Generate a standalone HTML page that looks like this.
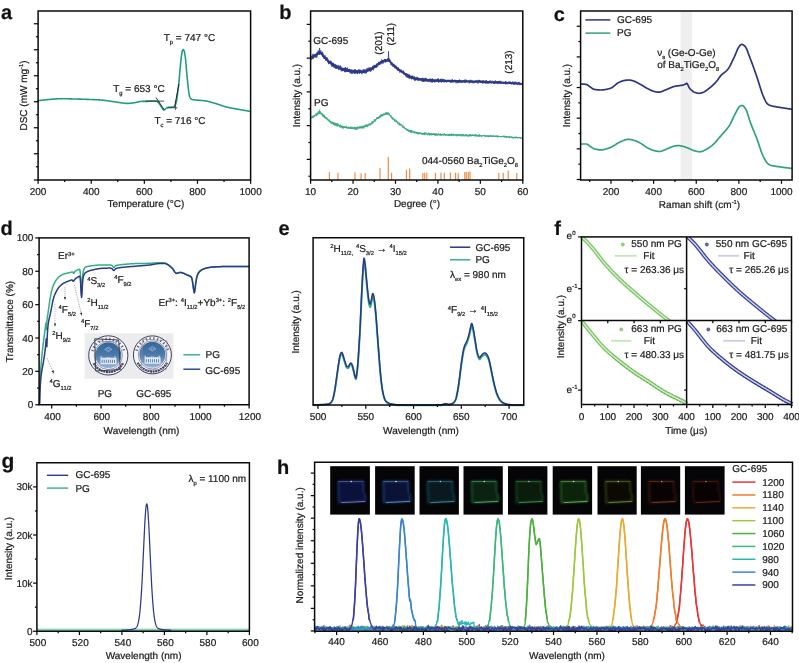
<!DOCTYPE html>
<html lang="en">
<head>
<meta charset="utf-8">
<title>Figure</title>
<style>
html,body{margin:0;padding:0;background:#ffffff;}
body{width:799px;height:663px;overflow:hidden;}
svg{display:block;font-family:"Liberation Sans",sans-serif;will-change:transform;}
svg text{font-family:"Liberation Sans",sans-serif;text-rendering:geometricPrecision;stroke:#1c1c1c;stroke-width:0.22px;}
</style>
</head>
<body>
<svg width="799" height="663" viewBox="0 0 799 663">
<rect x="0" y="0" width="799" height="663" fill="#ffffff"/>
<g>
<text x="1" y="18.8" font-size="20" text-anchor="start" fill="#141010" font-weight="bold" >a</text>
<polyline points="38.1,100.7 38.5,100.65 38.9,100.59 39.3,100.54 39.7,100.49 40.1,100.44 40.5,100.39 40.9,100.34 41.3,100.29 41.7,100.24 42.1,100.2 42.5,100.15 42.9,100.1 43.3,100.06 43.7,100.01 44.1,99.97 44.5,99.92 44.9,99.88 45.3,99.84 45.7,99.8 46.1,99.76 46.5,99.72 46.9,99.68 47.3,99.64 47.7,99.6 48.1,99.56 48.5,99.53 48.9,99.49 49.3,99.46 49.7,99.42 50.1,99.39 50.5,99.36 50.9,99.32 51.3,99.29 51.7,99.26 52.1,99.22 52.5,99.19 52.9,99.15 53.3,99.11 53.7,99.08 54.1,99.05 54.5,99.01 54.9,98.98 55.3,98.95 55.7,98.92 56.1,98.89 56.5,98.86 56.9,98.84 57.3,98.81 57.7,98.79 58.1,98.77 58.5,98.75 58.9,98.74 59.3,98.72 59.7,98.71 60.1,98.71 60.5,98.7 60.9,98.7 61.3,98.7 61.7,98.7 62.1,98.7 62.5,98.71 62.9,98.71 63.3,98.72 63.7,98.72 64.1,98.73 64.5,98.73 64.9,98.74 65.3,98.75 65.7,98.75 66.1,98.76 66.5,98.77 66.9,98.78 67.3,98.79 67.7,98.8 68.1,98.81 68.5,98.82 68.9,98.83 69.3,98.84 69.7,98.85 70.1,98.86 70.5,98.88 70.9,98.89 71.3,98.9 71.7,98.91 72.1,98.92 72.5,98.93 72.9,98.94 73.3,98.95 73.7,98.97 74.1,98.98 74.5,98.99 74.9,99 75.3,99.01 75.7,99.02 76.1,99.03 76.5,99.04 76.9,99.05 77.3,99.06 77.7,99.07 78.1,99.08 78.5,99.09 78.9,99.11 79.3,99.12 79.7,99.13 80.1,99.14 80.5,99.15 80.9,99.16 81.3,99.18 81.7,99.19 82.1,99.2 82.5,99.21 82.9,99.23 83.3,99.24 83.7,99.25 84.1,99.27 84.5,99.28 84.9,99.29 85.3,99.31 85.7,99.32 86.1,99.33 86.5,99.35 86.9,99.36 87.3,99.38 87.7,99.39 88.1,99.41 88.5,99.42 88.9,99.44 89.3,99.45 89.7,99.47 90.1,99.48 90.5,99.49 90.9,99.51 91.3,99.52 91.7,99.54 92.1,99.55 92.5,99.57 92.9,99.58 93.3,99.6 93.7,99.62 94.1,99.63 94.5,99.65 94.9,99.67 95.3,99.68 95.7,99.7 96.1,99.72 96.5,99.74 96.9,99.76 97.3,99.78 97.7,99.8 98.1,99.82 98.5,99.84 98.9,99.87 99.3,99.89 99.7,99.91 100.1,99.94 100.5,99.97 100.9,99.99 101.3,100.02 101.7,100.05 102.1,100.09 102.5,100.13 102.9,100.17 103.3,100.22 103.7,100.26 104.1,100.31 104.5,100.36 104.9,100.42 105.3,100.47 105.7,100.53 106.1,100.59 106.5,100.65 106.9,100.71 107.3,100.77 107.7,100.83 108.1,100.89 108.5,100.95 108.9,101.02 109.3,101.08 109.7,101.14 110.1,101.2 110.5,101.26 110.9,101.32 111.3,101.37 111.7,101.43 112.1,101.48 112.5,101.54 112.9,101.6 113.3,101.65 113.7,101.71 114.1,101.77 114.5,101.83 114.9,101.89 115.3,101.95 115.7,102 116.1,102.06 116.5,102.12 116.9,102.18 117.3,102.24 117.7,102.29 118.1,102.35 118.5,102.4 118.9,102.46 119.3,102.51 119.7,102.56 120.1,102.61 120.5,102.67 120.9,102.72 121.3,102.78 121.7,102.84 122.1,102.9 122.5,102.96 122.9,103.02 123.3,103.08 123.7,103.14 124.1,103.19 124.5,103.24 124.9,103.28 125.3,103.32 125.7,103.35 126.1,103.38 126.5,103.39 126.9,103.4 127.3,103.4 127.7,103.39 128.1,103.38 128.5,103.36 128.9,103.33 129.3,103.31 129.7,103.27 130.1,103.24 130.5,103.2 130.9,103.16 131.3,103.12 131.7,103.07 132.1,103.02 132.5,102.98 132.9,102.93 133.3,102.88 133.7,102.83 134.1,102.79 134.5,102.73 134.9,102.67 135.3,102.59 135.7,102.51 136.1,102.43 136.5,102.33 136.9,102.24 137.3,102.14 137.7,102.05 138.1,101.95 138.5,101.86 138.9,101.77 139.3,101.69 139.7,101.61 140.1,101.55 140.5,101.49 140.9,101.45 141.3,101.42 141.7,101.4 142.1,101.4 142.5,101.4 142.9,101.4 143.3,101.4 143.7,101.4 144.1,101.4 144.5,101.4 144.9,101.4 145.3,101.4 145.7,101.4 146.1,101.4 146.5,101.4 146.9,101.39 147.3,101.37 147.7,101.34 148.1,101.31 148.5,101.27 148.9,101.23 149.3,101.18 149.7,101.14 150.1,101.1 150.5,101.07 150.9,101.04 151.3,101.02 151.7,101 152.1,101 152.5,101 152.9,101 153.3,101.01 153.7,101.02 154.1,101.03 154.5,101.04 154.9,101.05 155.3,101.07 155.7,101.09 156.1,101.11 156.5,101.2 156.9,101.38 157.3,101.63 157.7,101.93 158.1,102.26 158.5,102.6 158.9,103.03 159.3,103.58 159.7,104.19 160.1,104.8 160.5,105.41 160.9,106.07 161.3,106.72 161.7,107.36 162.1,107.95 162.5,108.6 162.9,109.27 163.3,109.81 163.7,110.09 164.1,110.03 164.5,109.78 164.9,109.42 165.3,109.08 165.7,108.76 166.1,108.39 166.5,108.03 166.9,107.72 167.3,107.52 167.7,107.45 168.1,107.4 168.5,107.36 168.9,107.32 169.3,107.3 169.7,107.27 170.1,107.24 170.5,107.21 170.9,107.17 171.3,107.15 171.7,107.12 172.1,107.1 172.5,107.07 172.9,107.04 173.3,106.99 173.7,106.94 174.1,106.82 174.5,106.46 174.9,105.89 175.3,105.19 175.7,104.27 176.1,102.87 176.5,101.12 176.9,98.69 177.3,95.76 177.7,92.76 178.1,89.71 178.5,86.42 178.9,82.71 179.3,78.22 179.7,73.41 180.1,68.92 180.5,64.57 180.9,60.45 181.3,57 181.7,54.07 182.1,51.72 182.5,50.5 182.9,49.72 183.3,49.52 183.7,49.96 184.1,50.77 184.5,52.04 184.9,54.24 185.3,57 185.7,60.7 186.1,65.37 186.5,70 186.9,74.35 187.3,78.69 187.7,82.76 188.1,86.45 188.5,89.85 188.9,92.64 189.3,95.04 189.7,96.7 190.1,97.62 190.5,98.27 190.9,98.69 191.3,99 191.7,99.25 192.1,99.45 192.5,99.58 192.9,99.66 193.3,99.73 193.7,99.79 194.1,99.85 194.5,99.89 194.9,99.94 195.3,99.97 195.7,100.01 196.1,100.04 196.5,100.07 196.9,100.1 197.3,100.14 197.7,100.17 198.1,100.21 198.5,100.25 198.9,100.28 199.3,100.32 199.7,100.35 200.1,100.38 200.5,100.41 200.9,100.44 201.3,100.47 201.7,100.5 202.1,100.53 202.5,100.56 202.9,100.6 203.3,100.64 203.7,100.68 204.1,100.72 204.5,100.76 204.9,100.81 205.3,100.87 205.7,100.93 206.1,101 206.5,101.07 206.9,101.15 207.3,101.23 207.7,101.32 208.1,101.41 208.5,101.51 208.9,101.61 209.3,101.71 209.7,101.82 210.1,101.93 210.5,102.04 210.9,102.15 211.3,102.26 211.7,102.38 212.1,102.49 212.5,102.61 212.9,102.72 213.3,102.84 213.7,102.95 214.1,103.06 214.5,103.17 214.9,103.28 215.3,103.4 215.7,103.52 216.1,103.64 216.5,103.76 216.9,103.89 217.3,104.02 217.7,104.15 218.1,104.28 218.5,104.42 218.9,104.56 219.3,104.69 219.7,104.83 220.1,104.97 220.5,105.11 220.9,105.25 221.3,105.39 221.7,105.52 222.1,105.66 222.5,105.8 222.9,105.93 223.3,106.06 223.7,106.19 224.1,106.32 224.5,106.45 224.9,106.57 225.3,106.69 225.7,106.81 226.1,106.92 226.5,107.03 226.9,107.13 227.3,107.23 227.7,107.32 228.1,107.41 228.5,107.5 228.9,107.59 229.3,107.68 229.7,107.76 230.1,107.84 230.5,107.92 230.9,108 231.3,108.08 231.7,108.16 232.1,108.23 232.5,108.3 232.9,108.38 233.3,108.45 233.7,108.52 234.1,108.59 234.5,108.66 234.9,108.73 235.3,108.79 235.7,108.86 236.1,108.93 236.5,109 236.9,109.06 237.3,109.13 237.7,109.2 238.1,109.27 238.5,109.33 238.9,109.4 239.3,109.47 239.7,109.54 240.1,109.61 240.5,109.68 240.9,109.75 241.3,109.82 241.7,109.9 242.1,109.97 242.5,110.04 242.9,110.11 243.3,110.18 243.7,110.25 244.1,110.32 244.5,110.39 244.9,110.46 245.3,110.53 245.7,110.6 246.1,110.67 246.5,110.74 246.9,110.8 247.3,110.87 247.7,110.94 248.1,111.01 248.5,111.08 248.9,111.15 249.3,111.21 249.7,111.28 250.1,111.35" fill="none" stroke="#1f9f7f" stroke-width="1.6" stroke-linejoin="round" stroke-linecap="round" />
<line x1="145.5" y1="101.1" x2="164.2" y2="101.1" stroke="#222" stroke-width="0.8" />
<line x1="156" y1="97.5" x2="164.2" y2="109.7" stroke="#222" stroke-width="0.9" />
<line x1="167.4" y1="107.8" x2="177.4" y2="107.8" stroke="#222" stroke-width="0.8" />
<line x1="175.6" y1="105.6" x2="175.6" y2="110" stroke="#222" stroke-width="0.7" />
<line x1="174.7" y1="106.5" x2="178.9" y2="84" stroke="#222" stroke-width="1.0" />
<rect x="38.1" y="11" width="212.5" height="169" fill="none" stroke="#0a0a0a" stroke-width="1.5"/>
<line x1="33.9" y1="23.75" x2="38.1" y2="23.75" stroke="#0a0a0a" stroke-width="1.25" />
<line x1="33.9" y1="49.75" x2="38.1" y2="49.75" stroke="#0a0a0a" stroke-width="1.25" />
<line x1="33.9" y1="75.75" x2="38.1" y2="75.75" stroke="#0a0a0a" stroke-width="1.25" />
<line x1="33.9" y1="101.75" x2="38.1" y2="101.75" stroke="#0a0a0a" stroke-width="1.25" />
<line x1="33.9" y1="127.75" x2="38.1" y2="127.75" stroke="#0a0a0a" stroke-width="1.25" />
<line x1="33.9" y1="153.75" x2="38.1" y2="153.75" stroke="#0a0a0a" stroke-width="1.25" />
<line x1="33.9" y1="180" x2="38.1" y2="180" stroke="#0a0a0a" stroke-width="1.25" />
<line x1="35.9" y1="36.75" x2="38.1" y2="36.75" stroke="#0a0a0a" stroke-width="1.25" />
<line x1="35.9" y1="62.75" x2="38.1" y2="62.75" stroke="#0a0a0a" stroke-width="1.25" />
<line x1="35.9" y1="88.75" x2="38.1" y2="88.75" stroke="#0a0a0a" stroke-width="1.25" />
<line x1="35.9" y1="114.75" x2="38.1" y2="114.75" stroke="#0a0a0a" stroke-width="1.25" />
<line x1="35.9" y1="140.75" x2="38.1" y2="140.75" stroke="#0a0a0a" stroke-width="1.25" />
<line x1="35.9" y1="166.75" x2="38.1" y2="166.75" stroke="#0a0a0a" stroke-width="1.25" />
<line x1="38.1" y1="180" x2="38.1" y2="183.8" stroke="#0a0a0a" stroke-width="1.25" />
<line x1="91.22" y1="180" x2="91.22" y2="183.8" stroke="#0a0a0a" stroke-width="1.25" />
<line x1="144.35" y1="180" x2="144.35" y2="183.8" stroke="#0a0a0a" stroke-width="1.25" />
<line x1="197.47" y1="180" x2="197.47" y2="183.8" stroke="#0a0a0a" stroke-width="1.25" />
<line x1="250.6" y1="180" x2="250.6" y2="183.8" stroke="#0a0a0a" stroke-width="1.25" />
<line x1="64.66" y1="180" x2="64.66" y2="182" stroke="#0a0a0a" stroke-width="1.25" />
<line x1="117.79" y1="180" x2="117.79" y2="182" stroke="#0a0a0a" stroke-width="1.25" />
<line x1="170.91" y1="180" x2="170.91" y2="182" stroke="#0a0a0a" stroke-width="1.25" />
<line x1="224.04" y1="180" x2="224.04" y2="182" stroke="#0a0a0a" stroke-width="1.25" />
<text x="38.1" y="194.7" font-size="10.0" text-anchor="middle" fill="#1c1c1c" >200</text>
<text x="91.22" y="194.7" font-size="10.0" text-anchor="middle" fill="#1c1c1c" >400</text>
<text x="144.35" y="194.7" font-size="10.0" text-anchor="middle" fill="#1c1c1c" >600</text>
<text x="197.47" y="194.7" font-size="10.0" text-anchor="middle" fill="#1c1c1c" >800</text>
<text x="250.6" y="194.7" font-size="10.0" text-anchor="middle" fill="#1c1c1c" >1000</text>
<text x="146" y="207.3" font-size="10.0" text-anchor="middle" fill="#1c1c1c" >Temperature (°C)</text>
<text x="26.6" y="95.5" font-size="10.0" text-anchor="middle" fill="#1c1c1c" transform="rotate(-90 26.6 95.5)" >DSC (mW mg<tspan font-size="5.8" dy="-3.8">-1</tspan><tspan dy="3.8" font-size="1">&#8203;</tspan>)</text>
<text x="113.2" y="91.9" font-size="10.0" text-anchor="start" fill="#1c1c1c" >T<tspan font-size="5.8" dy="3">g</tspan><tspan dy="-3" font-size="1">&#8203;</tspan> = 653 °C</text>
<text x="163.7" y="41.1" font-size="10.0" text-anchor="start" fill="#1c1c1c" >T<tspan font-size="5.8" dy="3">p</tspan><tspan dy="-3" font-size="1">&#8203;</tspan> = 747 °C</text>
<text x="154.4" y="124.4" font-size="10.0" text-anchor="start" fill="#1c1c1c" >T<tspan font-size="5.8" dy="3">c</tspan><tspan dy="-3" font-size="1">&#8203;</tspan> = 716 °C</text>
</g>
<g>
<text x="279.2" y="18.8" font-size="20" text-anchor="start" fill="#141010" font-weight="bold" >b</text>
<line x1="329.4" y1="180" x2="329.4" y2="172.2" stroke="#e98a45" stroke-width="1.15" />
<line x1="338" y1="180" x2="338" y2="172.7" stroke="#e98a45" stroke-width="1.15" />
<line x1="355" y1="180" x2="355" y2="172.2" stroke="#e98a45" stroke-width="1.15" />
<line x1="361.1" y1="180" x2="361.1" y2="173.3" stroke="#e98a45" stroke-width="1.15" />
<line x1="365.2" y1="180" x2="365.2" y2="173" stroke="#e98a45" stroke-width="1.15" />
<line x1="380" y1="180" x2="380" y2="168.1" stroke="#e98a45" stroke-width="1.15" />
<line x1="388.3" y1="180" x2="388.3" y2="156.7" stroke="#e98a45" stroke-width="1.15" />
<line x1="391.6" y1="180" x2="391.6" y2="172.7" stroke="#e98a45" stroke-width="1.15" />
<line x1="406.4" y1="180" x2="406.4" y2="169.7" stroke="#e98a45" stroke-width="1.15" />
<line x1="409.7" y1="180" x2="409.7" y2="168.6" stroke="#e98a45" stroke-width="1.15" />
<line x1="422.9" y1="180" x2="422.9" y2="173" stroke="#e98a45" stroke-width="1.15" />
<line x1="424.7" y1="180" x2="424.7" y2="173" stroke="#e98a45" stroke-width="1.15" />
<line x1="426.8" y1="180" x2="426.8" y2="172.7" stroke="#e98a45" stroke-width="1.15" />
<line x1="435.4" y1="180" x2="435.4" y2="172.7" stroke="#e98a45" stroke-width="1.15" />
<line x1="441" y1="180" x2="441" y2="172.5" stroke="#e98a45" stroke-width="1.15" />
<line x1="444.3" y1="180" x2="444.3" y2="172.7" stroke="#e98a45" stroke-width="1.15" />
<line x1="450.4" y1="180" x2="450.4" y2="172.2" stroke="#e98a45" stroke-width="1.15" />
<line x1="455.6" y1="180" x2="455.6" y2="172.7" stroke="#e98a45" stroke-width="1.15" />
<line x1="458.2" y1="180" x2="458.2" y2="173" stroke="#e98a45" stroke-width="1.15" />
<line x1="464.8" y1="180" x2="464.8" y2="171.9" stroke="#e98a45" stroke-width="1.15" />
<line x1="466.3" y1="180" x2="466.3" y2="172" stroke="#e98a45" stroke-width="1.15" />
<line x1="468.3" y1="180" x2="468.3" y2="171.9" stroke="#e98a45" stroke-width="1.15" />
<line x1="470" y1="180" x2="470" y2="171.4" stroke="#e98a45" stroke-width="1.15" />
<line x1="498.8" y1="180" x2="498.8" y2="173" stroke="#e98a45" stroke-width="1.15" />
<line x1="503.2" y1="180" x2="503.2" y2="172.7" stroke="#e98a45" stroke-width="1.15" />
<line x1="508.2" y1="180" x2="508.2" y2="170.5" stroke="#e98a45" stroke-width="1.15" />
<line x1="516.8" y1="180" x2="516.8" y2="173" stroke="#e98a45" stroke-width="1.15" />
<polygon points="311.2,56 311.8,55.73 312.4,55.44 313,55.13 313.6,54.81 314.2,54.48 314.8,54.13 315.4,53.77 316,53.37 316.6,52.96 317.2,52.53 317.8,52.11 318.4,51.67 319,51.12 319.6,50.83 320.2,51.09 320.8,51.65 321.4,52.21 322,52.78 322.6,53.41 323.2,54.08 323.8,54.77 324.4,55.47 325,56.16 325.6,56.83 326.2,57.45 326.8,58.05 327.4,58.65 328,59.24 328.6,59.82 329.2,60.38 329.8,60.91 330.4,61.41 331,61.87 331.6,62.29 332.2,62.71 332.8,63.11 333.4,63.49 334,63.86 334.6,64.21 335.2,64.55 335.8,64.87 336.4,65.17 337,65.46 337.6,65.73 338.2,65.99 338.8,66.24 339.4,66.49 340,66.73 340.6,66.96 341.2,67.18 341.8,67.39 342.4,67.58 343,67.77 343.6,67.95 344.2,68.11 344.8,68.26 345.4,68.41 346,68.54 346.6,68.68 347.2,68.81 347.8,68.93 348.4,69.06 349,69.17 349.6,69.28 350.2,69.39 350.8,69.48 351.4,69.57 352,69.65 352.6,69.73 353.2,69.79 353.8,69.84 354.4,69.89 355,69.93 355.6,69.98 356.2,70.02 356.8,70.06 357.4,70.1 358,70.14 358.6,70.17 359.2,70.2 359.8,70.22 360.4,70.24 361,70.26 361.6,70.27 362.2,70.27 362.8,70.24 363.4,70.18 364,70.09 364.6,69.98 365.2,69.84 365.8,69.68 366.4,69.5 367,69.31 367.6,69.11 368.2,68.89 368.8,68.68 369.4,68.45 370,68.23 370.6,68 371.2,67.72 371.8,67.4 372.4,67.05 373,66.68 373.6,66.29 374.2,65.88 374.8,65.46 375.4,65.04 376,64.62 376.6,64.22 377.2,63.79 377.8,63.31 378.4,62.81 379,62.31 379.6,61.82 380.2,61.37 380.8,60.98 381.4,60.68 382,60.43 382.6,60.21 383.2,60 383.8,59.81 384.4,59.64 385,59.5 385.6,59.37 386.2,59.28 386.8,59.2 387.4,59.13 388,59.08 388.6,59.06 389.2,59.32 389.8,59.96 390.4,60.77 391,61.55 391.6,62.16 392.2,62.76 392.8,63.36 393.4,63.95 394,64.52 394.6,65.08 395.2,65.61 395.8,66.12 396.4,66.6 397,67.05 397.6,67.48 398.2,67.9 398.8,68.3 399.4,68.7 400,69.09 400.6,69.48 401.2,69.87 401.8,70.26 402.4,70.67 403,71.08 403.6,71.52 404.2,71.98 404.8,72.43 405.4,72.89 406,73.32 406.6,73.74 407.2,74.12 407.8,74.47 408.4,74.77 409,75.06 409.6,75.34 410.2,75.62 410.8,75.88 411.4,76.13 412,76.38 412.6,76.61 413.2,76.82 413.8,77.02 414.4,77.2 415,77.37 415.6,77.51 416.2,77.63 416.8,77.74 417.4,77.83 418,77.93 418.6,78.01 419.2,78.09 419.8,78.17 420.4,78.24 421,78.3 421.6,78.36 422.2,78.42 422.8,78.48 423.4,78.54 424,78.59 424.6,78.64 425.2,78.7 425.8,78.75 426.4,78.8 427,78.84 427.6,78.89 428.2,78.94 428.8,78.98 429.4,79.02 430,79.06 430.6,79.1 431.2,79.13 431.8,79.17 432.4,79.2 433,79.23 433.6,79.26 434.2,79.28 434.8,79.31 435.4,79.34 436,79.36 436.6,79.39 437.2,79.41 437.8,79.44 438.4,79.46 439,79.49 439.6,79.51 440.2,79.53 440.8,79.55 441.4,79.57 442,79.6 442.6,79.62 443.2,79.64 443.8,79.66 444.4,79.68 445,79.7 445.6,79.72 446.2,79.74 446.8,79.76 447.4,79.77 448,79.79 448.6,79.81 449.2,79.83 449.8,79.85 450.4,79.86 451,79.88 451.6,79.9 452.2,79.92 452.8,79.94 453.4,79.95 454,79.97 454.6,79.99 455.2,80.01 455.8,80.02 456.4,80.04 457,80.06 457.6,80.08 458.2,80.09 458.8,80.11 459.4,80.13 460,80.15 460.6,80.17 461.2,80.18 461.8,80.2 462.4,80.22 463,80.24 463.6,80.26 464.2,80.28 464.8,80.3 465.4,80.32 466,80.34 466.6,80.36 467.2,80.38 467.8,80.4 468.4,80.42 469,80.44 469.6,80.46 470.2,80.48 470.8,80.5 471.4,80.52 472,80.53 472.6,80.55 473.2,80.57 473.8,80.59 474.4,80.61 475,80.63 475.6,80.65 476.2,80.66 476.8,80.68 477.4,80.7 478,80.72 478.6,80.74 479.2,80.76 479.8,80.78 480.4,80.8 481,80.81 481.6,80.83 482.2,80.85 482.8,80.87 483.4,80.89 484,80.91 484.6,80.93 485.2,80.95 485.8,80.97 486.4,80.99 487,81.01 487.6,81.03 488.2,81.05 488.8,81.07 489.4,81.09 490,81.12 490.6,81.14 491.2,81.16 491.8,81.18 492.4,81.21 493,81.23 493.6,81.25 494.2,81.28 494.8,81.3 495.4,81.33 496,81.35 496.6,81.38 497.2,81.4 497.8,81.43 498.4,81.45 499,81.48 499.6,81.51 500.2,81.54 500.8,81.57 501.4,81.6 502,81.63 502.6,81.66 503.2,81.69 503.8,81.72 504.4,81.75 505,81.79 505.6,81.82 506.2,81.85 506.8,81.89 507.4,81.92 508,81.96 508.6,82 509.2,82.03 509.8,82.07 510.4,82.11 511,82.14 511.6,82.18 512.2,82.22 512.8,82.26 513.4,82.3 514,82.34 514.6,82.38 515.2,82.41 515.8,82.46 516.4,82.5 517,82.54 517.6,82.58 518.2,82.62 518.8,82.66 519.4,82.7 520,82.74 520.6,82.79 521.2,82.83 521.8,82.87 522.1,84.69 521.5,84.65 520.9,84.62 520.3,84.58 519.7,84.54 519.1,84.5 518.5,84.46 517.9,84.43 517.3,84.39 516.7,84.35 516.1,84.32 515.5,84.28 514.9,84.24 514.3,84.21 513.7,84.17 513.1,84.14 512.5,84.1 511.9,84.07 511.3,84.03 510.7,84 510.1,83.97 509.5,83.93 508.9,83.9 508.3,83.87 507.7,83.84 507.1,83.81 506.5,83.78 505.9,83.75 505.3,83.72 504.7,83.69 504.1,83.66 503.5,83.63 502.9,83.6 502.3,83.57 501.7,83.55 501.1,83.52 500.5,83.5 499.9,83.47 499.3,83.45 498.7,83.42 498.1,83.4 497.5,83.38 496.9,83.36 496.3,83.33 495.7,83.31 495.1,83.29 494.5,83.27 493.9,83.25 493.3,83.23 492.7,83.21 492.1,83.19 491.5,83.17 490.9,83.16 490.3,83.14 489.7,83.12 489.1,83.1 488.5,83.09 487.9,83.07 487.3,83.05 486.7,83.04 486.1,83.02 485.5,83 484.9,82.99 484.3,82.97 483.7,82.96 483.1,82.94 482.5,82.92 481.9,82.91 481.3,82.89 480.7,82.88 480.1,82.86 479.5,82.85 478.9,82.83 478.3,82.82 477.7,82.81 477.1,82.79 476.5,82.78 475.9,82.76 475.3,82.75 474.7,82.73 474.1,82.72 473.5,82.7 472.9,82.69 472.3,82.67 471.7,82.66 471.1,82.64 470.5,82.63 469.9,82.61 469.3,82.6 468.7,82.58 468.1,82.57 467.5,82.55 466.9,82.54 466.3,82.52 465.7,82.51 465.1,82.49 464.5,82.47 463.9,82.46 463.3,82.44 462.7,82.43 462.1,82.41 461.5,82.4 460.9,82.38 460.3,82.37 459.7,82.35 459.1,82.34 458.5,82.32 457.9,82.31 457.3,82.3 456.7,82.28 456.1,82.27 455.5,82.26 454.9,82.24 454.3,82.23 453.7,82.22 453.1,82.2 452.5,82.19 451.9,82.18 451.3,82.16 450.7,82.15 450.1,82.13 449.5,82.12 448.9,82.11 448.3,82.09 447.7,82.08 447.1,82.06 446.5,82.05 445.9,82.03 445.3,82.02 444.7,82 444.1,81.99 443.5,81.97 442.9,81.95 442.3,81.94 441.7,81.92 441.1,81.9 440.5,81.88 439.9,81.87 439.3,81.85 438.7,81.83 438.1,81.81 437.5,81.79 436.9,81.77 436.3,81.75 435.7,81.72 435.1,81.7 434.5,81.68 433.9,81.65 433.3,81.63 432.7,81.61 432.1,81.58 431.5,81.55 430.9,81.52 430.3,81.49 429.7,81.45 429.1,81.42 428.5,81.38 427.9,81.34 427.3,81.3 426.7,81.25 426.1,81.21 425.5,81.16 424.9,81.11 424.3,81.07 423.7,81.02 423.1,80.97 422.5,80.91 421.9,80.86 421.3,80.8 420.7,80.74 420.1,80.68 419.5,80.61 418.9,80.54 418.3,80.46 417.7,80.37 417.1,80.28 416.5,80.19 415.9,80.08 415.3,79.95 414.7,79.8 414.1,79.63 413.5,79.44 412.9,79.24 412.3,79.02 411.7,78.79 411.1,78.55 410.5,78.29 409.9,78.02 409.3,77.75 408.7,77.47 408.1,77.18 407.5,76.86 406.9,76.5 406.3,76.1 405.7,75.68 405.1,75.24 404.5,74.79 403.9,74.33 403.3,73.89 402.7,73.47 402.1,73.06 401.5,72.66 400.9,72.28 400.3,71.89 399.7,71.51 399.1,71.12 398.5,70.72 397.9,70.32 397.3,69.9 396.7,69.46 396.1,69 395.5,68.51 394.9,67.99 394.3,67.45 393.7,66.89 393.1,66.31 392.5,65.72 391.9,65.13 391.3,64.53 390.7,63.85 390.1,63.03 389.5,62.28 388.9,61.81 388.3,61.75 387.7,61.79 387.1,61.86 386.5,61.94 385.9,62.03 385.3,62.14 384.7,62.28 384.1,62.44 383.5,62.63 382.9,62.83 382.3,63.05 381.7,63.28 381.1,63.55 380.5,63.91 379.9,64.33 379.3,64.81 378.7,65.31 378.1,65.82 377.5,66.31 376.9,66.77 376.3,67.19 375.7,67.6 375.1,68.03 374.5,68.45 373.9,68.87 373.3,69.27 372.7,69.66 372.1,70.03 371.5,70.36 370.9,70.67 370.3,70.93 369.7,71.15 369.1,71.38 368.5,71.6 367.9,71.82 367.3,72.04 366.7,72.24 366.1,72.43 365.5,72.6 364.9,72.75 364.3,72.89 363.7,72.99 363.1,73.07 362.5,73.12 361.9,73.13 361.3,73.13 360.7,73.12 360.1,73.11 359.5,73.09 358.9,73.07 358.3,73.04 357.7,73.01 357.1,72.98 356.5,72.94 355.9,72.9 355.3,72.86 354.7,72.82 354.1,72.78 353.5,72.74 352.9,72.68 352.3,72.62 351.7,72.55 351.1,72.47 350.5,72.38 349.9,72.28 349.3,72.18 348.7,72.07 348.1,71.95 347.5,71.83 346.9,71.71 346.3,71.58 345.7,71.45 345.1,71.31 344.5,71.17 343.9,71.02 343.3,70.85 342.7,70.67 342.1,70.48 341.5,70.28 340.9,70.07 340.3,69.85 339.7,69.62 339.1,69.38 338.5,69.14 337.9,68.89 337.3,68.62 336.7,68.35 336.1,68.06 335.5,67.75 334.9,67.42 334.3,67.08 333.7,66.73 333.1,66.35 332.5,65.97 331.9,65.56 331.3,65.15 330.7,64.71 330.1,64.24 329.5,63.73 328.9,63.18 328.3,62.62 327.7,62.04 327.1,61.44 326.5,60.85 325.9,60.25 325.3,59.61 324.7,58.93 324.1,58.24 323.5,57.55 322.9,56.87 322.3,56.22 321.7,55.62 321.1,55.08 320.5,54.49 319.9,54.04 319.3,54.06 318.7,54.54 318.1,55.05 317.5,55.48 316.9,55.91 316.3,56.33 315.7,56.74 315.1,57.13 314.5,57.48 313.9,57.83 313.3,58.16 312.7,58.48 312.1,58.78 311.5,59.06" fill="#2f3a86"/>
<polyline points="311.2,58.35 311.5,59.85 311.8,58.98 312.1,55.54 312.4,55.84 312.7,59.12 313,53.77 313.3,58.49 313.6,58.18 313.9,56.05 314.2,54.89 314.5,54.57 314.8,54.26 315.1,55.21 315.4,55.38 315.7,55.48 316,57.9 316.3,56.49 316.6,55.27 316.9,57.23 317.2,52.43 317.5,51.89 317.8,54.35 318.1,50.77 318.4,50.5 318.7,53.05 319,52.49 319.3,54.94 319.6,53.16 319.9,52.55 320.2,52.64 320.5,51.44 320.8,50.35 321.1,51.7 321.4,54.9 321.7,52.3 322,53.58 322.3,51.75 322.6,56.91 322.9,53.28 323.2,54.28 323.5,58.21 323.8,56.39 324.1,58.71 324.4,57.85 324.7,58.79 325,55.34 325.3,58.29 325.6,58.42 325.9,60.86 326.2,58.19 326.5,59.87 326.8,57.04 327.1,59.24 327.4,59.17 327.7,58.46 328,62.62 328.3,60.38 328.6,64.13 328.9,62.16 329.2,62.53 329.5,62.98 329.8,63.47 330.1,60.69 330.4,62.6 330.7,61.68 331,62.84 331.3,61.29 331.6,66.52 331.9,62.4 332.2,65.22 332.5,63.29 332.8,66.78 333.1,65.76 333.4,62.91 333.7,67.18 334,67.93 334.3,67.87 334.6,66.13 334.9,63.88 335.2,64.31 335.5,68.67 335.8,66.69 336.1,64.72 336.4,68.87 336.7,67.64 337,67.37 337.3,66.41 337.6,66.74 337.9,65.9 338.2,64.88 338.5,69.76 338.8,67.57 339.1,68.15 339.4,66.99 339.7,69.54 340,65.55 340.3,67.63 340.6,65.81 340.9,66.44 341.2,71.31 341.5,69.67 341.8,68.48 342.1,69.12 342.4,71.17 342.7,68.3 343,69.77 343.3,70.39 343.6,68.63 343.9,69.63 344.2,71.09 344.5,71.97 344.8,67.8 345.1,72.24 345.4,67.13 345.7,71.37 346,71.76 346.3,68.07 346.6,69.71 346.9,71.98 347.2,67.59 347.5,71.06 347.8,72.04 348.1,70.55 348.4,71.78 348.7,69.08 349,68.98 349.3,69.95 349.6,68.98 349.9,69.96 350.2,73.33 350.5,71.31 350.8,70.07 351.1,69.74 351.4,73.53 351.7,70.78 352,73.76 352.3,71.24 352.6,71.31 352.9,73.4 353.2,72.58 353.5,71.72 353.8,70.9 354.1,73.39 354.4,70.86 354.7,73.68 355,69.03 355.3,71.03 355.6,71.54 355.9,73.91 356.2,70.12 356.5,73.16 356.8,72.47 357.1,72.71 357.4,72.25 357.7,74.13 358,70.68 358.3,71.05 358.6,70 358.9,69.2 359.2,70.09 359.5,73.9 359.8,73.5 360.1,69.58 360.4,72.24 360.7,71.57 361,72.2 361.3,72.55 361.6,70.66 361.9,74.18 362.2,71.51 362.5,72.38 362.8,72.39 363.1,69.95 363.4,69.26 363.7,71.09 364,72.93 364.3,73.15 364.6,72.63 364.9,69.27 365.2,73.46 365.5,72.79 365.8,73.11 366.1,71.13 366.4,73.13 366.7,68.41 367,68.23 367.3,68.08 367.6,69.21 367.9,69.08 368.2,68.65 368.5,70.55 368.8,67.65 369.1,70.45 369.4,68.1 369.7,70.69 370,67.11 370.3,68.52 370.6,71.71 370.9,69.47 371.2,70.76 371.5,69.79 371.8,69.38 372.1,67.01 372.4,68.84 372.7,65.85 373,69.65 373.3,70.29 373.6,69.53 373.9,65.13 374.2,66.43 374.5,66.11 374.8,64.83 375.1,67.3 375.4,67.98 375.7,65.25 376,67.9 376.3,67.35 376.6,63.67 376.9,66.78 377.2,67.15 377.5,63.36 377.8,65.07 378.1,65.16 378.4,64.75 378.7,61.85 379,64.51 379.3,64.12 379.6,64.86 379.9,64.53 380.2,61.85 380.5,63.68 380.8,64.24 381.1,64.21 381.4,60.3 381.7,59.49 382,62.57 382.3,60.22 382.6,61.9 382.9,63.74 383.2,60.75 383.5,60 383.8,60.95 384.1,61.89 384.4,58.97 384.7,60.32 385,58.99 385.3,61.61 385.6,62.41 385.9,60.05 386.2,59.98 386.5,60.79 386.8,59.1 387.1,59.23 387.4,59.61 387.7,60.23 388,58.31 388.3,61.68 388.6,60.8 388.9,59.46 389.2,58.53 389.5,62.27 389.8,59.44 390.1,59.85 390.4,60.26 390.7,60.41 391,64.92 391.3,62.04 391.6,62.53 391.9,65.46 392.2,64.69 392.5,62.83 392.8,64.36 393.1,66.9 393.4,64.65 393.7,66.61 394,63.84 394.3,67.26 394.6,67.78 394.9,68.29 395.2,67.8 395.5,66.55 395.8,65.28 396.1,67.77 396.4,69.19 396.7,66.61 397,67.21 397.3,68.76 397.6,70.02 397.9,70.96 398.2,67.37 398.5,67.86 398.8,71.09 399.1,70.52 399.4,71.09 399.7,72.64 400,72.55 400.3,72.27 400.6,72.14 400.9,70.46 401.2,71.86 401.5,69.82 401.8,72.83 402.1,73.02 402.4,73.04 402.7,71.9 403,71.79 403.3,72.21 403.6,70.55 403.9,74.71 404.2,73.47 404.5,72.95 404.8,73.96 405.1,75.02 405.4,73.6 405.7,75.99 406,76.64 406.3,74.28 406.6,73.28 406.9,76.47 407.2,77.78 407.5,73.89 407.8,76.77 408.1,77.46 408.4,78.07 408.7,74.38 409,74.38 409.3,78.81 409.6,74.78 409.9,75.21 410.2,77.24 410.5,76.76 410.8,78.34 411.1,75.8 411.4,79.38 411.7,76.18 412,78.92 412.3,75.7 412.6,77.74 412.9,75.76 413.2,77.2 413.5,77.29 413.8,79.32 414.1,78.16 414.4,76.36 414.7,80.88 415,80.46 415.3,80.66 415.6,77.57 415.9,78.33 416.2,77.6 416.5,77.17 416.8,76.79 417.1,79.05 417.4,77.31 417.7,77.61 418,80.86 418.3,79.14 418.6,77.78 418.9,80.09 419.2,78.24 419.5,79.49 419.8,78.39 420.1,79.51 420.4,80.07 420.7,79.67 421,79.05 421.3,80.92 421.6,81.33 421.9,78.14 422.2,77.97 422.5,77.89 422.8,81.93 423.1,81.78 423.4,78.52 423.7,81.96 424,78.47 424.3,79.87 424.6,79.85 424.9,81.8 425.2,77.81 425.5,79.09 425.8,80.42 426.1,78 426.4,78.81 426.7,79.88 427,81.8 427.3,81.27 427.6,81.61 427.9,81.32 428.2,81.09 428.5,81.76 428.8,81.02 429.1,81.28 429.4,79.33 429.7,78.74 430,81.43 430.3,78.77 430.6,82.2 430.9,80.76 431.2,79.56 431.5,82.32 431.8,78.81 432.1,80.45 432.4,78.56 432.7,82.5 433,80.76 433.3,81.8 433.6,79.47 433.9,81.82 434.2,81.38 434.5,81.13 434.8,82.52 435.1,80.21 435.4,80.15 435.7,81.39 436,82.04 436.3,79.83 436.6,81.33 436.9,79.29 437.2,80.83 437.5,81.8 437.8,78.69 438.1,81.64 438.4,78.49 438.7,82.68 439,80.52 439.3,80.27 439.6,81.66 439.9,80.8 440.2,81.72 440.5,78.88 440.8,81 441.1,80.99 441.4,82.64 441.7,78.73 442,80.56 442.3,81.35 442.6,81 442.9,78.93 443.2,81.21 443.5,79.6 443.8,79.49 444.1,82.48 444.4,79.52 444.7,80.65 445,81.94 445.3,81.76 445.6,81.1 445.9,82.21 446.2,80.74 446.5,81.42 446.8,82.29 447.1,81.68 447.4,81.53 447.7,80.53 448,81.19 448.3,80.5 448.6,82.01 448.9,80.45 449.2,80.83 449.5,82.08 449.8,81 450.1,80.3 450.4,82.4 450.7,80.5 451,82.49 451.3,82.25 451.6,80.81 451.9,81.95 452.2,79.07 452.5,80.59 452.8,82.6 453.1,81.41 453.4,81.33 453.7,81.79 454,81.85 454.3,81.46 454.6,80.78 454.9,79.78 455.2,80.25 455.5,80.26 455.8,80.85 456.1,83.25 456.4,80.54 456.7,80.94 457,80.63 457.3,81.52 457.6,83.07 457.9,82.83 458.2,80.69 458.5,80.24 458.8,82.83 459.1,81.2 459.4,82.01 459.7,79.47 460,82.78 460.3,80.48 460.6,81.25 460.9,80.02 461.2,80.96 461.5,82.66 461.8,82.66 462.1,81.2 462.4,82.43 462.7,81.16 463,80.81 463.3,81.54 463.6,80.12 463.9,80.61 464.2,82.22 464.5,82.49 464.8,79.57 465.1,82.36 465.4,82.71 465.7,81.19 466,79.64 466.3,82.18 466.6,80.41 466.9,82.04 467.2,80.96 467.5,82.03 467.8,80.5 468.1,81.39 468.4,81.6 468.7,82.04 469,80.31 469.3,83.4 469.6,80.68 469.9,80.76 470.2,80.57 470.5,79.81 470.8,81.26 471.1,82.67 471.4,82.43 471.7,80.37 472,80.14 472.3,80.89 472.6,82.69 472.9,81.58 473.2,83.33 473.5,82.27 473.8,82.13 474.1,82.73 474.4,82.67 474.7,81.05 475,80.72 475.3,81.44 475.6,81.66 475.9,80.29 476.2,81.48 476.5,82.28 476.8,80.29 477.1,80.31 477.4,80.46 477.7,80.9 478,83.59 478.3,79.91 478.6,80.54 478.9,80.47 479.2,81.7 479.5,79.9 479.8,81.65 480.1,80.5 480.4,80.93 480.7,82.99 481,80.62 481.3,82.32 481.6,81.5 481.9,81.55 482.2,83.12 482.5,80.57 482.8,83.55 483.1,83.44 483.4,82.57 483.7,80.18 484,82.57 484.3,82.33 484.6,83.01 484.9,80.86 485.2,83.72 485.5,83.47 485.8,80.51 486.1,81.29 486.4,80.21 486.7,83.29 487,83.62 487.3,83.91 487.6,82.47 487.9,82.69 488.2,82.75 488.5,82.34 488.8,83.81 489.1,82.5 489.4,81.48 489.7,82.16 490,80.3 490.3,82.98 490.6,82.88 490.9,81.85 491.2,83.49 491.5,83.14 491.8,81.57 492.1,80.6 492.4,80.82 492.7,81.03 493,81.49 493.3,82.04 493.6,83.85 493.9,81.43 494.2,83.76 494.5,82.95 494.8,83.61 495.1,81.94 495.4,80.46 495.7,83.39 496,81.39 496.3,81.02 496.6,83.47 496.9,83.06 497.2,81.32 497.5,81.54 497.8,84.03 498.1,81.57 498.4,83.18 498.7,81.08 499,83.62 499.3,81.06 499.6,82.54 499.9,80.79 500.2,82.69 500.5,83.8 500.8,81.02 501.1,81.73 501.4,83.53 501.7,82.97 502,81.91 502.3,83.08 502.6,82.46 502.9,83.96 503.2,81.9 503.5,83.6 503.8,83.17 504.1,83.57 504.4,82.27 504.7,83.54 505,83.46 505.3,82.35 505.6,81.07 505.9,84.46 506.2,83.58 506.5,81.76 506.8,83.67 507.1,82.06 507.4,82.76 507.7,84.18 508,82.72 508.3,82.17 508.6,82.25 508.9,81.45 509.2,81.98 509.5,82.18 509.8,81.85 510.1,81.48 510.4,82.92 510.7,82.05 511,83.92 511.3,84.59 511.6,82.31 511.9,83.39 512.2,83.18 512.5,81.67 512.8,81.87 513.1,84.56 513.4,83.13 513.7,84.31 514,81.75 514.3,83.61 514.6,84.58 514.9,84.6 515.2,81.62 515.5,83.43 515.8,82.92 516.1,84.3 516.4,81.93 516.7,82.62 517,84.54 517.3,83.37 517.6,83.33 517.9,85.13 518.2,82.91 518.5,81.97 518.8,83.2 519.1,82.4 519.4,82.18 519.7,83.86 520,85.21 520.3,83.94 520.6,84.19 520.9,83.11 521.2,83.97 521.5,84.61 521.8,84.08 522.1,84.82" fill="none" stroke="#2f3a86" stroke-width="0.8" stroke-linejoin="round" stroke-linecap="round" />
<polyline points="319.3,53 319.6,48 319.9,53" fill="none" stroke="#2f3a86" stroke-width="0.8" stroke-linejoin="round" stroke-linecap="round" />
<polyline points="388.2,60 388.5,51.4 388.8,60" fill="none" stroke="#2f3a86" stroke-width="0.8" stroke-linejoin="round" stroke-linecap="round" />
<polygon points="311.2,117.25 311.8,116.89 312.4,116.52 313,116.15 313.6,115.77 314.2,115.38 314.8,114.99 315.4,114.58 316,114.16 316.6,113.73 317.2,113.3 317.8,112.88 318.4,112.46 319,111.96 319.6,111.66 320.2,111.92 320.8,112.49 321.4,113.03 322,113.58 322.6,114.16 323.2,114.77 323.8,115.4 324.4,116.03 325,116.64 325.6,117.22 326.2,117.77 326.8,118.29 327.4,118.8 328,119.31 328.6,119.8 329.2,120.27 329.8,120.71 330.4,121.11 331,121.47 331.6,121.8 332.2,122.11 332.8,122.4 333.4,122.68 334,122.94 334.6,123.19 335.2,123.43 335.8,123.66 336.4,123.89 337,124.1 337.6,124.32 338.2,124.53 338.8,124.74 339.4,124.95 340,125.15 340.6,125.35 341.2,125.54 341.8,125.73 342.4,125.9 343,126.06 343.6,126.21 344.2,126.34 344.8,126.46 345.4,126.56 346,126.66 346.6,126.76 347.2,126.85 347.8,126.95 348.4,127.04 349,127.12 349.6,127.2 350.2,127.28 350.8,127.34 351.4,127.39 352,127.44 352.6,127.47 353.2,127.49 353.8,127.5 354.4,127.5 355,127.48 355.6,127.45 356.2,127.42 356.8,127.37 357.4,127.32 358,127.26 358.6,127.19 359.2,127.11 359.8,127.03 360.4,126.95 361,126.86 361.6,126.77 362.2,126.68 362.8,126.56 363.4,126.41 364,126.24 364.6,126.05 365.2,125.83 365.8,125.6 366.4,125.34 367,125.07 367.6,124.79 368.2,124.5 368.8,124.2 369.4,123.89 370,123.57 370.6,123.24 371.2,122.85 371.8,122.41 372.4,121.94 373,121.44 373.6,120.92 374.2,120.38 374.8,119.84 375.4,119.3 376,118.77 376.6,118.26 377.2,117.77 377.8,117.31 378.4,116.89 379,116.48 379.6,116.07 380.2,115.67 380.8,115.29 381.4,114.93 382,114.6 382.6,114.31 383.2,114.05 383.8,113.8 384.4,113.55 385,113.31 385.6,113.11 386.2,112.95 386.8,112.86 387.4,112.86 388,113.09 388.6,113.51 389.2,114.04 389.8,114.58 390.4,115.09 391,115.68 391.6,116.32 392.2,117 392.8,117.69 393.4,118.36 394,118.98 394.6,119.54 395.2,120.04 395.8,120.51 396.4,120.96 397,121.39 397.6,121.82 398.2,122.24 398.8,122.66 399.4,123.1 400,123.56 400.6,124.04 401.2,124.55 401.8,125.08 402.4,125.61 403,126.14 403.6,126.66 404.2,127.16 404.8,127.62 405.4,128.05 406,128.42 406.6,128.77 407.2,129.11 407.8,129.43 408.4,129.74 409,130.03 409.6,130.31 410.2,130.56 410.8,130.79 411.4,130.99 412,131.17 412.6,131.33 413.2,131.47 413.8,131.61 414.4,131.74 415,131.86 415.6,131.98 416.2,132.08 416.8,132.18 417.4,132.27 418,132.36 418.6,132.44 419.2,132.52 419.8,132.59 420.4,132.66 421,132.73 421.6,132.8 422.2,132.87 422.8,132.93 423.4,133 424,133.06 424.6,133.12 425.2,133.18 425.8,133.23 426.4,133.28 427,133.33 427.6,133.38 428.2,133.43 428.8,133.47 429.4,133.52 430,133.56 430.6,133.59 431.2,133.63 431.8,133.66 432.4,133.69 433,133.72 433.6,133.74 434.2,133.77 434.8,133.79 435.4,133.82 436,133.84 436.6,133.87 437.2,133.89 437.8,133.91 438.4,133.93 439,133.95 439.6,133.97 440.2,133.99 440.8,134.01 441.4,134.03 442,134.04 442.6,134.06 443.2,134.08 443.8,134.09 444.4,134.11 445,134.13 445.6,134.14 446.2,134.16 446.8,134.17 447.4,134.19 448,134.2 448.6,134.21 449.2,134.23 449.8,134.24 450.4,134.26 451,134.27 451.6,134.28 452.2,134.3 452.8,134.31 453.4,134.32 454,134.34 454.6,134.35 455.2,134.37 455.8,134.38 456.4,134.39 457,134.41 457.6,134.42 458.2,134.44 458.8,134.45 459.4,134.47 460,134.48 460.6,134.5 461.2,134.52 461.8,134.53 462.4,134.55 463,134.57 463.6,134.58 464.2,134.6 464.8,134.62 465.4,134.64 466,134.66 466.6,134.68 467.2,134.7 467.8,134.72 468.4,134.74 469,134.76 469.6,134.78 470.2,134.8 470.8,134.82 471.4,134.84 472,134.86 472.6,134.88 473.2,134.9 473.8,134.92 474.4,134.94 475,134.96 475.6,134.98 476.2,135 476.8,135.02 477.4,135.04 478,135.07 478.6,135.09 479.2,135.11 479.8,135.13 480.4,135.15 481,135.17 481.6,135.2 482.2,135.22 482.8,135.24 483.4,135.26 484,135.29 484.6,135.31 485.2,135.33 485.8,135.36 486.4,135.38 487,135.4 487.6,135.43 488.2,135.45 488.8,135.48 489.4,135.5 490,135.53 490.6,135.55 491.2,135.58 491.8,135.6 492.4,135.63 493,135.66 493.6,135.68 494.2,135.71 494.8,135.74 495.4,135.77 496,135.79 496.6,135.82 497.2,135.85 497.8,135.88 498.4,135.91 499,135.94 499.6,135.97 500.2,136 500.8,136.04 501.4,136.07 502,136.1 502.6,136.14 503.2,136.17 503.8,136.21 504.4,136.24 505,136.28 505.6,136.32 506.2,136.35 506.8,136.39 507.4,136.43 508,136.47 508.6,136.51 509.2,136.55 509.8,136.59 510.4,136.63 511,136.67 511.6,136.71 512.2,136.75 512.8,136.8 513.4,136.84 514,136.88 514.6,136.92 515.2,136.97 515.8,137.01 516.4,137.06 517,137.1 517.6,137.15 518.2,137.19 518.8,137.24 519.4,137.28 520,137.33 520.6,137.38 521.2,137.42 521.8,137.47 522.1,138.49 521.5,138.45 520.9,138.4 520.3,138.36 519.7,138.31 519.1,138.27 518.5,138.22 517.9,138.18 517.3,138.14 516.7,138.09 516.1,138.05 515.5,138.01 514.9,137.96 514.3,137.92 513.7,137.88 513.1,137.84 512.5,137.8 511.9,137.76 511.3,137.72 510.7,137.68 510.1,137.64 509.5,137.6 508.9,137.56 508.3,137.52 507.7,137.48 507.1,137.45 506.5,137.41 505.9,137.37 505.3,137.34 504.7,137.3 504.1,137.27 503.5,137.23 502.9,137.2 502.3,137.17 501.7,137.13 501.1,137.1 500.5,137.07 499.9,137.04 499.3,137.01 498.7,136.98 498.1,136.95 497.5,136.92 496.9,136.9 496.3,136.87 495.7,136.84 495.1,136.82 494.5,136.79 493.9,136.76 493.3,136.74 492.7,136.71 492.1,136.69 491.5,136.66 490.9,136.64 490.3,136.61 489.7,136.59 489.1,136.57 488.5,136.54 487.9,136.52 487.3,136.5 486.7,136.47 486.1,136.45 485.5,136.43 484.9,136.41 484.3,136.39 483.7,136.37 483.1,136.34 482.5,136.32 481.9,136.3 481.3,136.28 480.7,136.26 480.1,136.24 479.5,136.22 478.9,136.2 478.3,136.18 477.7,136.16 477.1,136.14 476.5,136.12 475.9,136.1 475.3,136.08 474.7,136.06 474.1,136.04 473.5,136.03 472.9,136.01 472.3,135.99 471.7,135.97 471.1,135.95 470.5,135.93 469.9,135.91 469.3,135.9 468.7,135.88 468.1,135.86 467.5,135.84 466.9,135.82 466.3,135.8 465.7,135.79 465.1,135.77 464.5,135.75 463.9,135.73 463.3,135.72 462.7,135.7 462.1,135.68 461.5,135.67 460.9,135.65 460.3,135.64 459.7,135.62 459.1,135.61 458.5,135.6 457.9,135.58 457.3,135.57 456.7,135.56 456.1,135.54 455.5,135.53 454.9,135.52 454.3,135.51 453.7,135.49 453.1,135.48 452.5,135.47 451.9,135.46 451.3,135.44 450.7,135.43 450.1,135.42 449.5,135.41 448.9,135.39 448.3,135.38 447.7,135.37 447.1,135.36 446.5,135.34 445.9,135.33 445.3,135.32 444.7,135.3 444.1,135.29 443.5,135.27 442.9,135.26 442.3,135.24 441.7,135.23 441.1,135.21 440.5,135.19 439.9,135.17 439.3,135.16 438.7,135.14 438.1,135.12 437.5,135.1 436.9,135.08 436.3,135.06 435.7,135.04 435.1,135.01 434.5,134.99 433.9,134.97 433.3,134.94 432.7,134.91 432.1,134.89 431.5,134.86 430.9,134.83 430.3,134.79 429.7,134.76 429.1,134.72 428.5,134.67 427.9,134.63 427.3,134.58 426.7,134.54 426.1,134.48 425.5,134.43 424.9,134.38 424.3,134.32 423.7,134.26 423.1,134.2 422.5,134.14 421.9,134.07 421.3,134.01 420.7,133.94 420.1,133.87 419.5,133.8 418.9,133.72 418.3,133.65 417.7,133.56 417.1,133.48 416.5,133.38 415.9,133.28 415.3,133.17 414.7,133.06 414.1,132.93 413.5,132.8 412.9,132.66 412.3,132.51 411.7,132.35 411.1,132.16 410.5,131.94 409.9,131.7 409.3,131.44 408.7,131.16 408.1,130.86 407.5,130.54 406.9,130.21 406.3,129.87 405.7,129.52 405.1,129.12 404.5,128.68 403.9,128.19 403.3,127.69 402.7,127.16 402.1,126.63 401.5,126.1 400.9,125.58 400.3,125.08 399.7,124.61 399.1,124.17 398.5,123.74 397.9,123.32 397.3,122.9 396.7,122.47 396.1,122.04 395.5,121.58 394.9,121.09 394.3,120.57 393.7,119.98 393.1,119.33 392.5,118.65 391.9,117.97 391.3,117.3 390.7,116.69 390.1,116.14 389.5,115.62 388.9,115.08 388.3,114.6 387.7,114.26 387.1,114.16 386.5,114.22 385.9,114.35 385.3,114.53 384.7,114.75 384.1,115 383.5,115.26 382.9,115.51 382.3,115.78 381.7,116.1 381.1,116.44 380.5,116.82 379.9,117.21 379.3,117.62 378.7,118.03 378.1,118.44 377.5,118.88 376.9,119.35 376.3,119.86 375.7,120.38 375.1,120.92 374.5,121.46 373.9,122 373.3,122.54 372.7,123.05 372.1,123.54 371.5,123.99 370.9,124.41 370.3,124.77 369.7,125.09 369.1,125.41 368.5,125.71 367.9,126.01 367.3,126.3 366.7,126.58 366.1,126.84 365.5,127.09 364.9,127.32 364.3,127.52 363.7,127.71 363.1,127.87 362.5,128 361.9,128.11 361.3,128.2 360.7,128.29 360.1,128.38 359.5,128.46 358.9,128.54 358.3,128.61 357.7,128.68 357.1,128.74 356.5,128.79 355.9,128.83 355.3,128.86 354.7,128.89 354.1,128.9 353.5,128.9 352.9,128.89 352.3,128.86 351.7,128.82 351.1,128.77 350.5,128.72 349.9,128.65 349.3,128.57 348.7,128.49 348.1,128.41 347.5,128.32 346.9,128.22 346.3,128.12 345.7,128.03 345.1,127.93 344.5,127.82 343.9,127.7 343.3,127.56 342.7,127.41 342.1,127.24 341.5,127.06 340.9,126.88 340.3,126.68 339.7,126.48 339.1,126.28 338.5,126.07 337.9,125.86 337.3,125.65 336.7,125.44 336.1,125.22 335.5,124.99 334.9,124.76 334.3,124.51 333.7,124.26 333.1,123.99 332.5,123.71 331.9,123.41 331.3,123.09 330.7,122.75 330.1,122.37 329.5,121.95 328.9,121.5 328.3,121.02 327.7,120.52 327.1,120.01 326.5,119.49 325.9,118.97 325.3,118.4 324.7,117.8 324.1,117.18 323.5,116.56 322.9,115.94 322.3,115.34 321.7,114.77 321.1,114.25 320.5,113.67 319.9,113.21 319.3,113.23 318.7,113.7 318.1,114.15 317.5,114.57 316.9,115.01 316.3,115.44 315.7,115.86 315.1,116.28 314.5,116.68 313.9,117.07 313.3,117.46 312.7,117.84 312.1,118.21 311.5,118.57" fill="#3aa97c"/>
<polyline points="311.2,118.19 311.5,116.67 311.8,117.95 312.1,117.42 312.4,116.01 312.7,117.54 313,118.1 313.3,115.33 313.6,116.69 313.9,117.21 314.2,115.76 314.5,115.06 314.8,115.25 315.1,115.69 315.4,116.03 315.7,115.34 316,113.43 316.3,115.89 316.6,116.07 316.9,112.76 317.2,113.11 317.5,112.61 317.8,114.93 318.1,114.94 318.4,111.49 318.7,112.33 319,111.55 319.3,112.37 319.6,113.98 319.9,110.87 320.2,111.44 320.5,112.88 320.8,113.32 321.1,114.43 321.4,113.54 321.7,112.7 322,113.77 322.3,116.39 322.6,115.83 322.9,113.78 323.2,116.65 323.5,115.12 323.8,117.18 324.1,114.64 324.4,118.13 324.7,115.82 325,117.21 325.3,118.27 325.6,117.99 325.9,117 326.2,117.17 326.5,117.97 326.8,117.37 327.1,118.23 327.4,118.17 327.7,119.66 328,119.51 328.3,120.61 328.6,119.73 328.9,119.06 329.2,120.38 329.5,122.16 329.8,120.54 330.1,121.29 330.4,122.77 330.7,121.68 331,123.61 331.3,123.89 331.6,121.84 331.9,123.54 332.2,121.94 332.5,121.67 332.8,122.9 333.1,123.64 333.4,124.98 333.7,122.25 334,124.44 334.3,123.7 334.6,122.58 334.9,125.75 335.2,124.86 335.5,122.93 335.8,125.85 336.1,123.06 336.4,123.14 336.7,124.11 337,126.4 337.3,123.25 337.6,126.54 337.9,125.54 338.2,123.69 338.5,125.6 338.8,125.31 339.1,125.79 339.4,126.51 339.7,126.41 340,127.65 340.3,124.74 340.6,127.19 340.9,125.85 341.2,127.27 341.5,127.75 341.8,128.2 342.1,125.69 342.4,126.44 342.7,128.27 343,128.36 343.3,126.4 343.6,128.48 343.9,126.65 344.2,126.61 344.5,128.02 344.8,127.06 345.1,127.03 345.4,126.86 345.7,127.08 346,126.09 346.3,125.86 346.6,128.36 346.9,127.74 347.2,128.17 347.5,128.67 347.8,126.7 348.1,126.76 348.4,126.96 348.7,127.1 349,128.75 349.3,127.43 349.6,127.29 349.9,128.42 350.2,126.88 350.5,126.63 350.8,128.73 351.1,128.97 351.4,127.38 351.7,128.59 352,126.51 352.3,127.82 352.6,128.44 352.9,127.33 353.2,127.66 353.5,128.58 353.8,128.51 354.1,127 354.4,128.91 354.7,126.73 355,129.81 355.3,127.13 355.6,127.3 355.9,127.09 356.2,129.81 356.5,127.35 356.8,128.43 357.1,129.73 357.4,129.56 357.7,126.4 358,128.02 358.3,128.26 358.6,128.58 358.9,127.28 359.2,127.22 359.5,126.06 359.8,126.13 360.1,127.86 360.4,126.19 360.7,126.58 361,126.98 361.3,126.04 361.6,125.86 361.9,128.87 362.2,127.15 362.5,126.3 362.8,127.96 363.1,125.51 363.4,126.23 363.7,128.59 364,128.28 364.3,127.3 364.6,125.35 364.9,126.01 365.2,124.92 365.5,125.45 365.8,124.67 366.1,124.89 366.4,126.48 366.7,124.54 367,124.6 367.3,126.98 367.6,124.92 367.9,124.77 368.2,123.79 368.5,126.03 368.8,125.47 369.1,124.88 369.4,124.96 369.7,123.07 370,123.45 370.3,124.37 370.6,125.43 370.9,124.79 371.2,124 371.5,123.38 371.8,121.47 372.1,124.16 372.4,121.17 372.7,121.14 373,122.76 373.3,122.9 373.6,122.55 373.9,121.17 374.2,119.99 374.5,119.24 374.8,121.68 375.1,121.83 375.4,119.13 375.7,120.92 376,119.12 376.3,118.56 376.6,118.95 376.9,117.06 377.2,118.25 377.5,117.22 377.8,118.68 378.1,117.78 378.4,118.78 378.7,118.66 379,116.55 379.3,116.23 379.6,118.18 379.9,116.55 380.2,115.02 380.5,114.66 380.8,117.56 381.1,116.03 381.4,114.14 381.7,115.47 382,115.28 382.3,114.9 382.6,116.44 382.9,116.3 383.2,113.5 383.5,113.46 383.8,114.16 384.1,115.42 384.4,114.61 384.7,114.83 385,114.22 385.3,112.93 385.6,114.8 385.9,112.11 386.2,114.25 386.5,112.57 386.8,113.43 387.1,115.03 387.4,113.64 387.7,112.17 388,113.52 388.3,114.45 388.6,112.74 388.9,113.63 389.2,113.15 389.5,115.1 389.8,114.85 390.1,115.49 390.4,115.09 390.7,116.53 391,115.29 391.3,117.95 391.6,118.44 391.9,117.29 392.2,117.55 392.5,119.14 392.8,117.67 393.1,119.64 393.4,118.33 393.7,120.03 394,119.11 394.3,120.25 394.6,121.54 394.9,119.03 395.2,121.66 395.5,121.06 395.8,120.78 396.1,120.91 396.4,120.25 396.7,121.06 397,122.43 397.3,120.99 397.6,123 397.9,124.13 398.2,124.39 398.5,124.32 398.8,124.27 399.1,122.52 399.4,125.22 399.7,123.04 400,125.35 400.3,125.62 400.6,125.06 400.9,125 401.2,124.26 401.5,125.52 401.8,125.07 402.1,124.82 402.4,125.1 402.7,127.45 403,128.09 403.3,125.93 403.6,125.79 403.9,126.82 404.2,126.67 404.5,127.07 404.8,128.52 405.1,128.24 405.4,128.47 405.7,127.97 406,129.57 406.3,128.59 406.6,129.1 406.9,129.46 407.2,130.98 407.5,129.13 407.8,130.74 408.1,129.64 408.4,131.58 408.7,130.2 409,130.68 409.3,131.96 409.6,131.47 409.9,129.83 410.2,130.08 410.5,132.8 410.8,129.99 411.1,130.92 411.4,133.02 411.7,130.24 412,130.77 412.3,131.01 412.6,130.7 412.9,131.95 413.2,132.38 413.5,131.62 413.8,131.06 414.1,133.25 414.4,133.29 414.7,132.62 415,131.4 415.3,132.67 415.6,132.99 415.9,132.44 416.2,133.8 416.5,132.43 416.8,132.84 417.1,131.69 417.4,133.09 417.7,133.74 418,133.67 418.3,132.3 418.6,134.53 418.9,133.76 419.2,132.91 419.5,132.92 419.8,134.04 420.1,132.28 420.4,133.7 420.7,133.97 421,133.4 421.3,134.49 421.6,133.33 421.9,133.35 422.2,132.85 422.5,134.76 422.8,133.01 423.1,134.16 423.4,133.35 423.7,134.93 424,134.99 424.3,132.32 424.6,135.19 424.9,134.07 425.2,132.54 425.5,133.81 425.8,132.52 426.1,134.01 426.4,132.98 426.7,133.54 427,133.38 427.3,134.27 427.6,134.94 427.9,135.29 428.2,133.54 428.5,134.27 428.8,132.65 429.1,133.73 429.4,135.46 429.7,133.04 430,135.24 430.3,134.62 430.6,133.6 430.9,135.02 431.2,133.63 431.5,135.39 431.8,133.06 432.1,133.18 432.4,135.02 432.7,134.16 433,133.31 433.3,134.37 433.6,133.77 433.9,134.5 434.2,135.07 434.5,135.41 434.8,133.14 435.1,134.67 435.4,135.8 435.7,134.32 436,135.21 436.3,133.31 436.6,135.53 436.9,134.71 437.2,135.59 437.5,135.31 437.8,135.56 438.1,133.26 438.4,135.14 438.7,133.68 439,133.89 439.3,134.06 439.6,134.83 439.9,134.94 440.2,135.8 440.5,133.22 440.8,133.74 441.1,134.22 441.4,135.52 441.7,134.77 442,134.67 442.3,135.38 442.6,135.09 442.9,134.07 443.2,133.52 443.5,134.57 443.8,135.75 444.1,134.97 444.4,133.46 444.7,134.54 445,134.4 445.3,134.95 445.6,134.97 445.9,135.99 446.2,134.3 446.5,134.5 446.8,135.08 447.1,135.84 447.4,135.34 447.7,134.7 448,135.66 448.3,134.75 448.6,136.08 448.9,134.21 449.2,133.79 449.5,135.73 449.8,134.27 450.1,135.79 450.4,135.14 450.7,134.87 451,133.72 451.3,135.64 451.6,133.68 451.9,136.14 452.2,135.91 452.5,134.35 452.8,133.88 453.1,135.95 453.4,134.85 453.7,133.89 454,134.91 454.3,134.24 454.6,134.68 454.9,135.32 455.2,136.07 455.5,135.77 455.8,134.04 456.1,134.9 456.4,134.95 456.7,136.3 457,133.87 457.3,135.02 457.6,136.11 457.9,134.73 458.2,134.37 458.5,135.17 458.8,134.54 459.1,136.18 459.4,133.93 459.7,134.27 460,133.95 460.3,135.63 460.6,134.52 460.9,136.15 461.2,136.14 461.5,136.26 461.8,134.46 462.1,133.79 462.4,134.82 462.7,136.35 463,135.84 463.3,133.98 463.6,135.69 463.9,136.26 464.2,136.41 464.5,135.75 464.8,136.15 465.1,136.1 465.4,134.84 465.7,134.17 466,135.83 466.3,134.29 466.6,134.94 466.9,136.56 467.2,135.42 467.5,135.33 467.8,136.46 468.1,134.73 468.4,136.61 468.7,136.39 469,134.97 469.3,134.88 469.6,134.37 469.9,136.43 470.2,134.55 470.5,134.1 470.8,136.39 471.1,135.64 471.4,135.84 471.7,136.01 472,134.24 472.3,134.38 472.6,135.44 472.9,134.29 473.2,135.47 473.5,136.08 473.8,135.88 474.1,135.79 474.4,134.34 474.7,134.83 475,136.53 475.3,134.56 475.6,135.62 475.9,134.4 476.2,136.68 476.5,134.73 476.8,135.35 477.1,135.71 477.4,136.15 477.7,136.72 478,136.22 478.3,135.24 478.6,134.56 478.9,136.17 479.2,136.85 479.5,134.45 479.8,136.37 480.1,134.87 480.4,135.6 480.7,135.77 481,136.01 481.3,136.96 481.6,136.21 481.9,135.48 482.2,136.3 482.5,135.69 482.8,135.57 483.1,135.46 483.4,135.79 483.7,135.27 484,135.19 484.3,134.97 484.6,135.7 484.9,135.35 485.2,136.71 485.5,136.75 485.8,135.51 486.1,136.2 486.4,136.92 486.7,135.58 487,136.08 487.3,135.82 487.6,136.34 487.9,137.11 488.2,135.1 488.5,137.15 488.8,136.42 489.1,136.75 489.4,136.37 489.7,136.96 490,135.64 490.3,136.58 490.6,135.51 490.9,136.12 491.2,136.56 491.5,135.4 491.8,135.07 492.1,136.86 492.4,136.91 492.7,136.58 493,135.76 493.3,136.59 493.6,135.21 493.9,136.62 494.2,136.43 494.5,136.54 494.8,136.14 495.1,135.62 495.4,136.84 495.7,136.23 496,136.91 496.3,136.01 496.6,135.37 496.9,136.47 497.2,136.67 497.5,137.4 497.8,137.33 498.1,135.37 498.4,137.09 498.7,135.89 499,136.94 499.3,136.2 499.6,136.08 499.9,136.49 500.2,136.6 500.5,137.01 500.8,136.89 501.1,137 501.4,136.32 501.7,137.03 502,136.26 502.3,136.9 502.6,136.57 502.9,136.82 503.2,135.56 503.5,136.71 503.8,136.07 504.1,136.48 504.4,135.77 504.7,137.15 505,137.72 505.3,136.48 505.6,135.92 505.9,137.13 506.2,136.01 506.5,137.8 506.8,136.04 507.1,136.61 507.4,136.94 507.7,136.08 508,136.57 508.3,136.49 508.6,137.52 508.9,138.16 509.2,136.75 509.5,137.75 509.8,136.28 510.1,137.31 510.4,136.99 510.7,136.68 511,137.92 511.3,137.77 511.6,136.39 511.9,136.77 512.2,137.99 512.5,138.41 512.8,137.56 513.1,138.17 513.4,138.45 513.7,137.91 514,137.72 514.3,136.78 514.6,137.14 514.9,137.73 515.2,138.44 515.5,137.05 515.8,137.28 516.1,136.47 516.4,138 516.7,137.46 517,138.27 517.3,137.03 517.6,138.01 517.9,138.06 518.2,137.62 518.5,137.03 518.8,137.53 519.1,138.31 519.4,137.1 519.7,136.9 520,137.75 520.3,137.27 520.6,138.54 520.9,138.6 521.2,138.91 521.5,138.7 521.8,138.29 522.1,137.3" fill="none" stroke="#3aa97c" stroke-width="0.7" stroke-linejoin="round" stroke-linecap="round" />
<polyline points="319.3,113 319.6,109.6 319.9,113" fill="none" stroke="#3aa97c" stroke-width="0.7" stroke-linejoin="round" stroke-linecap="round" />
<rect x="310.6" y="11" width="212.2" height="169" fill="none" stroke="#0a0a0a" stroke-width="1.5"/>
<line x1="306.7" y1="24.4" x2="310.6" y2="24.4" stroke="#0a0a0a" stroke-width="1.25" />
<line x1="306.7" y1="58.15" x2="310.6" y2="58.15" stroke="#0a0a0a" stroke-width="1.25" />
<line x1="306.7" y1="91.9" x2="310.6" y2="91.9" stroke="#0a0a0a" stroke-width="1.25" />
<line x1="306.7" y1="125.65" x2="310.6" y2="125.65" stroke="#0a0a0a" stroke-width="1.25" />
<line x1="306.7" y1="159.4" x2="310.6" y2="159.4" stroke="#0a0a0a" stroke-width="1.25" />
<line x1="308.4" y1="41.25" x2="310.6" y2="41.25" stroke="#0a0a0a" stroke-width="1.25" />
<line x1="308.4" y1="75" x2="310.6" y2="75" stroke="#0a0a0a" stroke-width="1.25" />
<line x1="308.4" y1="108.75" x2="310.6" y2="108.75" stroke="#0a0a0a" stroke-width="1.25" />
<line x1="308.4" y1="142.5" x2="310.6" y2="142.5" stroke="#0a0a0a" stroke-width="1.25" />
<line x1="308.4" y1="176.25" x2="310.6" y2="176.25" stroke="#0a0a0a" stroke-width="1.25" />
<line x1="310.6" y1="180" x2="310.6" y2="183.8" stroke="#0a0a0a" stroke-width="1.25" />
<line x1="353.04" y1="180" x2="353.04" y2="183.8" stroke="#0a0a0a" stroke-width="1.25" />
<line x1="395.48" y1="180" x2="395.48" y2="183.8" stroke="#0a0a0a" stroke-width="1.25" />
<line x1="437.92" y1="180" x2="437.92" y2="183.8" stroke="#0a0a0a" stroke-width="1.25" />
<line x1="480.36" y1="180" x2="480.36" y2="183.8" stroke="#0a0a0a" stroke-width="1.25" />
<line x1="522.8" y1="180" x2="522.8" y2="183.8" stroke="#0a0a0a" stroke-width="1.25" />
<line x1="331.82" y1="180" x2="331.82" y2="182" stroke="#0a0a0a" stroke-width="1.25" />
<line x1="374.26" y1="180" x2="374.26" y2="182" stroke="#0a0a0a" stroke-width="1.25" />
<line x1="416.7" y1="180" x2="416.7" y2="182" stroke="#0a0a0a" stroke-width="1.25" />
<line x1="459.14" y1="180" x2="459.14" y2="182" stroke="#0a0a0a" stroke-width="1.25" />
<line x1="501.58" y1="180" x2="501.58" y2="182" stroke="#0a0a0a" stroke-width="1.25" />
<text x="310.6" y="194.7" font-size="10.0" text-anchor="middle" fill="#1c1c1c" >10</text>
<text x="353.04" y="194.7" font-size="10.0" text-anchor="middle" fill="#1c1c1c" >20</text>
<text x="395.48" y="194.7" font-size="10.0" text-anchor="middle" fill="#1c1c1c" >30</text>
<text x="437.92" y="194.7" font-size="10.0" text-anchor="middle" fill="#1c1c1c" >40</text>
<text x="480.36" y="194.7" font-size="10.0" text-anchor="middle" fill="#1c1c1c" >50</text>
<text x="522.8" y="194.7" font-size="10.0" text-anchor="middle" fill="#1c1c1c" >60</text>
<text x="417" y="207.3" font-size="10.0" text-anchor="middle" fill="#1c1c1c" >Degree (°)</text>
<text x="299.5" y="95.5" font-size="10.0" text-anchor="middle" fill="#1c1c1c" transform="rotate(-90 299.5 95.5)" >Intensity (a.u.)</text>
<text x="313.2" y="43.6" font-size="10.0" text-anchor="start" fill="#1c1c1c" >GC-695</text>
<text x="314" y="106.3" font-size="10.0" text-anchor="start" fill="#1c1c1c" >PG</text>
<text x="381.8" y="43" font-size="10.0" text-anchor="middle" fill="#1c1c1c" transform="rotate(-90 381.8 43)" >(201)</text>
<text x="394" y="34.2" font-size="10.0" text-anchor="middle" fill="#1c1c1c" transform="rotate(-90 394 34.2)" >(211)</text>
<text x="512.3" y="62" font-size="10.0" text-anchor="middle" fill="#1c1c1c" transform="rotate(-90 512.3 62)" >(213)</text>
<text x="422" y="163.5" font-size="10.0" text-anchor="start" fill="#1c1c1c" >044-0560 Ba<tspan font-size="5.8" dy="3">2</tspan><tspan dy="-3" font-size="1">&#8203;</tspan>TiGe<tspan font-size="5.8" dy="3">2</tspan><tspan dy="-3" font-size="1">&#8203;</tspan>O<tspan font-size="5.8" dy="3">8</tspan><tspan dy="-3" font-size="1">&#8203;</tspan></text>
</g>
<g>
<text x="553.8" y="20.6" font-size="20" text-anchor="start" fill="#141010" font-weight="bold" >c</text>
<rect x="680.6" y="11" width="11.4" height="169" fill="#efefef"/>
<polyline points="581.2,84 581.6,84 582,84.01 582.4,84.03 582.8,84.05 583.2,84.08 583.6,84.12 584,84.16 584.4,84.2 584.8,84.25 585.2,84.31 585.6,84.37 586,84.43 586.4,84.5 586.8,84.61 587.2,84.79 587.6,85.03 588,85.31 588.4,85.61 588.8,85.93 589.2,86.24 589.6,86.54 590,86.8 590.4,87.05 590.8,87.33 591.2,87.61 591.6,87.9 592,88.18 592.4,88.45 592.8,88.7 593.2,88.93 593.6,89.12 594,89.28 594.4,89.38 594.8,89.45 595.2,89.51 595.6,89.57 596,89.63 596.4,89.68 596.8,89.73 597.2,89.78 597.6,89.82 598,89.86 598.4,89.89 598.8,89.92 599.2,89.95 599.6,89.97 600,89.98 600.4,89.99 600.8,90 601.2,90 601.6,89.99 602,89.96 602.4,89.93 602.8,89.89 603.2,89.84 603.6,89.79 604,89.73 604.4,89.67 604.8,89.6 605.2,89.54 605.6,89.47 606,89.4 606.4,89.33 606.8,89.25 607.2,89.17 607.6,89.08 608,88.98 608.4,88.88 608.8,88.76 609.2,88.65 609.6,88.52 610,88.39 610.4,88.25 610.8,88.1 611.2,87.93 611.6,87.73 612,87.5 612.4,87.25 612.8,86.97 613.2,86.68 613.6,86.37 614,86.04 614.4,85.71 614.8,85.38 615.2,85.04 615.6,84.7 616,84.37 616.4,84.04 616.8,83.73 617.2,83.43 617.6,83.15 618,82.89 618.4,82.65 618.8,82.45 619.2,82.26 619.6,82.08 620,81.91 620.4,81.74 620.8,81.58 621.2,81.42 621.6,81.27 622,81.13 622.4,81 622.8,80.88 623.2,80.78 623.6,80.68 624,80.6 624.4,80.53 624.8,80.45 625.2,80.38 625.6,80.31 626,80.24 626.4,80.18 626.8,80.13 627.2,80.08 627.6,80.05 628,80.02 628.4,80 628.8,80 629.2,80.02 629.6,80.05 630,80.1 630.4,80.17 630.8,80.25 631.2,80.34 631.6,80.44 632,80.54 632.4,80.64 632.8,80.75 633.2,80.85 633.6,80.98 634,81.12 634.4,81.28 634.8,81.45 635.2,81.64 635.6,81.82 636,82.02 636.4,82.21 636.8,82.4 637.2,82.59 637.6,82.79 638,83 638.4,83.21 638.8,83.43 639.2,83.66 639.6,83.89 640,84.12 640.4,84.36 640.8,84.59 641.2,84.84 641.6,85.08 642,85.33 642.4,85.57 642.8,85.82 643.2,86.07 643.6,86.31 644,86.55 644.4,86.8 644.8,87.04 645.2,87.27 645.6,87.51 646,87.74 646.4,87.96 646.8,88.18 647.2,88.39 647.6,88.6 648,88.8 648.4,89 648.8,89.19 649.2,89.39 649.6,89.6 650,89.8 650.4,89.99 650.8,90.19 651.2,90.38 651.6,90.56 652,90.73 652.4,90.89 652.8,91.04 653.2,91.18 653.6,91.3 654,91.4 654.4,91.5 654.8,91.59 655.2,91.69 655.6,91.78 656,91.86 656.4,91.94 656.8,92.01 657.2,92.08 657.6,92.13 658,92.17 658.4,92.19 658.8,92.2 659.2,92.19 659.6,92.15 660,92.08 660.4,91.99 660.8,91.89 661.2,91.76 661.6,91.62 662,91.47 662.4,91.31 662.8,91.13 663.2,90.96 663.6,90.77 664,90.59 664.4,90.41 664.8,90.23 665.2,90.06 665.6,89.89 666,89.74 666.4,89.59 666.8,89.43 667.2,89.27 667.6,89.1 668,88.93 668.4,88.75 668.8,88.58 669.2,88.4 669.6,88.22 670,88.04 670.4,87.86 670.8,87.69 671.2,87.52 671.6,87.36 672,87.2 672.4,87.05 672.8,86.91 673.2,86.78 673.6,86.66 674,86.55 674.4,86.45 674.8,86.36 675.2,86.28 675.6,86.2 676,86.13 676.4,86.06 676.8,85.99 677.2,85.93 677.6,85.86 678,85.8 678.4,85.74 678.8,85.69 679.2,85.64 679.6,85.59 680,85.55 680.4,85.5 680.8,85.45 681.2,85.4 681.6,85.34 682,85.28 682.4,85.2 682.8,85.11 683.2,84.99 683.6,84.86 684,84.71 684.4,84.55 684.8,84.38 685.2,84.2 685.6,83.96 686,83.66 686.4,83.41 686.8,83.3 687.2,83.64 687.6,84.4 688,85.2 688.4,85.95 688.8,86.78 689.2,87.56 689.6,88.2 690,88.71 690.4,89.16 690.8,89.57 691.2,89.95 691.6,90.29 692,90.6 692.4,90.9 692.8,91.19 693.2,91.47 693.6,91.73 694,91.96 694.4,92.16 694.8,92.33 695.2,92.46 695.6,92.59 696,92.71 696.4,92.83 696.8,92.94 697.2,93.03 697.6,93.12 698,93.19 698.4,93.25 698.8,93.28 699.2,93.3 699.6,93.29 700,93.25 700.4,93.19 700.8,93.1 701.2,93 701.6,92.88 702,92.75 702.4,92.61 702.8,92.47 703.2,92.33 703.6,92.16 704,91.96 704.4,91.75 704.8,91.51 705.2,91.25 705.6,90.98 706,90.69 706.4,90.4 706.8,90.1 707.2,89.8 707.6,89.5 708,89.2 708.4,88.9 708.8,88.6 709.2,88.29 709.6,87.97 710,87.65 710.4,87.32 710.8,86.99 711.2,86.65 711.6,86.3 712,85.95 712.4,85.59 712.8,85.22 713.2,84.85 713.6,84.47 714,84.08 714.4,83.68 714.8,83.28 715.2,82.87 715.6,82.45 716,82.02 716.4,81.58 716.8,81.1 717.2,80.58 717.6,80.04 718,79.47 718.4,78.9 718.8,78.32 719.2,77.74 719.6,77.18 720,76.63 720.4,76.11 720.8,75.63 721.2,75.19 721.6,74.79 722,74.42 722.4,74.07 722.8,73.74 723.2,73.42 723.6,73.12 724,72.82 724.4,72.52 724.8,72.21 725.2,71.9 725.6,71.58 726,71.24 726.4,70.87 726.8,70.48 727.2,70.06 727.6,69.6 728,69.09 728.4,68.53 728.8,67.92 729.2,67.26 729.6,66.56 730,65.82 730.4,65.06 730.8,64.27 731.2,63.46 731.6,62.63 732,61.79 732.4,60.94 732.8,60.1 733.2,59.26 733.6,58.42 734,57.6 734.4,56.77 734.8,55.88 735.2,54.94 735.6,53.96 736,52.96 736.4,51.97 736.8,51 737.2,50.07 737.6,49.19 738,48.38 738.4,47.67 738.8,47.06 739.2,46.55 739.6,46.06 740,45.58 740.4,45.14 740.8,44.78 741.2,44.53 741.6,44.41 742,44.42 742.4,44.52 742.8,44.68 743.2,44.9 743.6,45.15 744,45.45 744.4,45.76 744.8,46.09 745.2,46.52 745.6,47.09 746,47.78 746.4,48.57 746.8,49.45 747.2,50.41 747.6,51.43 748,52.49 748.4,53.59 748.8,54.7 749.2,55.81 749.6,56.91 750,57.97 750.4,59 750.8,60.01 751.2,61.04 751.6,62.09 752,63.15 752.4,64.23 752.8,65.32 753.2,66.43 753.6,67.55 754,68.67 754.4,69.81 754.8,70.95 755.2,72.1 755.6,73.25 756,74.4 756.4,75.56 756.8,76.71 757.2,77.88 757.6,79.09 758,80.33 758.4,81.6 758.8,82.89 759.2,84.19 759.6,85.5 760,86.8 760.4,88.08 760.8,89.35 761.2,90.59 761.6,91.78 762,92.94 762.4,94.04 762.8,95.08 763.2,96.04 763.6,96.95 764,97.84 764.4,98.73 764.8,99.59 765.2,100.42 765.6,101.2 766,101.93 766.4,102.58 766.8,103.14 767.2,103.61 767.6,103.97 768,104.29 768.4,104.58 768.8,104.83 769.2,105.05 769.6,105.24 770,105.4 770.4,105.54 770.8,105.66 771.2,105.77 771.6,105.87 772,105.96 772.4,106.05 772.8,106.14 773.2,106.22 773.6,106.31 774,106.39 774.4,106.47 774.8,106.55 775.2,106.62 775.6,106.7 776,106.77 776.4,106.84 776.8,106.91 777.2,106.98 777.6,107.05 778,107.12 778.4,107.19 778.8,107.25 779.2,107.32 779.6,107.38 780,107.44 780.4,107.51 780.8,107.57 781.2,107.63 781.6,107.7 782,107.76 782.4,107.82 782.8,107.88 783.2,107.95 783.6,108.01 784,108.07 784.4,108.13 784.8,108.2 785.2,108.26 785.6,108.32 786,108.38 786.4,108.44 786.8,108.5 787.2,108.56 787.6,108.61 788,108.67 788.4,108.73 788.8,108.79 789.2,108.84 789.6,108.9 790,108.96 790.4,109.01 790.8,109.07 791.2,109.12 791.6,109.17" fill="none" stroke="#2b347f" stroke-width="1.7" stroke-linejoin="round" stroke-linecap="round" />
<polyline points="581.2,144 581.6,144 582,144 582.4,144 582.8,144 583.2,144 583.6,144 584,144 584.4,144 584.8,144 585.2,144 585.6,144 586,144 586.4,144 586.8,144.05 587.2,144.19 587.6,144.41 588,144.68 588.4,144.98 588.8,145.31 589.2,145.63 589.6,145.93 590,146.2 590.4,146.45 590.8,146.72 591.2,147 591.6,147.29 592,147.57 592.4,147.85 592.8,148.11 593.2,148.35 593.6,148.56 594,148.74 594.4,148.87 594.8,148.98 595.2,149.07 595.6,149.17 596,149.26 596.4,149.35 596.8,149.43 597.2,149.51 597.6,149.58 598,149.65 598.4,149.71 598.8,149.76 599.2,149.8 599.6,149.84 600,149.87 600.4,149.89 600.8,149.9 601.2,149.9 601.6,149.88 602,149.84 602.4,149.8 602.8,149.73 603.2,149.66 603.6,149.58 604,149.49 604.4,149.39 604.8,149.3 605.2,149.2 605.6,149.1 606,149 606.4,148.9 606.8,148.79 607.2,148.67 607.6,148.54 608,148.4 608.4,148.26 608.8,148.11 609.2,147.96 609.6,147.8 610,147.64 610.4,147.47 610.8,147.3 611.2,147.12 611.6,146.93 612,146.73 612.4,146.52 612.8,146.3 613.2,146.07 613.6,145.84 614,145.6 614.4,145.35 614.8,145.1 615.2,144.85 615.6,144.59 616,144.34 616.4,144.08 616.8,143.83 617.2,143.58 617.6,143.33 618,143.09 618.4,142.85 618.8,142.62 619.2,142.4 619.6,142.19 620,141.98 620.4,141.79 620.8,141.61 621.2,141.43 621.6,141.25 622,141.08 622.4,140.91 622.8,140.74 623.2,140.58 623.6,140.43 624,140.29 624.4,140.17 624.8,140.05 625.2,139.95 625.6,139.84 626,139.74 626.4,139.64 626.8,139.54 627.2,139.46 627.6,139.39 628,139.34 628.4,139.31 628.8,139.3 629.2,139.32 629.6,139.35 630,139.41 630.4,139.48 630.8,139.56 631.2,139.65 631.6,139.75 632,139.85 632.4,139.95 632.8,140.05 633.2,140.15 633.6,140.26 634,140.37 634.4,140.49 634.8,140.62 635.2,140.76 635.6,140.9 636,141.05 636.4,141.21 636.8,141.37 637.2,141.53 637.6,141.7 638,141.88 638.4,142.06 638.8,142.24 639.2,142.44 639.6,142.65 640,142.88 640.4,143.12 640.8,143.36 641.2,143.62 641.6,143.89 642,144.16 642.4,144.43 642.8,144.71 643.2,144.99 643.6,145.28 644,145.56 644.4,145.84 644.8,146.12 645.2,146.4 645.6,146.67 646,146.93 646.4,147.18 646.8,147.43 647.2,147.67 647.6,147.89 648,148.1 648.4,148.3 648.8,148.5 649.2,148.69 649.6,148.89 650,149.08 650.4,149.27 650.8,149.45 651.2,149.63 651.6,149.8 652,149.96 652.4,150.12 652.8,150.26 653.2,150.39 653.6,150.5 654,150.6 654.4,150.69 654.8,150.79 655.2,150.88 655.6,150.97 656,151.05 656.4,151.14 656.8,151.21 657.2,151.28 657.6,151.34 658,151.4 658.4,151.44 658.8,151.47 659.2,151.49 659.6,151.5 660,151.48 660.4,151.43 660.8,151.35 661.2,151.24 661.6,151.11 662,150.97 662.4,150.82 662.8,150.66 663.2,150.5 663.6,150.35 664,150.2 664.4,150.05 664.8,149.89 665.2,149.72 665.6,149.54 666,149.36 666.4,149.17 666.8,148.98 667.2,148.78 667.6,148.59 668,148.4 668.4,148.22 668.8,148.05 669.2,147.88 669.6,147.72 670,147.56 670.4,147.4 670.8,147.24 671.2,147.08 671.6,146.93 672,146.78 672.4,146.64 672.8,146.51 673.2,146.39 673.6,146.29 674,146.2 674.4,146.12 674.8,146.04 675.2,145.96 675.6,145.89 676,145.82 676.4,145.76 676.8,145.7 677.2,145.66 677.6,145.62 678,145.6 678.4,145.6 678.8,145.61 679.2,145.65 679.6,145.69 680,145.75 680.4,145.82 680.8,145.9 681.2,145.98 681.6,146.07 682,146.17 682.4,146.26 682.8,146.35 683.2,146.45 683.6,146.55 684,146.66 684.4,146.78 684.8,146.91 685.2,147.04 685.6,147.18 686,147.33 686.4,147.47 686.8,147.62 687.2,147.76 687.6,147.91 688,148.07 688.4,148.24 688.8,148.42 689.2,148.6 689.6,148.78 690,148.97 690.4,149.16 690.8,149.35 691.2,149.53 691.6,149.71 692,149.89 692.4,150.05 692.8,150.21 693.2,150.35 693.6,150.48 694,150.6 694.4,150.71 694.8,150.82 695.2,150.94 695.6,151.05 696,151.16 696.4,151.26 696.8,151.36 697.2,151.46 697.6,151.54 698,151.62 698.4,151.68 698.8,151.74 699.2,151.77 699.6,151.79 700,151.8 700.4,151.77 700.8,151.71 701.2,151.62 701.6,151.5 702,151.36 702.4,151.2 702.8,151.03 703.2,150.85 703.6,150.66 704,150.47 704.4,150.28 704.8,150.09 705.2,149.91 705.6,149.72 706,149.52 706.4,149.32 706.8,149.1 707.2,148.88 707.6,148.64 708,148.4 708.4,148.15 708.8,147.89 709.2,147.62 709.6,147.35 710,147.07 710.4,146.78 710.8,146.48 711.2,146.18 711.6,145.86 712,145.54 712.4,145.19 712.8,144.83 713.2,144.46 713.6,144.07 714,143.67 714.4,143.26 714.8,142.84 715.2,142.41 715.6,141.97 716,141.53 716.4,141.08 716.8,140.62 717.2,140.16 717.6,139.69 718,139.22 718.4,138.75 718.8,138.28 719.2,137.81 719.6,137.34 720,136.87 720.4,136.4 720.8,135.94 721.2,135.49 721.6,135.04 722,134.59 722.4,134.15 722.8,133.71 723.2,133.27 723.6,132.83 724,132.38 724.4,131.94 724.8,131.49 725.2,131.03 725.6,130.56 726,130.09 726.4,129.61 726.8,129.11 727.2,128.6 727.6,128.07 728,127.53 728.4,126.98 728.8,126.4 729.2,125.8 729.6,125.16 730,124.47 730.4,123.74 730.8,122.96 731.2,122.15 731.6,121.32 732,120.46 732.4,119.6 732.8,118.72 733.2,117.85 733.6,116.98 734,116.13 734.4,115.29 734.8,114.49 735.2,113.71 735.6,112.98 736,112.26 736.4,111.5 736.8,110.73 737.2,109.95 737.6,109.19 738,108.48 738.4,107.82 738.8,107.25 739.2,106.77 739.6,106.42 740,106.2 740.4,106 740.8,105.82 741.2,105.67 741.6,105.57 742,105.51 742.4,105.52 742.8,105.65 743.2,105.91 743.6,106.26 744,106.69 744.4,107.19 744.8,107.72 745.2,108.28 745.6,108.85 746,109.54 746.4,110.41 746.8,111.41 747.2,112.52 747.6,113.72 748,114.99 748.4,116.29 748.8,117.61 749.2,118.91 749.6,120.18 750,121.38 750.4,122.5 750.8,123.55 751.2,124.59 751.6,125.61 752,126.62 752.4,127.61 752.8,128.6 753.2,129.58 753.6,130.56 754,131.53 754.4,132.51 754.8,133.49 755.2,134.48 755.6,135.47 756,136.48 756.4,137.5 756.8,138.54 757.2,139.6 757.6,140.71 758,141.86 758.4,143.04 758.8,144.24 759.2,145.46 759.6,146.67 760,147.88 760.4,149.08 760.8,150.25 761.2,151.39 761.6,152.49 762,153.54 762.4,154.54 762.8,155.46 763.2,156.31 763.6,157.08 764,157.84 764.4,158.58 764.8,159.3 765.2,160 765.6,160.67 766,161.3 766.4,161.9 766.8,162.44 767.2,162.94 767.6,163.38 768,163.76 768.4,164.07 768.8,164.35 769.2,164.6 769.6,164.83 770,165.03 770.4,165.2 770.8,165.34 771.2,165.45 771.6,165.55 772,165.64 772.4,165.72 772.8,165.79 773.2,165.85 773.6,165.91 774,165.97 774.4,166.04 774.8,166.1 775.2,166.17 775.6,166.23 776,166.3 776.4,166.36 776.8,166.42 777.2,166.48 777.6,166.55 778,166.61 778.4,166.67 778.8,166.72 779.2,166.78 779.6,166.84 780,166.9 780.4,166.96 780.8,167.01 781.2,167.07 781.6,167.12 782,167.18 782.4,167.23 782.8,167.29 783.2,167.34 783.6,167.39 784,167.45 784.4,167.5 784.8,167.55 785.2,167.6 785.6,167.66 786,167.71 786.4,167.76 786.8,167.81 787.2,167.86 787.6,167.91 788,167.96 788.4,168.01 788.8,168.05 789.2,168.1 789.6,168.15 790,168.2 790.4,168.24 790.8,168.29 791.2,168.33 791.6,168.38" fill="none" stroke="#2ea477" stroke-width="1.7" stroke-linejoin="round" stroke-linecap="round" />
<rect x="580.6" y="11" width="211.5" height="169" fill="none" stroke="#0a0a0a" stroke-width="1.5"/>
<line x1="576.7" y1="26.25" x2="580.6" y2="26.25" stroke="#0a0a0a" stroke-width="1.25" />
<line x1="576.7" y1="56.9" x2="580.6" y2="56.9" stroke="#0a0a0a" stroke-width="1.25" />
<line x1="576.7" y1="87.55" x2="580.6" y2="87.55" stroke="#0a0a0a" stroke-width="1.25" />
<line x1="576.7" y1="118.2" x2="580.6" y2="118.2" stroke="#0a0a0a" stroke-width="1.25" />
<line x1="576.7" y1="148.85" x2="580.6" y2="148.85" stroke="#0a0a0a" stroke-width="1.25" />
<line x1="576.7" y1="179.5" x2="580.6" y2="179.5" stroke="#0a0a0a" stroke-width="1.25" />
<line x1="578.4" y1="41.55" x2="580.6" y2="41.55" stroke="#0a0a0a" stroke-width="1.25" />
<line x1="578.4" y1="72.2" x2="580.6" y2="72.2" stroke="#0a0a0a" stroke-width="1.25" />
<line x1="578.4" y1="102.85" x2="580.6" y2="102.85" stroke="#0a0a0a" stroke-width="1.25" />
<line x1="578.4" y1="133.5" x2="580.6" y2="133.5" stroke="#0a0a0a" stroke-width="1.25" />
<line x1="578.4" y1="164.15" x2="580.6" y2="164.15" stroke="#0a0a0a" stroke-width="1.25" />
<line x1="611" y1="180" x2="611" y2="183.8" stroke="#0a0a0a" stroke-width="1.25" />
<line x1="653.62" y1="180" x2="653.62" y2="183.8" stroke="#0a0a0a" stroke-width="1.25" />
<line x1="696.25" y1="180" x2="696.25" y2="183.8" stroke="#0a0a0a" stroke-width="1.25" />
<line x1="738.88" y1="180" x2="738.88" y2="183.8" stroke="#0a0a0a" stroke-width="1.25" />
<line x1="781.5" y1="180" x2="781.5" y2="183.8" stroke="#0a0a0a" stroke-width="1.25" />
<line x1="589.69" y1="180" x2="589.69" y2="182" stroke="#0a0a0a" stroke-width="1.25" />
<line x1="632.31" y1="180" x2="632.31" y2="182" stroke="#0a0a0a" stroke-width="1.25" />
<line x1="674.94" y1="180" x2="674.94" y2="182" stroke="#0a0a0a" stroke-width="1.25" />
<line x1="717.56" y1="180" x2="717.56" y2="182" stroke="#0a0a0a" stroke-width="1.25" />
<line x1="760.19" y1="180" x2="760.19" y2="182" stroke="#0a0a0a" stroke-width="1.25" />
<text x="611" y="194.7" font-size="10.0" text-anchor="middle" fill="#1c1c1c" >200</text>
<text x="653.62" y="194.7" font-size="10.0" text-anchor="middle" fill="#1c1c1c" >400</text>
<text x="696.25" y="194.7" font-size="10.0" text-anchor="middle" fill="#1c1c1c" >600</text>
<text x="738.88" y="194.7" font-size="10.0" text-anchor="middle" fill="#1c1c1c" >800</text>
<text x="781.5" y="194.7" font-size="10.0" text-anchor="middle" fill="#1c1c1c" >1000</text>
<text x="699.5" y="207.5" font-size="10.0" text-anchor="middle" fill="#1c1c1c" >Raman shift (cm<tspan font-size="5.8" dy="-3.8">-1</tspan><tspan dy="3.8" font-size="1">&#8203;</tspan>)</text>
<text x="569.5" y="95.5" font-size="10.0" text-anchor="middle" fill="#1c1c1c" transform="rotate(-90 569.5 95.5)" >Intensity (a.u.)</text>
<line x1="585.4" y1="19.9" x2="610.4" y2="19.9" stroke="#2b347f" stroke-width="1.5" />
<line x1="585.4" y1="33.1" x2="610.4" y2="33.1" stroke="#2ea477" stroke-width="1.5" />
<text x="617" y="23.4" font-size="10.0" text-anchor="start" fill="#1c1c1c" >GC-695</text>
<text x="617" y="36.4" font-size="10.0" text-anchor="start" fill="#1c1c1c" >PG</text>
<text x="657.2" y="55.6" font-size="10.0" text-anchor="start" fill="#1c1c1c" >ν<tspan font-size="5.8" dy="3">s</tspan><tspan dy="-3" font-size="1">&#8203;</tspan> (Ge-O-Ge)</text>
<text x="657.2" y="67.8" font-size="10.0" text-anchor="start" fill="#1c1c1c" >of Ba<tspan font-size="5.8" dy="3">2</tspan><tspan dy="-3" font-size="1">&#8203;</tspan>TiGe<tspan font-size="5.8" dy="3">2</tspan><tspan dy="-3" font-size="1">&#8203;</tspan>O<tspan font-size="5.8" dy="3">8</tspan><tspan dy="-3" font-size="1">&#8203;</tspan></text>
</g>
<g>
<text x="0.6" y="235" font-size="20" text-anchor="start" fill="#141010" font-weight="bold" >d</text>
<defs><linearGradient id="discg" x1="0" y1="0" x2="0" y2="1"><stop offset="0" stop-color="#38659a"/><stop offset="0.45" stop-color="#4876a8"/><stop offset="0.7" stop-color="#6790c0"/><stop offset="1" stop-color="#9ab7d6"/></linearGradient><filter id="bl1" x="-20%" y="-20%" width="140%" height="140%"><feGaussianBlur stdDeviation="0.55"/></filter></defs>
<g filter="url(#bl1)">
<rect x="84.6" y="333.3" width="88.8" height="45.4" fill="#ecebee"/>
<circle cx="108.3" cy="355.4" r="19.6" fill="#f5f4f7" stroke="#30364f" stroke-width="0.95"/>
<path d="M92.46 351.16 A16.4 16.4 0 0 1 124.14 351.16" fill="none" stroke="#596079" stroke-width="2.6" stroke-dasharray="1.3 2.4"/>
<path d="M122.96 363.19 A16.6 16.6 0 0 1 93.64 363.19" fill="none" stroke="#3a405e" stroke-width="2.3" stroke-dasharray="2.0 0.6"/>
<circle cx="108.3" cy="355.4" r="14.1" fill="#fbfbfd" stroke="#50577a" stroke-width="0.6"/>
<circle cx="108.3" cy="355.2" r="13.0" fill="url(#discg)"/>
<path d="M100.5 364.3 L100.5 358 L100.5 356.3 L101.6 356.3 L101.6 358.1 L102.5 358.1 L102.5 357.5 L103.6 357.5 L103.6 358.1 L104.5 358.1 L104.5 357.5 L105.6 357.5 L105.6 358.1 L106.5 358.1 L106.5 356.9 L107.6 356.9 L107.6 358.1 L108.5 358.1 L108.5 356.9 L109.6 356.9 L109.6 358.1 L110.5 358.1 L110.5 357.5 L111.6 357.5 L111.6 358.1 L112.5 358.1 L112.5 357.5 L113.6 357.5 L113.6 358.1 L114.5 358.1 L114.5 356.3 L115.6 356.3 L115.6 358.1 L116.5 358.1 L116.5 364.3 Z" fill="#e8eef6" opacity="0.95"/>
<rect x="101.7" y="359.7" width="0.95" height="3.2" fill="#5580b2"/>
<rect x="103.75" y="359.7" width="0.95" height="3.2" fill="#5580b2"/>
<rect x="105.8" y="359.7" width="0.95" height="3.2" fill="#5580b2"/>
<rect x="107.85" y="359.7" width="0.95" height="3.2" fill="#5580b2"/>
<rect x="109.9" y="359.7" width="0.95" height="3.2" fill="#5580b2"/>
<rect x="111.95" y="359.7" width="0.95" height="3.2" fill="#5580b2"/>
<rect x="114" y="359.7" width="0.95" height="3.2" fill="#5580b2"/>
<path d="M104.7 349.4 L108.3 347.0 L111.89999999999999 349.4 L108.3 351.59999999999997 Z" fill="none" stroke="#b8cbe4" stroke-width="0.55"/>
<ellipse cx="108.3" cy="349.4" rx="1.5" ry="0.9" fill="none" stroke="#b8cbe4" stroke-width="0.4"/>
<path d="M94.7 338.79999999999995 L118.7 340.0 L120.3 369.59999999999997 L95.7 371.0 Z" fill="none" stroke="#3f4353" stroke-width="1.0"/>
<path d="M97.1 341.2 L117.3 342.0" fill="none" stroke="#7d8296" stroke-width="0.7"/>
<circle cx="152.4" cy="354.9" r="19.0" fill="#f5f4f7" stroke="#30364f" stroke-width="0.95"/>
<path d="M136.56 350.66 A16.4 16.4 0 0 1 168.24 350.66" fill="none" stroke="#596079" stroke-width="2.6" stroke-dasharray="1.3 2.4"/>
<path d="M167.06 362.69 A16.6 16.6 0 0 1 137.74 362.69" fill="none" stroke="#3a405e" stroke-width="2.3" stroke-dasharray="2.0 0.6"/>
<circle cx="152.4" cy="354.9" r="14.1" fill="#fbfbfd" stroke="#50577a" stroke-width="0.6"/>
<circle cx="152.4" cy="354.7" r="13.0" fill="url(#discg)"/>
<path d="M144.6 363.8 L144.6 357.5 L144.6 355.8 L145.7 355.8 L145.7 357.6 L146.6 357.6 L146.6 357 L147.7 357 L147.7 357.6 L148.6 357.6 L148.6 357 L149.7 357 L149.7 357.6 L150.6 357.6 L150.6 356.4 L151.7 356.4 L151.7 357.6 L152.6 357.6 L152.6 356.4 L153.7 356.4 L153.7 357.6 L154.6 357.6 L154.6 357 L155.7 357 L155.7 357.6 L156.6 357.6 L156.6 357 L157.7 357 L157.7 357.6 L158.6 357.6 L158.6 355.8 L159.7 355.8 L159.7 357.6 L160.6 357.6 L160.6 363.8 Z" fill="#e8eef6" opacity="0.95"/>
<rect x="145.8" y="359.2" width="0.95" height="3.2" fill="#5580b2"/>
<rect x="147.85" y="359.2" width="0.95" height="3.2" fill="#5580b2"/>
<rect x="149.9" y="359.2" width="0.95" height="3.2" fill="#5580b2"/>
<rect x="151.95" y="359.2" width="0.95" height="3.2" fill="#5580b2"/>
<rect x="154" y="359.2" width="0.95" height="3.2" fill="#5580b2"/>
<rect x="156.05" y="359.2" width="0.95" height="3.2" fill="#5580b2"/>
<rect x="158.1" y="359.2" width="0.95" height="3.2" fill="#5580b2"/>
<path d="M148.8 348.9 L152.4 346.5 L156.0 348.9 L152.4 351.09999999999997 Z" fill="none" stroke="#b8cbe4" stroke-width="0.55"/>
<ellipse cx="152.4" cy="348.9" rx="1.5" ry="0.9" fill="none" stroke="#b8cbe4" stroke-width="0.4"/>
<path d="M142.4 339.09999999999997 L167.0 340.7 L166.4 369.5 L141.4 369.9 Z" fill="none" stroke="#8a8fa2" stroke-width="0.7"/>
</g>
<polyline points="39.4,404 39.65,393.35 39.9,384.61 40.15,378.78 40.4,374.3 40.65,370.59 40.9,367.29 41.15,364.1 41.4,361.13 41.65,358.37 41.9,355.78 42.15,353.31 42.4,350.93 42.65,348.62 42.9,346.42 43.15,344.3 43.4,342.26 43.65,340.27 43.9,338.32 44.15,336.39 44.4,334.49 44.65,332.69 44.9,330.92 45.15,329.11 45.4,327.2 45.65,324.61 45.9,323 46.15,327.79 46.4,329.47 46.65,325.24 46.9,321 47.15,318.77 47.4,316.96 47.65,315.38 47.9,313.84 48.15,312.14 48.4,310.34 48.65,308.52 48.9,306.73 49.15,304.99 49.4,303.35 49.65,301.71 49.9,300.08 50.15,298.48 50.4,296.94 50.65,295.48 50.9,294.14 51.15,292.94 51.4,291.88 51.65,290.89 51.9,289.96 52.15,289.09 52.4,288.26 52.65,287.49 52.9,286.76 53.15,286.08 53.4,285.44 53.65,284.84 53.9,284.27 54.15,283.72 54.4,283.2 54.65,282.7 54.9,282.22 55.15,281.77 55.4,281.34 55.65,280.92 55.9,280.52 56.15,280.15 56.4,279.78 56.65,279.44 56.9,279.1 57.15,278.78 57.4,278.47 57.65,278.18 57.9,277.9 58.15,277.64 58.4,277.39 58.65,277.15 58.9,276.93 59.15,276.72 59.4,276.51 59.65,276.32 59.9,276.13 60.15,275.95 60.4,275.77 60.65,275.61 60.9,275.45 61.15,275.31 61.4,275.17 61.65,275.03 61.9,274.9 62.15,274.77 62.4,274.65 62.65,274.53 62.9,274.42 63.15,274.32 63.4,274.22 63.65,274.12 63.9,274.03 64.15,273.95 64.4,273.87 64.65,273.8 64.9,273.73 65.15,273.66 65.4,273.6 65.65,273.54 65.9,273.48 66.15,273.42 66.4,273.36 66.65,273.3 66.9,273.24 67.15,273.18 67.4,273.12 67.65,273.06 67.9,273 68.15,272.94 68.4,272.88 68.65,272.82 68.9,272.76 69.15,272.7 69.4,272.64 69.65,272.58 69.9,272.52 70.15,272.46 70.4,272.39 70.65,272.32 70.9,272.24 71.15,272.17 71.4,272.1 71.65,272.03 71.9,271.97 72.15,271.93 72.4,271.91 72.65,271.91 72.9,272.2 73.15,272.7 73.4,273.15 73.65,273.29 73.9,273.09 74.15,272.7 74.4,272.27 74.65,271.95 74.9,271.7 75.15,271.46 75.4,271.23 75.65,271.02 75.9,270.83 76.15,270.66 76.4,270.51 76.65,270.37 76.9,270.24 77.15,270.12 77.4,270.01 77.65,269.91 77.9,269.81 78.15,269.72 78.4,269.63 78.65,269.53 78.9,269.44 79.15,269.36 79.4,269.31 79.65,269.33 79.9,270.12 80.15,271.79 80.4,274 80.65,278.4 80.9,284 81.15,289.77 81.4,294.45 81.65,293.94 81.9,289.09 82.15,283.78 82.4,280.17 82.65,276.8 82.9,274.02 83.15,272.23 83.4,271.06 83.65,270.15 83.9,269.44 84.15,268.86 84.4,268.34 84.65,267.91 84.9,267.59 85.15,267.39 85.4,267.23 85.65,267.09 85.9,266.97 86.15,266.87 86.4,266.78 86.65,266.7 86.9,266.63 87.15,266.56 87.4,266.49 87.65,266.43 87.9,266.37 88.15,266.32 88.4,266.27 88.65,266.22 88.9,266.18 89.15,266.14 89.4,266.09 89.65,266.05 89.9,266.02 90.15,265.98 90.4,265.94 90.65,265.9 90.9,265.87 91.15,265.83 91.4,265.8 91.65,265.77 91.9,265.74 92.15,265.71 92.4,265.68 92.65,265.65 92.9,265.62 93.15,265.59 93.4,265.56 93.65,265.54 93.9,265.51 94.15,265.48 94.4,265.46 94.65,265.43 94.9,265.41 95.15,265.39 95.4,265.36 95.65,265.34 95.9,265.31 96.15,265.29 96.4,265.26 96.65,265.24 96.9,265.21 97.15,265.19 97.4,265.17 97.65,265.15 97.9,265.13 98.15,265.11 98.4,265.09 98.65,265.07 98.9,265.05 99.15,265.04 99.4,265.02 99.65,265.01 99.9,265 100.15,265 100.4,264.99 100.65,264.98 100.9,264.97 101.15,264.96 101.4,264.96 101.65,264.95 101.9,264.94 102.15,264.94 102.4,264.93 102.65,264.93 102.9,264.92 103.15,264.92 103.4,264.91 103.65,264.91 103.9,264.91 104.15,264.9 104.4,264.9 104.65,264.9 104.9,264.9 105.15,264.9 105.4,264.9 105.65,264.9 105.9,264.9 106.15,264.9 106.4,264.9 106.65,264.9 106.9,264.9 107.15,264.9 107.4,264.9 107.65,264.9 107.9,264.9 108.15,264.9 108.4,264.9 108.65,264.9 108.9,264.9 109.15,264.9 109.4,264.9 109.65,264.9 109.9,264.9 110.15,264.9 110.4,264.93 110.65,264.98 110.9,265.04 111.15,265.13 111.4,265.22 111.65,265.33 111.9,265.45 112.15,265.57 112.4,265.76 112.65,266.08 112.9,266.48 113.15,266.87 113.4,267.2 113.65,267.38 113.9,267.37 114.15,267.21 114.4,266.96 114.65,266.66 114.9,266.35 115.15,266.08 115.4,265.9 115.65,265.78 115.9,265.67 116.15,265.58 116.4,265.49 116.65,265.41 116.9,265.34 117.15,265.27 117.4,265.22 117.65,265.17 117.9,265.13 118.15,265.08 118.4,265.04 118.65,265 118.9,264.96 119.15,264.92 119.4,264.88 119.65,264.85 119.9,264.81 120.15,264.78 120.4,264.75 120.65,264.72 120.9,264.69 121.15,264.66 121.4,264.64 121.65,264.61 121.9,264.58 122.15,264.56 122.4,264.54 122.65,264.51 122.9,264.49 123.15,264.47 123.4,264.44 123.65,264.42 123.9,264.4 124.15,264.38 124.4,264.35 124.65,264.33 124.9,264.31 125.15,264.29 125.4,264.26 125.65,264.24 125.9,264.22 126.15,264.2 126.4,264.17 126.65,264.15 126.9,264.13 127.15,264.11 127.4,264.09 127.65,264.07 127.9,264.04 128.15,264.02 128.4,264 128.65,263.98 128.9,263.96 129.15,263.94 129.4,263.92 129.65,263.9 129.9,263.88 130.15,263.86 130.4,263.85 130.65,263.83 130.9,263.81 131.15,263.79 131.4,263.78 131.65,263.76 131.9,263.74 132.15,263.73 132.4,263.71 132.65,263.7 132.9,263.69 133.15,263.67 133.4,263.66 133.65,263.65 133.9,263.64 134.15,263.63 134.4,263.62 134.65,263.61 134.9,263.6 135.15,263.59 135.4,263.58 135.65,263.58 135.9,263.57 136.15,263.56 136.4,263.56 136.65,263.55 136.9,263.54 137.15,263.54 137.4,263.53 137.65,263.53 137.9,263.52 138.15,263.52 138.4,263.51 138.65,263.51 138.9,263.5 139.15,263.5 139.4,263.49 139.65,263.49 139.9,263.48 140.15,263.48 140.4,263.47 140.65,263.47 140.9,263.47 141.15,263.46 141.4,263.46 141.65,263.46 141.9,263.45 142.15,263.45 142.4,263.44 142.65,263.44 142.9,263.44 143.15,263.43 143.4,263.43 143.65,263.43 143.9,263.42 144.15,263.42 144.4,263.41 144.65,263.41 144.9,263.41 145.15,263.4 145.4,263.4 145.65,263.39 145.9,263.39 146.15,263.38 146.4,263.38 146.65,263.37 146.9,263.37 147.15,263.36 147.4,263.36 147.65,263.35 147.9,263.35 148.15,263.34 148.4,263.33 148.65,263.33 148.9,263.32 149.15,263.31 149.4,263.3 149.65,263.29 149.9,263.29 150.15,263.27 150.4,263.26 150.65,263.25 150.9,263.23 151.15,263.22 151.4,263.2 151.65,263.18 151.9,263.17 152.15,263.15 152.4,263.13 152.65,263.11 152.9,263.09 153.15,263.07 153.4,263.05 153.65,263.02 153.9,263 154.15,262.98 154.4,262.96 154.65,262.94 154.9,262.92 155.15,262.9 155.4,262.88 155.65,262.86 155.9,262.84 156.15,262.82 156.4,262.81 156.65,262.79 156.9,262.78 157.15,262.76 157.4,262.75 157.65,262.74 157.9,262.73 158.15,262.72 158.4,262.71 158.65,262.71 158.9,262.7 159.15,262.7 159.4,262.7 159.65,262.7 159.9,262.7 160.15,262.71 160.4,262.71 160.65,262.72 160.9,262.72 161.15,262.73 161.4,262.74 161.65,262.75 161.9,262.76 162.15,262.77 162.4,262.79 162.65,262.8 162.9,262.82 163.15,262.84 163.4,262.85 163.65,262.87 163.9,262.89 164.15,262.92 164.4,262.94 164.65,262.96 164.9,262.99 165.15,263.02 165.4,263.09 165.65,263.18 165.9,263.29 166.15,263.42 166.4,263.57 166.65,263.72 166.9,263.89 167.15,264.05 167.4,264.2 167.65,264.35 167.9,264.52 168.15,264.68 168.4,264.86 168.65,265.04 168.9,265.22 169.15,265.41 169.4,265.61 169.65,265.81 169.9,266.01 170.15,266.22 170.4,266.44 170.65,266.66 170.9,266.88 171.15,267.11 171.4,267.34 171.65,267.58 171.9,267.81 172.15,268.05 172.4,268.3 172.65,268.59 172.9,268.91 173.15,269.27 173.4,269.64 173.65,270.04 173.9,270.44 174.15,270.84 174.4,271.23 174.65,271.6 174.9,271.95 175.15,272.27 175.4,272.55 175.65,272.78 175.9,272.95 176.15,273.06 176.4,273.1 176.65,273.09 176.9,273.06 177.15,273.01 177.4,272.95 177.65,272.89 177.9,272.82 178.15,272.76 178.4,272.7 178.65,272.64 178.9,272.58 179.15,272.51 179.4,272.45 179.65,272.39 179.9,272.34 180.15,272.31 180.4,272.3 180.65,272.31 180.9,272.32 181.15,272.35 181.4,272.4 181.65,272.45 181.9,272.51 182.15,272.58 182.4,272.65 182.65,272.74 182.9,272.83 183.15,272.93 183.4,273.03 183.65,273.14 183.9,273.25 184.15,273.37 184.4,273.49 184.65,273.61 184.9,273.73 185.15,273.86 185.4,273.98 185.65,274.11 185.9,274.23 186.15,274.35 186.4,274.47 186.65,274.59 186.9,274.7 187.15,274.81 187.4,274.9 187.65,274.99 187.9,275.08 188.15,275.16 188.4,275.25 188.65,275.33 188.9,275.43 189.15,275.52 189.4,275.63 189.65,275.75 189.9,275.88 190.15,276.03 190.4,276.2 190.65,276.38 190.9,276.59 191.15,276.83 191.4,277.09 191.65,277.48 191.9,278.32 192.15,279.51 192.4,280.88 192.65,282.29 192.9,284.02 193.15,285.99 193.4,287.86 193.65,289.47 193.9,291.15 194.15,292.36 194.4,292.47 194.65,291.29 194.9,289.45 195.15,287.66 195.4,285.78 195.65,283.78 195.9,282 196.15,280.45 196.4,278.98 196.65,277.65 196.9,276.56 197.15,275.72 197.4,275 197.65,274.37 197.9,273.82 198.15,273.35 198.4,272.94 198.65,272.57 198.9,272.23 199.15,271.92 199.4,271.63 199.65,271.36 199.9,271.12 200.15,270.89 200.4,270.68 200.65,270.48 200.9,270.3 201.15,270.12 201.4,269.95 201.65,269.8 201.9,269.65 202.15,269.51 202.4,269.37 202.65,269.25 202.9,269.13 203.15,269.02 203.4,268.92 203.65,268.82 203.9,268.72 204.15,268.63 204.4,268.54 204.65,268.45 204.9,268.37 205.15,268.29 205.4,268.21 205.65,268.14 205.9,268.07 206.15,268 206.4,267.94 206.65,267.88 206.9,267.82 207.15,267.77 207.4,267.72 207.65,267.67 207.9,267.62 208.15,267.57 208.4,267.52 208.65,267.48 208.9,267.43 209.15,267.39 209.4,267.35 209.65,267.31 209.9,267.28 210.15,267.24 210.4,267.21 210.65,267.18 210.9,267.15 211.15,267.12 211.4,267.1 211.65,267.08 211.9,267.06 212.15,267.04 212.4,267.01 212.65,267 212.9,266.98 213.15,266.96 213.4,266.94 213.65,266.92 213.9,266.9 214.15,266.89 214.4,266.87 214.65,266.85 214.9,266.84 215.15,266.82 215.4,266.81 215.65,266.8 215.9,266.78 216.15,266.77 216.4,266.75 216.65,266.74 216.9,266.73 217.15,266.72 217.4,266.71 217.65,266.69 217.9,266.68 218.15,266.67 218.4,266.66 218.65,266.65 218.9,266.64 219.15,266.63 219.4,266.62 219.65,266.61 219.9,266.6 220.15,266.59 220.4,266.59 220.65,266.58 220.9,266.57 221.15,266.56 221.4,266.55 221.65,266.54 221.9,266.53 222.15,266.52 222.4,266.51 222.65,266.5 222.9,266.49 223.15,266.49 223.4,266.48 223.65,266.47 223.9,266.46 224.15,266.46 224.4,266.45 224.65,266.44 224.9,266.44 225.15,266.43 225.4,266.42 225.65,266.42 225.9,266.41 226.15,266.41 226.4,266.41 226.65,266.4 226.9,266.4 227.15,266.4 227.4,266.4 227.65,266.4 227.9,266.4 228.15,266.4 228.4,266.4 228.65,266.4 228.9,266.4 229.15,266.4 229.4,266.4 229.65,266.4 229.9,266.4 230.15,266.4 230.4,266.4 230.65,266.4 230.9,266.4 231.15,266.4 231.4,266.4 231.65,266.4 231.9,266.4 232.15,266.4 232.4,266.4 232.65,266.4 232.9,266.4 233.15,266.4 233.4,266.4 233.65,266.4 233.9,266.4 234.15,266.4 234.4,266.4 234.65,266.4 234.9,266.4 235.15,266.4 235.4,266.4 235.65,266.4 235.9,266.4 236.15,266.4 236.4,266.4 236.65,266.4 236.9,266.4 237.15,266.4 237.4,266.4 237.65,266.4 237.9,266.4 238.15,266.4 238.4,266.4 238.65,266.4 238.9,266.4 239.15,266.4 239.4,266.4 239.65,266.4 239.9,266.4 240.15,266.4 240.4,266.4 240.65,266.4 240.9,266.4 241.15,266.4 241.4,266.4 241.65,266.4 241.9,266.4 242.15,266.4 242.4,266.4 242.65,266.4 242.9,266.4 243.15,266.4 243.4,266.4 243.65,266.4 243.9,266.4 244.15,266.4 244.4,266.4 244.65,266.4 244.9,266.4 245.15,266.4 245.4,266.4 245.65,266.4 245.9,266.4 246.15,266.4 246.4,266.4 246.65,266.4 246.9,266.4 247.15,266.4 247.4,266.4 247.65,266.4 247.9,266.4 248.15,266.4 248.4,266.4 248.65,266.4 248.9,266.4" fill="none" stroke="#2fb07e" stroke-width="1.5" stroke-linejoin="round" stroke-linecap="round" />
<polyline points="39.6,404 39.85,396.38 40.1,389.83 40.35,384.79 40.6,381.28 40.85,378.51 41.1,376.23 41.35,374.22 41.6,372.41 41.85,370.78 42.1,369.29 42.35,367.9 42.6,366.57 42.85,365.25 43.1,363.91 43.35,362.5 43.6,360.98 43.85,359.33 44.1,357.63 44.35,355.89 44.6,354.1 44.85,352.23 45.1,350.28 45.35,348.2 45.6,346 45.85,342.87 46.1,339.62 46.35,338.74 46.6,344.01 46.85,346.74 47.1,340.44 47.35,334.17 47.6,330.4 47.85,327.33 48.1,325 48.35,323.2 48.6,321.62 48.85,320.24 49.1,319 49.35,317.87 49.6,316.81 49.85,315.78 50.1,314.75 50.35,313.67 50.6,312.5 50.85,311.25 51.1,309.97 51.35,308.66 51.6,307.34 51.85,306.02 52.1,304.71 52.35,303.44 52.6,302.21 52.85,301.03 53.1,299.93 53.35,298.92 53.6,298 53.85,297.19 54.1,296.44 54.35,295.74 54.6,295.09 54.85,294.47 55.1,293.89 55.35,293.34 55.6,292.81 55.85,292.3 56.1,291.8 56.35,291.32 56.6,290.86 56.85,290.4 57.1,289.97 57.35,289.54 57.6,289.14 57.85,288.75 58.1,288.38 58.35,288.03 58.6,287.69 58.85,287.38 59.1,287.07 59.35,286.78 59.6,286.49 59.85,286.22 60.1,285.96 60.35,285.7 60.6,285.46 60.85,285.23 61.1,285.01 61.35,284.8 61.6,284.6 61.85,284.41 62.1,284.23 62.35,284.05 62.6,283.88 62.85,283.71 63.1,283.55 63.35,283.4 63.6,283.25 63.85,283.1 64.1,282.96 64.35,282.83 64.6,282.7 64.85,282.57 65.1,282.45 65.35,282.33 65.6,282.22 65.85,282.11 66.1,282.01 66.35,281.9 66.6,281.8 66.85,281.71 67.1,281.61 67.35,281.52 67.6,281.42 67.85,281.33 68.1,281.24 68.35,281.15 68.6,281.06 68.85,280.97 69.1,280.86 69.35,280.76 69.6,280.65 69.85,280.54 70.1,280.44 70.35,280.34 70.6,280.25 70.85,280.17 71.1,280.1 71.35,280.05 71.6,280.02 71.85,280 72.1,280.07 72.35,280.32 72.6,280.65 72.85,280.98 73.1,281.23 73.35,281.29 73.6,281.13 73.85,280.79 74.1,280.37 74.35,279.94 74.6,279.6 74.85,279.34 75.1,279.09 75.35,278.85 75.6,278.62 75.85,278.41 76.1,278.21 76.35,278.03 76.6,277.85 76.85,277.69 77.1,277.53 77.35,277.38 77.6,277.23 77.85,277.09 78.1,276.95 78.35,276.81 78.6,276.65 78.85,276.49 79.1,276.34 79.35,276.24 79.6,276.2 79.85,276.66 80.1,277.88 80.35,279.61 80.6,283.03 80.85,288.19 81.1,292.18 81.35,295.86 81.6,297.5 81.85,295.2 82.1,290.44 82.35,286.32 82.6,282.78 82.85,279.56 83.1,277.5 83.35,276.47 83.6,275.72 83.85,275.13 84.1,274.58 84.35,274.08 84.6,273.63 84.85,273.27 85.1,273 85.35,272.78 85.6,272.59 85.85,272.42 86.1,272.27 86.35,272.13 86.6,272 86.85,271.88 87.1,271.75 87.35,271.63 87.6,271.51 87.85,271.4 88.1,271.29 88.35,271.19 88.6,271.09 88.85,270.99 89.1,270.9 89.35,270.81 89.6,270.73 89.85,270.65 90.1,270.57 90.35,270.5 90.6,270.42 90.85,270.35 91.1,270.29 91.35,270.22 91.6,270.15 91.85,270.09 92.1,270.03 92.35,269.97 92.6,269.91 92.85,269.86 93.1,269.8 93.35,269.75 93.6,269.69 93.85,269.64 94.1,269.59 94.35,269.53 94.6,269.48 94.85,269.43 95.1,269.38 95.35,269.33 95.6,269.27 95.85,269.22 96.1,269.17 96.35,269.11 96.6,269.06 96.85,269.01 97.1,268.96 97.35,268.91 97.6,268.86 97.85,268.81 98.1,268.76 98.35,268.72 98.6,268.68 98.85,268.64 99.1,268.6 99.35,268.57 99.6,268.54 99.85,268.51 100.1,268.49 100.35,268.47 100.6,268.45 100.85,268.43 101.1,268.41 101.35,268.39 101.6,268.37 101.85,268.35 102.1,268.34 102.35,268.32 102.6,268.31 102.85,268.29 103.1,268.28 103.35,268.27 103.6,268.25 103.85,268.24 104.1,268.23 104.35,268.22 104.6,268.21 104.85,268.2 105.1,268.2 105.35,268.19 105.6,268.18 105.85,268.17 106.1,268.17 106.35,268.16 106.6,268.15 106.85,268.15 107.1,268.14 107.35,268.13 107.6,268.13 107.85,268.12 108.1,268.12 108.35,268.11 108.6,268.11 108.85,268.11 109.1,268.1 109.35,268.1 109.6,268.1 109.85,268.1 110.1,268.1 110.35,268.12 110.6,268.17 110.85,268.23 111.1,268.31 111.35,268.4 111.6,268.51 111.85,268.62 112.1,268.75 112.35,268.91 112.6,269.21 112.85,269.6 113.1,270 113.35,270.34 113.6,270.56 113.85,270.59 114.1,270.44 114.35,270.17 114.6,269.83 114.85,269.48 115.1,269.16 115.35,268.93 115.6,268.79 115.85,268.66 116.1,268.55 116.35,268.45 116.6,268.35 116.85,268.27 117.1,268.2 117.35,268.13 117.6,268.08 117.85,268.03 118.1,267.98 118.35,267.93 118.6,267.88 118.85,267.84 119.1,267.8 119.35,267.76 119.6,267.72 119.85,267.68 120.1,267.64 120.35,267.61 120.6,267.58 120.85,267.54 121.1,267.51 121.35,267.48 121.6,267.45 121.85,267.43 122.1,267.4 122.35,267.37 122.6,267.35 122.85,267.32 123.1,267.29 123.35,267.27 123.6,267.24 123.85,267.22 124.1,267.19 124.35,267.17 124.6,267.14 124.85,267.12 125.1,267.09 125.35,267.06 125.6,267.04 125.85,267.01 126.1,266.99 126.35,266.96 126.6,266.94 126.85,266.92 127.1,266.89 127.35,266.87 127.6,266.85 127.85,266.83 128.1,266.81 128.35,266.78 128.6,266.76 128.85,266.74 129.1,266.72 129.35,266.7 129.6,266.68 129.85,266.66 130.1,266.64 130.35,266.62 130.6,266.6 130.85,266.58 131.1,266.56 131.35,266.54 131.6,266.52 131.85,266.5 132.1,266.48 132.35,266.46 132.6,266.44 132.85,266.42 133.1,266.4 133.35,266.38 133.6,266.36 133.85,266.34 134.1,266.32 134.35,266.3 134.6,266.28 134.85,266.25 135.1,266.23 135.35,266.21 135.6,266.19 135.85,266.17 136.1,266.15 136.35,266.13 136.6,266.11 136.85,266.09 137.1,266.07 137.35,266.05 137.6,266.03 137.85,266.01 138.1,265.99 138.35,265.97 138.6,265.95 138.85,265.93 139.1,265.91 139.35,265.89 139.6,265.87 139.85,265.85 140.1,265.83 140.35,265.81 140.6,265.79 140.85,265.77 141.1,265.75 141.35,265.73 141.6,265.71 141.85,265.7 142.1,265.68 142.35,265.66 142.6,265.64 142.85,265.61 143.1,265.59 143.35,265.57 143.6,265.55 143.85,265.53 144.1,265.51 144.35,265.49 144.6,265.47 144.85,265.45 145.1,265.43 145.35,265.4 145.6,265.38 145.85,265.36 146.1,265.34 146.35,265.31 146.6,265.29 146.85,265.27 147.1,265.24 147.35,265.22 147.6,265.2 147.85,265.17 148.1,265.15 148.35,265.12 148.6,265.1 148.85,265.07 149.1,265.04 149.35,265.02 149.6,264.99 149.85,264.96 150.1,264.93 150.35,264.89 150.6,264.86 150.85,264.82 151.1,264.78 151.35,264.74 151.6,264.69 151.85,264.65 152.1,264.6 152.35,264.56 152.6,264.51 152.85,264.46 153.1,264.42 153.35,264.37 153.6,264.32 153.85,264.27 154.1,264.22 154.35,264.18 154.6,264.13 154.85,264.08 155.1,264.04 155.35,264 155.6,263.95 155.85,263.91 156.1,263.87 156.35,263.84 156.6,263.8 156.85,263.77 157.1,263.74 157.35,263.71 157.6,263.69 157.85,263.66 158.1,263.64 158.35,263.63 158.6,263.62 158.85,263.61 159.1,263.6 159.35,263.6 159.6,263.6 159.85,263.6 160.1,263.6 160.35,263.6 160.6,263.6 160.85,263.6 161.1,263.6 161.35,263.6 161.6,263.6 161.85,263.6 162.1,263.6 162.35,263.6 162.6,263.6 162.85,263.6 163.1,263.6 163.35,263.6 163.6,263.6 163.85,263.6 164.1,263.6 164.35,263.6 164.6,263.6 164.85,263.6 165.1,263.6 165.35,263.63 165.6,263.69 165.85,263.76 166.1,263.86 166.35,263.97 166.6,264.09 166.85,264.22 167.1,264.35 167.35,264.48 167.6,264.6 167.85,264.74 168.1,264.88 168.35,265.04 168.6,265.21 168.85,265.38 169.1,265.56 169.35,265.75 169.6,265.95 169.85,266.16 170.1,266.37 170.35,266.58 170.6,266.8 170.85,267.03 171.1,267.26 171.35,267.49 171.6,267.73 171.85,267.97 172.1,268.21 172.35,268.45 172.6,268.73 172.85,269.05 173.1,269.4 173.35,269.78 173.6,270.18 173.85,270.58 174.1,270.99 174.35,271.4 174.6,271.78 174.85,272.15 175.1,272.48 175.35,272.78 175.6,273.02 175.85,273.22 176.1,273.34 176.35,273.4 176.6,273.39 176.85,273.36 177.1,273.32 177.35,273.26 177.6,273.2 177.85,273.13 178.1,273.07 178.35,273.01 178.6,272.96 178.85,272.89 179.1,272.83 179.35,272.76 179.6,272.7 179.85,272.65 180.1,272.62 180.35,272.6 180.6,272.6 180.85,272.62 181.1,272.65 181.35,272.69 181.6,272.73 181.85,272.79 182.1,272.86 182.35,272.94 182.6,273.02 182.85,273.11 183.1,273.21 183.35,273.31 183.6,273.42 183.85,273.53 184.1,273.64 184.35,273.76 184.6,273.88 184.85,274.01 185.1,274.13 185.35,274.26 185.6,274.38 185.85,274.5 186.1,274.63 186.35,274.75 186.6,274.86 186.85,274.98 187.1,275.09 187.35,275.18 187.6,275.28 187.85,275.36 188.1,275.45 188.35,275.53 188.6,275.62 188.85,275.71 189.1,275.8 189.35,275.91 189.6,276.02 189.85,276.15 190.1,276.3 190.35,276.46 190.6,276.64 190.85,276.85 191.1,277.08 191.35,277.33 191.6,277.66 191.85,278.42 192.1,279.55 192.35,280.9 192.6,282.3 192.85,283.94 193.1,285.89 193.35,287.81 193.6,289.43 193.85,291.13 194.1,292.48 194.35,292.87 194.6,291.9 194.85,290.14 195.1,288.3 195.35,286.47 195.6,284.47 195.85,282.62 196.1,281.06 196.35,279.57 196.6,278.21 196.85,277.06 197.1,276.17 197.35,275.41 197.6,274.73 197.85,274.15 198.1,273.65 198.35,273.22 198.6,272.84 198.85,272.49 199.1,272.17 199.35,271.88 199.6,271.61 199.85,271.36 200.1,271.13 200.35,270.92 200.6,270.72 200.85,270.53 201.1,270.36 201.35,270.19 201.6,270.03 201.85,269.88 202.1,269.73 202.35,269.6 202.6,269.47 202.85,269.35 203.1,269.24 203.35,269.14 203.6,269.04 203.85,268.94 204.1,268.85 204.35,268.76 204.6,268.67 204.85,268.59 205.1,268.51 205.35,268.44 205.6,268.36 205.85,268.29 206.1,268.22 206.35,268.16 206.6,268.1 206.85,268.04 207.1,267.98 207.35,267.92 207.6,267.86 207.85,267.81 208.1,267.75 208.35,267.7 208.6,267.64 208.85,267.59 209.1,267.54 209.35,267.5 209.6,267.45 209.85,267.41 210.1,267.37 210.35,267.33 210.6,267.29 210.85,267.26 211.1,267.23 211.35,267.2 211.6,267.18 211.85,267.16 212.1,267.14 212.35,267.12 212.6,267.1 212.85,267.08 213.1,267.06 213.35,267.04 213.6,267.02 213.85,267 214.1,266.99 214.35,266.97 214.6,266.95 214.85,266.94 215.1,266.92 215.35,266.91 215.6,266.89 215.85,266.88 216.1,266.87 216.35,266.85 216.6,266.84 216.85,266.83 217.1,266.82 217.35,266.81 217.6,266.79 217.85,266.78 218.1,266.77 218.35,266.76 218.6,266.75 218.85,266.74 219.1,266.73 219.35,266.72 219.6,266.71 219.85,266.71 220.1,266.7 220.35,266.69 220.6,266.68 220.85,266.67 221.1,266.66 221.35,266.65 221.6,266.64 221.85,266.63 222.1,266.62 222.35,266.61 222.6,266.61 222.85,266.6 223.1,266.59 223.35,266.58 223.6,266.57 223.85,266.56 224.1,266.56 224.35,266.55 224.6,266.54 224.85,266.54 225.1,266.53 225.35,266.53 225.6,266.52 225.85,266.52 226.1,266.51 226.35,266.51 226.6,266.51 226.85,266.5 227.1,266.5 227.35,266.5 227.6,266.5 227.85,266.5 228.1,266.5 228.35,266.5 228.6,266.5 228.85,266.5 229.1,266.5 229.35,266.5 229.6,266.5 229.85,266.5 230.1,266.5 230.35,266.5 230.6,266.5 230.85,266.5 231.1,266.5 231.35,266.5 231.6,266.5 231.85,266.5 232.1,266.5 232.35,266.5 232.6,266.5 232.85,266.5 233.1,266.5 233.35,266.5 233.6,266.5 233.85,266.5 234.1,266.5 234.35,266.5 234.6,266.5 234.85,266.5 235.1,266.5 235.35,266.5 235.6,266.5 235.85,266.5 236.1,266.5 236.35,266.5 236.6,266.5 236.85,266.5 237.1,266.5 237.35,266.5 237.6,266.5 237.85,266.5 238.1,266.5 238.35,266.5 238.6,266.5 238.85,266.5 239.1,266.5 239.35,266.5 239.6,266.5 239.85,266.5 240.1,266.5 240.35,266.5 240.6,266.5 240.85,266.5 241.1,266.5 241.35,266.5 241.6,266.5 241.85,266.5 242.1,266.5 242.35,266.5 242.6,266.5 242.85,266.5 243.1,266.5 243.35,266.5 243.6,266.5 243.85,266.5 244.1,266.5 244.35,266.5 244.6,266.5 244.85,266.5 245.1,266.5 245.35,266.5 245.6,266.5 245.85,266.5 246.1,266.5 246.35,266.5 246.6,266.5 246.85,266.5 247.1,266.5 247.35,266.5 247.6,266.5 247.85,266.5 248.1,266.5 248.35,266.5 248.6,266.5 248.85,266.5" fill="none" stroke="#2c3a88" stroke-width="1.5" stroke-linejoin="round" stroke-linecap="round" />
<line x1="65" y1="287.5" x2="65" y2="300" stroke="#6a6f86" stroke-width="0.7" stroke-dasharray="0.9 0.9"/>
<path d="M65 300 L63.85 297 L66.15 297 Z" fill="#2a2a30"/>
<line x1="55" y1="303.8" x2="55" y2="326.4" stroke="#8a90c8" stroke-width="0.7" stroke-dasharray="0.9 0.9"/>
<path d="M55 326.4 L53.85 323.4 L56.15 323.4 Z" fill="#2a2a30"/>
<line x1="74.4" y1="285" x2="81.7" y2="315.6" stroke="#6a6f86" stroke-width="0.7" stroke-dasharray="0.9 0.9"/>
<path d="M81.7 315.6 L79.89 312.95 L82.12 312.42 Z" fill="#2a2a30"/>
<line x1="46.9" y1="358.1" x2="53.9" y2="373.4" stroke="#6a6f86" stroke-width="0.7" stroke-dasharray="0.9 0.9"/>
<path d="M53.9 373.4 L51.61 371.15 L53.7 370.19 Z" fill="#2a2a30"/>
<rect x="39.1" y="237.9" width="210" height="166.85" fill="none" stroke="#0a0a0a" stroke-width="1.5"/>
<line x1="35.3" y1="404.75" x2="39.1" y2="404.75" stroke="#0a0a0a" stroke-width="1.25" />
<line x1="35.3" y1="371.38" x2="39.1" y2="371.38" stroke="#0a0a0a" stroke-width="1.25" />
<line x1="35.3" y1="338.01" x2="39.1" y2="338.01" stroke="#0a0a0a" stroke-width="1.25" />
<line x1="35.3" y1="304.64" x2="39.1" y2="304.64" stroke="#0a0a0a" stroke-width="1.25" />
<line x1="35.3" y1="271.27" x2="39.1" y2="271.27" stroke="#0a0a0a" stroke-width="1.25" />
<line x1="35.3" y1="237.9" x2="39.1" y2="237.9" stroke="#0a0a0a" stroke-width="1.25" />
<line x1="37.1" y1="388.06" x2="39.1" y2="388.06" stroke="#0a0a0a" stroke-width="1.25" />
<line x1="37.1" y1="354.69" x2="39.1" y2="354.69" stroke="#0a0a0a" stroke-width="1.25" />
<line x1="37.1" y1="321.32" x2="39.1" y2="321.32" stroke="#0a0a0a" stroke-width="1.25" />
<line x1="37.1" y1="287.95" x2="39.1" y2="287.95" stroke="#0a0a0a" stroke-width="1.25" />
<line x1="37.1" y1="254.59" x2="39.1" y2="254.59" stroke="#0a0a0a" stroke-width="1.25" />
<text x="33.4" y="408.25" font-size="10.0" text-anchor="end" fill="#1c1c1c" >0</text>
<text x="33.4" y="374.88" font-size="10.0" text-anchor="end" fill="#1c1c1c" >20</text>
<text x="33.4" y="341.51" font-size="10.0" text-anchor="end" fill="#1c1c1c" >40</text>
<text x="33.4" y="308.14" font-size="10.0" text-anchor="end" fill="#1c1c1c" >60</text>
<text x="33.4" y="274.77" font-size="10.0" text-anchor="end" fill="#1c1c1c" >80</text>
<text x="33.4" y="241.4" font-size="10.0" text-anchor="end" fill="#1c1c1c" >100</text>
<line x1="51.7" y1="404.75" x2="51.7" y2="408.55" stroke="#0a0a0a" stroke-width="1.25" />
<line x1="101.05" y1="404.75" x2="101.05" y2="408.55" stroke="#0a0a0a" stroke-width="1.25" />
<line x1="150.4" y1="404.75" x2="150.4" y2="408.55" stroke="#0a0a0a" stroke-width="1.25" />
<line x1="199.75" y1="404.75" x2="199.75" y2="408.55" stroke="#0a0a0a" stroke-width="1.25" />
<line x1="249.1" y1="404.75" x2="249.1" y2="408.55" stroke="#0a0a0a" stroke-width="1.25" />
<line x1="76.38" y1="404.75" x2="76.38" y2="406.75" stroke="#0a0a0a" stroke-width="1.25" />
<line x1="125.72" y1="404.75" x2="125.72" y2="406.75" stroke="#0a0a0a" stroke-width="1.25" />
<line x1="175.07" y1="404.75" x2="175.07" y2="406.75" stroke="#0a0a0a" stroke-width="1.25" />
<line x1="224.42" y1="404.75" x2="224.42" y2="406.75" stroke="#0a0a0a" stroke-width="1.25" />
<text x="52.5" y="420.3" font-size="10.0" text-anchor="middle" fill="#1c1c1c" >400</text>
<text x="101.85" y="420.3" font-size="10.0" text-anchor="middle" fill="#1c1c1c" >600</text>
<text x="151.2" y="420.3" font-size="10.0" text-anchor="middle" fill="#1c1c1c" >800</text>
<text x="200.55" y="420.3" font-size="10.0" text-anchor="middle" fill="#1c1c1c" >1000</text>
<text x="249.9" y="420.3" font-size="10.0" text-anchor="middle" fill="#1c1c1c" >1200</text>
<text x="141.5" y="433.9" font-size="10.0" text-anchor="middle" fill="#1c1c1c" >Wavelength (nm)</text>
<text x="13.4" y="321.5" font-size="10.0" text-anchor="middle" fill="#1c1c1c" transform="rotate(-90 13.4 321.5)" >Transmittance (%)</text>
<text x="58.1" y="259.4" font-size="10.0" text-anchor="start" fill="#1c1c1c" >Er<tspan font-size="5.8" dy="-3.8">3+</tspan><tspan dy="3.8" font-size="1">&#8203;</tspan></text>
<text x="87.2" y="284.4" font-size="10.0" text-anchor="start" fill="#1c1c1c" ><tspan font-size="5.8" dy="-3.8">4</tspan><tspan dy="3.8" font-size="1">&#8203;</tspan>S<tspan font-size="5.8" dy="3">3/2</tspan><tspan dy="-3" font-size="1">&#8203;</tspan></text>
<text x="114.2" y="282.5" font-size="10.0" text-anchor="start" fill="#1c1c1c" ><tspan font-size="5.8" dy="-3.8">4</tspan><tspan dy="3.8" font-size="1">&#8203;</tspan>F<tspan font-size="5.8" dy="3">9/2</tspan><tspan dy="-3" font-size="1">&#8203;</tspan></text>
<text x="87.2" y="305.6" font-size="10.0" text-anchor="start" fill="#1c1c1c" ><tspan font-size="5.8" dy="-3.8">2</tspan><tspan dy="3.8" font-size="1">&#8203;</tspan>H<tspan font-size="5.8" dy="3">11/2</tspan><tspan dy="-3" font-size="1">&#8203;</tspan></text>
<text x="58.6" y="313.1" font-size="10.0" text-anchor="start" fill="#1c1c1c" ><tspan font-size="5.8" dy="-3.8">4</tspan><tspan dy="3.8" font-size="1">&#8203;</tspan>F<tspan font-size="5.8" dy="3">5/2</tspan><tspan dy="-3" font-size="1">&#8203;</tspan></text>
<text x="81" y="326.9" font-size="10.0" text-anchor="start" fill="#1c1c1c" ><tspan font-size="5.8" dy="-3.8">4</tspan><tspan dy="3.8" font-size="1">&#8203;</tspan>F<tspan font-size="5.8" dy="3">7/2</tspan><tspan dy="-3" font-size="1">&#8203;</tspan></text>
<text x="52.2" y="339" font-size="10.0" text-anchor="start" fill="#1c1c1c" ><tspan font-size="5.8" dy="-3.8">2</tspan><tspan dy="3.8" font-size="1">&#8203;</tspan>H<tspan font-size="5.8" dy="3">9/2</tspan><tspan dy="-3" font-size="1">&#8203;</tspan></text>
<text x="49.6" y="386.6" font-size="10.0" text-anchor="start" fill="#1c1c1c" ><tspan font-size="5.8" dy="-3.8">4</tspan><tspan dy="3.8" font-size="1">&#8203;</tspan>G<tspan font-size="5.8" dy="3">11/2</tspan><tspan dy="-3" font-size="1">&#8203;</tspan></text>
<text x="158.5" y="305.7" font-size="10.0" text-anchor="start" fill="#1c1c1c" >Er<tspan font-size="5.8" dy="-3.8">3+</tspan><tspan dy="3.8" font-size="1">&#8203;</tspan>: <tspan font-size="5.8" dy="-3.8">4</tspan><tspan dy="3.8" font-size="1">&#8203;</tspan>I<tspan font-size="5.8" dy="3">11/2</tspan><tspan dy="-3" font-size="1">&#8203;</tspan>+Yb<tspan font-size="5.8" dy="-3.8">3+</tspan><tspan dy="3.8" font-size="1">&#8203;</tspan>: <tspan font-size="5.8" dy="-3.8">2</tspan><tspan dy="3.8" font-size="1">&#8203;</tspan>F<tspan font-size="5.8" dy="3">5/2</tspan><tspan dy="-3" font-size="1">&#8203;</tspan></text>
<text x="97.7" y="396.6" font-size="10.0" text-anchor="start" fill="#1c1c1c" >PG</text>
<text x="136.3" y="396.6" font-size="10.0" text-anchor="start" fill="#1c1c1c" >GC-695</text>
<line x1="183.4" y1="354.8" x2="200.2" y2="354.8" stroke="#2fb07e" stroke-width="1.4" />
<line x1="183.4" y1="369.2" x2="200.2" y2="369.2" stroke="#2c3a88" stroke-width="1.4" />
<text x="205.6" y="358.3" font-size="10.0" text-anchor="start" fill="#1c1c1c" >PG</text>
<text x="205.2" y="373.7" font-size="10.0" text-anchor="start" fill="#1c1c1c" >GC-695</text>
</g>
<g>
<text x="278.6" y="235" font-size="20" text-anchor="start" fill="#141010" font-weight="bold" >e</text>
<polyline points="313.4,405.3 313.6,405.3 313.8,405.3 314,405.29 314.2,405.29 314.4,405.29 314.6,405.28 314.8,405.28 315,405.27 315.2,405.27 315.4,405.26 315.6,405.26 315.8,405.25 316,405.25 316.2,405.24 316.4,405.24 316.6,405.23 316.8,405.22 317,405.22 317.2,405.21 317.4,405.2 317.6,405.2 317.8,405.19 318,405.18 318.2,405.18 318.4,405.17 318.6,405.16 318.8,405.15 319,405.15 319.2,405.14 319.4,405.13 319.6,405.12 319.8,405.12 320,405.11 320.2,405.1 320.4,405.09 320.6,405.08 320.8,405.07 321,405.06 321.2,405.05 321.4,405.04 321.6,405.03 321.8,405.02 322,405.01 322.2,405 322.4,404.99 322.6,404.98 322.8,404.97 323,404.96 323.2,404.94 323.4,404.93 323.6,404.92 323.8,404.9 324,404.89 324.2,404.87 324.4,404.86 324.6,404.85 324.8,404.83 325,404.82 325.2,404.8 325.4,404.78 325.6,404.77 325.8,404.75 326,404.74 326.2,404.72 326.4,404.71 326.6,404.69 326.8,404.67 327,404.65 327.2,404.63 327.4,404.6 327.6,404.57 327.8,404.55 328,404.52 328.2,404.48 328.4,404.44 328.6,404.4 328.8,404.34 329,404.26 329.2,404.17 329.4,404.06 329.6,403.93 329.8,403.8 330,403.65 330.2,403.49 330.4,403.33 330.6,403.16 330.8,402.97 331,402.76 331.2,402.52 331.4,402.26 331.6,401.97 331.8,401.65 332,401.3 332.2,400.93 332.4,400.53 332.6,400.06 332.8,399.49 333,398.85 333.2,398.13 333.4,397.37 333.6,396.57 333.8,395.75 334,394.87 334.2,393.91 334.4,392.89 334.6,391.8 334.8,390.67 335,389.51 335.2,388.32 335.4,387.06 335.6,385.72 335.8,384.35 336,382.95 336.2,381.54 336.4,380.15 336.6,378.76 336.8,377.34 337,375.92 337.2,374.49 337.4,373.08 337.6,371.67 337.8,370.29 338,368.9 338.2,367.5 338.4,366.14 338.6,364.82 338.8,363.57 339,362.36 339.2,361.16 339.4,360.03 339.6,359 339.8,358.11 340,357.32 340.2,356.57 340.4,355.9 340.6,355.36 340.8,354.99 341,354.73 341.2,354.5 341.4,354.33 341.6,354.23 341.8,354.24 342,354.42 342.2,354.73 342.4,355.13 342.6,355.56 342.8,356 343,356.57 343.2,357.24 343.4,357.97 343.6,358.7 343.8,359.38 344,360.04 344.2,360.7 344.4,361.37 344.6,362.04 344.8,362.68 345,363.3 345.2,363.88 345.4,364.43 345.6,365 345.8,365.59 346,366.16 346.2,366.69 346.4,367.15 346.6,367.53 346.8,367.78 347,367.92 347.2,368.03 347.4,368.12 347.6,368.19 347.8,368.24 348,368.25 348.2,368.16 348.4,367.93 348.6,367.59 348.8,367.2 349,366.79 349.2,366.41 349.4,366.11 349.6,365.85 349.8,365.57 350,365.29 350.2,365.03 350.4,364.81 350.6,364.65 350.8,364.56 351,364.56 351.2,364.69 351.4,364.92 351.6,365.22 351.8,365.56 352,365.91 352.2,366.34 352.4,366.89 352.6,367.54 352.8,368.26 353,369.03 353.2,369.82 353.4,370.6 353.6,371.37 353.8,372.22 354,373.13 354.2,374.05 354.4,374.94 354.6,375.75 354.8,376.44 355,377.1 355.2,377.76 355.4,378.38 355.6,378.86 355.8,379.13 356,379.09 356.2,378.46 356.4,377.39 356.6,376.05 356.8,374.61 357,373.19 357.2,371.58 357.4,369.74 357.6,367.71 357.8,365.51 358,363.18 358.2,360.58 358.4,357.63 358.6,354.46 358.8,351.2 359,347.97 359.2,344.82 359.4,341.67 359.6,338.46 359.8,335.12 360,331.59 360.2,327.79 360.4,323.58 360.6,319.11 360.8,314.57 361,310.12 361.2,305.92 361.4,301.76 361.6,297.66 361.8,293.65 362,289.77 362.2,286.06 362.4,282.36 362.6,278.64 362.8,275.12 363,271.99 363.2,269.49 363.4,267.3 363.6,265.2 363.8,263.5 364,262.51 364.2,262.45 364.4,263.03 364.6,264.02 364.8,265.26 365,266.56 365.2,268.13 365.4,270.15 365.6,272.39 365.8,274.65 366,276.77 366.2,278.92 366.4,281.1 366.6,283.29 366.8,285.43 367,287.51 367.2,289.47 367.4,291.37 367.6,293.26 367.8,295.11 368,296.89 368.2,298.56 368.4,300.1 368.6,301.46 368.8,302.73 369,303.93 369.2,304.94 369.4,305.66 369.6,306.19 369.8,306.66 370,306.99 370.2,307.12 370.4,306.9 370.6,306.3 370.8,305.46 371,304.49 371.2,303.51 371.4,302.64 371.6,301.74 371.8,300.7 372,299.6 372.2,298.57 372.4,297.7 372.6,297.11 372.8,296.88 373,297.02 373.2,297.38 373.4,297.9 373.6,298.54 373.8,299.22 374,300.09 374.2,301.25 374.4,302.64 374.6,304.19 374.8,305.81 375,307.48 375.2,309.32 375.4,311.34 375.6,313.49 375.8,315.74 376,318.05 376.2,320.4 376.4,322.89 376.6,325.51 376.8,328.19 377,330.9 377.2,333.59 377.4,336.22 377.6,338.84 377.8,341.46 378,344.08 378.2,346.69 378.4,349.29 378.6,351.87 378.8,354.47 379,357.09 379.2,359.71 379.4,362.29 379.6,364.8 379.8,367.2 380,369.48 380.2,371.7 380.4,373.87 380.6,375.97 380.8,377.97 381,379.86 381.2,381.61 381.4,383.26 381.6,384.86 381.8,386.39 382,387.83 382.2,389.18 382.4,390.43 382.6,391.55 382.8,392.59 383,393.55 383.2,394.45 383.4,395.29 383.6,396.07 383.8,396.78 384,397.44 384.2,398.06 384.4,398.66 384.6,399.22 384.8,399.72 385,400.16 385.2,400.52 385.4,400.84 385.6,401.12 385.8,401.39 386,401.63 386.2,401.85 386.4,402.05 386.6,402.24 386.8,402.41 387,402.57 387.2,402.72 387.4,402.87 387.6,403.01 387.8,403.14 388,403.27 388.2,403.38 388.4,403.49 388.6,403.59 388.8,403.68 389,403.77 389.2,403.84 389.4,403.91 389.6,403.97 389.8,404.03 390,404.09 390.2,404.15 390.4,404.2 390.6,404.25 390.8,404.3 391,404.34 391.2,404.39 391.4,404.43 391.6,404.47 391.8,404.51 392,404.55 392.2,404.58 392.4,404.62 392.6,404.65 392.8,404.69 393,404.72 393.2,404.75 393.4,404.78 393.6,404.81 393.8,404.84 394,404.87 394.2,404.91 394.4,404.94 394.6,404.96 394.8,404.99 395,405.02 395.2,405.05 395.4,405.07 395.6,405.09 395.8,405.11 396,405.13 396.2,405.15 396.4,405.17 396.6,405.18 396.8,405.19 397,405.2 397.2,405.21 397.4,405.21 397.6,405.22 397.8,405.23 398,405.23 398.2,405.24 398.4,405.24 398.6,405.25 398.8,405.25 399,405.26 399.2,405.26 399.4,405.27 399.6,405.27 399.8,405.28 400,405.28 400.2,405.29 400.4,405.29 400.6,405.3 400.8,405.3 401,405.31 401.2,405.31 401.4,405.31 401.6,405.32 401.8,405.32 402,405.33 402.2,405.33 402.4,405.33 402.6,405.34 402.8,405.34 403,405.34 403.2,405.35 403.4,405.35 403.6,405.35 403.8,405.36 404,405.36 404.2,405.36 404.4,405.36 404.6,405.37 404.8,405.37 405,405.37 405.2,405.37 405.4,405.38 405.6,405.38 405.8,405.38 406,405.38 406.2,405.38 406.4,405.39 406.6,405.39 406.8,405.39 407,405.39 407.2,405.39 407.4,405.39 407.6,405.39 407.8,405.39 408,405.4 408.2,405.4 408.4,405.4 408.6,405.4 408.8,405.4 409,405.4 409.2,405.4 409.4,405.4 409.6,405.4 409.8,405.4 410,405.4 410.2,405.4 410.4,405.4 410.6,405.4 410.8,405.4 411,405.4 411.2,405.4 411.4,405.4 411.6,405.4 411.8,405.4 412,405.4 412.2,405.4 412.4,405.4 412.6,405.4 412.8,405.4 413,405.4 413.2,405.4 413.4,405.4 413.6,405.4 413.8,405.4 414,405.4 414.2,405.4 414.4,405.4 414.6,405.4 414.8,405.4 415,405.4 415.2,405.4 415.4,405.4 415.6,405.4 415.8,405.4 416,405.4 416.2,405.4 416.4,405.4 416.6,405.4 416.8,405.4 417,405.4 417.2,405.4 417.4,405.4 417.6,405.4 417.8,405.4 418,405.4 418.2,405.4 418.4,405.4 418.6,405.4 418.8,405.4 419,405.4 419.2,405.4 419.4,405.4 419.6,405.4 419.8,405.4 420,405.4 420.2,405.4 420.4,405.4 420.6,405.4 420.8,405.4 421,405.4 421.2,405.4 421.4,405.4 421.6,405.4 421.8,405.4 422,405.4 422.2,405.4 422.4,405.4 422.6,405.4 422.8,405.4 423,405.4 423.2,405.4 423.4,405.4 423.6,405.4 423.8,405.4 424,405.4 424.2,405.4 424.4,405.4 424.6,405.4 424.8,405.4 425,405.4 425.2,405.4 425.4,405.4 425.6,405.4 425.8,405.4 426,405.4 426.2,405.4 426.4,405.4 426.6,405.4 426.8,405.4 427,405.4 427.2,405.4 427.4,405.4 427.6,405.4 427.8,405.4 428,405.4 428.2,405.4 428.4,405.4 428.6,405.4 428.8,405.4 429,405.4 429.2,405.4 429.4,405.4 429.6,405.4 429.8,405.4 430,405.4 430.2,405.4 430.4,405.4 430.6,405.4 430.8,405.4 431,405.4 431.2,405.4 431.4,405.4 431.6,405.4 431.8,405.4 432,405.39 432.2,405.39 432.4,405.39 432.6,405.39 432.8,405.39 433,405.39 433.2,405.39 433.4,405.38 433.6,405.38 433.8,405.38 434,405.38 434.2,405.38 434.4,405.37 434.6,405.37 434.8,405.37 435,405.37 435.2,405.36 435.4,405.36 435.6,405.36 435.8,405.35 436,405.35 436.2,405.35 436.4,405.34 436.6,405.34 436.8,405.34 437,405.33 437.2,405.33 437.4,405.32 437.6,405.32 437.8,405.31 438,405.31 438.2,405.3 438.4,405.3 438.6,405.29 438.8,405.29 439,405.28 439.2,405.28 439.4,405.27 439.6,405.27 439.8,405.26 440,405.25 440.2,405.25 440.4,405.24 440.6,405.23 440.8,405.23 441,405.22 441.2,405.21 441.4,405.21 441.6,405.19 441.8,405.16 442,405.13 442.2,405.08 442.4,405.02 442.6,404.96 442.8,404.9 443,404.83 443.2,404.75 443.4,404.68 443.6,404.61 443.8,404.54 444,404.47 444.2,404.41 444.4,404.36 444.6,404.31 444.8,404.27 445,404.25 445.2,404.23 445.4,404.23 445.6,404.24 445.8,404.26 446,404.29 446.2,404.32 446.4,404.36 446.6,404.41 446.8,404.45 447,404.5 447.2,404.54 447.4,404.58 447.6,404.62 447.8,404.66 448,404.69 448.2,404.71 448.4,404.72 448.6,404.72 448.8,404.71 449,404.71 449.2,404.69 449.4,404.68 449.6,404.66 449.8,404.64 450,404.61 450.2,404.58 450.4,404.55 450.6,404.52 450.8,404.48 451,404.44 451.2,404.4 451.4,404.35 451.6,404.3 451.8,404.26 452,404.2 452.2,404.12 452.4,404.02 452.6,403.89 452.8,403.74 453,403.58 453.2,403.4 453.4,403.2 453.6,403 453.8,402.79 454,402.57 454.2,402.34 454.4,402.09 454.6,401.81 454.8,401.5 455,401.17 455.2,400.8 455.4,400.41 455.6,399.97 455.8,399.51 456,398.98 456.2,398.33 456.4,397.55 456.6,396.68 456.8,395.74 457,394.77 457.2,393.8 457.4,392.8 457.6,391.75 457.8,390.64 458,389.48 458.2,388.28 458.4,387.03 458.6,385.73 458.8,384.34 459,382.88 459.2,381.37 459.4,379.82 459.6,378.27 459.8,376.74 460,375.19 460.2,373.6 460.4,372 460.6,370.39 460.8,368.82 461,367.28 461.2,365.82 461.4,364.4 461.6,363.01 461.8,361.65 462,360.33 462.2,359.05 462.4,357.83 462.6,356.65 462.8,355.47 463,354.32 463.2,353.21 463.4,352.17 463.6,351.23 463.8,350.41 464,349.69 464.2,349.03 464.4,348.42 464.6,347.85 464.8,347.33 465,346.84 465.2,346.39 465.4,345.98 465.6,345.61 465.8,345.27 466,344.93 466.2,344.57 466.4,344.19 466.6,343.76 466.8,343.3 467,342.81 467.2,342.31 467.4,341.78 467.6,341.23 467.8,340.66 468,340.06 468.2,339.44 468.4,338.79 468.6,338.11 468.8,337.4 469,336.65 469.2,335.87 469.4,335 469.6,334.07 469.8,333.11 470,332.16 470.2,331.25 470.4,330.42 470.6,329.58 470.8,328.66 471,327.76 471.2,326.96 471.4,326.34 471.6,325.99 471.8,325.98 472,326.27 472.2,326.79 472.4,327.49 472.6,328.28 472.8,329.12 473,329.93 473.2,330.79 473.4,331.77 473.6,332.85 473.8,333.99 474,335.17 474.2,336.37 474.4,337.54 474.6,338.72 474.8,339.95 475,341.2 475.2,342.46 475.4,343.71 475.6,344.94 475.8,346.13 476,347.36 476.2,348.6 476.4,349.81 476.6,350.96 476.8,352.02 477,352.94 477.2,353.78 477.4,354.57 477.6,355.3 477.8,355.98 478,356.58 478.2,357.11 478.4,357.55 478.6,357.99 478.8,358.41 479,358.79 479.2,359.1 479.4,359.31 479.6,359.38 479.8,359.32 480,359.17 480.2,358.94 480.4,358.66 480.6,358.34 480.8,358.01 481,357.68 481.2,357.39 481.4,357.14 481.6,356.92 481.8,356.7 482,356.48 482.2,356.27 482.4,356.07 482.6,355.88 482.8,355.71 483,355.55 483.2,355.41 483.4,355.27 483.6,355.13 483.8,355 484,354.89 484.2,354.82 484.4,354.8 484.6,354.8 484.8,354.82 485,354.84 485.2,354.88 485.4,354.92 485.6,354.97 485.8,355.03 486,355.15 486.2,355.33 486.4,355.57 486.6,355.84 486.8,356.14 487,356.46 487.2,356.78 487.4,357.11 487.6,357.46 487.8,357.86 488,358.29 488.2,358.75 488.4,359.25 488.6,359.78 488.8,360.35 489,360.96 489.2,361.66 489.4,362.44 489.6,363.28 489.8,364.18 490,365.12 490.2,366.07 490.4,367.04 490.6,368 490.8,368.93 491,369.87 491.2,370.83 491.4,371.82 491.6,372.81 491.8,373.81 492,374.81 492.2,375.81 492.4,376.79 492.6,377.75 492.8,378.68 493,379.6 493.2,380.52 493.4,381.43 493.6,382.33 493.8,383.22 494,384.1 494.2,384.95 494.4,385.78 494.6,386.59 494.8,387.36 495,388.12 495.2,388.86 495.4,389.6 495.6,390.31 495.8,391.01 496,391.68 496.2,392.33 496.4,392.95 496.6,393.54 496.8,394.09 497,394.61 497.2,395.12 497.4,395.6 497.6,396.07 497.8,396.52 498,396.95 498.2,397.36 498.4,397.75 498.6,398.12 498.8,398.48 499,398.82 499.2,399.15 499.4,399.46 499.6,399.77 499.8,400.07 500,400.34 500.2,400.61 500.4,400.86 500.6,401.09 500.8,401.3 501,401.51 501.2,401.7 501.4,401.89 501.6,402.07 501.8,402.24 502,402.41 502.2,402.56 502.4,402.71 502.6,402.86 502.8,402.99 503,403.12 503.2,403.24 503.4,403.35 503.6,403.46 503.8,403.56 504,403.66 504.2,403.76 504.4,403.85 504.6,403.94 504.8,404.03 505,404.11 505.2,404.18 505.4,404.25 505.6,404.31 505.8,404.37 506,404.42 506.2,404.47 506.4,404.52 506.6,404.57 506.8,404.61 507,404.66 507.2,404.7 507.4,404.74 507.6,404.78 507.8,404.81 508,404.85 508.2,404.88 508.4,404.91 508.6,404.94 508.8,404.97 509,405 509.2,405.02 509.4,405.05 509.6,405.07 509.8,405.09 510,405.11 510.2,405.12 510.4,405.14 510.6,405.16 510.8,405.17 511,405.19 511.2,405.21 511.4,405.22 511.6,405.24 511.8,405.25 512,405.27 512.2,405.28 512.4,405.29 512.6,405.31 512.8,405.32 513,405.33 513.2,405.34 513.4,405.35 513.6,405.36 513.8,405.37 514,405.38 514.2,405.38 514.4,405.39 514.6,405.39 514.8,405.4 515,405.4 515.2,405.4 515.4,405.4 515.6,405.4 515.8,405.4 516,405.4 516.2,405.4 516.4,405.4 516.6,405.4 516.8,405.4 517,405.4 517.2,405.4 517.4,405.4 517.6,405.4 517.8,405.4 518,405.4 518.2,405.4 518.4,405.4 518.6,405.4 518.8,405.4 519,405.4 519.2,405.4 519.4,405.4 519.6,405.4 519.8,405.4 520,405.4 520.2,405.4 520.4,405.4 520.6,405.4 520.8,405.4 521,405.4 521.2,405.4 521.4,405.4 521.6,405.4 521.8,405.4 522,405.4 522.2,405.4 522.4,405.4 522.6,405.4 522.8,405.4 523,405.4 523.2,405.4 523.4,405.4" fill="none" stroke="#32b48a" stroke-width="1.9" stroke-linejoin="round" stroke-linecap="round" />
<polyline points="313.4,404.8 313.6,404.8 313.8,404.79 314,404.79 314.2,404.79 314.4,404.78 314.6,404.78 314.8,404.77 315,404.77 315.2,404.77 315.4,404.76 315.6,404.76 315.8,404.75 316,404.74 316.2,404.74 316.4,404.73 316.6,404.73 316.8,404.72 317,404.71 317.2,404.71 317.4,404.7 317.6,404.69 317.8,404.69 318,404.68 318.2,404.67 318.4,404.66 318.6,404.66 318.8,404.65 319,404.64 319.2,404.63 319.4,404.62 319.6,404.62 319.8,404.61 320,404.6 320.2,404.59 320.4,404.58 320.6,404.57 320.8,404.56 321,404.56 321.2,404.55 321.4,404.54 321.6,404.53 321.8,404.51 322,404.5 322.2,404.49 322.4,404.48 322.6,404.47 322.8,404.46 323,404.44 323.2,404.43 323.4,404.42 323.6,404.4 323.8,404.39 324,404.38 324.2,404.36 324.4,404.35 324.6,404.33 324.8,404.32 325,404.3 325.2,404.28 325.4,404.27 325.6,404.25 325.8,404.24 326,404.22 326.2,404.2 326.4,404.19 326.6,404.17 326.8,404.15 327,404.13 327.2,404.11 327.4,404.08 327.6,404.05 327.8,404.02 328,403.99 328.2,403.96 328.4,403.92 328.6,403.88 328.8,403.82 329,403.73 329.2,403.64 329.4,403.52 329.6,403.4 329.8,403.26 330,403.1 330.2,402.94 330.4,402.77 330.6,402.6 330.8,402.41 331,402.19 331.2,401.95 331.4,401.68 331.6,401.38 331.8,401.05 332,400.7 332.2,400.31 332.4,399.9 332.6,399.42 332.8,398.84 333,398.18 333.2,397.45 333.4,396.67 333.6,395.84 333.8,395 334,394.1 334.2,393.12 334.4,392.07 334.6,390.95 334.8,389.8 335,388.6 335.2,387.38 335.4,386.08 335.6,384.72 335.8,383.31 336,381.87 336.2,380.43 336.4,379 336.6,377.57 336.8,376.12 337,374.66 337.2,373.2 337.4,371.75 337.6,370.31 337.8,368.89 338,367.46 338.2,366.03 338.4,364.63 338.6,363.28 338.8,362 339,360.76 339.2,359.53 339.4,358.36 339.6,357.31 339.8,356.4 340,355.59 340.2,354.82 340.4,354.13 340.6,353.58 340.8,353.2 341,352.93 341.2,352.7 341.4,352.52 341.6,352.41 341.8,352.43 342,352.61 342.2,352.93 342.4,353.34 342.6,353.78 342.8,354.24 343,354.82 343.2,355.51 343.4,356.25 343.6,357 343.8,357.7 344,358.37 344.2,359.06 344.4,359.74 344.6,360.42 344.8,361.09 345,361.72 345.2,362.32 345.4,362.88 345.6,363.47 345.8,364.07 346,364.65 346.2,365.2 346.4,365.67 346.6,366.06 346.8,366.32 347,366.46 347.2,366.57 347.4,366.66 347.6,366.74 347.8,366.78 348,366.8 348.2,366.71 348.4,366.47 348.6,366.12 348.8,365.72 349,365.3 349.2,364.91 349.4,364.6 349.6,364.33 349.8,364.05 350,363.76 350.2,363.5 350.4,363.27 350.6,363.11 350.8,363.01 351,363.02 351.2,363.15 351.4,363.38 351.6,363.68 351.8,364.03 352,364.4 352.2,364.84 352.4,365.4 352.6,366.07 352.8,366.81 353,367.6 353.2,368.41 353.4,369.21 353.6,370 353.8,370.87 354,371.8 354.2,372.74 354.4,373.65 354.6,374.49 354.8,375.2 355,375.87 355.2,376.56 355.4,377.18 355.6,377.68 355.8,377.96 356,377.91 356.2,377.27 356.4,376.17 356.6,374.79 356.8,373.32 357,371.87 357.2,370.21 357.4,368.33 357.6,366.24 357.8,363.99 358,361.6 358.2,358.93 358.4,355.91 358.6,352.66 358.8,349.31 359,346 359.2,342.77 359.4,339.54 359.6,336.24 359.8,332.81 360,329.2 360.2,325.3 360.4,320.99 360.6,316.4 360.8,311.74 361,307.18 361.2,302.86 361.4,298.61 361.6,294.4 361.8,290.29 362,286.31 362.2,282.5 362.4,278.71 362.6,274.89 362.8,271.28 363,268.07 363.2,265.5 363.4,263.26 363.6,261.11 363.8,259.36 364,258.34 364.2,258.28 364.4,258.88 364.6,259.9 364.8,261.16 365,262.5 365.2,264.11 365.4,266.18 365.6,268.48 365.8,270.8 366,272.97 366.2,275.18 366.4,277.42 366.6,279.66 366.8,281.86 367,283.99 367.2,286 367.4,287.95 367.6,289.89 367.8,291.79 368,293.61 368.2,295.32 368.4,296.9 368.6,298.3 368.8,299.6 369,300.82 369.2,301.86 369.4,302.6 369.6,303.15 369.8,303.63 370,303.97 370.2,304.1 370.4,303.87 370.6,303.26 370.8,302.4 371,301.41 371.2,300.4 371.4,299.5 371.6,298.58 371.8,297.51 372,296.39 372.2,295.33 372.4,294.44 372.6,293.83 372.8,293.6 373,293.74 373.2,294.11 373.4,294.65 373.6,295.3 373.8,296 374,296.89 374.2,298.08 374.4,299.51 374.6,301.09 374.8,302.76 375,304.47 375.2,306.36 375.4,308.43 375.6,310.64 375.8,312.94 376,315.31 376.2,317.72 376.4,320.28 376.6,322.96 376.8,325.71 377,328.49 377.2,331.25 377.4,333.94 377.6,336.63 377.8,339.32 378,342.01 378.2,344.68 378.4,347.35 378.6,350 378.8,352.66 379,355.36 379.2,358.04 379.4,360.69 379.6,363.26 379.8,365.72 380,368.06 380.2,370.34 380.4,372.56 380.6,374.71 380.8,376.77 381,378.7 381.2,380.5 381.4,382.2 381.6,383.83 381.8,385.4 382,386.88 382.2,388.27 382.4,389.54 382.6,390.7 382.8,391.76 383,392.75 383.2,393.67 383.4,394.53 383.6,395.33 383.8,396.06 384,396.73 384.2,397.38 384.4,397.99 384.6,398.56 384.8,399.08 385,399.53 385.2,399.9 385.4,400.22 385.6,400.51 385.8,400.78 386,401.03 386.2,401.26 386.4,401.47 386.6,401.66 386.8,401.84 387,402 387.2,402.16 387.4,402.3 387.6,402.45 387.8,402.58 388,402.71 388.2,402.83 388.4,402.94 388.6,403.05 388.8,403.14 389,403.22 389.2,403.3 389.4,403.37 389.6,403.43 389.8,403.5 390,403.56 390.2,403.61 390.4,403.67 390.6,403.72 390.8,403.77 391,403.82 391.2,403.86 391.4,403.91 391.6,403.95 391.8,403.99 392,404.03 392.2,404.06 392.4,404.1 392.6,404.13 392.8,404.17 393,404.2 393.2,404.23 393.4,404.26 393.6,404.3 393.8,404.33 394,404.36 394.2,404.39 394.4,404.42 394.6,404.45 394.8,404.48 395,404.51 395.2,404.54 395.4,404.56 395.6,404.59 395.8,404.61 396,404.63 396.2,404.65 396.4,404.66 396.6,404.68 396.8,404.69 397,404.7 397.2,404.7 397.4,404.71 397.6,404.72 397.8,404.72 398,404.73 398.2,404.73 398.4,404.74 398.6,404.74 398.8,404.75 399,404.76 399.2,404.76 399.4,404.77 399.6,404.77 399.8,404.78 400,404.78 400.2,404.79 400.4,404.79 400.6,404.8 400.8,404.8 401,404.8 401.2,404.81 401.4,404.81 401.6,404.82 401.8,404.82 402,404.82 402.2,404.83 402.4,404.83 402.6,404.84 402.8,404.84 403,404.84 403.2,404.85 403.4,404.85 403.6,404.85 403.8,404.85 404,404.86 404.2,404.86 404.4,404.86 404.6,404.87 404.8,404.87 405,404.87 405.2,404.87 405.4,404.88 405.6,404.88 405.8,404.88 406,404.88 406.2,404.88 406.4,404.88 406.6,404.89 406.8,404.89 407,404.89 407.2,404.89 407.4,404.89 407.6,404.89 407.8,404.89 408,404.9 408.2,404.9 408.4,404.9 408.6,404.9 408.8,404.9 409,404.9 409.2,404.9 409.4,404.9 409.6,404.9 409.8,404.9 410,404.9 410.2,404.9 410.4,404.9 410.6,404.9 410.8,404.9 411,404.9 411.2,404.9 411.4,404.9 411.6,404.9 411.8,404.9 412,404.9 412.2,404.9 412.4,404.9 412.6,404.9 412.8,404.9 413,404.9 413.2,404.9 413.4,404.9 413.6,404.9 413.8,404.9 414,404.9 414.2,404.9 414.4,404.9 414.6,404.9 414.8,404.9 415,404.9 415.2,404.9 415.4,404.9 415.6,404.9 415.8,404.9 416,404.9 416.2,404.9 416.4,404.9 416.6,404.9 416.8,404.9 417,404.9 417.2,404.9 417.4,404.9 417.6,404.9 417.8,404.9 418,404.9 418.2,404.9 418.4,404.9 418.6,404.9 418.8,404.9 419,404.9 419.2,404.9 419.4,404.9 419.6,404.9 419.8,404.9 420,404.9 420.2,404.9 420.4,404.9 420.6,404.9 420.8,404.9 421,404.9 421.2,404.9 421.4,404.9 421.6,404.9 421.8,404.9 422,404.9 422.2,404.9 422.4,404.9 422.6,404.9 422.8,404.9 423,404.9 423.2,404.9 423.4,404.9 423.6,404.9 423.8,404.9 424,404.9 424.2,404.9 424.4,404.9 424.6,404.9 424.8,404.9 425,404.9 425.2,404.9 425.4,404.9 425.6,404.9 425.8,404.9 426,404.9 426.2,404.9 426.4,404.9 426.6,404.9 426.8,404.9 427,404.9 427.2,404.9 427.4,404.9 427.6,404.9 427.8,404.9 428,404.9 428.2,404.9 428.4,404.9 428.6,404.9 428.8,404.9 429,404.9 429.2,404.9 429.4,404.9 429.6,404.9 429.8,404.9 430,404.9 430.2,404.9 430.4,404.9 430.6,404.9 430.8,404.9 431,404.9 431.2,404.9 431.4,404.9 431.6,404.9 431.8,404.9 432,404.89 432.2,404.89 432.4,404.89 432.6,404.89 432.8,404.89 433,404.89 433.2,404.89 433.4,404.88 433.6,404.88 433.8,404.88 434,404.88 434.2,404.88 434.4,404.87 434.6,404.87 434.8,404.87 435,404.87 435.2,404.86 435.4,404.86 435.6,404.86 435.8,404.85 436,404.85 436.2,404.85 436.4,404.84 436.6,404.84 436.8,404.83 437,404.83 437.2,404.83 437.4,404.82 437.6,404.82 437.8,404.81 438,404.81 438.2,404.8 438.4,404.8 438.6,404.79 438.8,404.79 439,404.78 439.2,404.77 439.4,404.77 439.6,404.76 439.8,404.76 440,404.75 440.2,404.74 440.4,404.74 440.6,404.73 440.8,404.72 441,404.71 441.2,404.71 441.4,404.7 441.6,404.69 441.8,404.66 442,404.62 442.2,404.57 442.4,404.52 442.6,404.45 442.8,404.38 443,404.31 443.2,404.24 443.4,404.16 443.6,404.09 443.8,404.02 444,403.95 444.2,403.89 444.4,403.83 444.6,403.78 444.8,403.74 445,403.72 445.2,403.7 445.4,403.7 445.6,403.71 445.8,403.73 446,403.76 446.2,403.8 446.4,403.84 446.6,403.88 446.8,403.93 447,403.97 447.2,404.02 447.4,404.06 447.6,404.1 447.8,404.14 448,404.17 448.2,404.19 448.4,404.2 448.6,404.2 448.8,404.2 449,404.19 449.2,404.18 449.4,404.16 449.6,404.14 449.8,404.12 450,404.09 450.2,404.06 450.4,404.03 450.6,403.99 450.8,403.96 451,403.91 451.2,403.87 451.4,403.83 451.6,403.78 451.8,403.73 452,403.67 452.2,403.59 452.4,403.48 452.6,403.35 452.8,403.2 453,403.03 453.2,402.85 453.4,402.65 453.6,402.44 453.8,402.22 454,402 454.2,401.76 454.4,401.5 454.6,401.22 454.8,400.9 455,400.56 455.2,400.19 455.4,399.78 455.6,399.33 455.8,398.85 456,398.32 456.2,397.65 456.4,396.85 456.6,395.95 456.8,394.99 457,394 457.2,393 457.4,391.98 457.6,390.9 457.8,389.76 458,388.57 458.2,387.34 458.4,386.06 458.6,384.73 458.8,383.3 459,381.8 459.2,380.25 459.4,378.67 459.6,377.08 459.8,375.5 460,373.91 460.2,372.29 460.4,370.64 460.6,369 460.8,367.38 461,365.81 461.2,364.3 461.4,362.85 461.6,361.42 461.8,360.03 462,358.67 462.2,357.36 462.4,356.11 462.6,354.9 462.8,353.69 463,352.51 463.2,351.37 463.4,350.31 463.6,349.34 463.8,348.5 464,347.76 464.2,347.08 464.4,346.46 464.6,345.88 464.8,345.34 465,344.84 465.2,344.37 465.4,343.96 465.6,343.58 465.8,343.23 466,342.88 466.2,342.51 466.4,342.12 466.6,341.67 466.8,341.2 467,340.71 467.2,340.19 467.4,339.65 467.6,339.09 467.8,338.5 468,337.89 468.2,337.25 468.4,336.58 468.6,335.88 468.8,335.15 469,334.39 469.2,333.59 469.4,332.7 469.6,331.75 469.8,330.76 470,329.79 470.2,328.85 470.4,328 470.6,327.13 470.8,326.19 471,325.27 471.2,324.44 471.4,323.81 471.6,323.45 471.8,323.44 472,323.74 472.2,324.28 472.4,324.99 472.6,325.8 472.8,326.66 473,327.5 473.2,328.38 473.4,329.38 473.6,330.49 473.8,331.66 474,332.87 474.2,334.1 474.4,335.3 474.6,336.51 474.8,337.77 475,339.05 475.2,340.35 475.4,341.63 475.6,342.89 475.8,344.11 476,345.37 476.2,346.64 476.4,347.89 476.6,349.07 476.8,350.15 477,351.1 477.2,351.95 477.4,352.76 477.6,353.52 477.8,354.21 478,354.83 478.2,355.37 478.4,355.82 478.6,356.27 478.8,356.71 479,357.1 479.2,357.41 479.4,357.62 479.6,357.7 479.8,357.64 480,357.49 480.2,357.25 480.4,356.96 480.6,356.64 480.8,356.3 481,355.96 481.2,355.66 481.4,355.4 481.6,355.17 481.8,354.95 482,354.73 482.2,354.51 482.4,354.3 482.6,354.11 482.8,353.93 483,353.77 483.2,353.63 483.4,353.48 483.6,353.34 483.8,353.21 484,353.1 484.2,353.03 484.4,353 484.6,353.01 484.8,353.02 485,353.05 485.2,353.08 485.4,353.13 485.6,353.17 485.8,353.24 486,353.36 486.2,353.55 486.4,353.79 486.6,354.07 486.8,354.38 487,354.7 487.2,355.04 487.4,355.37 487.6,355.73 487.8,356.14 488,356.58 488.2,357.06 488.4,357.57 488.6,358.12 488.8,358.7 489,359.32 489.2,360.03 489.4,360.83 489.6,361.7 489.8,362.62 490,363.58 490.2,364.57 490.4,365.56 490.6,366.54 490.8,367.5 491,368.46 491.2,369.45 491.4,370.45 491.6,371.48 491.8,372.5 492,373.53 492.2,374.55 492.4,375.56 492.6,376.54 492.8,377.5 493,378.44 493.2,379.38 493.4,380.32 493.6,381.24 493.8,382.16 494,383.05 494.2,383.93 494.4,384.78 494.6,385.61 494.8,386.4 495,387.17 495.2,387.94 495.4,388.69 495.6,389.43 495.8,390.14 496,390.83 496.2,391.5 496.4,392.13 496.6,392.74 496.8,393.3 497,393.84 497.2,394.35 497.4,394.85 497.6,395.33 497.8,395.79 498,396.23 498.2,396.65 498.4,397.05 498.6,397.44 498.8,397.8 499,398.15 499.2,398.49 499.4,398.81 499.6,399.13 499.8,399.43 500,399.72 500.2,399.99 500.4,400.24 500.6,400.48 500.8,400.7 501,400.91 501.2,401.11 501.4,401.3 501.6,401.48 501.8,401.66 502,401.83 502.2,401.99 502.4,402.15 502.6,402.29 502.8,402.43 503,402.56 503.2,402.68 503.4,402.8 503.6,402.91 503.8,403.02 504,403.12 504.2,403.22 504.4,403.31 504.6,403.4 504.8,403.49 505,403.57 505.2,403.65 505.4,403.72 505.6,403.79 505.8,403.85 506,403.9 506.2,403.95 506.4,404 506.6,404.05 506.8,404.09 507,404.14 507.2,404.18 507.4,404.22 507.6,404.26 507.8,404.3 508,404.33 508.2,404.37 508.4,404.4 508.6,404.43 508.8,404.46 509,404.49 509.2,404.51 509.4,404.54 509.6,404.56 509.8,404.58 510,404.6 510.2,404.62 510.4,404.63 510.6,404.65 510.8,404.67 511,404.69 511.2,404.7 511.4,404.72 511.6,404.73 511.8,404.75 512,404.76 512.2,404.78 512.4,404.79 512.6,404.8 512.8,404.82 513,404.83 513.2,404.84 513.4,404.85 513.6,404.86 513.8,404.87 514,404.88 514.2,404.88 514.4,404.89 514.6,404.89 514.8,404.9 515,404.9 515.2,404.9 515.4,404.9 515.6,404.9 515.8,404.9 516,404.9 516.2,404.9 516.4,404.9 516.6,404.9 516.8,404.9 517,404.9 517.2,404.9 517.4,404.9 517.6,404.9 517.8,404.9 518,404.9 518.2,404.9 518.4,404.9 518.6,404.9 518.8,404.9 519,404.9 519.2,404.9 519.4,404.9 519.6,404.9 519.8,404.9 520,404.9 520.2,404.9 520.4,404.9 520.6,404.9 520.8,404.9 521,404.9 521.2,404.9 521.4,404.9 521.6,404.9 521.8,404.9 522,404.9 522.2,404.9 522.4,404.9 522.6,404.9 522.8,404.9 523,404.9 523.2,404.9 523.4,404.9" fill="none" stroke="#2a3686" stroke-width="1.5" stroke-linejoin="round" stroke-linecap="round" />
<rect x="313.1" y="237.75" width="210.65" height="167.25" fill="none" stroke="#0a0a0a" stroke-width="1.5"/>
<line x1="318" y1="405" x2="318" y2="408.8" stroke="#0a0a0a" stroke-width="1.25" />
<line x1="365.77" y1="405" x2="365.77" y2="408.8" stroke="#0a0a0a" stroke-width="1.25" />
<line x1="413.55" y1="405" x2="413.55" y2="408.8" stroke="#0a0a0a" stroke-width="1.25" />
<line x1="461.33" y1="405" x2="461.33" y2="408.8" stroke="#0a0a0a" stroke-width="1.25" />
<line x1="509.1" y1="405" x2="509.1" y2="408.8" stroke="#0a0a0a" stroke-width="1.25" />
<line x1="341.89" y1="405" x2="341.89" y2="407" stroke="#0a0a0a" stroke-width="1.25" />
<line x1="389.66" y1="405" x2="389.66" y2="407" stroke="#0a0a0a" stroke-width="1.25" />
<line x1="437.44" y1="405" x2="437.44" y2="407" stroke="#0a0a0a" stroke-width="1.25" />
<line x1="485.21" y1="405" x2="485.21" y2="407" stroke="#0a0a0a" stroke-width="1.25" />
<text x="318" y="420.1" font-size="10.0" text-anchor="middle" fill="#1c1c1c" >500</text>
<text x="365.77" y="420.1" font-size="10.0" text-anchor="middle" fill="#1c1c1c" >550</text>
<text x="413.55" y="420.1" font-size="10.0" text-anchor="middle" fill="#1c1c1c" >600</text>
<text x="461.33" y="420.1" font-size="10.0" text-anchor="middle" fill="#1c1c1c" >650</text>
<text x="509.1" y="420.1" font-size="10.0" text-anchor="middle" fill="#1c1c1c" >700</text>
<text x="421" y="433.9" font-size="10.0" text-anchor="middle" fill="#1c1c1c" >Wavelength (nm)</text>
<text x="299" y="321.8" font-size="10.0" text-anchor="middle" fill="#1c1c1c" transform="rotate(-90 299 321.8)" >Intensity (a.u.)</text>
<text x="330.2" y="252.2" font-size="10.0" text-anchor="start" fill="#1c1c1c" ><tspan font-size="5.8" dy="-3.8">2</tspan><tspan dy="3.8" font-size="1">&#8203;</tspan>H<tspan font-size="5.8" dy="3">11/2,</tspan><tspan dy="-3" font-size="1">&#8203;</tspan> <tspan font-size="5.8" dy="-3.8">4</tspan><tspan dy="3.8" font-size="1">&#8203;</tspan>S<tspan font-size="5.8" dy="3">3/2</tspan><tspan dy="-3" font-size="1">&#8203;</tspan> → <tspan font-size="5.8" dy="-3.8">4</tspan><tspan dy="3.8" font-size="1">&#8203;</tspan>I<tspan font-size="5.8" dy="3">15/2</tspan><tspan dy="-3" font-size="1">&#8203;</tspan></text>
<text x="447.8" y="313.4" font-size="10.0" text-anchor="start" fill="#1c1c1c" ><tspan font-size="5.8" dy="-3.8">4</tspan><tspan dy="3.8" font-size="1">&#8203;</tspan>F<tspan font-size="5.8" dy="3">9/2</tspan><tspan dy="-3" font-size="1">&#8203;</tspan> → <tspan font-size="5.8" dy="-3.8">4</tspan><tspan dy="3.8" font-size="1">&#8203;</tspan>I<tspan font-size="5.8" dy="3">15/2</tspan><tspan dy="-3" font-size="1">&#8203;</tspan></text>
<line x1="450" y1="247.2" x2="470.3" y2="247.2" stroke="#2a3686" stroke-width="1.5" />
<line x1="450" y1="259.8" x2="470.3" y2="259.8" stroke="#32b48a" stroke-width="1.5" />
<text x="475.4" y="250.7" font-size="10.0" text-anchor="start" fill="#1c1c1c" >GC-695</text>
<text x="475.4" y="263.3" font-size="10.0" text-anchor="start" fill="#1c1c1c" >PG</text>
<text x="450" y="277.8" font-size="10.0" text-anchor="start" fill="#1c1c1c" >λ<tspan font-size="5.8" dy="3">ex</tspan><tspan dy="-3" font-size="1">&#8203;</tspan> = 980 nm</text>
</g>
<g>
<text x="554.2" y="235" font-size="20" text-anchor="start" fill="#141010" font-weight="bold" >f</text>
<defs><clipPath id="cf1"><rect x="581.5" y="236.9" width="105.10000000000002" height="83.70000000000002"/></clipPath><clipPath id="cf2"><rect x="686.6" y="236.9" width="104.89999999999998" height="83.70000000000002"/></clipPath><clipPath id="cf3"><rect x="581.5" y="320.6" width="106.10000000000002" height="84.89999999999998"/></clipPath><clipPath id="cf4"><rect x="686.6" y="320.6" width="106.39999999999998" height="85.39999999999998"/></clipPath></defs>
<g clip-path="url(#cf1)">
<polyline points="580.5,235.5 581,236.2 581.5,236.85 582,237.41 582.5,237.89 583,238.33 583.5,238.73 584,239.13 584.5,239.53 585,239.94 585.5,240.4 586,240.89 586.5,241.39 587,241.91 587.5,242.45 588,242.99 588.5,243.55 589,244.11 589.5,244.69 590,245.27 590.5,245.85 591,246.44 591.5,247.03 592,247.62 592.5,248.21 593,248.8 593.5,249.39 594,250 594.5,250.61 595,251.23 595.5,251.85 596,252.48 596.5,253.12 597,253.76 597.5,254.4 598,255.05 598.5,255.7 599,256.34 599.5,256.99 600,257.64 600.5,258.28 601,258.92 601.5,259.55 602,260.18 602.5,260.81 603,261.42 603.5,262.03 604,262.63 604.5,263.22 605,263.8 605.5,264.37 606,264.94 606.5,265.51 607,266.07 607.5,266.63 608,267.18 608.5,267.73 609,268.28 609.5,268.83 610,269.37 610.5,269.91 611,270.45 611.5,270.98 612,271.51 612.5,272.04 613,272.56 613.5,273.08 614,273.6 614.5,274.12 615,274.63 615.5,275.14 616,275.65 616.5,276.15 617,276.65 617.5,277.15 618,277.65 618.5,278.14 619,278.63 619.5,279.12 620,279.6 620.5,280.08 621,280.56 621.5,281.03 622,281.5 622.5,281.97 623,282.43 623.5,282.89 624,283.35 624.5,283.8 625,284.26 625.5,284.71 626,285.15 626.5,285.6 627,286.04 627.5,286.48 628,286.92 628.5,287.36 629,287.8 629.5,288.23 630,288.67 630.5,289.1 631,289.53 631.5,289.97 632,290.4 632.5,290.83 633,291.27 633.5,291.7 634,292.13 634.5,292.57 635,293 635.5,293.43 636,293.87 636.5,294.3 637,294.73 637.5,295.17 638,295.6 638.5,296.03 639,296.46 639.5,296.88 640,297.31 640.5,297.74 641,298.16 641.5,298.59 642,299.02 642.5,299.44 643,299.86 643.5,300.29 644,300.71 644.5,301.13 645,301.55 645.5,301.97 646,302.39 646.5,302.81 647,303.22 647.5,303.64 648,304.06 648.5,304.47 649,304.89 649.5,305.3 650,305.72 650.5,306.13 651,306.54 651.5,306.96 652,307.37 652.5,307.78 653,308.19 653.5,308.6 654,309.01 654.5,309.42 655,309.83 655.5,310.23 656,310.64 656.5,311.05 657,311.45 657.5,311.86 658,312.26 658.5,312.66 659,313.07 659.5,313.47 660,313.87 660.5,314.27 661,314.67 661.5,315.06 662,315.46 662.5,315.86 663,316.25 663.5,316.65 664,317.04 664.5,317.43 665,317.82 665.5,318.21 666,318.59 666.5,318.98 667,319.36 667.5,319.73 668,320.11 668.5,320.49 669,320.88 669.5,321.26 670,321.65 670.5,322.03 671,322.42 671.5,322.81 672,323.2" fill="none" stroke="#79c565" stroke-width="3.9" stroke-linejoin="round" stroke-linecap="round" />
<polyline points="580.5,235.5 581,236.2 581.5,236.85 582,237.41 582.5,237.89 583,238.33 583.5,238.73 584,239.13 584.5,239.53 585,239.94 585.5,240.4 586,240.89 586.5,241.39 587,241.91 587.5,242.45 588,242.99 588.5,243.55 589,244.11 589.5,244.69 590,245.27 590.5,245.85 591,246.44 591.5,247.03 592,247.62 592.5,248.21 593,248.8 593.5,249.39 594,250 594.5,250.61 595,251.23 595.5,251.85 596,252.48 596.5,253.12 597,253.76 597.5,254.4 598,255.05 598.5,255.7 599,256.34 599.5,256.99 600,257.64 600.5,258.28 601,258.92 601.5,259.55 602,260.18 602.5,260.81 603,261.42 603.5,262.03 604,262.63 604.5,263.22 605,263.8 605.5,264.37 606,264.94 606.5,265.51 607,266.07 607.5,266.63 608,267.18 608.5,267.73 609,268.28 609.5,268.83 610,269.37 610.5,269.91 611,270.45 611.5,270.98 612,271.51 612.5,272.04 613,272.56 613.5,273.08 614,273.6 614.5,274.12 615,274.63 615.5,275.14 616,275.65 616.5,276.15 617,276.65 617.5,277.15 618,277.65 618.5,278.14 619,278.63 619.5,279.12 620,279.6 620.5,280.08 621,280.56 621.5,281.03 622,281.5 622.5,281.97 623,282.43 623.5,282.89 624,283.35 624.5,283.8 625,284.26 625.5,284.71 626,285.15 626.5,285.6 627,286.04 627.5,286.48 628,286.92 628.5,287.36 629,287.8 629.5,288.23 630,288.67 630.5,289.1 631,289.53 631.5,289.97 632,290.4 632.5,290.83 633,291.27 633.5,291.7 634,292.13 634.5,292.57 635,293 635.5,293.43 636,293.87 636.5,294.3 637,294.73 637.5,295.17 638,295.6 638.5,296.03 639,296.46 639.5,296.88 640,297.31 640.5,297.74 641,298.16 641.5,298.59 642,299.02 642.5,299.44 643,299.86 643.5,300.29 644,300.71 644.5,301.13 645,301.55 645.5,301.97 646,302.39 646.5,302.81 647,303.22 647.5,303.64 648,304.06 648.5,304.47 649,304.89 649.5,305.3 650,305.72 650.5,306.13 651,306.54 651.5,306.96 652,307.37 652.5,307.78 653,308.19 653.5,308.6 654,309.01 654.5,309.42 655,309.83 655.5,310.23 656,310.64 656.5,311.05 657,311.45 657.5,311.86 658,312.26 658.5,312.66 659,313.07 659.5,313.47 660,313.87 660.5,314.27 661,314.67 661.5,315.06 662,315.46 662.5,315.86 663,316.25 663.5,316.65 664,317.04 664.5,317.43 665,317.82 665.5,318.21 666,318.59 666.5,318.98 667,319.36 667.5,319.73 668,320.11 668.5,320.49 669,320.88 669.5,321.26 670,321.65 670.5,322.03 671,322.42 671.5,322.81 672,323.2" fill="none" stroke="#d6efca" stroke-width="1.4" stroke-linejoin="round" stroke-linecap="round" />
</g>
<g clip-path="url(#cf2)">
<polyline points="685.5,234.5 686,235.05 686.5,235.6 687,236.14 687.5,236.67 688,237.2 688.5,237.72 689,238.22 689.5,238.71 690,239.2 690.5,239.69 691,240.17 691.5,240.66 692,241.15 692.5,241.64 693,242.15 693.5,242.67 694,243.2 694.5,243.75 695,244.31 695.5,244.88 696,245.46 696.5,246.05 697,246.64 697.5,247.25 698,247.86 698.5,248.48 699,249.1 699.5,249.73 700,250.36 700.5,250.99 701,251.63 701.5,252.27 702,252.91 702.5,253.55 703,254.19 703.5,254.82 704,255.46 704.5,256.09 705,256.71 705.5,257.34 706,257.95 706.5,258.56 707,259.17 707.5,259.77 708,260.35 708.5,260.93 709,261.5 709.5,262.06 710,262.62 710.5,263.17 711,263.72 711.5,264.27 712,264.82 712.5,265.36 713,265.9 713.5,266.43 714,266.97 714.5,267.5 715,268.02 715.5,268.55 716,269.07 716.5,269.59 717,270.11 717.5,270.63 718,271.14 718.5,271.65 719,272.16 719.5,272.67 720,273.18 720.5,273.69 721,274.19 721.5,274.7 722,275.2 722.5,275.7 723,276.2 723.5,276.7 724,277.2 724.5,277.7 725,278.2 725.5,278.69 726,279.19 726.5,279.68 727,280.17 727.5,280.67 728,281.15 728.5,281.64 729,282.13 729.5,282.62 730,283.1 730.5,283.58 731,284.06 731.5,284.54 732,285.02 732.5,285.5 733,285.97 733.5,286.44 734,286.91 734.5,287.38 735,287.85 735.5,288.31 736,288.78 736.5,289.24 737,289.7 737.5,290.15 738,290.61 738.5,291.06 739,291.51 739.5,291.96 740,292.4 740.5,292.85 741,293.29 741.5,293.72 742,294.16 742.5,294.59 743,295.02 743.5,295.45 744,295.88 744.5,296.31 745,296.73 745.5,297.16 746,297.58 746.5,298 747,298.42 747.5,298.84 748,299.25 748.5,299.67 749,300.08 749.5,300.5 750,300.91 750.5,301.33 751,301.74 751.5,302.15 752,302.57 752.5,302.98 753,303.39 753.5,303.8 754,304.22 754.5,304.63 755,305.04 755.5,305.46 756,305.87 756.5,306.28 757,306.69 757.5,307.1 758,307.51 758.5,307.92 759,308.33 759.5,308.74 760,309.15 760.5,309.56 761,309.96 761.5,310.37 762,310.77 762.5,311.18 763,311.58 763.5,311.98 764,312.38 764.5,312.78 765,313.18 765.5,313.58 766,313.97 766.5,314.37 767,314.76 767.5,315.15 768,315.55 768.5,315.93 769,316.32 769.5,316.71 770,317.09 770.5,317.46 771,317.84 771.5,318.21 772,318.58 772.5,318.95 773,319.32 773.5,319.69 774,320.06 774.5,320.44 775,320.82 775.5,321.21 776,321.6 776.5,322 777,322.4 777.5,322.8 778,323.2" fill="none" stroke="#3a4592" stroke-width="3.9" stroke-linejoin="round" stroke-linecap="round" />
<polyline points="685.5,234.5 686,235.05 686.5,235.6 687,236.14 687.5,236.67 688,237.2 688.5,237.72 689,238.22 689.5,238.71 690,239.2 690.5,239.69 691,240.17 691.5,240.66 692,241.15 692.5,241.64 693,242.15 693.5,242.67 694,243.2 694.5,243.75 695,244.31 695.5,244.88 696,245.46 696.5,246.05 697,246.64 697.5,247.25 698,247.86 698.5,248.48 699,249.1 699.5,249.73 700,250.36 700.5,250.99 701,251.63 701.5,252.27 702,252.91 702.5,253.55 703,254.19 703.5,254.82 704,255.46 704.5,256.09 705,256.71 705.5,257.34 706,257.95 706.5,258.56 707,259.17 707.5,259.77 708,260.35 708.5,260.93 709,261.5 709.5,262.06 710,262.62 710.5,263.17 711,263.72 711.5,264.27 712,264.82 712.5,265.36 713,265.9 713.5,266.43 714,266.97 714.5,267.5 715,268.02 715.5,268.55 716,269.07 716.5,269.59 717,270.11 717.5,270.63 718,271.14 718.5,271.65 719,272.16 719.5,272.67 720,273.18 720.5,273.69 721,274.19 721.5,274.7 722,275.2 722.5,275.7 723,276.2 723.5,276.7 724,277.2 724.5,277.7 725,278.2 725.5,278.69 726,279.19 726.5,279.68 727,280.17 727.5,280.67 728,281.15 728.5,281.64 729,282.13 729.5,282.62 730,283.1 730.5,283.58 731,284.06 731.5,284.54 732,285.02 732.5,285.5 733,285.97 733.5,286.44 734,286.91 734.5,287.38 735,287.85 735.5,288.31 736,288.78 736.5,289.24 737,289.7 737.5,290.15 738,290.61 738.5,291.06 739,291.51 739.5,291.96 740,292.4 740.5,292.85 741,293.29 741.5,293.72 742,294.16 742.5,294.59 743,295.02 743.5,295.45 744,295.88 744.5,296.31 745,296.73 745.5,297.16 746,297.58 746.5,298 747,298.42 747.5,298.84 748,299.25 748.5,299.67 749,300.08 749.5,300.5 750,300.91 750.5,301.33 751,301.74 751.5,302.15 752,302.57 752.5,302.98 753,303.39 753.5,303.8 754,304.22 754.5,304.63 755,305.04 755.5,305.46 756,305.87 756.5,306.28 757,306.69 757.5,307.1 758,307.51 758.5,307.92 759,308.33 759.5,308.74 760,309.15 760.5,309.56 761,309.96 761.5,310.37 762,310.77 762.5,311.18 763,311.58 763.5,311.98 764,312.38 764.5,312.78 765,313.18 765.5,313.58 766,313.97 766.5,314.37 767,314.76 767.5,315.15 768,315.55 768.5,315.93 769,316.32 769.5,316.71 770,317.09 770.5,317.46 771,317.84 771.5,318.21 772,318.58 772.5,318.95 773,319.32 773.5,319.69 774,320.06 774.5,320.44 775,320.82 775.5,321.21 776,321.6 776.5,322 777,322.4 777.5,322.8 778,323.2" fill="none" stroke="#cfd3ee" stroke-width="1.4" stroke-linejoin="round" stroke-linecap="round" />
</g>
<g clip-path="url(#cf3)">
<polyline points="580.5,319.8 581,320.37 581.5,320.95 582,321.54 582.5,322.14 583,322.75 583.5,323.37 584,323.99 584.5,324.61 585,325.24 585.5,325.88 586,326.51 586.5,327.15 587,327.78 587.5,328.41 588,329.04 588.5,329.66 589,330.28 589.5,330.9 590,331.5 590.5,332.1 591,332.71 591.5,333.31 592,333.92 592.5,334.53 593,335.13 593.5,335.74 594,336.35 594.5,336.96 595,337.56 595.5,338.17 596,338.77 596.5,339.37 597,339.97 597.5,340.56 598,341.15 598.5,341.74 599,342.32 599.5,342.9 600,343.47 600.5,344.04 601,344.6 601.5,345.15 602,345.69 602.5,346.23 603,346.76 603.5,347.29 604,347.8 604.5,348.3 605,348.8 605.5,349.29 606,349.77 606.5,350.24 607,350.71 607.5,351.17 608,351.63 608.5,352.08 609,352.53 609.5,352.98 610,353.41 610.5,353.85 611,354.28 611.5,354.7 612,355.13 612.5,355.55 613,355.96 613.5,356.38 614,356.79 614.5,357.2 615,357.6 615.5,358.01 616,358.41 616.5,358.81 617,359.21 617.5,359.61 618,360.01 618.5,360.41 619,360.8 619.5,361.2 620,361.6 620.5,362 621,362.39 621.5,362.79 622,363.18 622.5,363.57 623,363.96 623.5,364.35 624,364.73 624.5,365.12 625,365.5 625.5,365.88 626,366.26 626.5,366.64 627,367.02 627.5,367.39 628,367.76 628.5,368.14 629,368.5 629.5,368.87 630,369.24 630.5,369.6 631,369.96 631.5,370.33 632,370.68 632.5,371.04 633,371.4 633.5,371.75 634,372.1 634.5,372.45 635,372.8 635.5,373.15 636,373.49 636.5,373.83 637,374.17 637.5,374.5 638,374.84 638.5,375.17 639,375.5 639.5,375.82 640,376.15 640.5,376.47 641,376.79 641.5,377.12 642,377.44 642.5,377.76 643,378.07 643.5,378.39 644,378.71 644.5,379.03 645,379.34 645.5,379.66 646,379.98 646.5,380.3 647,380.61 647.5,380.93 648,381.25 648.5,381.57 649,381.89 649.5,382.21 650,382.54 650.5,382.86 651,383.19 651.5,383.52 652,383.85 652.5,384.18 653,384.51 653.5,384.85 654,385.18 654.5,385.52 655,385.86 655.5,386.19 656,386.53 656.5,386.86 657,387.2 657.5,387.53 658,387.87 658.5,388.2 659,388.53 659.5,388.85 660,389.18 660.5,389.5 661,389.82 661.5,390.14 662,390.45 662.5,390.76 663,391.06 663.5,391.37 664,391.66 664.5,391.96 665,392.24 665.5,392.53 666,392.8 666.5,393.08 667,393.35 667.5,393.62 668,393.89 668.5,394.15 669,394.41 669.5,394.66 670,394.92 670.5,395.17 671,395.42 671.5,395.67 672,395.92 672.5,396.16 673,396.41 673.5,396.65 674,396.9 674.5,397.14 675,397.38 675.5,397.63 676,397.87 676.5,398.11 677,398.36 677.5,398.6 678,398.85 678.5,399.1 679,399.35 679.5,399.6 680,399.85 680.5,400.1 681,400.35 681.5,400.6 682,400.85 682.5,401.1 683,401.35 683.5,401.6 684,401.85 684.5,402.11 685,402.36 685.5,402.62 686,402.89 686.5,403.15 687,403.43 687.5,403.71 688,404" fill="none" stroke="#79c565" stroke-width="3.9" stroke-linejoin="round" stroke-linecap="round" />
<polyline points="612.5,357.45 613,357.86 613.5,358.28 614,358.69 614.5,359.1 615,359.5 615.5,359.91 616,360.31 616.5,360.71 617,361.11 617.5,361.51 618,361.91 618.5,362.31 619,362.7 619.5,363.1 620,363.5 620.5,363.9 621,364.29 621.5,364.69 622,365.08 622.5,365.47 623,365.86 623.5,366.25 624,366.63 624.5,367.02 625,367.4 625.5,367.78 626,368.16 626.5,368.54 627,368.92 627.5,369.29 628,369.66 628.5,370.04 629,370.4 629.5,370.77 630,371.14 630.5,371.5 631,371.86 631.5,372.23 632,372.58 632.5,372.94 633,373.3 633.5,373.65 634,374 634.5,374.35 635,374.7 635.5,375.05 636,375.39 636.5,375.73 637,376.07 637.5,376.4 638,376.74 638.5,377.07 639,377.4 639.5,377.72 640,378.05 640.5,378.37 641,378.69 641.5,379.02 642,379.34 642.5,379.66 643,379.97 643.5,380.29 644,380.61 644.5,380.93 645,381.24 645.5,381.56 646,381.88 646.5,382.2 647,382.51 647.5,382.83 648,383.15 648.5,383.47 649,383.79 649.5,384.11 650,384.44 650.5,384.76 651,385.09 651.5,385.42 652,385.75 652.5,386.08 653,386.41 653.5,386.75 654,387.08 654.5,387.42 655,387.76 655.5,388.09 656,388.43 656.5,388.76 657,389.1 657.5,389.43 658,389.77 658.5,390.1 659,390.43 659.5,390.75 660,391.08 660.5,391.4 661,391.72 661.5,392.04 662,392.35 662.5,392.66 663,392.96 663.5,393.27 664,393.56 664.5,393.86 665,394.14 665.5,394.43 666,394.7 666.5,394.98 667,395.25 667.5,395.52 668,395.79 668.5,396.05 669,396.31 669.5,396.56 670,396.82 670.5,397.07 671,397.32 671.5,397.57 672,397.82 672.5,398.06 673,398.31 673.5,398.55 674,398.8 674.5,399.04 675,399.28 675.5,399.53 676,399.77 676.5,400.01 677,400.26 677.5,400.5 678,400.75 678.5,401 679,401.25 679.5,401.5 680,401.75 680.5,402 681,402.25 681.5,402.5 682,402.75 682.5,403 683,403.25 683.5,403.5 684,403.75 684.5,404.01 685,404.26 685.5,404.52 686,404.79 686.5,405.05 687,405.33 687.5,405.61 688,405.9" fill="none" stroke="#3f8a32" stroke-width="0.8" stroke-linejoin="round" stroke-linecap="round" stroke-dasharray="1.1 2.4" opacity="0.75"/>
<polyline points="612.5,353.65 613,354.06 613.5,354.48 614,354.89 614.5,355.3 615,355.7 615.5,356.11 616,356.51 616.5,356.91 617,357.31 617.5,357.71 618,358.11 618.5,358.51 619,358.9 619.5,359.3 620,359.7 620.5,360.1 621,360.49 621.5,360.89 622,361.28 622.5,361.67 623,362.06 623.5,362.45 624,362.83 624.5,363.22 625,363.6 625.5,363.98 626,364.36 626.5,364.74 627,365.12 627.5,365.49 628,365.86 628.5,366.24 629,366.6 629.5,366.97 630,367.34 630.5,367.7 631,368.06 631.5,368.43 632,368.78 632.5,369.14 633,369.5 633.5,369.85 634,370.2 634.5,370.55 635,370.9 635.5,371.25 636,371.59 636.5,371.93 637,372.27 637.5,372.6 638,372.94 638.5,373.27 639,373.6 639.5,373.92 640,374.25 640.5,374.57 641,374.89 641.5,375.22 642,375.54 642.5,375.86 643,376.17 643.5,376.49 644,376.81 644.5,377.13 645,377.44 645.5,377.76 646,378.08 646.5,378.4 647,378.71 647.5,379.03 648,379.35 648.5,379.67 649,379.99 649.5,380.31 650,380.64 650.5,380.96 651,381.29 651.5,381.62 652,381.95 652.5,382.28 653,382.61 653.5,382.95 654,383.28 654.5,383.62 655,383.96 655.5,384.29 656,384.63 656.5,384.96 657,385.3 657.5,385.63 658,385.97 658.5,386.3 659,386.63 659.5,386.95 660,387.28 660.5,387.6 661,387.92 661.5,388.24 662,388.55 662.5,388.86 663,389.16 663.5,389.47 664,389.76 664.5,390.06 665,390.34 665.5,390.63 666,390.9 666.5,391.18 667,391.45 667.5,391.72 668,391.99 668.5,392.25 669,392.51 669.5,392.76 670,393.02 670.5,393.27 671,393.52 671.5,393.77 672,394.02 672.5,394.26 673,394.51 673.5,394.75 674,395 674.5,395.24 675,395.48 675.5,395.73 676,395.97 676.5,396.21 677,396.46 677.5,396.7 678,396.95 678.5,397.2 679,397.45 679.5,397.7 680,397.95 680.5,398.2 681,398.45 681.5,398.7 682,398.95 682.5,399.2 683,399.45 683.5,399.7 684,399.95 684.5,400.21 685,400.46 685.5,400.72 686,400.99 686.5,401.25 687,401.53 687.5,401.81 688,402.1" fill="none" stroke="#3f8a32" stroke-width="0.7" stroke-linejoin="round" stroke-linecap="round" stroke-dasharray="0.9 3.1" opacity="0.55"/>
<polyline points="580.5,319.8 581,320.37 581.5,320.95 582,321.54 582.5,322.14 583,322.75 583.5,323.37 584,323.99 584.5,324.61 585,325.24 585.5,325.88 586,326.51 586.5,327.15 587,327.78 587.5,328.41 588,329.04 588.5,329.66 589,330.28 589.5,330.9 590,331.5 590.5,332.1 591,332.71 591.5,333.31 592,333.92 592.5,334.53 593,335.13 593.5,335.74 594,336.35 594.5,336.96 595,337.56 595.5,338.17 596,338.77 596.5,339.37 597,339.97 597.5,340.56 598,341.15 598.5,341.74 599,342.32 599.5,342.9 600,343.47 600.5,344.04 601,344.6 601.5,345.15 602,345.69 602.5,346.23 603,346.76 603.5,347.29 604,347.8 604.5,348.3 605,348.8 605.5,349.29 606,349.77 606.5,350.24 607,350.71 607.5,351.17 608,351.63 608.5,352.08 609,352.53 609.5,352.98 610,353.41 610.5,353.85 611,354.28 611.5,354.7 612,355.13 612.5,355.55 613,355.96 613.5,356.38 614,356.79 614.5,357.2 615,357.6 615.5,358.01 616,358.41 616.5,358.81 617,359.21 617.5,359.61 618,360.01 618.5,360.41 619,360.8 619.5,361.2 620,361.6 620.5,362 621,362.39 621.5,362.79 622,363.18 622.5,363.57 623,363.96 623.5,364.35 624,364.73 624.5,365.12 625,365.5 625.5,365.88 626,366.26 626.5,366.64 627,367.02 627.5,367.39 628,367.76 628.5,368.14 629,368.5 629.5,368.87 630,369.24 630.5,369.6 631,369.96 631.5,370.33 632,370.68 632.5,371.04 633,371.4 633.5,371.75 634,372.1 634.5,372.45 635,372.8 635.5,373.15 636,373.49 636.5,373.83 637,374.17 637.5,374.5 638,374.84 638.5,375.17 639,375.5 639.5,375.82 640,376.15 640.5,376.47 641,376.79 641.5,377.12 642,377.44 642.5,377.76 643,378.07 643.5,378.39 644,378.71 644.5,379.03 645,379.34 645.5,379.66 646,379.98 646.5,380.3 647,380.61 647.5,380.93 648,381.25 648.5,381.57 649,381.89 649.5,382.21 650,382.54 650.5,382.86 651,383.19 651.5,383.52 652,383.85 652.5,384.18 653,384.51 653.5,384.85 654,385.18 654.5,385.52 655,385.86 655.5,386.19 656,386.53 656.5,386.86 657,387.2 657.5,387.53 658,387.87 658.5,388.2 659,388.53 659.5,388.85 660,389.18 660.5,389.5 661,389.82 661.5,390.14 662,390.45 662.5,390.76 663,391.06 663.5,391.37 664,391.66 664.5,391.96 665,392.24 665.5,392.53 666,392.8 666.5,393.08 667,393.35 667.5,393.62 668,393.89 668.5,394.15 669,394.41 669.5,394.66 670,394.92 670.5,395.17 671,395.42 671.5,395.67 672,395.92 672.5,396.16 673,396.41 673.5,396.65 674,396.9 674.5,397.14 675,397.38 675.5,397.63 676,397.87 676.5,398.11 677,398.36 677.5,398.6 678,398.85 678.5,399.1 679,399.35 679.5,399.6 680,399.85 680.5,400.1 681,400.35 681.5,400.6 682,400.85 682.5,401.1 683,401.35 683.5,401.6 684,401.85 684.5,402.11 685,402.36 685.5,402.62 686,402.89 686.5,403.15 687,403.43 687.5,403.71 688,404" fill="none" stroke="#d6efca" stroke-width="1.4" stroke-linejoin="round" stroke-linecap="round" />
</g>
<g clip-path="url(#cf4)">
<polyline points="685.5,319.2 686,319.79 686.5,320.37 687,320.95 687.5,321.53 688,322.1 688.5,322.67 689,323.23 689.5,323.8 690,324.36 690.5,324.92 691,325.48 691.5,326.04 692,326.6 692.5,327.17 693,327.74 693.5,328.32 694,328.9 694.5,329.49 695,330.09 695.5,330.7 696,331.32 696.5,331.94 697,332.57 697.5,333.2 698,333.84 698.5,334.48 699,335.13 699.5,335.77 700,336.42 700.5,337.07 701,337.71 701.5,338.36 702,339 702.5,339.64 703,340.28 703.5,340.91 704,341.53 704.5,342.15 705,342.76 705.5,343.37 706,343.96 706.5,344.55 707,345.12 707.5,345.69 708,346.24 708.5,346.78 709,347.3 709.5,347.81 710,348.32 710.5,348.82 711,349.32 711.5,349.81 712,350.29 712.5,350.77 713,351.24 713.5,351.71 714,352.17 714.5,352.63 715,353.08 715.5,353.53 716,353.97 716.5,354.42 717,354.85 717.5,355.29 718,355.72 718.5,356.15 719,356.57 719.5,356.99 720,357.41 720.5,357.83 721,358.25 721.5,358.66 722,359.08 722.5,359.49 723,359.9 723.5,360.31 724,360.72 724.5,361.13 725,361.53 725.5,361.94 726,362.34 726.5,362.74 727,363.13 727.5,363.53 728,363.92 728.5,364.31 729,364.7 729.5,365.08 730,365.47 730.5,365.85 731,366.23 731.5,366.6 732,366.98 732.5,367.35 733,367.72 733.5,368.09 734,368.46 734.5,368.82 735,369.19 735.5,369.55 736,369.91 736.5,370.27 737,370.62 737.5,370.98 738,371.33 738.5,371.68 739,372.03 739.5,372.38 740,372.72 740.5,373.06 741,373.41 741.5,373.74 742,374.08 742.5,374.41 743,374.75 743.5,375.08 744,375.4 744.5,375.73 745,376.06 745.5,376.38 746,376.7 746.5,377.02 747,377.34 747.5,377.66 748,377.98 748.5,378.3 749,378.61 749.5,378.93 750,379.24 750.5,379.55 751,379.87 751.5,380.18 752,380.49 752.5,380.8 753,381.12 753.5,381.43 754,381.74 754.5,382.05 755,382.36 755.5,382.67 756,382.97 756.5,383.28 757,383.58 757.5,383.88 758,384.19 758.5,384.49 759,384.79 759.5,385.09 760,385.38 760.5,385.68 761,385.98 761.5,386.28 762,386.57 762.5,386.87 763,387.17 763.5,387.46 764,387.76 764.5,388.05 765,388.35 765.5,388.65 766,388.94 766.5,389.24 767,389.54 767.5,389.84 768,390.14 768.5,390.44 769,390.74 769.5,391.04 770,391.35 770.5,391.65 771,391.96 771.5,392.27 772,392.58 772.5,392.89 773,393.2 773.5,393.51 774,393.82 774.5,394.13 775,394.44 775.5,394.76 776,395.07 776.5,395.38 777,395.69 777.5,396 778,396.3 778.5,396.61 779,396.92 779.5,397.22 780,397.52 780.5,397.82 781,398.12 781.5,398.41 782,398.71 782.5,398.99 783,399.28 783.5,399.56 784,399.84 784.5,400.12 785,400.39 785.5,400.65 786,400.91 786.5,401.17 787,401.42 787.5,401.68 788,401.93 788.5,402.18 789,402.43 789.5,402.69 790,402.94 790.5,403.21 791,403.47 791.5,403.74 792,404.02 792.5,404.31 793,404.6 793.5,404.9" fill="none" stroke="#3a4592" stroke-width="3.9" stroke-linejoin="round" stroke-linecap="round" />
<polyline points="718,357.62 718.5,358.05 719,358.47 719.5,358.89 720,359.31 720.5,359.73 721,360.15 721.5,360.56 722,360.98 722.5,361.39 723,361.8 723.5,362.21 724,362.62 724.5,363.03 725,363.43 725.5,363.84 726,364.24 726.5,364.64 727,365.03 727.5,365.43 728,365.82 728.5,366.21 729,366.6 729.5,366.98 730,367.37 730.5,367.75 731,368.13 731.5,368.5 732,368.88 732.5,369.25 733,369.62 733.5,369.99 734,370.36 734.5,370.72 735,371.09 735.5,371.45 736,371.81 736.5,372.17 737,372.52 737.5,372.88 738,373.23 738.5,373.58 739,373.93 739.5,374.28 740,374.62 740.5,374.96 741,375.31 741.5,375.64 742,375.98 742.5,376.31 743,376.65 743.5,376.98 744,377.3 744.5,377.63 745,377.96 745.5,378.28 746,378.6 746.5,378.92 747,379.24 747.5,379.56 748,379.88 748.5,380.2 749,380.51 749.5,380.83 750,381.14 750.5,381.45 751,381.77 751.5,382.08 752,382.39 752.5,382.7 753,383.02 753.5,383.33 754,383.64 754.5,383.95 755,384.26 755.5,384.57 756,384.87 756.5,385.18 757,385.48 757.5,385.78 758,386.09 758.5,386.39 759,386.69 759.5,386.99 760,387.28 760.5,387.58 761,387.88 761.5,388.18 762,388.47 762.5,388.77 763,389.07 763.5,389.36 764,389.66 764.5,389.95 765,390.25 765.5,390.55 766,390.84 766.5,391.14 767,391.44 767.5,391.74 768,392.04 768.5,392.34 769,392.64 769.5,392.94 770,393.25 770.5,393.55 771,393.86 771.5,394.17 772,394.48 772.5,394.79 773,395.1 773.5,395.41 774,395.72 774.5,396.03 775,396.34 775.5,396.66 776,396.97 776.5,397.28 777,397.59 777.5,397.9 778,398.2 778.5,398.51 779,398.82 779.5,399.12 780,399.42 780.5,399.72 781,400.02 781.5,400.31 782,400.61 782.5,400.89 783,401.18 783.5,401.46 784,401.74 784.5,402.02 785,402.29 785.5,402.55 786,402.81 786.5,403.07 787,403.32 787.5,403.58 788,403.83 788.5,404.08 789,404.33 789.5,404.59 790,404.84 790.5,405.11 791,405.37 791.5,405.64 792,405.92 792.5,406.21 793,406.5 793.5,406.8" fill="none" stroke="#1d2458" stroke-width="0.8" stroke-linejoin="round" stroke-linecap="round" stroke-dasharray="1.1 2.4" opacity="0.75"/>
<polyline points="718,353.82 718.5,354.25 719,354.67 719.5,355.09 720,355.51 720.5,355.93 721,356.35 721.5,356.76 722,357.18 722.5,357.59 723,358 723.5,358.41 724,358.82 724.5,359.23 725,359.63 725.5,360.04 726,360.44 726.5,360.84 727,361.23 727.5,361.63 728,362.02 728.5,362.41 729,362.8 729.5,363.18 730,363.57 730.5,363.95 731,364.33 731.5,364.7 732,365.08 732.5,365.45 733,365.82 733.5,366.19 734,366.56 734.5,366.92 735,367.29 735.5,367.65 736,368.01 736.5,368.37 737,368.72 737.5,369.08 738,369.43 738.5,369.78 739,370.13 739.5,370.48 740,370.82 740.5,371.16 741,371.51 741.5,371.84 742,372.18 742.5,372.51 743,372.85 743.5,373.18 744,373.5 744.5,373.83 745,374.16 745.5,374.48 746,374.8 746.5,375.12 747,375.44 747.5,375.76 748,376.08 748.5,376.4 749,376.71 749.5,377.03 750,377.34 750.5,377.65 751,377.97 751.5,378.28 752,378.59 752.5,378.9 753,379.22 753.5,379.53 754,379.84 754.5,380.15 755,380.46 755.5,380.77 756,381.07 756.5,381.38 757,381.68 757.5,381.98 758,382.29 758.5,382.59 759,382.89 759.5,383.19 760,383.48 760.5,383.78 761,384.08 761.5,384.38 762,384.67 762.5,384.97 763,385.27 763.5,385.56 764,385.86 764.5,386.15 765,386.45 765.5,386.75 766,387.04 766.5,387.34 767,387.64 767.5,387.94 768,388.24 768.5,388.54 769,388.84 769.5,389.14 770,389.45 770.5,389.75 771,390.06 771.5,390.37 772,390.68 772.5,390.99 773,391.3 773.5,391.61 774,391.92 774.5,392.23 775,392.54 775.5,392.86 776,393.17 776.5,393.48 777,393.79 777.5,394.1 778,394.4 778.5,394.71 779,395.02 779.5,395.32 780,395.62 780.5,395.92 781,396.22 781.5,396.51 782,396.81 782.5,397.09 783,397.38 783.5,397.66 784,397.94 784.5,398.22 785,398.49 785.5,398.75 786,399.01 786.5,399.27 787,399.52 787.5,399.78 788,400.03 788.5,400.28 789,400.53 789.5,400.79 790,401.04 790.5,401.31 791,401.57 791.5,401.84 792,402.12 792.5,402.41 793,402.7 793.5,403" fill="none" stroke="#1d2458" stroke-width="0.7" stroke-linejoin="round" stroke-linecap="round" stroke-dasharray="0.9 3.1" opacity="0.55"/>
<polyline points="685.5,319.2 686,319.79 686.5,320.37 687,320.95 687.5,321.53 688,322.1 688.5,322.67 689,323.23 689.5,323.8 690,324.36 690.5,324.92 691,325.48 691.5,326.04 692,326.6 692.5,327.17 693,327.74 693.5,328.32 694,328.9 694.5,329.49 695,330.09 695.5,330.7 696,331.32 696.5,331.94 697,332.57 697.5,333.2 698,333.84 698.5,334.48 699,335.13 699.5,335.77 700,336.42 700.5,337.07 701,337.71 701.5,338.36 702,339 702.5,339.64 703,340.28 703.5,340.91 704,341.53 704.5,342.15 705,342.76 705.5,343.37 706,343.96 706.5,344.55 707,345.12 707.5,345.69 708,346.24 708.5,346.78 709,347.3 709.5,347.81 710,348.32 710.5,348.82 711,349.32 711.5,349.81 712,350.29 712.5,350.77 713,351.24 713.5,351.71 714,352.17 714.5,352.63 715,353.08 715.5,353.53 716,353.97 716.5,354.42 717,354.85 717.5,355.29 718,355.72 718.5,356.15 719,356.57 719.5,356.99 720,357.41 720.5,357.83 721,358.25 721.5,358.66 722,359.08 722.5,359.49 723,359.9 723.5,360.31 724,360.72 724.5,361.13 725,361.53 725.5,361.94 726,362.34 726.5,362.74 727,363.13 727.5,363.53 728,363.92 728.5,364.31 729,364.7 729.5,365.08 730,365.47 730.5,365.85 731,366.23 731.5,366.6 732,366.98 732.5,367.35 733,367.72 733.5,368.09 734,368.46 734.5,368.82 735,369.19 735.5,369.55 736,369.91 736.5,370.27 737,370.62 737.5,370.98 738,371.33 738.5,371.68 739,372.03 739.5,372.38 740,372.72 740.5,373.06 741,373.41 741.5,373.74 742,374.08 742.5,374.41 743,374.75 743.5,375.08 744,375.4 744.5,375.73 745,376.06 745.5,376.38 746,376.7 746.5,377.02 747,377.34 747.5,377.66 748,377.98 748.5,378.3 749,378.61 749.5,378.93 750,379.24 750.5,379.55 751,379.87 751.5,380.18 752,380.49 752.5,380.8 753,381.12 753.5,381.43 754,381.74 754.5,382.05 755,382.36 755.5,382.67 756,382.97 756.5,383.28 757,383.58 757.5,383.88 758,384.19 758.5,384.49 759,384.79 759.5,385.09 760,385.38 760.5,385.68 761,385.98 761.5,386.28 762,386.57 762.5,386.87 763,387.17 763.5,387.46 764,387.76 764.5,388.05 765,388.35 765.5,388.65 766,388.94 766.5,389.24 767,389.54 767.5,389.84 768,390.14 768.5,390.44 769,390.74 769.5,391.04 770,391.35 770.5,391.65 771,391.96 771.5,392.27 772,392.58 772.5,392.89 773,393.2 773.5,393.51 774,393.82 774.5,394.13 775,394.44 775.5,394.76 776,395.07 776.5,395.38 777,395.69 777.5,396 778,396.3 778.5,396.61 779,396.92 779.5,397.22 780,397.52 780.5,397.82 781,398.12 781.5,398.41 782,398.71 782.5,398.99 783,399.28 783.5,399.56 784,399.84 784.5,400.12 785,400.39 785.5,400.65 786,400.91 786.5,401.17 787,401.42 787.5,401.68 788,401.93 788.5,402.18 789,402.43 789.5,402.69 790,402.94 790.5,403.21 791,403.47 791.5,403.74 792,404.02 792.5,404.31 793,404.6 793.5,404.9" fill="none" stroke="#cfd3ee" stroke-width="1.4" stroke-linejoin="round" stroke-linecap="round" />
</g>
<rect x="581.5" y="236.9" width="210" height="167.6" fill="none" stroke="#0a0a0a" stroke-width="1.5"/>
<line x1="686.6" y1="236.9" x2="686.6" y2="404.5" stroke="#0a0a0a" stroke-width="1.5" />
<line x1="581.5" y1="320.6" x2="791.5" y2="320.6" stroke="#0a0a0a" stroke-width="1.5" />
<line x1="581.5" y1="320.6" x2="581.5" y2="323.2" stroke="#0a0a0a" stroke-width="1.25" />
<line x1="607.77" y1="320.6" x2="607.77" y2="323.2" stroke="#0a0a0a" stroke-width="1.25" />
<line x1="634.05" y1="320.6" x2="634.05" y2="323.2" stroke="#0a0a0a" stroke-width="1.25" />
<line x1="660.33" y1="320.6" x2="660.33" y2="323.2" stroke="#0a0a0a" stroke-width="1.25" />
<line x1="686.6" y1="320.6" x2="686.6" y2="323.2" stroke="#0a0a0a" stroke-width="1.25" />
<line x1="581.5" y1="404.5" x2="581.5" y2="408.1" stroke="#0a0a0a" stroke-width="1.25" />
<line x1="607.77" y1="404.5" x2="607.77" y2="408.1" stroke="#0a0a0a" stroke-width="1.25" />
<line x1="634.05" y1="404.5" x2="634.05" y2="408.1" stroke="#0a0a0a" stroke-width="1.25" />
<line x1="660.33" y1="404.5" x2="660.33" y2="408.1" stroke="#0a0a0a" stroke-width="1.25" />
<line x1="686.6" y1="404.5" x2="686.6" y2="408.1" stroke="#0a0a0a" stroke-width="1.25" />
<line x1="594.64" y1="404.5" x2="594.64" y2="406.5" stroke="#0a0a0a" stroke-width="1.25" />
<line x1="620.91" y1="404.5" x2="620.91" y2="406.5" stroke="#0a0a0a" stroke-width="1.25" />
<line x1="647.19" y1="404.5" x2="647.19" y2="406.5" stroke="#0a0a0a" stroke-width="1.25" />
<line x1="673.46" y1="404.5" x2="673.46" y2="406.5" stroke="#0a0a0a" stroke-width="1.25" />
<line x1="686.6" y1="320.6" x2="686.6" y2="323.2" stroke="#0a0a0a" stroke-width="1.25" />
<line x1="712.83" y1="320.6" x2="712.83" y2="323.2" stroke="#0a0a0a" stroke-width="1.25" />
<line x1="739.05" y1="320.6" x2="739.05" y2="323.2" stroke="#0a0a0a" stroke-width="1.25" />
<line x1="765.27" y1="320.6" x2="765.27" y2="323.2" stroke="#0a0a0a" stroke-width="1.25" />
<line x1="791.5" y1="320.6" x2="791.5" y2="323.2" stroke="#0a0a0a" stroke-width="1.25" />
<line x1="686.6" y1="404.5" x2="686.6" y2="408.1" stroke="#0a0a0a" stroke-width="1.25" />
<line x1="712.83" y1="404.5" x2="712.83" y2="408.1" stroke="#0a0a0a" stroke-width="1.25" />
<line x1="739.05" y1="404.5" x2="739.05" y2="408.1" stroke="#0a0a0a" stroke-width="1.25" />
<line x1="765.27" y1="404.5" x2="765.27" y2="408.1" stroke="#0a0a0a" stroke-width="1.25" />
<line x1="791.5" y1="404.5" x2="791.5" y2="408.1" stroke="#0a0a0a" stroke-width="1.25" />
<line x1="699.71" y1="404.5" x2="699.71" y2="406.5" stroke="#0a0a0a" stroke-width="1.25" />
<line x1="725.94" y1="404.5" x2="725.94" y2="406.5" stroke="#0a0a0a" stroke-width="1.25" />
<line x1="752.16" y1="404.5" x2="752.16" y2="406.5" stroke="#0a0a0a" stroke-width="1.25" />
<line x1="778.39" y1="404.5" x2="778.39" y2="406.5" stroke="#0a0a0a" stroke-width="1.25" />
<line x1="578.1" y1="236.9" x2="581.5" y2="236.9" stroke="#0a0a0a" stroke-width="1.25" />
<line x1="578.1" y1="288.7" x2="581.5" y2="288.7" stroke="#0a0a0a" stroke-width="1.25" />
<line x1="578.1" y1="320.6" x2="581.5" y2="320.6" stroke="#0a0a0a" stroke-width="1.25" />
<line x1="578.1" y1="390.1" x2="581.5" y2="390.1" stroke="#0a0a0a" stroke-width="1.25" />
<line x1="684.2" y1="288.7" x2="686.6" y2="288.7" stroke="#0a0a0a" stroke-width="1.25" />
<line x1="684.2" y1="390.1" x2="686.6" y2="390.1" stroke="#0a0a0a" stroke-width="1.25" />
<text x="581.5" y="420.1" font-size="10.0" text-anchor="middle" fill="#1c1c1c" >0</text>
<text x="607.77" y="420.1" font-size="10.0" text-anchor="middle" fill="#1c1c1c" >100</text>
<text x="634.05" y="420.1" font-size="10.0" text-anchor="middle" fill="#1c1c1c" >200</text>
<text x="660.3" y="420.1" font-size="10.0" text-anchor="middle" fill="#1c1c1c" >300</text>
<text x="686.6" y="420.1" font-size="10.0" text-anchor="middle" fill="#1c1c1c" >400</text>
<text x="712.8" y="420.1" font-size="10.0" text-anchor="middle" fill="#1c1c1c" >100</text>
<text x="739.05" y="420.1" font-size="10.0" text-anchor="middle" fill="#1c1c1c" >200</text>
<text x="765.3" y="420.1" font-size="10.0" text-anchor="middle" fill="#1c1c1c" >300</text>
<text x="791.5" y="420.1" font-size="10.0" text-anchor="middle" fill="#1c1c1c" >400</text>
<text x="686.2" y="433.9" font-size="10.0" text-anchor="middle" fill="#1c1c1c" >Time (μs)</text>
<text x="563.6" y="326.6" font-size="10.0" text-anchor="middle" fill="#1c1c1c" transform="rotate(-90 563.6 326.6)" >Intensity (a.u.)</text>
<text x="566.6" y="238.7" font-size="10.0" text-anchor="start" fill="#1c1c1c" >e<tspan font-size="6" dy="-4.2">0</tspan><tspan dy="4.2" font-size="1">&#8203;</tspan></text>
<text x="566.6" y="322.6" font-size="10.0" text-anchor="start" fill="#1c1c1c" >e<tspan font-size="6" dy="-4.2">0</tspan><tspan dy="4.2" font-size="1">&#8203;</tspan></text>
<text x="566.6" y="291.7" font-size="10.0" text-anchor="start" fill="#1c1c1c" >e<tspan font-size="6" dy="-4.2">-1</tspan><tspan dy="4.2" font-size="1">&#8203;</tspan></text>
<text x="566.6" y="393" font-size="10.0" text-anchor="start" fill="#1c1c1c" >e<tspan font-size="6" dy="-4.2">-1</tspan><tspan dy="4.2" font-size="1">&#8203;</tspan></text>
<circle cx="622.8" cy="244.5" r="1.9" fill="#79c565" opacity="0.85"/>
<circle cx="622.8" cy="244.5" r="0.55" fill="#c4e6b6" opacity="0.5"/>
<text x="631.3" y="247.3" font-size="10.0" text-anchor="start" fill="#1c1c1c" >550 nm PG</text>
<line x1="614.8" y1="255.8" x2="636.6" y2="255.8" stroke="#c4e6b6" stroke-width="1.8" />
<text x="643.3" y="258.8" font-size="10.0" text-anchor="start" fill="#1c1c1c" >Fit</text>
<text x="624.6" y="272.8" font-size="10.0" text-anchor="start" fill="#1c1c1c" >τ = 263.36 μs</text>
<circle cx="706.8" cy="244.5" r="1.9" fill="#3a4592" opacity="0.85"/>
<circle cx="706.8" cy="244.5" r="0.55" fill="#c9cde8" opacity="0.5"/>
<text x="715.8" y="247.3" font-size="10.0" text-anchor="start" fill="#1c1c1c" >550 nm GC-695</text>
<line x1="718" y1="255.8" x2="739.1" y2="255.8" stroke="#c9cde8" stroke-width="1.8" />
<text x="743.6" y="258.8" font-size="10.0" text-anchor="start" fill="#1c1c1c" >Fit</text>
<text x="729.3" y="272.8" font-size="10.0" text-anchor="start" fill="#1c1c1c" >τ = 265.26 μs</text>
<circle cx="621.3" cy="329.5" r="1.9" fill="#79c565" opacity="0.85"/>
<circle cx="621.3" cy="329.5" r="0.55" fill="#c4e6b6" opacity="0.5"/>
<text x="631.3" y="332.3" font-size="10.0" text-anchor="start" fill="#1c1c1c" >663 nm PG</text>
<line x1="611" y1="340.8" x2="631.3" y2="340.8" stroke="#c4e6b6" stroke-width="1.8" />
<text x="643.8" y="343.8" font-size="10.0" text-anchor="start" fill="#1c1c1c" >Fit</text>
<text x="624.6" y="357.8" font-size="10.0" text-anchor="start" fill="#1c1c1c" >τ = 480.33 μs</text>
<circle cx="708.3" cy="329.5" r="1.9" fill="#3a4592" opacity="0.85"/>
<circle cx="708.3" cy="329.5" r="0.55" fill="#c9cde8" opacity="0.5"/>
<text x="716.2" y="332.3" font-size="10.0" text-anchor="start" fill="#1c1c1c" >663 nm GC-695</text>
<line x1="723.3" y1="340.8" x2="745.1" y2="340.8" stroke="#c9cde8" stroke-width="1.8" />
<text x="750.8" y="343.8" font-size="10.0" text-anchor="start" fill="#1c1c1c" >Fit</text>
<text x="729.3" y="357.8" font-size="10.0" text-anchor="start" fill="#1c1c1c" >τ = 481.75 μs</text>
</g>
<g>
<text x="1.4" y="468.4" font-size="21" text-anchor="start" fill="#141010" font-weight="bold" >g</text>
<rect x="36.9" y="628.65" width="212.5" height="2.3" fill="#86d3b6"/>
<polyline points="121.9,630.22 122.11,630.21 122.33,630.2 122.54,630.19 122.75,630.18 122.96,630.18 123.18,630.17 123.39,630.16 123.6,630.15 123.81,630.14 124.03,630.13 124.24,630.12 124.45,630.11 124.66,630.1 124.88,630.09 125.09,630.08 125.3,630.07 125.51,630.05 125.73,630.04 125.94,630.03 126.15,630.02 126.36,630 126.58,629.99 126.79,629.98 127,629.96 127.21,629.95 127.43,629.93 127.64,629.92 127.85,629.9 128.06,629.88 128.28,629.86 128.49,629.85 128.7,629.83 128.91,629.81 129.13,629.79 129.34,629.77 129.55,629.75 129.76,629.72 129.98,629.7 130.19,629.68 130.4,629.65 130.61,629.63 130.83,629.6 131.04,629.57 131.25,629.54 131.46,629.51 131.68,629.48 131.89,629.45 132.1,629.41 132.31,629.37 132.53,629.33 132.74,629.29 132.95,629.25 133.16,629.2 133.38,629.15 133.59,629.09 133.8,629.03 134.01,628.96 134.23,628.88 134.44,628.8 134.65,628.71 134.86,628.6 135.08,628.48 135.29,628.35 135.5,628.2 135.71,628.03 135.93,627.83 136.14,627.61 136.35,627.35 136.56,627.06 136.78,626.72 136.99,626.34 137.2,625.9 137.41,625.4 137.63,624.83 137.84,624.18 138.05,623.44 138.26,622.61 138.48,621.68 138.69,620.62 138.9,619.45 139.11,618.13 139.33,616.67 139.54,615.04 139.75,613.25 139.96,611.29 140.18,609.14 140.39,606.79 140.6,604.24 140.81,601.49 141.03,598.54 141.24,595.37 141.45,592 141.66,588.43 141.88,584.67 142.09,580.72 142.3,576.6 142.51,572.33 142.73,567.92 142.94,563.4 143.15,558.8 143.36,554.15 143.58,549.47 143.79,544.81 144,540.19 144.21,535.67 144.43,531.28 144.64,527.07 144.85,523.09 145.06,519.36 145.28,515.95 145.49,512.89 145.7,510.22 145.91,507.98 146.13,506.21 146.34,504.92 146.55,504.14 146.76,503.88 146.98,504.14 147.19,504.92 147.4,506.21 147.61,507.98 147.83,510.22 148.04,512.89 148.25,515.95 148.46,519.36 148.68,523.09 148.89,527.07 149.1,531.28 149.31,535.67 149.53,540.19 149.74,544.81 149.95,549.47 150.16,554.15 150.38,558.8 150.59,563.4 150.8,567.92 151.01,572.33 151.23,576.6 151.44,580.72 151.65,584.67 151.86,588.43 152.08,592 152.29,595.37 152.5,598.54 152.71,601.49 152.93,604.24 153.14,606.79 153.35,609.14 153.56,611.29 153.78,613.25 153.99,615.04 154.2,616.67 154.41,618.13 154.63,619.45 154.84,620.62 155.05,621.68 155.26,622.61 155.48,623.44 155.69,624.18 155.9,624.83 156.11,625.4 156.33,625.9 156.54,626.34 156.75,626.72 156.96,627.06 157.18,627.35 157.39,627.61 157.6,627.83 157.81,628.03 158.03,628.2 158.24,628.35 158.45,628.48 158.66,628.6 158.88,628.71 159.09,628.8 159.3,628.88 159.51,628.96 159.73,629.03 159.94,629.09 160.15,629.15 160.36,629.2 160.58,629.25 160.79,629.29 161,629.33 161.21,629.37 161.43,629.41 161.64,629.45 161.85,629.48 162.06,629.51 162.28,629.54 162.49,629.57 162.7,629.6 162.91,629.63 163.13,629.65 163.34,629.68 163.55,629.7 163.76,629.72 163.98,629.75 164.19,629.77 164.4,629.79 164.61,629.81 164.83,629.83 165.04,629.85 165.25,629.86 165.46,629.88 165.68,629.9 165.89,629.92 166.1,629.93 166.31,629.95 166.53,629.96 166.74,629.98 166.95,629.99 167.16,630 167.38,630.02 167.59,630.03 167.8,630.04 168.01,630.05 168.23,630.07 168.44,630.08 168.65,630.09 168.86,630.1 169.08,630.11 169.29,630.12 169.5,630.13 169.71,630.14 169.93,630.15 170.14,630.16 170.35,630.17 170.56,630.18" fill="none" stroke="#2d3a85" stroke-width="1.25" stroke-linejoin="round" stroke-linecap="round" />
<rect x="36.9" y="462.75" width="212.5" height="168.5" fill="none" stroke="#0a0a0a" stroke-width="1.5"/>
<line x1="33.1" y1="631.25" x2="36.9" y2="631.25" stroke="#0a0a0a" stroke-width="1.25" />
<line x1="33.1" y1="583.13" x2="36.9" y2="583.13" stroke="#0a0a0a" stroke-width="1.25" />
<line x1="33.1" y1="535.01" x2="36.9" y2="535.01" stroke="#0a0a0a" stroke-width="1.25" />
<line x1="33.1" y1="486.89" x2="36.9" y2="486.89" stroke="#0a0a0a" stroke-width="1.25" />
<line x1="34.9" y1="607.19" x2="36.9" y2="607.19" stroke="#0a0a0a" stroke-width="1.25" />
<line x1="34.9" y1="559.07" x2="36.9" y2="559.07" stroke="#0a0a0a" stroke-width="1.25" />
<line x1="34.9" y1="510.95" x2="36.9" y2="510.95" stroke="#0a0a0a" stroke-width="1.25" />
<text x="32.6" y="634.75" font-size="10.0" text-anchor="end" fill="#1c1c1c" >0</text>
<text x="32.6" y="586.63" font-size="10.0" text-anchor="end" fill="#1c1c1c" >10k</text>
<text x="32.6" y="538.51" font-size="10.0" text-anchor="end" fill="#1c1c1c" >20k</text>
<text x="32.6" y="490.39" font-size="10.0" text-anchor="end" fill="#1c1c1c" >30k</text>
<line x1="36.9" y1="631.25" x2="36.9" y2="635.05" stroke="#0a0a0a" stroke-width="1.25" />
<line x1="79.4" y1="631.25" x2="79.4" y2="635.05" stroke="#0a0a0a" stroke-width="1.25" />
<line x1="121.9" y1="631.25" x2="121.9" y2="635.05" stroke="#0a0a0a" stroke-width="1.25" />
<line x1="164.4" y1="631.25" x2="164.4" y2="635.05" stroke="#0a0a0a" stroke-width="1.25" />
<line x1="206.9" y1="631.25" x2="206.9" y2="635.05" stroke="#0a0a0a" stroke-width="1.25" />
<line x1="249.4" y1="631.25" x2="249.4" y2="635.05" stroke="#0a0a0a" stroke-width="1.25" />
<line x1="58.15" y1="631.25" x2="58.15" y2="633.25" stroke="#0a0a0a" stroke-width="1.25" />
<line x1="100.65" y1="631.25" x2="100.65" y2="633.25" stroke="#0a0a0a" stroke-width="1.25" />
<line x1="143.15" y1="631.25" x2="143.15" y2="633.25" stroke="#0a0a0a" stroke-width="1.25" />
<line x1="185.65" y1="631.25" x2="185.65" y2="633.25" stroke="#0a0a0a" stroke-width="1.25" />
<line x1="228.15" y1="631.25" x2="228.15" y2="633.25" stroke="#0a0a0a" stroke-width="1.25" />
<text x="37.9" y="645.6" font-size="10.0" text-anchor="middle" fill="#1c1c1c" >500</text>
<text x="80.4" y="645.6" font-size="10.0" text-anchor="middle" fill="#1c1c1c" >520</text>
<text x="122.9" y="645.6" font-size="10.0" text-anchor="middle" fill="#1c1c1c" >540</text>
<text x="165.4" y="645.6" font-size="10.0" text-anchor="middle" fill="#1c1c1c" >560</text>
<text x="207.9" y="645.6" font-size="10.0" text-anchor="middle" fill="#1c1c1c" >580</text>
<text x="250.4" y="645.6" font-size="10.0" text-anchor="middle" fill="#1c1c1c" >600</text>
<text x="143.6" y="658.7" font-size="10.0" text-anchor="middle" fill="#1c1c1c" >Wavelength (nm)</text>
<text x="12" y="548.5" font-size="10.0" text-anchor="middle" fill="#1c1c1c" transform="rotate(-90 12 548.5)" >Intensity (a.u.)</text>
<line x1="46.9" y1="475.3" x2="68.2" y2="475.3" stroke="#2d3a85" stroke-width="1.4" />
<line x1="46.9" y1="488.1" x2="68.2" y2="488.1" stroke="#35b088" stroke-width="1.4" />
<text x="75.4" y="478" font-size="10.0" text-anchor="start" fill="#1c1c1c" >GC-695</text>
<text x="75.4" y="491.6" font-size="10.0" text-anchor="start" fill="#1c1c1c" >PG</text>
<text x="188.4" y="482.2" font-size="10.0" text-anchor="start" fill="#1c1c1c" >λ<tspan font-size="5.8" dy="3">p</tspan><tspan dy="-3" font-size="1">&#8203;</tspan> = 1100 nm</text>
</g>
<g>
<text x="277" y="473.5" font-size="20" text-anchor="start" fill="#141010" font-weight="bold" >h</text>
<defs><clipPath id="ch"><rect x="314.6" y="462.25" width="477.9" height="169.5"/></clipPath>
<filter id="glow" x="-20%" y="-20%" width="140%" height="140%"><feGaussianBlur stdDeviation="0.8"/></filter><filter id="glow2" x="-20%" y="-20%" width="140%" height="140%"><feGaussianBlur stdDeviation="0.35"/></filter></defs>
<rect x="330.2" y="466.2" width="39.7" height="48.4" fill="#050507"/>
<path d="M338.2 481.3 L363.5 481.1 L363.7 492.3 L365.2 494.8 L365.4 501.4 L338.8 502.8 Z" fill="#0a1246" opacity="0.8" filter="url(#glow)"/>
<path d="M338.2 481.3 L363.5 481.1 L363.7 492.3 L365.2 494.8 L365.4 501.4 L338.8 502.8 Z" fill="none" stroke="#4560d8" stroke-width="1.0" opacity="0.72" filter="url(#glow)"/>
<path d="M338.2 481.3 L363.5 481.1" stroke="#aebcff" stroke-width="0.7" fill="none" filter="url(#glow2)" opacity="0.58"/>
<path d="M341.2 502.6 L365.4 501.4" stroke="#aebcff" stroke-width="0.8" fill="none" filter="url(#glow2)" opacity="0.68"/>
<circle cx="351.24" cy="481.6" r="0.75" fill="#ffffff" opacity="0.86" filter="url(#glow2)"/>
<rect x="375.1" y="466.2" width="39.6" height="48.4" fill="#050507"/>
<path d="M383.1 481.3 L408.3 481.1 L408.5 492.3 L410 494.8 L410.2 501.4 L383.7 502.8 Z" fill="#091642" opacity="0.8" filter="url(#glow)"/>
<path d="M383.1 481.3 L408.3 481.1 L408.5 492.3 L410 494.8 L410.2 501.4 L383.7 502.8 Z" fill="none" stroke="#3c78dc" stroke-width="1.0" opacity="0.72" filter="url(#glow)"/>
<path d="M383.1 481.3 L408.3 481.1" stroke="#acd0ff" stroke-width="0.7" fill="none" filter="url(#glow2)" opacity="0.58"/>
<path d="M386.1 502.6 L410.2 501.4" stroke="#acd0ff" stroke-width="0.8" fill="none" filter="url(#glow2)" opacity="0.68"/>
<circle cx="396.09" cy="481.6" r="0.75" fill="#ffffff" opacity="0.86" filter="url(#glow2)"/>
<rect x="419.5" y="466.2" width="39.4" height="48.4" fill="#050507"/>
<path d="M427.5 481.3 L452.5 481.1 L452.7 492.3 L454.2 494.8 L454.4 501.4 L428.1 502.8 Z" fill="#07212c" opacity="0.72" filter="url(#glow)"/>
<path d="M427.5 481.3 L452.5 481.1 L452.7 492.3 L454.2 494.8 L454.4 501.4 L428.1 502.8 Z" fill="none" stroke="#2a98b8" stroke-width="1.0" opacity="0.58" filter="url(#glow)"/>
<path d="M427.5 481.3 L452.5 481.1" stroke="#9fe4ec" stroke-width="0.7" fill="none" filter="url(#glow2)" opacity="0.46"/>
<path d="M430.5 502.6 L454.4 501.4" stroke="#9fe4ec" stroke-width="0.8" fill="none" filter="url(#glow2)" opacity="0.55"/>
<circle cx="440.38" cy="481.6" r="0.75" fill="#ffffff" opacity="0.7" filter="url(#glow2)"/>
<rect x="463.5" y="466.2" width="39.3" height="48.4" fill="#050507"/>
<path d="M471.5 481.3 L496.4 481.1 L496.6 492.3 L498.1 494.8 L498.3 501.4 L472.1 502.8 Z" fill="#092a14" opacity="0.8" filter="url(#glow)"/>
<path d="M471.5 481.3 L496.4 481.1 L496.6 492.3 L498.1 494.8 L498.3 501.4 L472.1 502.8 Z" fill="none" stroke="#30c05a" stroke-width="1.0" opacity="0.66" filter="url(#glow)"/>
<path d="M471.5 481.3 L496.4 481.1" stroke="#aef0b8" stroke-width="0.7" fill="none" filter="url(#glow2)" opacity="0.53"/>
<path d="M474.5 502.6 L498.3 501.4" stroke="#aef0b8" stroke-width="0.8" fill="none" filter="url(#glow2)" opacity="0.63"/>
<circle cx="484.33" cy="481.6" r="0.75" fill="#ffffff" opacity="0.79" filter="url(#glow2)"/>
<rect x="508" y="466.2" width="39.4" height="48.4" fill="#050507"/>
<path d="M516 481.3 L541 481.1 L541.2 492.3 L542.7 494.8 L542.9 501.4 L516.6 502.8 Z" fill="#0a2611" opacity="0.72" filter="url(#glow)"/>
<path d="M516 481.3 L541 481.1 L541.2 492.3 L542.7 494.8 L542.9 501.4 L516.6 502.8 Z" fill="none" stroke="#2fae45" stroke-width="1.0" opacity="0.55" filter="url(#glow)"/>
<path d="M516 481.3 L541 481.1" stroke="#9ee4a2" stroke-width="0.7" fill="none" filter="url(#glow2)" opacity="0.44"/>
<path d="M519 502.6 L542.9 501.4" stroke="#9ee4a2" stroke-width="0.8" fill="none" filter="url(#glow2)" opacity="0.52"/>
<circle cx="528.88" cy="481.6" r="0.75" fill="#ffffff" opacity="0.66" filter="url(#glow2)"/>
<rect x="552.7" y="466.2" width="39.4" height="48.4" fill="#050507"/>
<path d="M560.7 481.3 L585.7 481.1 L585.9 492.3 L587.4 494.8 L587.6 501.4 L561.3 502.8 Z" fill="#0f2c11" opacity="0.8" filter="url(#glow)"/>
<path d="M560.7 481.3 L585.7 481.1 L585.9 492.3 L587.4 494.8 L587.6 501.4 L561.3 502.8 Z" fill="none" stroke="#52c840" stroke-width="1.0" opacity="0.68" filter="url(#glow)"/>
<path d="M560.7 481.3 L585.7 481.1" stroke="#c0f0a0" stroke-width="0.7" fill="none" filter="url(#glow2)" opacity="0.54"/>
<path d="M563.7 502.6 L587.6 501.4" stroke="#c0f0a0" stroke-width="0.8" fill="none" filter="url(#glow2)" opacity="0.65"/>
<circle cx="573.58" cy="481.6" r="0.75" fill="#ffffff" opacity="0.82" filter="url(#glow2)"/>
<rect x="597.5" y="466.2" width="39.2" height="48.4" fill="#050507"/>
<path d="M605.5 481.3 L630.3 481.1 L630.5 492.3 L632 494.8 L632.2 501.4 L606.1 502.8 Z" fill="#0c1006" opacity="0.64" filter="url(#glow)"/>
<path d="M605.5 481.3 L630.3 481.1 L630.5 492.3 L632 494.8 L632.2 501.4 L606.1 502.8 Z" fill="none" stroke="#8fba34" stroke-width="1.0" opacity="0.55" filter="url(#glow)"/>
<path d="M605.5 481.3 L630.3 481.1" stroke="#cfe884" stroke-width="0.7" fill="none" filter="url(#glow2)" opacity="0.44"/>
<path d="M608.5 502.6 L632.2 501.4" stroke="#cfe884" stroke-width="0.8" fill="none" filter="url(#glow2)" opacity="0.52"/>
<circle cx="618.28" cy="481.6" r="0.75" fill="#ffffff" opacity="0.66" filter="url(#glow2)"/>
<rect x="640.9" y="466.2" width="39.3" height="48.4" fill="#050507"/>
<path d="M648.9 481.3 L673.8 481.1 L674 492.3 L675.5 494.8 L675.7 501.4 L649.5 502.8 Z" fill="#0e0504" opacity="0.56" filter="url(#glow)"/>
<path d="M648.9 481.3 L673.8 481.1 L674 492.3 L675.5 494.8 L675.7 501.4 L649.5 502.8 Z" fill="none" stroke="#cc4a28" stroke-width="1.0" opacity="0.45" filter="url(#glow)"/>
<path d="M648.9 481.3 L673.8 481.1" stroke="#f09468" stroke-width="0.7" fill="none" filter="url(#glow2)" opacity="0.36"/>
<path d="M651.9 502.6 L675.7 501.4" stroke="#f09468" stroke-width="0.8" fill="none" filter="url(#glow2)" opacity="0.43"/>
<circle cx="661.73" cy="481.6" r="0.75" fill="#ffffff" opacity="0.54" filter="url(#glow2)"/>
<rect x="684.9" y="466.2" width="39.7" height="48.4" fill="#050507"/>
<path d="M692.9 481.3 L718.2 481.1 L718.4 492.3 L719.9 494.8 L720.1 501.4 L693.5 502.8 Z" fill="#0c0404" opacity="0.48" filter="url(#glow)"/>
<path d="M692.9 481.3 L718.2 481.1 L718.4 492.3 L719.9 494.8 L720.1 501.4 L693.5 502.8 Z" fill="none" stroke="#c23426" stroke-width="1.0" opacity="0.38" filter="url(#glow)"/>
<path d="M692.9 481.3 L718.2 481.1" stroke="#e87858" stroke-width="0.7" fill="none" filter="url(#glow2)" opacity="0.3"/>
<path d="M695.9 502.6 L720.1 501.4" stroke="#e87858" stroke-width="0.8" fill="none" filter="url(#glow2)" opacity="0.36"/>
<circle cx="705.94" cy="481.6" r="0.75" fill="#ffffff" opacity="0.46" filter="url(#glow2)"/>
<g clip-path="url(#ch)">
<polyline points="314.91,630.59 315.45,629.04 315.99,628.98 316.53,628.72 317.07,628.24 317.62,628.18 318.16,628.17 318.7,628.86 319.24,628.61 319.79,628.14 320.33,628.91 320.87,628.26 321.41,629.09 321.96,628.88 322.5,630.43 323.04,629.45 323.58,629.89 324.13,629.73 324.67,628.61 325.21,629.29 325.75,628.06 326.29,629.14 326.84,629.44 327.38,629.09 327.92,627.55 328.46,629.51 329.01,628.41 329.55,627.12 330.09,627.04 330.63,630.89 331.18,628.63 331.72,629.73 332.26,628.52 332.8,630.38 333.35,628.06 333.89,629.44 334.43,627.57 334.97,629.93 335.52,629.53 336.06,628.72 336.6,628.12 337.14,628.45 337.68,629.37 338.23,628.8 338.77,628.1 339.31,628.9 339.85,628.49 340.4,628.03 340.94,627.9 341.48,629.19 342.02,627.96 342.57,627.35 343.11,629.73 343.65,627.82 344.19,627.35 344.74,627.46 345.28,628.3 345.82,628.31 346.36,627.59 346.91,628.88 347.45,630.16 347.99,628.51 348.53,628.51 349.07,629.51 349.62,628.59 350.16,628.74 350.7,627.95 351.24,628.7 351.79,630.26 352.33,628.13 352.87,629.07 353.41,630.17 353.96,630.47 354.5,629.4 355.04,628.16 355.58,628.23 356.13,628.84 356.67,627.78 357.21,629.41 357.75,628.24 358.3,629.27 358.84,627.65 359.38,628.67 359.92,627.84 360.46,627.74 361.01,627.35 361.55,630.43 362.09,627.41 362.63,629.69 363.18,627.24 363.72,626.42 364.26,628.88 364.8,630.4 365.35,627.99 365.89,626.48 366.43,627.83 366.97,628.94 367.52,628.16 368.06,630.93 368.6,630.64 369.14,628.5 369.68,629.01 370.23,628.17 370.77,630.21 371.31,629.37 371.85,626.7 372.4,629.61 372.94,628.58 373.48,628.96 374.02,626.53 374.57,629.14 375.11,628.37 375.65,627.66 376.19,629.72 376.74,629.77 377.28,628.15 377.82,627.94 378.36,627.27 378.91,628.65 379.45,628.42 379.99,627.81 380.53,628.47 381.07,629.57 381.62,627.71 382.16,630.3 382.7,629.79 383.24,628.2 383.79,629.29 384.33,630.14 384.87,629.51 385.41,627.85 385.96,628.49 386.5,627.61 387.04,629.54 387.58,630.04 388.13,629.82 388.67,626.79 389.21,628.9 389.75,628.9 390.3,628.52 390.84,627.45 391.38,628.72 391.92,628.03 392.46,629.09 393.01,629.4 393.55,629.15 394.09,630.04 394.63,629.84 395.18,628.54 395.72,630.14 396.26,628.21 396.8,627.5 397.35,630.1 397.89,629.31 398.43,628.08 398.97,626.38 399.52,628.55 400.06,626.97 400.6,628.18 401.14,627.8 401.69,628.11 402.23,629.31 402.77,629.74 403.31,630.38 403.85,628.88 404.4,628.9 404.94,629.53 405.48,629.25 406.02,627.39 406.57,630.8 407.11,630.13 407.65,630.23 408.19,628.86 408.74,629.53 409.28,628.03 409.82,630.72 410.36,629.96 410.91,627.97 411.45,630.47 411.99,629.84 412.53,629.79 413.07,630.44 413.62,628.82 414.16,628.28 414.7,628.37 415.24,628.42 415.79,628.82 416.33,628.57 416.87,630.62 417.41,628.43 417.96,628.16 418.5,629.51 419.04,628.43 419.58,630.24 420.13,627.19 420.67,630.15 421.21,628.98 421.75,626.8 422.3,627.17 422.84,627.92 423.38,628.4 423.92,628.3 424.46,629.26 425.01,628.32 425.55,628.72 426.09,627.85 426.63,629.26 427.18,628.49 427.72,630.63 428.26,630.31 428.8,627.49 429.35,629.31 429.89,628.66 430.43,627.7 430.97,627.92 431.52,629.15 432.06,627.18 432.6,627.06 433.14,627.61 433.69,629.77 434.23,630.14 434.77,630.01 435.31,630.48 435.85,626.37 436.4,628.26 436.94,629.57 437.48,630.1 438.02,628.56 438.57,627.4 439.11,627.71 439.65,628.78 440.19,627.4 440.74,628.17 441.28,627.23 441.82,630.39 442.36,626.93 442.91,628.48 443.45,627.79 443.99,629.31 444.53,630.24 445.08,628.99 445.62,629.02 446.16,628.35 446.7,628.33 447.24,628.8 447.79,628.58 448.33,628.03 448.87,628.88 449.41,630.43 449.96,629.11 450.5,627.47 451.04,628.32 451.58,627.55 452.13,628.72 452.67,627.87 453.21,625.95 453.75,628.03 454.3,627.75 454.84,627.42 455.38,627.49 455.92,628.15 456.46,630.22 457.01,629.38 457.55,626.94 458.09,629.79 458.63,630.06 459.18,629.42 459.72,627.86 460.26,630.58 460.8,627.4 461.35,629.5 461.89,628.3 462.43,626.33 462.97,628.21 463.52,629.45 464.06,628.47 464.6,628.22 465.14,628.78 465.69,629.78 466.23,630.79 466.77,627.15 467.31,628.95 467.85,630.53 468.4,628.79 468.94,628.16 469.48,629.41 470.02,626.78 470.57,629.95 471.11,630.3 471.65,629.73 472.19,629.5 472.74,628.02 473.28,628.34 473.82,630.37 474.36,628.25 474.91,629.39 475.45,628.34 475.99,626.82 476.53,630.51 477.08,629.11 477.62,630.11 478.16,629.01 478.7,628.33 479.24,624.43 479.79,628.89 480.33,629.01 480.87,629.76 481.41,630.64 481.96,627.37 482.5,629.4 483.04,628.45 483.58,628.68 484.13,628.96 484.67,628.49 485.21,630.2 485.75,625.79 486.3,629.38 486.84,628 487.38,628.99 487.92,629.2 488.47,629.51 489.01,628.32 489.55,629.18 490.09,628.44 490.63,626.95 491.18,628.38 491.72,626.07 492.26,629.83 492.8,627.8 493.35,629.03 493.89,628.57 494.43,626.96 494.97,627.19 495.52,628.88 496.06,629.76 496.6,627.92 497.14,629.09 497.69,628.45 498.23,628.33 498.77,629.9 499.31,626.81 499.85,628.51 500.4,628.94 500.94,629.34 501.48,627.97 502.02,627.56 502.57,625.82 503.11,627.2 503.65,630.17 504.19,628.52 504.74,627.32 505.28,629.12 505.82,630.4 506.36,626.9 506.91,630.04 507.45,630.39 507.99,626.55 508.53,626.64 509.08,627.66 509.62,627.57 510.16,626.78 510.7,629.03 511.24,630.62 511.79,629.18 512.33,629.34 512.87,629.01 513.41,628.61 513.96,630.18 514.5,629.52 515.04,630.1 515.58,627.7 516.13,630.22 516.67,629.49 517.21,629.34 517.75,629.49 518.3,629 518.84,628.78 519.38,630.29 519.92,626.38 520.47,629.26 521.01,629.59 521.55,627.61 522.09,629.94 522.63,628.04 523.18,629.41 523.72,629.97 524.26,629.24 524.8,628.28 525.35,629.29 525.89,630.16 526.43,628.15 526.97,627.34 527.52,628.47 528.06,629.88 528.6,630.45 529.14,627.97 529.69,630.44 530.23,627.53 530.77,628.98 531.31,627.59 531.86,630.06 532.4,627.54 532.94,630.08 533.48,630.28 534.02,628.2 534.57,630.47 535.11,628.99 535.65,628.2 536.19,630.59 536.74,628.06 537.28,628.28 537.82,627.06 538.36,629.73 538.91,630.17 539.45,629 539.99,629.81 540.53,629.5 541.08,627.28 541.62,629.85 542.16,629.39 542.7,630.54 543.24,627.91 543.79,628.47 544.33,627.5 544.87,628.32 545.41,630.16 545.96,630.54 546.5,628.69 547.04,629.66 547.58,626.09 548.13,628.3 548.67,628.86 549.21,628.37 549.75,629.12 550.3,630.75 550.84,626.57 551.38,626.82 551.92,629.72 552.47,627.71 553.01,629.34 553.55,627.44 554.09,628.66 554.63,627.84 555.18,627.97 555.72,630.14 556.26,628.4 556.8,628.63 557.35,628.32 557.89,628.23 558.43,628.18 558.97,627.53 559.52,629.46 560.06,628.76 560.6,629.69 561.14,629 561.69,629.97 562.23,629.97 562.77,629.08 563.31,628.45 563.86,628.12 564.4,628.65 564.94,627.48 565.48,627.53 566.02,628.43 566.57,628.46 567.11,625.72 567.65,628.05 568.19,628.47 568.74,627.34 569.28,630.26 569.82,627.54 570.36,628.2 570.91,629.05 571.45,628.22 571.99,629.56 572.53,628.31 573.08,627.76 573.62,627.2 574.16,630.21 574.7,628.62 575.25,629.56 575.79,627.75 576.33,630.47 576.87,627.74 577.41,630.45 577.96,627.43 578.5,627.88 579.04,628.97 579.58,627.29 580.13,629.74 580.67,628.48 581.21,629.66 581.75,629.33 582.3,627.96 582.84,629.72 583.38,630.02 583.92,627.97 584.47,627.43 585.01,627.23 585.55,629.7 586.09,629.98 586.63,629.76 587.18,629.38 587.72,630.12 588.26,629.9 588.8,628.49 589.35,629.93 589.89,628.3 590.43,629.33 590.97,630.14 591.52,628.5 592.06,629.39 592.6,629.53 593.14,630.19 593.69,629.25 594.23,627.46 594.77,629.75 595.31,629.36 595.86,628.44 596.4,629.87 596.94,628.88 597.48,627.38 598.02,628.81 598.57,627.12 599.11,628.3 599.65,629.38 600.19,629.43 600.74,630.33 601.28,628.44 601.82,627.11 602.36,630.67 602.91,630.91 603.45,630.45 603.99,629.24 604.53,629.61 605.08,627.17 605.62,628.14 606.16,627.79 606.7,628.66 607.25,627.42 607.79,627.49 608.33,629.56 608.87,628.86 609.41,628.79 609.96,629.06 610.5,627.48 611.04,629.25 611.58,629.41 612.13,628.35 612.67,629.38 613.21,629.42 613.75,629.67 614.3,629.82 614.84,626.95 615.38,629.2 615.92,627.58 616.47,629.56 617.01,627.54 617.55,627.72 618.09,629.12 618.63,628.05 619.18,628.55 619.72,629.81 620.26,629 620.8,629.93 621.35,628.25 621.89,627.92 622.43,627.75 622.97,628.08 623.52,629.38 624.06,628.12 624.6,627.81 625.14,628.96 625.69,628.34 626.23,628.12 626.77,628.99 627.31,630.74 627.86,627.5 628.4,628.22 628.94,627.67 629.48,629.33 630.02,629.81 630.57,627.09 631.11,627.94 631.65,627.45 632.19,628.4 632.74,628.03 633.28,628.78 633.82,629.38 634.36,628.36 634.91,628.28 635.45,627.66 635.99,626.2 636.53,628.49 637.08,625.97 637.62,627.79 638.16,630.04 638.7,628.85 639.25,629.55 639.79,630.1 640.33,627.92 640.87,627.2 641.41,628.01 641.96,630.35 642.5,628.99 643.04,627.28 643.58,626.11 644.13,629.84 644.67,629.03 645.21,628.82 645.75,628.96 646.3,627.03 646.84,630.18 647.38,629.18 647.92,627.05 648.47,628.57 649.01,628.9 649.55,629.53 650.09,627.01 650.64,628.53 651.18,628.94 651.72,628.85 652.26,627.33 652.8,628.17 653.35,628.7 653.89,627.53 654.43,628.82 654.97,628.32 655.52,628.39 656.06,627.79 656.6,627.08 657.14,629.42 657.69,629.05 658.23,629.99 658.77,628.37 659.31,629.67 659.86,629.05 660.4,630.64 660.94,629.33 661.48,629.02 662.02,628.43 662.57,629.26 663.11,629.88 663.65,626.76 664.19,628.5 664.74,628.9 665.28,628.41 665.82,628.49 666.36,627.58 666.91,629.68 667.45,628.08 667.99,627.51 668.53,629.74 669.08,628.4 669.62,630.42 670.16,625.78 670.7,625.59 671.25,627.28 671.79,628.76 672.33,626.39 672.87,628.22 673.41,627.09 673.96,627.95 674.5,626.3 675.04,624.68 675.58,624.12 676.13,623.39 676.67,621.48 677.21,619.27 677.75,616.4 678.3,613.92 678.84,610.47 679.38,606.59 679.92,600.21 680.47,594.25 681.01,587.55 681.55,581.15 682.09,572.77 682.64,565.56 683.18,557.33 683.72,549.1 684.26,542.22 684.8,535.3 685.35,529.18 685.89,524.58 686.43,521.16 686.97,519.1 687.52,519 688.06,519.68 688.6,521.46 689.14,524.63 689.69,528.82 690.23,533.62 690.77,539.6 691.31,545.56 691.86,552.21 692.4,559.06 692.94,566.81 693.48,573.11 694.03,578.37 694.57,586.33 695.11,593.03 695.65,597.21 696.19,603.71 696.74,606.57 697.28,609.76 697.82,614.86 698.36,617.18 698.91,619.78 699.45,622 699.99,622.71 700.53,624.23 701.08,626.25 701.62,624.8 702.16,626.73 702.7,627.89 703.25,624.99 703.79,627.52 704.33,628.48 704.87,626.35 705.41,628.81 705.96,628.37 706.5,629.71 707.04,630.05 707.58,629.25 708.13,630.02 708.67,628.74 709.21,626.59 709.75,628.14 710.3,629.01 710.84,629.7 711.38,629.12 711.92,630.45 712.47,627.72 713.01,628.48 713.55,626.45 714.09,629.6 714.64,628.76 715.18,628.75 715.72,629.97 716.26,627.83 716.8,628.78 717.35,629.59 717.89,630.58 718.43,627.36 718.97,630.02 719.52,627.55 720.06,629.51 720.6,630.1 721.14,627.11 721.69,628.52 722.23,628.82 722.77,628.31 723.31,628.61 723.86,629.41 724.4,628.55 724.94,628.53 725.48,628.66 726.03,627.22 726.57,627.42 727.11,628.34 727.65,627.23 728.19,627.75 728.74,628.53 729.28,629 729.82,627.74 730.36,628.48 730.91,627.89 731.45,629.91 731.99,629.48 732.53,629.06 733.08,627.77 733.62,629.84 734.16,630.04 734.7,627.8 735.25,629.89 735.79,629.14 736.33,628.38 736.87,629.68 737.42,627.67 737.96,628.62 738.5,629.46 739.04,629.34 739.58,628.85 740.13,625.96 740.67,629.78 741.21,628.9 741.75,627.57 742.3,628.79 742.84,628.32 743.38,628.54 743.92,628.3 744.47,628.92 745.01,629.31 745.55,630.19 746.09,630.94 746.64,628.27 747.18,627.13 747.72,627.57 748.26,627.18 748.8,627.26 749.35,627.24 749.89,628.01 750.43,628.64 750.97,627.31 751.52,627.88 752.06,629.37 752.6,627.3 753.14,629.04 753.69,630.03 754.23,627.91 754.77,630.4 755.31,627.57 755.86,627.94 756.4,629.57 756.94,628.03 757.48,630.01 758.03,629.02 758.57,627.08 759.11,625.56 759.65,628.19 760.19,627.55 760.74,627.52 761.28,629.07 761.82,627.13 762.36,628.3 762.91,630.42 763.45,628.05 763.99,628.36 764.53,628.11 765.08,628.47 765.62,629.8 766.16,628.21 766.7,628.76 767.25,629.77 767.79,629.89 768.33,629.9 768.87,625.95 769.42,630.54 769.96,627.16 770.5,629.03 771.04,628.74 771.58,630.05 772.13,628.4 772.67,628.8 773.21,627.94 773.75,630.18 774.3,629.49 774.84,627.95 775.38,628.52 775.92,630.1 776.47,628.43 777.01,628 777.55,628.92 778.09,629.97 778.64,628.2 779.18,627.38 779.72,627.85 780.26,628.12 780.81,627.82 781.35,629.19 781.89,629.53 782.43,628.76 782.97,629.15 783.52,629.24 784.06,628.24 784.6,629.67 785.14,627.75 785.69,628.89 786.23,628.68 786.77,629.5 787.31,629.86 787.86,627.86 788.4,629.53 788.94,629.36 789.48,628.89 790.03,627.85 790.57,630.02 791.11,629.2 791.65,628.4 792.19,627.02" fill="none" stroke="#e93535" stroke-width="1.35" stroke-linejoin="round" stroke-linecap="round" />
<polyline points="314.91,628.46 315.45,628.95 315.99,629.82 316.53,628.85 317.07,627.09 317.62,627.66 318.16,628.07 318.7,628.42 319.24,628.99 319.79,630.06 320.33,630.52 320.87,627.91 321.41,627.01 321.96,626.37 322.5,627.5 323.04,630.11 323.58,630 324.13,628.88 324.67,629.15 325.21,628.62 325.75,628.58 326.29,629.79 326.84,628.95 327.38,628.88 327.92,629 328.46,629.6 329.01,628.46 329.55,627.84 330.09,628.68 330.63,628.12 331.18,627.97 331.72,630.54 332.26,628.02 332.8,627.72 333.35,629.42 333.89,630.67 334.43,628.81 334.97,629.99 335.52,629.79 336.06,629.32 336.6,628.57 337.14,626.67 337.68,628.82 338.23,629.9 338.77,628.5 339.31,627.84 339.85,628.75 340.4,628.81 340.94,628.92 341.48,628.89 342.02,630.01 342.57,629.94 343.11,627.04 343.65,627.34 344.19,628.36 344.74,628.71 345.28,626.5 345.82,630.18 346.36,629.57 346.91,628.33 347.45,630.17 347.99,626.94 348.53,628.85 349.07,627.86 349.62,625.2 350.16,627.99 350.7,626.65 351.24,629.64 351.79,627.93 352.33,628.16 352.87,628.54 353.41,628.96 353.96,627.3 354.5,629.07 355.04,629.1 355.58,627.84 356.13,628.2 356.67,627.77 357.21,630.38 357.75,628.87 358.3,629.46 358.84,629.67 359.38,628.04 359.92,630.35 360.46,628.44 361.01,628.22 361.55,626.88 362.09,630.64 362.63,629.87 363.18,629.06 363.72,630.9 364.26,627 364.8,629.59 365.35,628.36 365.89,628.67 366.43,630 366.97,628.26 367.52,627.81 368.06,629.35 368.6,628.31 369.14,629.3 369.68,629.56 370.23,630.44 370.77,627.27 371.31,628.28 371.85,629.12 372.4,628.28 372.94,627.71 373.48,629.72 374.02,627.77 374.57,629.06 375.11,628.5 375.65,628.34 376.19,629.47 376.74,628.35 377.28,630.26 377.82,628.8 378.36,629.06 378.91,627.75 379.45,628.47 379.99,627.17 380.53,627.3 381.07,628.27 381.62,629.24 382.16,630.37 382.7,627.99 383.24,630.76 383.79,627.51 384.33,629.48 384.87,630.13 385.41,630.57 385.96,627.99 386.5,627.27 387.04,629.94 387.58,628.31 388.13,630.3 388.67,628.81 389.21,626.79 389.75,627.96 390.3,630.5 390.84,627.87 391.38,627.29 391.92,628.08 392.46,628.04 393.01,630.14 393.55,629.29 394.09,626.77 394.63,626.85 395.18,628.11 395.72,628.99 396.26,628.11 396.8,628.91 397.35,628.64 397.89,628.94 398.43,630.21 398.97,629.08 399.52,628.51 400.06,627.64 400.6,629.83 401.14,628.51 401.69,629.12 402.23,626.95 402.77,629.82 403.31,627.47 403.85,628.33 404.4,626.37 404.94,628.69 405.48,628.21 406.02,627.18 406.57,627.44 407.11,630.16 407.65,625.67 408.19,630.06 408.74,630.24 409.28,629.4 409.82,628.77 410.36,629.46 410.91,630.06 411.45,628.95 411.99,625.45 412.53,627.11 413.07,629.23 413.62,628.16 414.16,628.7 414.7,628.09 415.24,628.08 415.79,629.23 416.33,628.32 416.87,629.43 417.41,628.67 417.96,630.43 418.5,629.61 419.04,630.32 419.58,628.4 420.13,627.2 420.67,627.39 421.21,627.31 421.75,627.97 422.3,628.11 422.84,630.61 423.38,627.15 423.92,627.92 424.46,629.97 425.01,630.46 425.55,629.73 426.09,629.44 426.63,628.38 427.18,628.18 427.72,627.85 428.26,628 428.8,629.52 429.35,628.47 429.89,626.96 430.43,626.54 430.97,628.88 431.52,628.72 432.06,629.17 432.6,627.86 433.14,628 433.69,628.33 434.23,628.92 434.77,628.93 435.31,630.05 435.85,628.61 436.4,628.81 436.94,628.05 437.48,629.71 438.02,627.85 438.57,627.31 439.11,629.83 439.65,628.84 440.19,628.86 440.74,628.88 441.28,625.26 441.82,629 442.36,630.6 442.91,627.24 443.45,628.85 443.99,627.91 444.53,630.12 445.08,627.88 445.62,628.88 446.16,628.73 446.7,628.63 447.24,626.35 447.79,627.65 448.33,629.25 448.87,629.66 449.41,629.24 449.96,628.9 450.5,629.34 451.04,628.74 451.58,628.28 452.13,628.32 452.67,627.25 453.21,629.22 453.75,629.9 454.3,629.81 454.84,628.41 455.38,629.07 455.92,628.67 456.46,629.05 457.01,628.24 457.55,626.63 458.09,629.48 458.63,629.39 459.18,627.33 459.72,628.24 460.26,628.65 460.8,630.51 461.35,628.09 461.89,627.76 462.43,629.52 462.97,627.61 463.52,628.52 464.06,628.72 464.6,628.46 465.14,630.05 465.69,627.9 466.23,627.28 466.77,630.51 467.31,628.21 467.85,628.07 468.4,629.65 468.94,629.05 469.48,628.94 470.02,627.15 470.57,628.96 471.11,626.27 471.65,629.34 472.19,630.45 472.74,629.44 473.28,629.52 473.82,629.09 474.36,626.81 474.91,628.12 475.45,627.88 475.99,627.06 476.53,629.06 477.08,628.85 477.62,628.76 478.16,629.22 478.7,630.65 479.24,629.9 479.79,627.29 480.33,627.74 480.87,628.99 481.41,630.08 481.96,629.11 482.5,628.31 483.04,630.47 483.58,628.94 484.13,629.79 484.67,628.62 485.21,628.91 485.75,629.53 486.3,628.52 486.84,629.98 487.38,629.45 487.92,626.23 488.47,627.1 489.01,628.59 489.55,630.51 490.09,627.17 490.63,627.9 491.18,629.53 491.72,627.06 492.26,628.21 492.8,629 493.35,628.94 493.89,629.87 494.43,628.74 494.97,627.8 495.52,630.75 496.06,629.02 496.6,628.13 497.14,628.08 497.69,629.9 498.23,628.35 498.77,628.88 499.31,629.6 499.85,627.31 500.4,629.51 500.94,629.89 501.48,628.29 502.02,627.31 502.57,627.65 503.11,629.93 503.65,630.6 504.19,628.84 504.74,628.51 505.28,628.17 505.82,630.26 506.36,628.19 506.91,629.81 507.45,626.84 507.99,629.04 508.53,630.32 509.08,628.31 509.62,628.4 510.16,627.14 510.7,627.39 511.24,628.07 511.79,630.07 512.33,626.44 512.87,630.63 513.41,629.34 513.96,630.48 514.5,627.16 515.04,630.51 515.58,629.02 516.13,629.6 516.67,629.08 517.21,627.34 517.75,627.88 518.3,627.98 518.84,629.12 519.38,629.91 519.92,630 520.47,629.25 521.01,627.63 521.55,627.25 522.09,630.09 522.63,628.14 523.18,628.72 523.72,630.18 524.26,630.48 524.8,630.04 525.35,627.6 525.89,629.92 526.43,630.64 526.97,628.5 527.52,629.96 528.06,625.97 528.6,628.59 529.14,628.01 529.69,628.8 530.23,628.37 530.77,627.79 531.31,627.3 531.86,628.41 532.4,630.23 532.94,629.11 533.48,627.53 534.02,629.35 534.57,629.03 535.11,629.46 535.65,627.35 536.19,628.41 536.74,629.68 537.28,627.2 537.82,629.64 538.36,629.23 538.91,627.11 539.45,628.11 539.99,629.71 540.53,628.07 541.08,627.87 541.62,628.89 542.16,628.22 542.7,627.78 543.24,630.2 543.79,629.18 544.33,627.73 544.87,627.96 545.41,627.5 545.96,628.78 546.5,629.21 547.04,628.35 547.58,629.83 548.13,628.07 548.67,628.54 549.21,629.3 549.75,626.39 550.3,628.95 550.84,629.11 551.38,626.66 551.92,627.52 552.47,628.82 553.01,628.33 553.55,628.13 554.09,629.37 554.63,629.47 555.18,627.45 555.72,629.83 556.26,628.01 556.8,629.1 557.35,628.75 557.89,628.77 558.43,629.28 558.97,628.66 559.52,627.6 560.06,627 560.6,627.14 561.14,629.58 561.69,630.27 562.23,627.9 562.77,629.05 563.31,630.29 563.86,628.39 564.4,629.09 564.94,627.93 565.48,628.46 566.02,628.75 566.57,628.93 567.11,628.85 567.65,630.46 568.19,627.09 568.74,629.34 569.28,629.59 569.82,626.86 570.36,627.94 570.91,629.69 571.45,628.84 571.99,629.79 572.53,626.31 573.08,627.54 573.62,628.57 574.16,628.59 574.7,629.31 575.25,628.58 575.79,628.42 576.33,628.01 576.87,629.73 577.41,629.55 577.96,629.57 578.5,629.12 579.04,628.88 579.58,629.94 580.13,626.67 580.67,628.39 581.21,630.17 581.75,628.72 582.3,630.22 582.84,630.48 583.38,629.66 583.92,629.51 584.47,628.84 585.01,629.68 585.55,630.26 586.09,627.11 586.63,628.33 587.18,629.81 587.72,628.41 588.26,629.56 588.8,630.01 589.35,628.97 589.89,629 590.43,628.39 590.97,628.19 591.52,629.43 592.06,629.02 592.6,629.26 593.14,628.1 593.69,629.71 594.23,629.93 594.77,628.7 595.31,629.66 595.86,626.81 596.4,627.37 596.94,630.09 597.48,628.62 598.02,629.16 598.57,628.96 599.11,627.81 599.65,628.3 600.19,627.98 600.74,629.44 601.28,627.87 601.82,628.54 602.36,629.84 602.91,629.38 603.45,630.55 603.99,629.36 604.53,627.65 605.08,629.23 605.62,629.18 606.16,628.89 606.7,629.01 607.25,628.7 607.79,629.56 608.33,627.26 608.87,627.51 609.41,627.54 609.96,628.35 610.5,626.61 611.04,628.78 611.58,628.97 612.13,628.64 612.67,628.33 613.21,628.23 613.75,628.21 614.3,627.88 614.84,629.44 615.38,627.4 615.92,627.81 616.47,628.45 617.01,629.12 617.55,629.03 618.09,627.11 618.63,630.42 619.18,627.08 619.72,627.7 620.26,630.33 620.8,629.66 621.35,628.3 621.89,628.51 622.43,629.7 622.97,628.41 623.52,630.12 624.06,627.96 624.6,629.2 625.14,627.73 625.69,629.69 626.23,630.07 626.77,627.95 627.31,627.28 627.86,630.29 628.4,630.64 628.94,628.99 629.48,628.94 630.02,628.83 630.57,629.7 631.11,626.52 631.65,627.19 632.19,628.45 632.74,630.36 633.28,628.43 633.82,628.7 634.36,627.24 634.91,629.74 635.45,629.85 635.99,629.01 636.53,626.83 637.08,627.88 637.62,627.77 638.16,629.6 638.7,630.69 639.25,626.64 639.79,629.46 640.33,627.39 640.87,628.68 641.41,629.77 641.96,629.07 642.5,629.44 643.04,629.68 643.58,627.77 644.13,628.05 644.67,628.02 645.21,629.71 645.75,627.11 646.3,627.44 646.84,628.69 647.38,628.93 647.92,627.23 648.47,627.35 649.01,629.85 649.55,627.61 650.09,628.08 650.64,627.99 651.18,627.49 651.72,624.85 652.26,624.51 652.8,622.96 653.35,621.21 653.89,618.51 654.43,616.81 654.97,612.77 655.52,610 656.06,606.74 656.6,601.99 657.14,595.81 657.69,590.33 658.23,583.81 658.77,576.7 659.31,570.08 659.86,563.88 660.4,556.43 660.94,549.28 661.48,542.6 662.02,536.63 662.57,531.11 663.11,526.57 663.65,522.94 664.19,520.27 664.74,518.85 665.28,518.85 665.82,519.99 666.36,522.11 666.91,525.67 667.45,529.94 667.99,535.44 668.53,541.44 669.08,547.7 669.62,555.07 670.16,561.87 670.7,569.52 671.25,576.7 671.79,582.95 672.33,589.46 672.87,595.07 673.41,598.52 673.96,605.66 674.5,609.38 675.04,612.86 675.58,614.47 676.13,620.14 676.67,619.78 677.21,621.29 677.75,622.63 678.3,623.74 678.84,624.31 679.38,624.32 679.92,627.8 680.47,626.39 681.01,627.46 681.55,627.48 682.09,627.81 682.64,626.57 683.18,628.2 683.72,629.87 684.26,628.88 684.8,629.55 685.35,629.39 685.89,627.32 686.43,629.42 686.97,627.97 687.52,629.24 688.06,628.22 688.6,629.79 689.14,627.44 689.69,628.05 690.23,627.7 690.77,628.43 691.31,628.83 691.86,628.65 692.4,629.92 692.94,629.06 693.48,629.7 694.03,629.53 694.57,628.33 695.11,628.32 695.65,627.43 696.19,627.56 696.74,628.95 697.28,629.89 697.82,628.9 698.36,629 698.91,629.03 699.45,628.79 699.99,628.22 700.53,627.35 701.08,628.62 701.62,628.23 702.16,627.65 702.7,628.51 703.25,628.7 703.79,628.7 704.33,629.99 704.87,628.39 705.41,630.46 705.96,628.81 706.5,629.07 707.04,630.6 707.58,628.33 708.13,627.66 708.67,629.55 709.21,627.4 709.75,627.71 710.3,629.6 710.84,628.23 711.38,629.67 711.92,627.6 712.47,626.31 713.01,626.81 713.55,627.79 714.09,629.86 714.64,627.99 715.18,626.59 715.72,629.44 716.26,628.91 716.8,626.6 717.35,629 717.89,628.8 718.43,628.94 718.97,629.46 719.52,626.9 720.06,629.27 720.6,630.27 721.14,628.24 721.69,630.72 722.23,629.76 722.77,629.2 723.31,629.49 723.86,628.42 724.4,627.86 724.94,629.72 725.48,630.58 726.03,628.42 726.57,628.18 727.11,629.62 727.65,627.97 728.19,627.78 728.74,629.15 729.28,628.38 729.82,629.71 730.36,627.46 730.91,630 731.45,627.52 731.99,628.03 732.53,628.15 733.08,629.3 733.62,626.64 734.16,629.45 734.7,628.49 735.25,627.79 735.79,630.28 736.33,627.61 736.87,630.29 737.42,629.03 737.96,630.01 738.5,629.31 739.04,628.09 739.58,627.35 740.13,629.7 740.67,628.92 741.21,630.28 741.75,628.92 742.3,628.24 742.84,629.46 743.38,627.77 743.92,629.09 744.47,630.49 745.01,627.49 745.55,628.01 746.09,628.5 746.64,628.69 747.18,626.56 747.72,629.49 748.26,630.36 748.8,630.7 749.35,630.45 749.89,630.15 750.43,626.26 750.97,629.84 751.52,628.99 752.06,628.23 752.6,627.68 753.14,630.4 753.69,629.07 754.23,628.85 754.77,629.66 755.31,629.51 755.86,627.86 756.4,629.72 756.94,628.64 757.48,629.29 758.03,628.46 758.57,627.42 759.11,628.34 759.65,628.16 760.19,628.51 760.74,629.29 761.28,627.98 761.82,627.56 762.36,628.93 762.91,629.71 763.45,629.24 763.99,627.8 764.53,628.45 765.08,627.54 765.62,628.93 766.16,628.17 766.7,626.81 767.25,629.07 767.79,626.23 768.33,629.52 768.87,628.54 769.42,628.81 769.96,630.63 770.5,629.59 771.04,628.78 771.58,627.22 772.13,627.8 772.67,629.96 773.21,629.78 773.75,627.83 774.3,627.43 774.84,630.4 775.38,630.02 775.92,628.14 776.47,627.42 777.01,628.3 777.55,627.1 778.09,628.05 778.64,629.86 779.18,628.69 779.72,628.06 780.26,628.83 780.81,628.5 781.35,628.22 781.89,628.47 782.43,627.99 782.97,627.91 783.52,627.85 784.06,629.3 784.6,628.9 785.14,628.52 785.69,628.62 786.23,627.2 786.77,628.82 787.31,628.97 787.86,628.58 788.4,628.71 788.94,629.97 789.48,627.75 790.03,628.33 790.57,630.41 791.11,627.73 791.65,627.25 792.19,628.17" fill="none" stroke="#ee7d2c" stroke-width="1.35" stroke-linejoin="round" stroke-linecap="round" />
<polyline points="314.91,629.58 315.45,629.16 315.99,627.28 316.53,627.68 317.07,629.78 317.62,627.63 318.16,630.28 318.7,629.11 319.24,628.54 319.79,628.13 320.33,628.3 320.87,628.82 321.41,627.33 321.96,630.6 322.5,628.28 323.04,626.77 323.58,630.23 324.13,629.35 324.67,628.23 325.21,629.31 325.75,628.37 326.29,628.57 326.84,629 327.38,628.35 327.92,628.13 328.46,628.35 329.01,628.78 329.55,627.57 330.09,627.22 330.63,627.86 331.18,628.51 331.72,629.17 332.26,628.45 332.8,628.56 333.35,629.24 333.89,628.68 334.43,630.37 334.97,629.01 335.52,630.07 336.06,629.26 336.6,628.51 337.14,630.12 337.68,627.65 338.23,628.09 338.77,629.25 339.31,629.88 339.85,630.63 340.4,628.69 340.94,628.1 341.48,630.55 342.02,629.53 342.57,629.47 343.11,629.99 343.65,627.75 344.19,630.27 344.74,627.82 345.28,629.49 345.82,629.43 346.36,627.86 346.91,630.27 347.45,630.38 347.99,628.41 348.53,628.35 349.07,629.05 349.62,629.8 350.16,628.6 350.7,629.31 351.24,627.83 351.79,630.23 352.33,628.01 352.87,627.51 353.41,627.83 353.96,627.21 354.5,629.1 355.04,629.12 355.58,629.27 356.13,628.58 356.67,628.85 357.21,630.34 357.75,628.35 358.3,628.06 358.84,627.69 359.38,629.61 359.92,629.14 360.46,626.99 361.01,628.18 361.55,628.96 362.09,629.64 362.63,627.93 363.18,627.84 363.72,628.34 364.26,627.38 364.8,629.84 365.35,629.4 365.89,626.77 366.43,628.36 366.97,626.97 367.52,626.3 368.06,629.37 368.6,629.12 369.14,628.07 369.68,629.61 370.23,629.07 370.77,628.48 371.31,628.81 371.85,626.38 372.4,627.92 372.94,629.2 373.48,628.1 374.02,628.4 374.57,627.12 375.11,627.72 375.65,628.77 376.19,627.99 376.74,629.61 377.28,627.37 377.82,629.34 378.36,628.21 378.91,628.26 379.45,628.69 379.99,628 380.53,630.62 381.07,628.97 381.62,629.02 382.16,628.55 382.7,630.19 383.24,628.02 383.79,629.3 384.33,628.04 384.87,629.85 385.41,628.95 385.96,630.37 386.5,627.35 387.04,628.19 387.58,628.39 388.13,629 388.67,628.02 389.21,629.79 389.75,628.34 390.3,629.23 390.84,629.41 391.38,629.4 391.92,627.01 392.46,627.95 393.01,628.43 393.55,628.95 394.09,629.36 394.63,630.04 395.18,629.63 395.72,626.93 396.26,626.91 396.8,630.13 397.35,628.34 397.89,628.3 398.43,628.27 398.97,627.81 399.52,629.06 400.06,628.66 400.6,629.79 401.14,630.58 401.69,628.61 402.23,625.92 402.77,629.34 403.31,629.42 403.85,625.65 404.4,628.24 404.94,628.93 405.48,630.37 406.02,630.39 406.57,630.28 407.11,627.15 407.65,628.62 408.19,630.35 408.74,628.65 409.28,628.44 409.82,627.27 410.36,627.57 410.91,630.19 411.45,629.32 411.99,629 412.53,629.53 413.07,628.81 413.62,628.37 414.16,629.2 414.7,628.99 415.24,628.84 415.79,629.14 416.33,628.96 416.87,627.05 417.41,629.82 417.96,628.32 418.5,629.7 419.04,628.66 419.58,628.21 420.13,628.48 420.67,629.25 421.21,629.36 421.75,629.14 422.3,629.41 422.84,627.84 423.38,628.82 423.92,629.57 424.46,628 425.01,630.01 425.55,627.58 426.09,630.24 426.63,627.3 427.18,627.07 427.72,629.84 428.26,628.64 428.8,628.54 429.35,626.71 429.89,627.68 430.43,628.81 430.97,629.59 431.52,628.75 432.06,630.37 432.6,628.83 433.14,628.41 433.69,630.12 434.23,629.21 434.77,629.74 435.31,628.96 435.85,629.47 436.4,627.67 436.94,629.74 437.48,630.5 438.02,627.15 438.57,626.76 439.11,628.02 439.65,628.98 440.19,627.55 440.74,627.22 441.28,628.18 441.82,628.42 442.36,627.82 442.91,629.07 443.45,627.37 443.99,628.31 444.53,626.1 445.08,627.65 445.62,628.42 446.16,628.55 446.7,627.17 447.24,627.61 447.79,626.7 448.33,629.96 448.87,629.55 449.41,628.63 449.96,628.76 450.5,629.54 451.04,627.82 451.58,627.85 452.13,628.76 452.67,628.1 453.21,629.66 453.75,630.45 454.3,629.66 454.84,629.07 455.38,628.1 455.92,627.93 456.46,628.12 457.01,630.03 457.55,629.35 458.09,628.46 458.63,628.23 459.18,629.27 459.72,629.29 460.26,628.62 460.8,627.62 461.35,629.2 461.89,630.63 462.43,626.78 462.97,628.27 463.52,627.92 464.06,630.22 464.6,629.52 465.14,628.37 465.69,628.43 466.23,629.87 466.77,629.85 467.31,629.13 467.85,628.82 468.4,627.5 468.94,628.53 469.48,629.28 470.02,630.63 470.57,630.09 471.11,627.58 471.65,628.55 472.19,628.75 472.74,627.78 473.28,627.38 473.82,628.72 474.36,629.23 474.91,628.56 475.45,628.66 475.99,628.13 476.53,629.9 477.08,630.71 477.62,629.05 478.16,626.44 478.7,628.28 479.24,629.47 479.79,628 480.33,627.38 480.87,627.74 481.41,626.84 481.96,629.57 482.5,628.57 483.04,627.53 483.58,629.44 484.13,626.32 484.67,628.42 485.21,627.19 485.75,629.81 486.3,629.79 486.84,628.68 487.38,628.65 487.92,630.79 488.47,629.21 489.01,627.48 489.55,629.2 490.09,630.23 490.63,626.6 491.18,630.3 491.72,629.09 492.26,629.45 492.8,627.92 493.35,629.02 493.89,628.4 494.43,629.23 494.97,628.3 495.52,629.09 496.06,628.37 496.6,628.38 497.14,629.14 497.69,626.18 498.23,628.06 498.77,628.81 499.31,628.79 499.85,630.19 500.4,629.4 500.94,629.85 501.48,630.04 502.02,630.66 502.57,627.44 503.11,628.83 503.65,630.14 504.19,628.33 504.74,627.43 505.28,629.3 505.82,629.35 506.36,627.88 506.91,630.28 507.45,627.81 507.99,629.59 508.53,630.18 509.08,628.53 509.62,628.08 510.16,629.94 510.7,629.39 511.24,630.25 511.79,627.27 512.33,629.83 512.87,628.26 513.41,628.1 513.96,629.22 514.5,628.54 515.04,629.3 515.58,627.55 516.13,628.25 516.67,627.61 517.21,628.58 517.75,626.59 518.3,628.61 518.84,629.56 519.38,627.68 519.92,627.38 520.47,629.67 521.01,629.79 521.55,629.41 522.09,626.71 522.63,629.21 523.18,628.9 523.72,627.75 524.26,627.14 524.8,628.96 525.35,629.48 525.89,629.8 526.43,629.43 526.97,629.59 527.52,629.23 528.06,628.92 528.6,629.37 529.14,628.13 529.69,628.41 530.23,628.03 530.77,628.03 531.31,628.08 531.86,628.46 532.4,629.82 532.94,627.76 533.48,627.69 534.02,627.22 534.57,626.49 535.11,627.12 535.65,629.2 536.19,629.94 536.74,629.82 537.28,628.08 537.82,629.27 538.36,629.18 538.91,627.93 539.45,628.39 539.99,628.78 540.53,629.21 541.08,628.54 541.62,629.37 542.16,626.54 542.7,628.07 543.24,628.36 543.79,629.79 544.33,630.24 544.87,628.1 545.41,628.42 545.96,629.42 546.5,627.66 547.04,627.28 547.58,627.83 548.13,629.42 548.67,628.3 549.21,628 549.75,627.92 550.3,628.76 550.84,629.26 551.38,630.27 551.92,630.28 552.47,629.52 553.01,629.22 553.55,630.07 554.09,629.14 554.63,629.77 555.18,628.18 555.72,629.78 556.26,628.42 556.8,626.42 557.35,628.85 557.89,627.9 558.43,630.15 558.97,630.02 559.52,629.16 560.06,627.88 560.6,629.25 561.14,628.94 561.69,630.14 562.23,630.83 562.77,627.18 563.31,626.36 563.86,630.2 564.4,627.26 564.94,628.47 565.48,628.4 566.02,628.67 566.57,627.9 567.11,626.61 567.65,628.9 568.19,627.6 568.74,630.11 569.28,628.26 569.82,629.58 570.36,630.03 570.91,629.42 571.45,630.05 571.99,628.49 572.53,630.56 573.08,629.31 573.62,628.3 574.16,628.15 574.7,626.92 575.25,627.55 575.79,629.15 576.33,629.75 576.87,629.13 577.41,630.32 577.96,627.05 578.5,628.39 579.04,628.47 579.58,627.89 580.13,629.16 580.67,627.37 581.21,630.17 581.75,628.75 582.3,629.36 582.84,627.73 583.38,629.74 583.92,628.04 584.47,629.81 585.01,627.83 585.55,627.44 586.09,627.65 586.63,628.33 587.18,629.9 587.72,629.54 588.26,628.5 588.8,627.73 589.35,629.42 589.89,629.41 590.43,629.13 590.97,627.62 591.52,629.42 592.06,629.05 592.6,628.27 593.14,630.03 593.69,629.48 594.23,628.4 594.77,628.22 595.31,628.27 595.86,630.39 596.4,627.82 596.94,627.18 597.48,628.11 598.02,627.61 598.57,627 599.11,627.56 599.65,628.52 600.19,629.56 600.74,628.7 601.28,629.68 601.82,629.91 602.36,627.51 602.91,628.11 603.45,628.27 603.99,629.07 604.53,630.22 605.08,629.51 605.62,627.43 606.16,626.86 606.7,629.93 607.25,629.32 607.79,629.59 608.33,629.09 608.87,627.96 609.41,628.38 609.96,626.04 610.5,628.27 611.04,625.74 611.58,625.31 612.13,623.31 612.67,619.98 613.21,618.8 613.75,612.65 614.3,609.91 614.84,605.17 615.38,599.91 615.92,593.19 616.47,587.15 617.01,579.24 617.55,569.58 618.09,562.37 618.63,553.38 619.18,545.15 619.72,537.69 620.26,531.15 620.8,525.35 621.35,521.67 621.89,519.23 622.43,518.67 622.97,520.07 623.52,523.2 624.06,527.71 624.6,533.26 625.14,540.72 625.69,548.47 626.23,557.35 626.77,565.25 627.31,573.6 627.86,581.37 628.4,588.8 628.94,595.94 629.48,602.33 630.02,608.01 630.57,612.86 631.11,617.52 631.65,619.88 632.19,622.91 632.74,624.95 633.28,625.49 633.82,626.15 634.36,626.77 634.91,628.2 635.45,627.75 635.99,628.36 636.53,628.55 637.08,629.76 637.62,628.88 638.16,627.24 638.7,628.62 639.25,628.22 639.79,628.2 640.33,626.64 640.87,628.84 641.41,627.12 641.96,627.25 642.5,626.71 643.04,628.41 643.58,629.89 644.13,628.21 644.67,629.83 645.21,629.49 645.75,629.66 646.3,629.12 646.84,630.28 647.38,628.05 647.92,628.34 648.47,627.58 649.01,626.65 649.55,627.52 650.09,628.66 650.64,626.69 651.18,627.1 651.72,627.44 652.26,628.66 652.8,627.7 653.35,628.82 653.89,627.08 654.43,627.23 654.97,627.2 655.52,630.46 656.06,628.79 656.6,630.16 657.14,629.48 657.69,628.17 658.23,626.91 658.77,629.76 659.31,628.35 659.86,630.38 660.4,629.52 660.94,630.07 661.48,626.52 662.02,630.39 662.57,627.59 663.11,628.15 663.65,627.87 664.19,630.31 664.74,629.58 665.28,628.53 665.82,629.67 666.36,629 666.91,628.64 667.45,630.76 667.99,628.69 668.53,627.52 669.08,627.5 669.62,628.33 670.16,627.87 670.7,627.11 671.25,628.24 671.79,627.18 672.33,628.84 672.87,629.11 673.41,629.7 673.96,628.6 674.5,628.23 675.04,627.61 675.58,628.78 676.13,627.57 676.67,629.5 677.21,629.31 677.75,628.68 678.3,626.25 678.84,630.23 679.38,629.18 679.92,627.44 680.47,630.81 681.01,629.89 681.55,628.34 682.09,627.04 682.64,628.76 683.18,628.94 683.72,627.38 684.26,629.31 684.8,630.47 685.35,628.12 685.89,627.71 686.43,628.5 686.97,629.43 687.52,629.08 688.06,630.1 688.6,628.82 689.14,629.58 689.69,628.03 690.23,628.06 690.77,627.37 691.31,630.76 691.86,628.84 692.4,630.56 692.94,629.72 693.48,627.6 694.03,628.52 694.57,630.74 695.11,628.33 695.65,628.1 696.19,630.55 696.74,628.54 697.28,628.55 697.82,629.82 698.36,629.31 698.91,628.92 699.45,629.63 699.99,629.24 700.53,627.27 701.08,630.71 701.62,628.17 702.16,629.64 702.7,629.5 703.25,626.02 703.79,627.94 704.33,628.83 704.87,628.84 705.41,627.2 705.96,629.69 706.5,630.42 707.04,628.41 707.58,627.84 708.13,629.77 708.67,627.28 709.21,628.13 709.75,627.98 710.3,628.74 710.84,629.92 711.38,628.99 711.92,629.74 712.47,628.51 713.01,630.74 713.55,630.39 714.09,627.99 714.64,629.36 715.18,627.44 715.72,626.76 716.26,629.21 716.8,627.84 717.35,627.8 717.89,630.99 718.43,627.29 718.97,626.89 719.52,628.04 720.06,627.79 720.6,628.68 721.14,629.22 721.69,628.99 722.23,630.63 722.77,629.42 723.31,627.35 723.86,630.66 724.4,628.1 724.94,630.6 725.48,629.61 726.03,628.58 726.57,629.17 727.11,627.48 727.65,628.78 728.19,627.51 728.74,629.44 729.28,628.34 729.82,629.63 730.36,627.6 730.91,626.04 731.45,628.45 731.99,629.23 732.53,628.29 733.08,629.17 733.62,627.43 734.16,627.01 734.7,629.49 735.25,628.01 735.79,627.76 736.33,630.14 736.87,629.32 737.42,630.03 737.96,630.21 738.5,627.55 739.04,629.26 739.58,629.99 740.13,628.8 740.67,627.89 741.21,627.64 741.75,626.81 742.3,629.76 742.84,629.49 743.38,629.96 743.92,628.45 744.47,629.92 745.01,628.63 745.55,629.69 746.09,627.46 746.64,628.38 747.18,626.91 747.72,630.15 748.26,627.82 748.8,627.96 749.35,627.46 749.89,629.62 750.43,627.42 750.97,627.7 751.52,628.37 752.06,628.72 752.6,628.8 753.14,628.18 753.69,629.93 754.23,628.37 754.77,629.39 755.31,628.65 755.86,628.88 756.4,629.35 756.94,627.88 757.48,627.33 758.03,630.57 758.57,628.42 759.11,628.97 759.65,627.32 760.19,628.94 760.74,627.71 761.28,627.43 761.82,628.96 762.36,627.7 762.91,629.52 763.45,629.73 763.99,628.92 764.53,628.8 765.08,627.8 765.62,630.44 766.16,628.79 766.7,628.04 767.25,629.06 767.79,627.61 768.33,628.71 768.87,628.41 769.42,627.46 769.96,628.28 770.5,630.36 771.04,629.41 771.58,628.11 772.13,628.29 772.67,629.35 773.21,629.34 773.75,629.85 774.3,625.5 774.84,627.67 775.38,627.99 775.92,629.17 776.47,627.74 777.01,629.27 777.55,630.68 778.09,628.62 778.64,627.93 779.18,628.06 779.72,630.22 780.26,627.93 780.81,628.93 781.35,628.65 781.89,627.77 782.43,628.61 782.97,628.96 783.52,629.21 784.06,629.51 784.6,629.25 785.14,629.71 785.69,628.19 786.23,627.55 786.77,628.27 787.31,627.07 787.86,627.89 788.4,627.98 788.94,625.78 789.48,629.62 790.03,629.23 790.57,629.91 791.11,628 791.65,629.38 792.19,626.62" fill="none" stroke="#e8ab30" stroke-width="1.35" stroke-linejoin="round" stroke-linecap="round" />
<polyline points="314.91,629.29 315.45,629.09 315.99,627.46 316.53,630.32 317.07,628.8 317.62,626.98 318.16,629.4 318.7,626.92 319.24,629.5 319.79,628.66 320.33,628.18 320.87,630.8 321.41,628.04 321.96,629.32 322.5,629.29 323.04,630.56 323.58,627.09 324.13,627.93 324.67,630.47 325.21,626.66 325.75,630.14 326.29,629.52 326.84,630.15 327.38,627.97 327.92,628.54 328.46,628.77 329.01,628.72 329.55,629.54 330.09,629.19 330.63,628.19 331.18,629.27 331.72,627.89 332.26,630.29 332.8,628.14 333.35,629.31 333.89,629.41 334.43,630.52 334.97,628.41 335.52,629.03 336.06,630.11 336.6,629.87 337.14,629.45 337.68,627.89 338.23,628.53 338.77,628.4 339.31,628.54 339.85,625.59 340.4,629.71 340.94,628.3 341.48,628.68 342.02,629.43 342.57,627.49 343.11,628.51 343.65,627.39 344.19,627.51 344.74,629.4 345.28,630.81 345.82,629.39 346.36,629.65 346.91,629.12 347.45,628.61 347.99,629.66 348.53,630.98 349.07,628.14 349.62,630.4 350.16,626.4 350.7,629.43 351.24,630.3 351.79,628.82 352.33,627.67 352.87,627.43 353.41,628.03 353.96,628.85 354.5,629.98 355.04,629.81 355.58,627.51 356.13,628.79 356.67,627.61 357.21,627.27 357.75,628.56 358.3,626.23 358.84,629.99 359.38,628.08 359.92,628.18 360.46,626.73 361.01,628.34 361.55,629.3 362.09,628.86 362.63,630.08 363.18,627.35 363.72,629.52 364.26,630.43 364.8,628.65 365.35,629.14 365.89,627.01 366.43,627.33 366.97,628.57 367.52,628.49 368.06,628.34 368.6,630.33 369.14,628.46 369.68,628.66 370.23,627.98 370.77,627.19 371.31,629.85 371.85,630.12 372.4,627.63 372.94,628.1 373.48,628.67 374.02,627.13 374.57,629.02 375.11,628.05 375.65,629.47 376.19,630.6 376.74,628.31 377.28,629.12 377.82,628.87 378.36,630.86 378.91,628.66 379.45,628.48 379.99,629.6 380.53,626.26 381.07,626.3 381.62,630.14 382.16,629.59 382.7,626.19 383.24,627.93 383.79,629.11 384.33,628.18 384.87,629.03 385.41,630.12 385.96,629.76 386.5,627.95 387.04,628.87 387.58,628.69 388.13,628.64 388.67,630.02 389.21,628.92 389.75,630.88 390.3,630.94 390.84,628.46 391.38,628.59 391.92,628.59 392.46,629.51 393.01,627.98 393.55,627.57 394.09,627.52 394.63,627 395.18,627.94 395.72,629.07 396.26,627.65 396.8,626.74 397.35,628.05 397.89,627.82 398.43,630.34 398.97,626.53 399.52,628.38 400.06,627.1 400.6,630.4 401.14,628.5 401.69,628.63 402.23,629.3 402.77,629.56 403.31,629.14 403.85,628.47 404.4,628.6 404.94,627.18 405.48,628.17 406.02,626.48 406.57,629.47 407.11,628.12 407.65,626.94 408.19,627.99 408.74,628.09 409.28,628.8 409.82,626.51 410.36,628.8 410.91,628.19 411.45,628.75 411.99,629.27 412.53,629.58 413.07,628.54 413.62,628.16 414.16,627.51 414.7,629.85 415.24,627.66 415.79,628.09 416.33,629.97 416.87,628.62 417.41,628.34 417.96,628.72 418.5,626.51 419.04,628.7 419.58,627.3 420.13,629.13 420.67,628.97 421.21,629.17 421.75,628.71 422.3,628.2 422.84,629.02 423.38,626.74 423.92,628.52 424.46,628.15 425.01,630.03 425.55,630.38 426.09,628.97 426.63,626.54 427.18,629.03 427.72,628.46 428.26,628.25 428.8,629.1 429.35,628.22 429.89,629.88 430.43,628.55 430.97,630.35 431.52,627.51 432.06,628.57 432.6,628.16 433.14,628.41 433.69,628.53 434.23,628.97 434.77,629.21 435.31,625.54 435.85,627.58 436.4,630.2 436.94,629.05 437.48,628.17 438.02,629.32 438.57,628.6 439.11,628.75 439.65,627.78 440.19,627.42 440.74,630.36 441.28,627 441.82,627.64 442.36,625.88 442.91,629.4 443.45,629.41 443.99,627.86 444.53,627.68 445.08,629.41 445.62,628.27 446.16,629.86 446.7,630.22 447.24,629.74 447.79,629.09 448.33,629.76 448.87,629.63 449.41,627.18 449.96,627.45 450.5,626.61 451.04,628.31 451.58,628.11 452.13,627.77 452.67,628.49 453.21,627.43 453.75,628.32 454.3,629.52 454.84,627.46 455.38,626.92 455.92,627.96 456.46,626.67 457.01,628.68 457.55,629.23 458.09,629.75 458.63,629.19 459.18,627.24 459.72,628.29 460.26,628.23 460.8,628.33 461.35,629.59 461.89,627.9 462.43,627.91 462.97,627.83 463.52,628.25 464.06,629.37 464.6,630.21 465.14,628.32 465.69,628.39 466.23,627.13 466.77,628.13 467.31,630.12 467.85,630.03 468.4,628 468.94,630.09 469.48,627.97 470.02,627.53 470.57,627.17 471.11,626.27 471.65,629.6 472.19,627.75 472.74,630.82 473.28,628.41 473.82,628.19 474.36,629.94 474.91,627.87 475.45,628.64 475.99,626.32 476.53,629.03 477.08,629.63 477.62,628.05 478.16,627.03 478.7,630.06 479.24,629.3 479.79,630.41 480.33,627.65 480.87,628.72 481.41,629.73 481.96,629.5 482.5,627.62 483.04,629.95 483.58,629.18 484.13,629.12 484.67,630.07 485.21,629.28 485.75,628.11 486.3,627.99 486.84,628.84 487.38,627.77 487.92,629.26 488.47,628.79 489.01,629.11 489.55,629.51 490.09,627.44 490.63,628.1 491.18,630.21 491.72,630.42 492.26,628.04 492.8,628.18 493.35,628.45 493.89,628.45 494.43,629.98 494.97,630.19 495.52,629.24 496.06,628.32 496.6,628.72 497.14,627.79 497.69,627.87 498.23,626.72 498.77,628.54 499.31,628.68 499.85,627.22 500.4,628.17 500.94,626.55 501.48,625.68 502.02,627.49 502.57,630.49 503.11,630.22 503.65,629.02 504.19,629.23 504.74,627.76 505.28,629.71 505.82,629.31 506.36,629.24 506.91,626.83 507.45,629.33 507.99,628.07 508.53,627.9 509.08,628.56 509.62,628.31 510.16,627.7 510.7,628.26 511.24,630.16 511.79,629.47 512.33,628.16 512.87,629.22 513.41,628.06 513.96,628.1 514.5,627.11 515.04,630.22 515.58,629.22 516.13,627.62 516.67,629.19 517.21,629.22 517.75,629.14 518.3,628.63 518.84,627.16 519.38,628.04 519.92,629.07 520.47,628.99 521.01,630.78 521.55,628.7 522.09,628.2 522.63,628.48 523.18,627.96 523.72,627.95 524.26,628.15 524.8,627.31 525.35,628.14 525.89,629.67 526.43,630.1 526.97,629.05 527.52,627.72 528.06,627.92 528.6,626.74 529.14,628.53 529.69,628.61 530.23,630.6 530.77,630.4 531.31,627.82 531.86,630.41 532.4,627.89 532.94,627.81 533.48,629.59 534.02,630.35 534.57,629.9 535.11,629.15 535.65,628.94 536.19,630.43 536.74,629.28 537.28,629.48 537.82,630.63 538.36,628.92 538.91,628.59 539.45,629.44 539.99,629.92 540.53,629.02 541.08,627.96 541.62,626.97 542.16,629.98 542.7,627.38 543.24,628.08 543.79,628.9 544.33,627.92 544.87,630.06 545.41,628.09 545.96,630.72 546.5,627.49 547.04,630.18 547.58,629.47 548.13,628.47 548.67,629.12 549.21,630.38 549.75,628.89 550.3,625.92 550.84,629.47 551.38,630.19 551.92,629.39 552.47,629.37 553.01,630.23 553.55,626.33 554.09,628.71 554.63,627.79 555.18,630.16 555.72,630.66 556.26,628.26 556.8,626.94 557.35,630.63 557.89,628.55 558.43,628.97 558.97,627.95 559.52,627.6 560.06,627.6 560.6,628.71 561.14,629.19 561.69,629.58 562.23,626.5 562.77,629.71 563.31,629.85 563.86,627.39 564.4,629.02 564.94,628 565.48,628.09 566.02,628.95 566.57,626.21 567.11,627.22 567.65,625.77 568.19,624.63 568.74,620.61 569.28,619.59 569.82,617.05 570.36,613.73 570.91,609.12 571.45,603.33 571.99,597.3 572.53,591.68 573.08,583.18 573.62,575.26 574.16,567.63 574.7,558.62 575.25,550.29 575.79,542.07 576.33,535.04 576.87,528.67 577.41,523.83 577.96,520.6 578.5,518.81 579.04,519.21 579.58,520.95 580.13,524.84 580.67,529.71 581.21,535.95 581.75,543.58 582.3,552.1 582.84,560.55 583.38,568.49 583.92,577.76 584.47,585.52 585.01,592.74 585.55,597.59 586.09,602.87 586.63,611.17 587.18,613.63 587.72,618.06 588.26,618.64 588.8,621.98 589.35,623.57 589.89,624.19 590.43,626.15 590.97,627.77 591.52,626.05 592.06,629.47 592.6,628.63 593.14,626.84 593.69,628.95 594.23,627.36 594.77,628.05 595.31,630.2 595.86,629.67 596.4,630.12 596.94,630.08 597.48,628.91 598.02,628.9 598.57,629.11 599.11,627.75 599.65,627.42 600.19,628.72 600.74,628.13 601.28,629.91 601.82,629.21 602.36,629.27 602.91,628.14 603.45,628.85 603.99,628.99 604.53,628.34 605.08,629 605.62,629.27 606.16,627.67 606.7,626.13 607.25,629.22 607.79,627.68 608.33,630.55 608.87,627.97 609.41,629.09 609.96,627.57 610.5,628.78 611.04,630.51 611.58,629.14 612.13,627.13 612.67,628.58 613.21,628.13 613.75,627.75 614.3,628.76 614.84,626.86 615.38,627.93 615.92,629.58 616.47,628.03 617.01,628.99 617.55,628.44 618.09,629.89 618.63,628.04 619.18,629.88 619.72,630.33 620.26,629.02 620.8,627.8 621.35,628.7 621.89,627.94 622.43,626.8 622.97,627.71 623.52,630.52 624.06,630.24 624.6,629.55 625.14,630.29 625.69,629.88 626.23,629.03 626.77,628.74 627.31,629.24 627.86,629.37 628.4,628.5 628.94,629.11 629.48,627.41 630.02,627.79 630.57,630.24 631.11,629.31 631.65,629.42 632.19,628.08 632.74,630.02 633.28,627.33 633.82,627.68 634.36,627.38 634.91,629.83 635.45,627.05 635.99,630.39 636.53,627.91 637.08,629.22 637.62,627.98 638.16,629.44 638.7,627.61 639.25,629.16 639.79,627.37 640.33,628.03 640.87,629.33 641.41,629.99 641.96,627.49 642.5,628.51 643.04,629.27 643.58,628.04 644.13,628.43 644.67,627.55 645.21,627.86 645.75,626.99 646.3,628.57 646.84,628.84 647.38,627.42 647.92,627.41 648.47,630.12 649.01,628.76 649.55,628.59 650.09,628.51 650.64,629.99 651.18,628.31 651.72,629.18 652.26,629.82 652.8,629.68 653.35,626.94 653.89,629.29 654.43,630.13 654.97,629.08 655.52,629.58 656.06,627.9 656.6,627.79 657.14,628.11 657.69,628.48 658.23,629.32 658.77,628.21 659.31,628.52 659.86,628.18 660.4,628.96 660.94,629.28 661.48,628.97 662.02,629.67 662.57,629.25 663.11,628.4 663.65,629.28 664.19,630.6 664.74,628.78 665.28,628.01 665.82,629.79 666.36,627.82 666.91,629.24 667.45,627.47 667.99,627.25 668.53,629.02 669.08,627.62 669.62,627.79 670.16,630.53 670.7,628.86 671.25,629.26 671.79,628.52 672.33,629.51 672.87,628.24 673.41,627.89 673.96,629.17 674.5,629.92 675.04,628.31 675.58,627.78 676.13,628.48 676.67,627.57 677.21,629.67 677.75,626.8 678.3,629.93 678.84,629.94 679.38,628.19 679.92,628.43 680.47,628.19 681.01,629.58 681.55,628.61 682.09,628.74 682.64,629.91 683.18,628.93 683.72,628.19 684.26,630.89 684.8,628.83 685.35,628.39 685.89,629.64 686.43,629.65 686.97,628.04 687.52,628.78 688.06,629.25 688.6,630.27 689.14,628.61 689.69,627.96 690.23,628.04 690.77,630.2 691.31,630.22 691.86,627.28 692.4,630.48 692.94,627.8 693.48,630.11 694.03,629.07 694.57,629.88 695.11,630.56 695.65,629.97 696.19,629.73 696.74,628.79 697.28,629.42 697.82,627.29 698.36,628.86 698.91,628.06 699.45,628.04 699.99,628.72 700.53,629.21 701.08,628.01 701.62,627.41 702.16,626.85 702.7,630.27 703.25,628.19 703.79,629.4 704.33,628.29 704.87,630.04 705.41,630.11 705.96,627.63 706.5,628.08 707.04,628.1 707.58,630.28 708.13,629.59 708.67,629.06 709.21,626.63 709.75,628.27 710.3,629.2 710.84,630.48 711.38,628.09 711.92,627.93 712.47,629.23 713.01,628.16 713.55,629.22 714.09,627.91 714.64,627.65 715.18,629.19 715.72,629.5 716.26,627.51 716.8,629.38 717.35,629 717.89,630.51 718.43,626.9 718.97,627.95 719.52,627.9 720.06,627.82 720.6,628.94 721.14,628.43 721.69,628.28 722.23,627.78 722.77,629.02 723.31,626.54 723.86,629.04 724.4,627.2 724.94,629.42 725.48,628.66 726.03,627.08 726.57,627.53 727.11,627.62 727.65,627.63 728.19,628.52 728.74,629.04 729.28,626.86 729.82,629.75 730.36,630.23 730.91,627.67 731.45,629.47 731.99,629.82 732.53,630.4 733.08,628.98 733.62,630.65 734.16,630.22 734.7,628.35 735.25,628.17 735.79,628.09 736.33,629.06 736.87,627.12 737.42,629.01 737.96,629.06 738.5,627.57 739.04,630.33 739.58,627.83 740.13,629.89 740.67,630.7 741.21,628.19 741.75,627.93 742.3,629 742.84,629.2 743.38,628.33 743.92,630.14 744.47,627.94 745.01,628.36 745.55,627.54 746.09,629.29 746.64,628.87 747.18,630.22 747.72,629.27 748.26,629.68 748.8,627.95 749.35,627.97 749.89,628.71 750.43,627.45 750.97,628.03 751.52,630.34 752.06,629.42 752.6,630.03 753.14,630.42 753.69,629.45 754.23,629.94 754.77,630.33 755.31,629.26 755.86,630.3 756.4,627.06 756.94,628.02 757.48,628.19 758.03,629.63 758.57,628.4 759.11,629.41 759.65,627.41 760.19,628.55 760.74,628.15 761.28,628.52 761.82,628.78 762.36,628.36 762.91,628.73 763.45,630.65 763.99,629.8 764.53,627.59 765.08,628.76 765.62,628.68 766.16,628.92 766.7,629.89 767.25,628.18 767.79,627.16 768.33,629.99 768.87,629.19 769.42,627.46 769.96,627.77 770.5,630.02 771.04,629.07 771.58,627.32 772.13,627.65 772.67,629.55 773.21,629.02 773.75,628.63 774.3,627.84 774.84,629.22 775.38,630.56 775.92,627.42 776.47,628.77 777.01,629.35 777.55,628.41 778.09,627.7 778.64,628.16 779.18,630.27 779.72,628.97 780.26,629.94 780.81,630.66 781.35,630.17 781.89,628.6 782.43,628.89 782.97,629 783.52,630.56 784.06,629.37 784.6,630.62 785.14,630.59 785.69,629.61 786.23,629.53 786.77,630.07 787.31,629.28 787.86,630.2 788.4,628.43 788.94,630.18 789.48,627.79 790.03,628.16 790.57,629.92 791.11,629.46 791.65,628.67 792.19,628.37" fill="none" stroke="#9cc83e" stroke-width="1.35" stroke-linejoin="round" stroke-linecap="round" />
<polyline points="314.91,628.82 315.45,629.06 315.99,628.43 316.53,628.8 317.07,628.84 317.62,628.66 318.16,628.45 318.7,629.45 319.24,627.68 319.79,628.25 320.33,627.81 320.87,630.07 321.41,628.24 321.96,628.34 322.5,629.38 323.04,628.6 323.58,627.1 324.13,626.19 324.67,630.09 325.21,628.26 325.75,630.43 326.29,628.02 326.84,628.13 327.38,630.34 327.92,628.52 328.46,629.61 329.01,628.77 329.55,627.85 330.09,627.77 330.63,627.75 331.18,629.59 331.72,629.87 332.26,630.06 332.8,630.18 333.35,628.3 333.89,628.11 334.43,627.77 334.97,630.37 335.52,628.62 336.06,629 336.6,627.82 337.14,629.76 337.68,627.76 338.23,630.44 338.77,629.71 339.31,628.21 339.85,627.36 340.4,629.02 340.94,630.17 341.48,627.69 342.02,628.38 342.57,629.37 343.11,628.27 343.65,629.33 344.19,629.62 344.74,626.83 345.28,628.67 345.82,629.94 346.36,628.04 346.91,629 347.45,627.68 347.99,630.09 348.53,628.57 349.07,627.89 349.62,630.05 350.16,628.27 350.7,627.91 351.24,627.92 351.79,626.54 352.33,628.86 352.87,627.16 353.41,627.91 353.96,628.83 354.5,628.44 355.04,630.19 355.58,628.1 356.13,628.53 356.67,629.96 357.21,629.92 357.75,629.36 358.3,628.47 358.84,627.86 359.38,630.39 359.92,628.3 360.46,628.24 361.01,629.78 361.55,629.24 362.09,629.61 362.63,629.71 363.18,630.08 363.72,626.37 364.26,629.06 364.8,628.95 365.35,629.94 365.89,628.56 366.43,628.8 366.97,627.3 367.52,627.38 368.06,630.57 368.6,628.3 369.14,629.49 369.68,628.84 370.23,630.74 370.77,628.38 371.31,627.68 371.85,630.09 372.4,627.71 372.94,627.41 373.48,629.82 374.02,628.39 374.57,628.72 375.11,627.48 375.65,627.54 376.19,626.18 376.74,628.34 377.28,628.23 377.82,628.78 378.36,626.79 378.91,628.85 379.45,629.18 379.99,628.4 380.53,627.62 381.07,627.89 381.62,629.37 382.16,628.52 382.7,629.79 383.24,628.72 383.79,628.55 384.33,627.47 384.87,627.8 385.41,627.9 385.96,629.61 386.5,630 387.04,630.3 387.58,628.01 388.13,628.19 388.67,628.96 389.21,628.62 389.75,626.82 390.3,628.77 390.84,628.24 391.38,628.33 391.92,630.76 392.46,629.52 393.01,629 393.55,628.43 394.09,629.16 394.63,628.79 395.18,629.16 395.72,629.54 396.26,627.1 396.8,629.17 397.35,627.58 397.89,629.7 398.43,628.34 398.97,630.14 399.52,629.99 400.06,627.17 400.6,626.71 401.14,628.87 401.69,629.41 402.23,629.18 402.77,629.68 403.31,628.88 403.85,630.04 404.4,626.09 404.94,628.37 405.48,626.95 406.02,629.72 406.57,629.49 407.11,628.73 407.65,627.58 408.19,629.99 408.74,629.16 409.28,629.58 409.82,629.88 410.36,629.31 410.91,629.74 411.45,629.3 411.99,628.74 412.53,627.72 413.07,626.15 413.62,627.64 414.16,629.49 414.7,626.35 415.24,629.31 415.79,630.55 416.33,626.31 416.87,628.08 417.41,629.7 417.96,630 418.5,630.04 419.04,627.13 419.58,629.09 420.13,628.59 420.67,630.38 421.21,627.52 421.75,628.23 422.3,628.78 422.84,630.94 423.38,629.05 423.92,628.77 424.46,628.2 425.01,629.18 425.55,629.44 426.09,626.87 426.63,630.85 427.18,627.71 427.72,629.78 428.26,629.99 428.8,627.31 429.35,627.97 429.89,628.35 430.43,630.44 430.97,627.58 431.52,627.9 432.06,628.76 432.6,628.37 433.14,627.02 433.69,628.46 434.23,629.66 434.77,629.67 435.31,627.95 435.85,626.88 436.4,630.14 436.94,627.51 437.48,628.61 438.02,629.15 438.57,628.41 439.11,628.17 439.65,629.13 440.19,629.18 440.74,629.33 441.28,627.64 441.82,627.06 442.36,628.13 442.91,629.44 443.45,628.65 443.99,628.59 444.53,627.94 445.08,629.01 445.62,628.7 446.16,628.63 446.7,628.11 447.24,628.47 447.79,628.67 448.33,629.07 448.87,627.52 449.41,627.75 449.96,627.77 450.5,628.89 451.04,628.48 451.58,627.68 452.13,627.57 452.67,628.45 453.21,628.36 453.75,627.84 454.3,629.78 454.84,630.53 455.38,630.12 455.92,627.92 456.46,630.82 457.01,629.55 457.55,627.71 458.09,629.47 458.63,630.11 459.18,626.52 459.72,628.31 460.26,630.65 460.8,628.63 461.35,627.47 461.89,630.09 462.43,629.41 462.97,629.22 463.52,627.13 464.06,629 464.6,629.44 465.14,629.4 465.69,629.28 466.23,628.34 466.77,628.26 467.31,629.53 467.85,628.13 468.4,628.67 468.94,627.32 469.48,630.55 470.02,628.98 470.57,630.33 471.11,628.88 471.65,627.88 472.19,630.06 472.74,628.96 473.28,628.04 473.82,628.41 474.36,628.08 474.91,629.09 475.45,628.02 475.99,628.79 476.53,628.86 477.08,630.14 477.62,627.73 478.16,627.58 478.7,629.95 479.24,628.25 479.79,628.08 480.33,630.73 480.87,629.54 481.41,628.6 481.96,628.92 482.5,629.62 483.04,629.78 483.58,627.19 484.13,629.62 484.67,627.03 485.21,629.18 485.75,628.03 486.3,627.67 486.84,628.18 487.38,627.4 487.92,628.2 488.47,628.75 489.01,626.88 489.55,628.53 490.09,629.13 490.63,627.38 491.18,627.61 491.72,630.07 492.26,629.38 492.8,627.59 493.35,627.72 493.89,628.38 494.43,627.91 494.97,630.17 495.52,628.06 496.06,628.63 496.6,628.3 497.14,629.07 497.69,628.86 498.23,627.99 498.77,627.6 499.31,627.38 499.85,629.59 500.4,626.35 500.94,630.02 501.48,626.14 502.02,628.59 502.57,628.98 503.11,628.4 503.65,627.81 504.19,629.1 504.74,627.07 505.28,626.44 505.82,629.43 506.36,628.53 506.91,628.03 507.45,628.41 507.99,627.91 508.53,629.15 509.08,626.8 509.62,628.59 510.16,629.91 510.7,628.09 511.24,629.07 511.79,628.27 512.33,628.56 512.87,630.36 513.41,627.94 513.96,629.14 514.5,630.34 515.04,630.69 515.58,627.87 516.13,628.69 516.67,628 517.21,627.26 517.75,630.09 518.3,625.92 518.84,628.85 519.38,629.06 519.92,629.05 520.47,626.68 521.01,628.95 521.55,630.47 522.09,629.43 522.63,628.09 523.18,629.52 523.72,626.55 524.26,626.49 524.8,626.02 525.35,620.53 525.89,613.46 526.43,606 526.97,595.53 527.52,583.57 528.06,570.84 528.6,556.96 529.14,544.93 529.69,535.77 530.23,528 530.77,522.64 531.31,520.47 531.86,518.87 532.4,519.14 532.94,521.94 533.48,525.31 534.02,529.96 534.57,534.84 535.11,538.6 535.65,542.44 536.19,544.51 536.74,543.88 537.28,542.45 537.82,540.97 538.36,539.65 538.91,539.01 539.45,538.82 539.99,542.41 540.53,547.34 541.08,553.99 541.62,561.33 542.16,569.07 542.7,575.19 543.24,582.2 543.79,588.22 544.33,595.84 544.87,600.58 545.41,606.86 545.96,611.77 546.5,614.39 547.04,619.01 547.58,622.6 548.13,622.61 548.67,623.82 549.21,626.96 549.75,629.22 550.3,626.42 550.84,627.32 551.38,627.67 551.92,627.8 552.47,630.47 553.01,627.57 553.55,629.68 554.09,628.89 554.63,629.64 555.18,628.28 555.72,630.06 556.26,626.79 556.8,629.69 557.35,627.73 557.89,629.56 558.43,628.87 558.97,630.59 559.52,627.6 560.06,629.81 560.6,627.55 561.14,626.76 561.69,628.73 562.23,630.06 562.77,626.77 563.31,629.06 563.86,627.26 564.4,630.62 564.94,629.4 565.48,630.19 566.02,630.38 566.57,626.67 567.11,628.13 567.65,630.31 568.19,628.25 568.74,628.55 569.28,629.57 569.82,627.66 570.36,629.17 570.91,630.53 571.45,629.51 571.99,627.79 572.53,629.88 573.08,630.3 573.62,629.19 574.16,628 574.7,629.65 575.25,626.71 575.79,628.53 576.33,628.9 576.87,629.4 577.41,627.67 577.96,629.66 578.5,628.19 579.04,628.25 579.58,630.02 580.13,627.85 580.67,629.28 581.21,628.41 581.75,629.16 582.3,629.4 582.84,627.97 583.38,629.37 583.92,626.18 584.47,630.61 585.01,628.71 585.55,628.51 586.09,627.56 586.63,626.56 587.18,627.04 587.72,628.94 588.26,627.48 588.8,628.09 589.35,629.64 589.89,628.75 590.43,626.97 590.97,627.48 591.52,628.43 592.06,628.93 592.6,628.73 593.14,627.55 593.69,628.15 594.23,630.09 594.77,628.45 595.31,627.09 595.86,628.49 596.4,628.36 596.94,629.73 597.48,630.22 598.02,628.02 598.57,628.47 599.11,628.63 599.65,627.61 600.19,630.53 600.74,629.18 601.28,629.79 601.82,628.28 602.36,629.34 602.91,630.02 603.45,627.19 603.99,628.96 604.53,627.87 605.08,626.81 605.62,628.42 606.16,627.63 606.7,628.01 607.25,627.88 607.79,629.63 608.33,629.74 608.87,626.41 609.41,628.77 609.96,627.66 610.5,627.4 611.04,628.33 611.58,627.83 612.13,628.45 612.67,627.09 613.21,625.89 613.75,630.75 614.3,629.95 614.84,629.38 615.38,628.8 615.92,629.73 616.47,629.28 617.01,628.58 617.55,627.58 618.09,627.55 618.63,628.88 619.18,629.95 619.72,629.78 620.26,628.36 620.8,628.05 621.35,629.05 621.89,627.48 622.43,627.46 622.97,629.94 623.52,629.82 624.06,628.06 624.6,629.84 625.14,627.6 625.69,628.41 626.23,629.41 626.77,630.34 627.31,626.9 627.86,627.62 628.4,628.78 628.94,627.64 629.48,628.58 630.02,629.68 630.57,628.58 631.11,628.13 631.65,628.98 632.19,629.6 632.74,628.43 633.28,627.64 633.82,627.76 634.36,628.68 634.91,630.37 635.45,629.49 635.99,627.35 636.53,629.51 637.08,628.22 637.62,629.73 638.16,629.48 638.7,628.27 639.25,626.98 639.79,627.28 640.33,627.32 640.87,628.3 641.41,627.77 641.96,627.31 642.5,629.89 643.04,628.27 643.58,629.45 644.13,629.44 644.67,628.08 645.21,627.45 645.75,630.73 646.3,627.34 646.84,629.1 647.38,626.58 647.92,629.37 648.47,629.14 649.01,628.95 649.55,628.89 650.09,627.39 650.64,625.78 651.18,629.25 651.72,629.08 652.26,628.98 652.8,626.09 653.35,629.19 653.89,630.35 654.43,628.56 654.97,627.25 655.52,628.9 656.06,630.18 656.6,627.86 657.14,627.74 657.69,629.85 658.23,627.85 658.77,629.83 659.31,630.41 659.86,628.12 660.4,630.89 660.94,628.85 661.48,628.76 662.02,629.64 662.57,627.9 663.11,630.15 663.65,629.31 664.19,629.28 664.74,629.34 665.28,629.79 665.82,628.88 666.36,629.95 666.91,628 667.45,627.02 667.99,627.01 668.53,629.77 669.08,629.16 669.62,626.81 670.16,630.4 670.7,627.54 671.25,630.67 671.79,628.77 672.33,629.7 672.87,628.71 673.41,627.64 673.96,629.19 674.5,628.13 675.04,627.42 675.58,627.67 676.13,627.26 676.67,630.8 677.21,628.62 677.75,629.46 678.3,628.09 678.84,627.87 679.38,629.25 679.92,629.02 680.47,627.81 681.01,628.76 681.55,627.24 682.09,627.15 682.64,628.94 683.18,629.42 683.72,627.04 684.26,629.34 684.8,627.4 685.35,627.54 685.89,627.95 686.43,630.26 686.97,628.44 687.52,628.09 688.06,628.21 688.6,628.23 689.14,627.02 689.69,628.86 690.23,628.62 690.77,628.36 691.31,627.79 691.86,628.65 692.4,629.23 692.94,628.35 693.48,629.49 694.03,628.48 694.57,629.13 695.11,628.89 695.65,627.11 696.19,628.62 696.74,630.44 697.28,629.61 697.82,628.77 698.36,629.91 698.91,627.78 699.45,628.89 699.99,629.33 700.53,629.07 701.08,629.4 701.62,628.15 702.16,628.24 702.7,627.28 703.25,627.11 703.79,627.81 704.33,627.85 704.87,627.37 705.41,628.81 705.96,628.18 706.5,628.41 707.04,629.2 707.58,628.01 708.13,627 708.67,628.39 709.21,627.79 709.75,630.11 710.3,628.81 710.84,629.63 711.38,628.98 711.92,629.35 712.47,627.01 713.01,627.03 713.55,629.22 714.09,628.83 714.64,628.27 715.18,628.13 715.72,625.8 716.26,627.63 716.8,629.74 717.35,629.11 717.89,629.34 718.43,627.76 718.97,629.66 719.52,627.56 720.06,630.17 720.6,627.87 721.14,630.17 721.69,628.25 722.23,627.63 722.77,630.22 723.31,629.32 723.86,628.42 724.4,629.53 724.94,629.26 725.48,627 726.03,628.2 726.57,629.59 727.11,630.32 727.65,630.16 728.19,629.95 728.74,629.19 729.28,627.25 729.82,626.25 730.36,629.41 730.91,628.26 731.45,627.53 731.99,629.9 732.53,629.82 733.08,628.35 733.62,629.9 734.16,628.55 734.7,628.4 735.25,628.91 735.79,629.3 736.33,630.44 736.87,628.13 737.42,627.49 737.96,628.56 738.5,628.54 739.04,628.62 739.58,627.58 740.13,629.74 740.67,629.57 741.21,628.02 741.75,630.09 742.3,629.52 742.84,629.07 743.38,627.48 743.92,628.62 744.47,627.47 745.01,629.71 745.55,627.46 746.09,630.35 746.64,627.82 747.18,627.89 747.72,626.82 748.26,629.73 748.8,629.8 749.35,629.91 749.89,629.35 750.43,628.16 750.97,628.34 751.52,627.46 752.06,629.34 752.6,630.96 753.14,630.17 753.69,628.04 754.23,628.55 754.77,627.8 755.31,629.72 755.86,629.84 756.4,628.54 756.94,629.15 757.48,628.9 758.03,627.55 758.57,629.68 759.11,628.9 759.65,628.06 760.19,627.85 760.74,627.66 761.28,626.72 761.82,630.26 762.36,629.12 762.91,627.13 763.45,628.15 763.99,627.44 764.53,626.28 765.08,628.58 765.62,630.01 766.16,629.82 766.7,627.02 767.25,627.41 767.79,629.67 768.33,627.84 768.87,627.19 769.42,630.04 769.96,628.41 770.5,627.86 771.04,629.8 771.58,628.17 772.13,628.36 772.67,627.87 773.21,627.9 773.75,630.14 774.3,628.2 774.84,629.15 775.38,630.26 775.92,629.58 776.47,629.77 777.01,627.39 777.55,628.57 778.09,629.55 778.64,629.37 779.18,629.43 779.72,629.55 780.26,627.86 780.81,629.94 781.35,629.86 781.89,630.79 782.43,629.77 782.97,629.24 783.52,627.37 784.06,626.4 784.6,629.16 785.14,627.26 785.69,630.73 786.23,627.65 786.77,626.95 787.31,629.04 787.86,628.64 788.4,628.75 788.94,629.23 789.48,629.93 790.03,629.34 790.57,628.18 791.11,628.42 791.65,628.82 792.19,629.38" fill="none" stroke="#4bb03c" stroke-width="1.35" stroke-linejoin="round" stroke-linecap="round" />
<polyline points="314.91,629.51 315.45,627.51 315.99,628.2 316.53,629.27 317.07,628.74 317.62,628.79 318.16,628.99 318.7,627.22 319.24,627.29 319.79,628.09 320.33,630.47 320.87,628.13 321.41,628.84 321.96,628.53 322.5,629.35 323.04,627.49 323.58,626.97 324.13,627.6 324.67,630.48 325.21,627.52 325.75,627.95 326.29,630.09 326.84,626.82 327.38,628.71 327.92,627.11 328.46,630.22 329.01,627.78 329.55,628.57 330.09,629.19 330.63,627.06 331.18,628.8 331.72,630.57 332.26,629.18 332.8,628.57 333.35,628.17 333.89,628.5 334.43,627.62 334.97,629.76 335.52,630.23 336.06,628.21 336.6,627 337.14,628.56 337.68,627.2 338.23,628.38 338.77,627.97 339.31,629.72 339.85,629.32 340.4,628.38 340.94,627.25 341.48,629.54 342.02,629.99 342.57,627.78 343.11,629.57 343.65,628.17 344.19,628.13 344.74,627.2 345.28,630.02 345.82,629.03 346.36,630.22 346.91,627.04 347.45,627.8 347.99,628.5 348.53,627.74 349.07,627.15 349.62,627.07 350.16,629.14 350.7,629.09 351.24,626.87 351.79,629.33 352.33,628.75 352.87,630.05 353.41,629.8 353.96,627.29 354.5,629.86 355.04,628.61 355.58,628.49 356.13,627.45 356.67,628.11 357.21,627.03 357.75,629.59 358.3,627.19 358.84,628.01 359.38,630.01 359.92,628.75 360.46,627.63 361.01,628.64 361.55,629.07 362.09,628.96 362.63,628.87 363.18,626.77 363.72,628.22 364.26,630.65 364.8,629.66 365.35,627.35 365.89,627.66 366.43,630.43 366.97,629.84 367.52,627.47 368.06,627.65 368.6,630.34 369.14,628.7 369.68,629.05 370.23,630.49 370.77,626.45 371.31,627 371.85,627.45 372.4,627.95 372.94,629.08 373.48,627.77 374.02,629.93 374.57,627.47 375.11,629.57 375.65,630.44 376.19,629.98 376.74,626.76 377.28,629.75 377.82,628.15 378.36,630.63 378.91,627.11 379.45,629.31 379.99,628.32 380.53,628.89 381.07,629.95 381.62,629.98 382.16,627.64 382.7,629.27 383.24,628.15 383.79,629.09 384.33,628.9 384.87,629.14 385.41,629.23 385.96,627.64 386.5,630.59 387.04,626.62 387.58,629.69 388.13,630.03 388.67,627.2 389.21,629.43 389.75,629.14 390.3,630.3 390.84,628.7 391.38,629.8 391.92,628.75 392.46,629.78 393.01,627.74 393.55,626.56 394.09,628.12 394.63,628.09 395.18,626.68 395.72,627.02 396.26,629.21 396.8,630.35 397.35,627.95 397.89,628.67 398.43,627.57 398.97,626.42 399.52,626.99 400.06,630.32 400.6,626.87 401.14,629.76 401.69,628.89 402.23,630.18 402.77,628.92 403.31,628.92 403.85,628.4 404.4,629.34 404.94,629.49 405.48,628.23 406.02,630.32 406.57,627.35 407.11,630 407.65,627.71 408.19,628.96 408.74,628.59 409.28,627.47 409.82,629.91 410.36,627.5 410.91,630.56 411.45,627.83 411.99,630.11 412.53,628.05 413.07,629.34 413.62,630.11 414.16,627.18 414.7,629.24 415.24,628.24 415.79,627.14 416.33,629.57 416.87,627.31 417.41,628.65 417.96,628.93 418.5,630.59 419.04,627.91 419.58,627.6 420.13,630.65 420.67,628.73 421.21,630.31 421.75,628.02 422.3,627.11 422.84,630.12 423.38,628.5 423.92,628.37 424.46,628.37 425.01,630.25 425.55,627.46 426.09,627.89 426.63,627.11 427.18,627.63 427.72,628.63 428.26,629.23 428.8,630.3 429.35,629.69 429.89,626.33 430.43,628.63 430.97,629.83 431.52,627.22 432.06,628.1 432.6,628.21 433.14,630.51 433.69,627.97 434.23,630.17 434.77,626.68 435.31,630.94 435.85,628.68 436.4,628.6 436.94,628.62 437.48,627.88 438.02,629.18 438.57,627.63 439.11,629.89 439.65,627.75 440.19,629.6 440.74,628.09 441.28,628.37 441.82,629.53 442.36,628.88 442.91,630.03 443.45,630.44 443.99,630.45 444.53,627.92 445.08,628.53 445.62,627.37 446.16,626.74 446.7,629.66 447.24,628.39 447.79,628.44 448.33,630.23 448.87,626.57 449.41,629.71 449.96,628.14 450.5,627.42 451.04,627.13 451.58,628.78 452.13,628.87 452.67,626.08 453.21,629.28 453.75,630.06 454.3,629.24 454.84,630.31 455.38,630.21 455.92,629.84 456.46,629.18 457.01,627.33 457.55,628.11 458.09,628.09 458.63,627.41 459.18,629.4 459.72,629.52 460.26,630.52 460.8,629.64 461.35,628.25 461.89,627.32 462.43,627.14 462.97,628.61 463.52,629.78 464.06,626.88 464.6,629.35 465.14,629.05 465.69,630.41 466.23,627.86 466.77,628.15 467.31,629.12 467.85,629.55 468.4,628.52 468.94,627.17 469.48,627.2 470.02,629.36 470.57,629.68 471.11,629.57 471.65,629.93 472.19,627.56 472.74,627.22 473.28,628.54 473.82,626.75 474.36,627.48 474.91,629.3 475.45,630.39 475.99,628 476.53,628.65 477.08,625.76 477.62,628.49 478.16,626.35 478.7,626.82 479.24,629.97 479.79,627.64 480.33,628.87 480.87,628.14 481.41,627.68 481.96,627.49 482.5,628.84 483.04,628.62 483.58,627.84 484.13,628.49 484.67,630.49 485.21,627.64 485.75,627.19 486.3,629.3 486.84,628.21 487.38,624.94 487.92,627.02 488.47,625.13 489.01,621.06 489.55,621.06 490.09,617.01 490.63,610.8 491.18,606.25 491.72,599.85 492.26,594.54 492.8,585.27 493.35,577.13 493.89,568.31 494.43,558.31 494.97,549.03 495.52,539.88 496.06,532.42 496.6,525.96 497.14,521.69 497.69,519.25 498.23,518.95 498.77,520.37 499.31,522.81 499.85,527.28 500.4,532.94 500.94,539.16 501.48,546.55 502.02,553.56 502.57,562.33 503.11,569.64 503.65,576.49 504.19,585.83 504.74,591.17 505.28,597.32 505.82,603.85 506.36,607.13 506.91,614.06 507.45,616.07 507.99,617.97 508.53,621.16 509.08,622.79 509.62,625.66 510.16,625.55 510.7,626.66 511.24,626.69 511.79,628.71 512.33,627.58 512.87,629.14 513.41,627.83 513.96,628.51 514.5,627.02 515.04,627.84 515.58,629.38 516.13,630.44 516.67,628.41 517.21,629.56 517.75,629.08 518.3,627.91 518.84,626.47 519.38,628.24 519.92,627.93 520.47,629.43 521.01,628.36 521.55,627.1 522.09,628.15 522.63,627.92 523.18,629.09 523.72,628.4 524.26,628.87 524.8,628.36 525.35,628.94 525.89,627.65 526.43,629.08 526.97,627.87 527.52,628.52 528.06,627.94 528.6,630.16 529.14,629.6 529.69,628.61 530.23,629.54 530.77,627.96 531.31,630.07 531.86,629.25 532.4,629.07 532.94,627.88 533.48,627.73 534.02,627.97 534.57,629.66 535.11,629.72 535.65,629.82 536.19,630.25 536.74,628.89 537.28,628.03 537.82,628.53 538.36,628.51 538.91,629.61 539.45,627.77 539.99,630.16 540.53,626.45 541.08,629.38 541.62,627.25 542.16,629.88 542.7,629.43 543.24,629.53 543.79,628.15 544.33,627.91 544.87,630.19 545.41,628.21 545.96,629.36 546.5,626.92 547.04,630.08 547.58,629.13 548.13,627.18 548.67,627.78 549.21,629.38 549.75,627.81 550.3,630.72 550.84,628.49 551.38,629.92 551.92,627.11 552.47,629.27 553.01,628.41 553.55,627.09 554.09,628.73 554.63,629.54 555.18,628.25 555.72,628.18 556.26,629.46 556.8,628.98 557.35,627.52 557.89,629.2 558.43,627.98 558.97,627.95 559.52,627.01 560.06,628.8 560.6,628.06 561.14,628.89 561.69,627.57 562.23,629.66 562.77,627.15 563.31,627.55 563.86,628.3 564.4,629.44 564.94,629.91 565.48,629.66 566.02,629.13 566.57,629.03 567.11,626.91 567.65,629.65 568.19,629.25 568.74,626.55 569.28,628.45 569.82,628.57 570.36,629.9 570.91,629.27 571.45,628.6 571.99,627.24 572.53,629.74 573.08,629.23 573.62,627.81 574.16,629.84 574.7,629.67 575.25,629.37 575.79,630.06 576.33,629.98 576.87,628.5 577.41,629.32 577.96,627.65 578.5,629.67 579.04,629.26 579.58,626.62 580.13,628.26 580.67,628.19 581.21,630.63 581.75,628.68 582.3,629.98 582.84,627.06 583.38,630.52 583.92,629.15 584.47,627.57 585.01,628.82 585.55,628.61 586.09,629.52 586.63,629.5 587.18,627.84 587.72,629.89 588.26,628.96 588.8,628.54 589.35,627.99 589.89,627.31 590.43,628.46 590.97,630.32 591.52,626.53 592.06,628.59 592.6,629.24 593.14,629.7 593.69,627.79 594.23,627.77 594.77,629.1 595.31,630.67 595.86,627.88 596.4,626.45 596.94,627.73 597.48,627.56 598.02,628.03 598.57,628.65 599.11,628.6 599.65,627.81 600.19,628.6 600.74,629.99 601.28,628.46 601.82,629.08 602.36,630.32 602.91,629.3 603.45,629.09 603.99,627.46 604.53,630.42 605.08,629.23 605.62,627.86 606.16,629.84 606.7,628.99 607.25,627.83 607.79,627.7 608.33,628.99 608.87,627.57 609.41,627.65 609.96,628.55 610.5,626.86 611.04,628.89 611.58,629 612.13,627.29 612.67,628.09 613.21,628.16 613.75,630.15 614.3,630.5 614.84,626.64 615.38,630.62 615.92,630.25 616.47,628.62 617.01,628.39 617.55,628.81 618.09,627.72 618.63,627.31 619.18,628.04 619.72,628.54 620.26,630.35 620.8,630.22 621.35,629.55 621.89,628.88 622.43,627.88 622.97,628.9 623.52,628.54 624.06,629.35 624.6,628.8 625.14,627.42 625.69,628.54 626.23,630 626.77,628.04 627.31,628.49 627.86,627.91 628.4,627.36 628.94,627.99 629.48,627.6 630.02,629.25 630.57,630.17 631.11,627.36 631.65,629.29 632.19,630 632.74,628.77 633.28,630.36 633.82,628.52 634.36,628.16 634.91,628.39 635.45,629.12 635.99,628.47 636.53,628.81 637.08,630.11 637.62,628 638.16,628.24 638.7,628.98 639.25,629.36 639.79,628.33 640.33,628.55 640.87,627.94 641.41,628.02 641.96,628.44 642.5,630.07 643.04,629.54 643.58,629.23 644.13,628.98 644.67,627.91 645.21,627.63 645.75,628.55 646.3,630.03 646.84,628.02 647.38,628.95 647.92,628.26 648.47,628.35 649.01,630.41 649.55,628.8 650.09,630.58 650.64,629.67 651.18,630.02 651.72,628.76 652.26,628.02 652.8,627.96 653.35,628.28 653.89,628.96 654.43,630.11 654.97,629.26 655.52,627.68 656.06,628.34 656.6,628.39 657.14,628.11 657.69,629.53 658.23,626.21 658.77,627.92 659.31,630.57 659.86,627.85 660.4,628.86 660.94,630.11 661.48,628.22 662.02,630.95 662.57,628.84 663.11,627.98 663.65,630.1 664.19,628.25 664.74,627.43 665.28,627.28 665.82,627.19 666.36,629.39 666.91,630.51 667.45,629.63 667.99,630.04 668.53,629.99 669.08,629.11 669.62,629.73 670.16,628.08 670.7,628.14 671.25,630.63 671.79,630.54 672.33,628.94 672.87,628.21 673.41,630.34 673.96,627.97 674.5,629.57 675.04,628.37 675.58,630.82 676.13,629.01 676.67,628.47 677.21,630.62 677.75,626.51 678.3,630.13 678.84,630.07 679.38,628.85 679.92,627.39 680.47,629.65 681.01,628.56 681.55,628.96 682.09,627.61 682.64,630.21 683.18,628.2 683.72,627.59 684.26,627.65 684.8,629.85 685.35,629.37 685.89,628.59 686.43,628.21 686.97,629.52 687.52,628.03 688.06,627.01 688.6,627.8 689.14,628.15 689.69,628.01 690.23,629.22 690.77,627.92 691.31,630.24 691.86,627.15 692.4,628.58 692.94,628.89 693.48,629.99 694.03,629.16 694.57,627.44 695.11,626.94 695.65,627.78 696.19,629.68 696.74,630.02 697.28,629.7 697.82,629.95 698.36,630.35 698.91,629.12 699.45,628.77 699.99,627.21 700.53,628.71 701.08,628.63 701.62,629.72 702.16,628.59 702.7,628.92 703.25,628.66 703.79,628.07 704.33,628.51 704.87,627.27 705.41,628.83 705.96,629.31 706.5,630.65 707.04,627.51 707.58,627.86 708.13,628.91 708.67,629.75 709.21,627.83 709.75,629.94 710.3,627.77 710.84,629.35 711.38,627.22 711.92,627.28 712.47,627.79 713.01,627.64 713.55,627.19 714.09,628.83 714.64,628.44 715.18,630.3 715.72,629.01 716.26,629.73 716.8,627.96 717.35,626.29 717.89,628.35 718.43,628.03 718.97,629.82 719.52,628.58 720.06,629.16 720.6,629.86 721.14,628.64 721.69,629.08 722.23,627.39 722.77,628 723.31,629.14 723.86,628.91 724.4,628.63 724.94,629.89 725.48,629.32 726.03,628.4 726.57,629.82 727.11,630.58 727.65,627.99 728.19,628.12 728.74,627.55 729.28,629.77 729.82,628.84 730.36,627.93 730.91,628.06 731.45,628.15 731.99,628.37 732.53,630.14 733.08,629.34 733.62,629.75 734.16,626.28 734.7,628.9 735.25,628.26 735.79,627.82 736.33,629.94 736.87,628.86 737.42,627.93 737.96,627.47 738.5,628.71 739.04,627.6 739.58,627.28 740.13,629.79 740.67,629.16 741.21,629.59 741.75,627.65 742.3,625.67 742.84,629.67 743.38,626.07 743.92,629.6 744.47,627.49 745.01,626.98 745.55,629.97 746.09,628.84 746.64,629.48 747.18,629.52 747.72,629.75 748.26,627.07 748.8,630.36 749.35,629.74 749.89,627.97 750.43,628.3 750.97,629.53 751.52,628.83 752.06,628.52 752.6,627.13 753.14,628.5 753.69,628.15 754.23,630.13 754.77,628.97 755.31,628.68 755.86,629.43 756.4,627.67 756.94,629.74 757.48,629.2 758.03,629.24 758.57,627.57 759.11,627.72 759.65,629.12 760.19,629.29 760.74,628.4 761.28,628.73 761.82,627.68 762.36,630.21 762.91,627.87 763.45,629.14 763.99,628.29 764.53,630.3 765.08,628.47 765.62,628.23 766.16,627.66 766.7,628.32 767.25,629.33 767.79,629.24 768.33,629 768.87,629.31 769.42,630.6 769.96,629.06 770.5,628.86 771.04,630.27 771.58,630.66 772.13,629.79 772.67,627.84 773.21,627.48 773.75,628.64 774.3,628.39 774.84,628.96 775.38,626.82 775.92,629.36 776.47,628.18 777.01,629.9 777.55,628.78 778.09,630.02 778.64,629.56 779.18,626.9 779.72,629.56 780.26,626.52 780.81,629.83 781.35,630.47 781.89,627.81 782.43,628.16 782.97,628.3 783.52,626.94 784.06,630.19 784.6,628.8 785.14,629.86 785.69,628.44 786.23,626.85 786.77,630.08 787.31,627.69 787.86,628.7 788.4,628.81 788.94,628.81 789.48,629.16 790.03,628.81 790.57,627.23 791.11,628.88 791.65,629.7 792.19,627.2" fill="none" stroke="#3cb87c" stroke-width="1.35" stroke-linejoin="round" stroke-linecap="round" />
<polyline points="314.91,629.4 315.45,628.93 315.99,627.64 316.53,629.55 317.07,627.49 317.62,629.76 318.16,626.6 318.7,627.41 319.24,628.39 319.79,629.74 320.33,628.85 320.87,627.69 321.41,628.63 321.96,627.79 322.5,630.24 323.04,630.35 323.58,630.7 324.13,628.68 324.67,628.15 325.21,628.7 325.75,627.18 326.29,629.5 326.84,628.75 327.38,629.99 327.92,629.87 328.46,628.21 329.01,629.91 329.55,626.96 330.09,627.92 330.63,627.83 331.18,629.82 331.72,628.3 332.26,627.75 332.8,628.92 333.35,628.5 333.89,628.98 334.43,626.73 334.97,630.74 335.52,627.93 336.06,629.34 336.6,629.57 337.14,629.69 337.68,628.1 338.23,629.6 338.77,627.19 339.31,627.34 339.85,627.77 340.4,630.17 340.94,630.05 341.48,628.95 342.02,630.02 342.57,627.77 343.11,629.74 343.65,629.95 344.19,627.68 344.74,629.71 345.28,627.59 345.82,628.03 346.36,628.56 346.91,627.15 347.45,628.35 347.99,630.81 348.53,629.11 349.07,629.37 349.62,628.79 350.16,628.55 350.7,627.37 351.24,628.5 351.79,626.9 352.33,630.84 352.87,630.45 353.41,628.55 353.96,627.92 354.5,630.17 355.04,629.58 355.58,627.29 356.13,627.48 356.67,630.27 357.21,627.67 357.75,628.48 358.3,628.25 358.84,629.15 359.38,629.74 359.92,629.24 360.46,629.06 361.01,629.35 361.55,629.03 362.09,626.05 362.63,627.81 363.18,630.22 363.72,628.73 364.26,626.68 364.8,627.99 365.35,629.59 365.89,629.39 366.43,629.5 366.97,629.16 367.52,627.07 368.06,630.03 368.6,629.54 369.14,629.8 369.68,629.43 370.23,627.67 370.77,628.48 371.31,629.94 371.85,626.57 372.4,628.35 372.94,628.06 373.48,628.4 374.02,630.02 374.57,629.03 375.11,629.77 375.65,627.27 376.19,630.45 376.74,628.64 377.28,630.17 377.82,628.24 378.36,628.33 378.91,628.05 379.45,629.99 379.99,627.49 380.53,626.88 381.07,630.31 381.62,630.08 382.16,627.51 382.7,627.14 383.24,628.36 383.79,629.36 384.33,627.59 384.87,627.41 385.41,630.65 385.96,629.64 386.5,628.23 387.04,626.2 387.58,629.88 388.13,628.29 388.67,629.95 389.21,629.42 389.75,629.87 390.3,628.97 390.84,627.34 391.38,627.97 391.92,628.6 392.46,628.15 393.01,629.88 393.55,627.88 394.09,629.93 394.63,628.88 395.18,630.26 395.72,629.18 396.26,629.14 396.8,627.44 397.35,627.7 397.89,628.99 398.43,629.21 398.97,628.44 399.52,630.22 400.06,629.26 400.6,629.77 401.14,627.44 401.69,629.38 402.23,629.14 402.77,630.17 403.31,627.25 403.85,627.5 404.4,627.76 404.94,628.66 405.48,627.31 406.02,630.23 406.57,629.43 407.11,629.35 407.65,628.99 408.19,630.16 408.74,628.27 409.28,628.94 409.82,626.71 410.36,628.15 410.91,629.79 411.45,627.95 411.99,630.15 412.53,629.42 413.07,628.05 413.62,628.67 414.16,627.9 414.7,627.74 415.24,628.91 415.79,630.12 416.33,627.13 416.87,627.5 417.41,628.41 417.96,628.16 418.5,629.11 419.04,628.6 419.58,627.56 420.13,627.05 420.67,627.09 421.21,627.32 421.75,630.77 422.3,628.3 422.84,630.31 423.38,629.31 423.92,627.82 424.46,628.28 425.01,630.23 425.55,629.03 426.09,628.81 426.63,629.13 427.18,629.63 427.72,629.46 428.26,630.64 428.8,629.67 429.35,627.58 429.89,629.65 430.43,628.16 430.97,628.76 431.52,629.44 432.06,628.14 432.6,629.65 433.14,629.25 433.69,627.89 434.23,627.04 434.77,627.22 435.31,628.19 435.85,624.58 436.4,624.61 436.94,621.33 437.48,621.55 438.02,616.3 438.57,611.47 439.11,606.98 439.65,599.51 440.19,592.89 440.74,583.87 441.28,575.72 441.82,566.27 442.36,555.86 442.91,546.53 443.45,537.99 443.99,530.27 444.53,524.15 445.08,520.3 445.62,518.79 446.16,518.97 446.7,520.73 447.24,523.59 447.79,527.58 448.33,532.47 448.87,538.71 449.41,545.14 449.96,552.21 450.5,559.4 451.04,566.39 451.58,573.19 452.13,580.6 452.67,587.23 453.21,591.53 453.75,597.75 454.3,603.89 454.84,609 455.38,611.58 455.92,616.73 456.46,618.3 457.01,619.66 457.55,621.83 458.09,623.63 458.63,624.6 459.18,625.45 459.72,622.21 460.26,622.28 460.8,624.24 461.35,623.03 461.89,620.96 462.43,623.71 462.97,623.59 463.52,623.27 464.06,622.34 464.6,622.22 465.14,624.98 465.69,621.86 466.23,622.16 466.77,625.04 467.31,624.24 467.85,622.96 468.4,622.17 468.94,624.68 469.48,624.28 470.02,624.88 470.57,623.74 471.11,622.83 471.65,623.66 472.19,622.98 472.74,622.96 473.28,622.17 473.82,622.49 474.36,628.44 474.91,628.49 475.45,627.14 475.99,628.29 476.53,628.28 477.08,629.74 477.62,629.41 478.16,629.09 478.7,627.94 479.24,629.45 479.79,630.75 480.33,629.14 480.87,629.9 481.41,629.65 481.96,627.88 482.5,629.9 483.04,629.07 483.58,628.28 484.13,630.28 484.67,627.46 485.21,627.57 485.75,630.46 486.3,629.62 486.84,628.39 487.38,627.63 487.92,630.19 488.47,629.87 489.01,629.24 489.55,630.81 490.09,627.81 490.63,627.42 491.18,628.04 491.72,628.44 492.26,630.84 492.8,629.07 493.35,629.46 493.89,627.53 494.43,626.23 494.97,628.25 495.52,630.26 496.06,628.66 496.6,629.44 497.14,629.86 497.69,626.26 498.23,629.98 498.77,628.74 499.31,627.67 499.85,629.41 500.4,630.43 500.94,630.11 501.48,629.7 502.02,630.27 502.57,630.37 503.11,628.34 503.65,629.68 504.19,628.67 504.74,630.32 505.28,630.86 505.82,627.06 506.36,627.8 506.91,627.88 507.45,629.4 507.99,628.35 508.53,629 509.08,628 509.62,628.27 510.16,627.42 510.7,630.13 511.24,627.79 511.79,628.62 512.33,628.96 512.87,630.32 513.41,628.65 513.96,627.86 514.5,627.85 515.04,627.87 515.58,628.32 516.13,627.53 516.67,628.95 517.21,629.47 517.75,628.41 518.3,627.61 518.84,628.8 519.38,629.01 519.92,628.64 520.47,629.65 521.01,627.38 521.55,627 522.09,626.63 522.63,629.16 523.18,629.64 523.72,628.58 524.26,628.96 524.8,628.92 525.35,629 525.89,627.82 526.43,628.97 526.97,627.3 527.52,628.88 528.06,629.48 528.6,627.44 529.14,628.52 529.69,626.97 530.23,628.57 530.77,629.22 531.31,627.19 531.86,630.43 532.4,630.31 532.94,629.48 533.48,628.34 534.02,627.58 534.57,628.09 535.11,629.79 535.65,627.53 536.19,629.17 536.74,629.28 537.28,629.07 537.82,629.84 538.36,630.25 538.91,627.71 539.45,627.97 539.99,629.02 540.53,627.8 541.08,629.33 541.62,628.17 542.16,628.55 542.7,628.05 543.24,627.87 543.79,630.72 544.33,628.14 544.87,627.99 545.41,628.93 545.96,630.03 546.5,627.17 547.04,628.07 547.58,627.55 548.13,626.22 548.67,628.58 549.21,628.11 549.75,626.55 550.3,626.21 550.84,629.67 551.38,628.71 551.92,630.65 552.47,629.75 553.01,630.12 553.55,628.38 554.09,629.67 554.63,630.28 555.18,626.82 555.72,629.55 556.26,628.88 556.8,629.6 557.35,628.89 557.89,630.41 558.43,628.49 558.97,630.07 559.52,628.82 560.06,628.71 560.6,629.95 561.14,629.91 561.69,628.67 562.23,627.87 562.77,629.61 563.31,629.02 563.86,630.12 564.4,629.77 564.94,628.46 565.48,626.79 566.02,628.88 566.57,630.3 567.11,630.22 567.65,628.24 568.19,628.88 568.74,628.68 569.28,627.7 569.82,629.02 570.36,629.1 570.91,628.69 571.45,629.09 571.99,627.39 572.53,628.96 573.08,628.29 573.62,627.8 574.16,628.06 574.7,630.18 575.25,628.57 575.79,628.73 576.33,630.61 576.87,630.09 577.41,628.01 577.96,628.26 578.5,627.66 579.04,630.04 579.58,630.57 580.13,630.75 580.67,627.85 581.21,628.45 581.75,628.18 582.3,626.99 582.84,629.72 583.38,629.86 583.92,627.18 584.47,628.32 585.01,629.72 585.55,628.09 586.09,629.48 586.63,629.04 587.18,629.54 587.72,628.95 588.26,626.45 588.8,629.2 589.35,629.11 589.89,630.1 590.43,627.55 590.97,627.68 591.52,629.71 592.06,627.2 592.6,628.82 593.14,626.48 593.69,630.24 594.23,628.52 594.77,627.81 595.31,629.52 595.86,630.02 596.4,628.89 596.94,630.4 597.48,628.55 598.02,628.29 598.57,629.95 599.11,630.18 599.65,628.05 600.19,627.38 600.74,626.91 601.28,628.42 601.82,628.05 602.36,627.2 602.91,629.54 603.45,629.29 603.99,627.75 604.53,627.55 605.08,628.79 605.62,629.24 606.16,628.79 606.7,628.13 607.25,626.96 607.79,628.93 608.33,627.05 608.87,628.25 609.41,628.74 609.96,628.45 610.5,628.73 611.04,629.17 611.58,628.43 612.13,629.1 612.67,630.24 613.21,628.5 613.75,629.27 614.3,626.91 614.84,629.29 615.38,630.6 615.92,628.49 616.47,627.19 617.01,628.58 617.55,627.72 618.09,628.38 618.63,629.75 619.18,626.31 619.72,630.18 620.26,627.32 620.8,628.76 621.35,630 621.89,630.72 622.43,630.07 622.97,627.87 623.52,627.99 624.06,629.69 624.6,627.32 625.14,630.34 625.69,626.8 626.23,626.89 626.77,628.93 627.31,626.47 627.86,629.08 628.4,629.82 628.94,628.55 629.48,628.66 630.02,629.5 630.57,628.85 631.11,627.34 631.65,629.87 632.19,628.43 632.74,628.68 633.28,628.44 633.82,628.48 634.36,627.78 634.91,628.26 635.45,629.18 635.99,626.92 636.53,630.47 637.08,630.33 637.62,630.36 638.16,630.64 638.7,628.12 639.25,628.9 639.79,628.3 640.33,628.02 640.87,628.98 641.41,629.66 641.96,630.17 642.5,629.39 643.04,628.08 643.58,626.92 644.13,628.6 644.67,626.67 645.21,628.66 645.75,629.18 646.3,627.93 646.84,628.31 647.38,627.26 647.92,628.99 648.47,629.35 649.01,630.33 649.55,628.55 650.09,629.17 650.64,629.92 651.18,626.83 651.72,628.47 652.26,627.64 652.8,626.87 653.35,628.51 653.89,628.03 654.43,628.68 654.97,630.21 655.52,629.38 656.06,629.38 656.6,628.85 657.14,626.85 657.69,628.15 658.23,629.29 658.77,629.57 659.31,630.55 659.86,629.76 660.4,628.92 660.94,629.81 661.48,628.73 662.02,629.68 662.57,629.61 663.11,627.93 663.65,628.56 664.19,627.67 664.74,628.19 665.28,627.68 665.82,628.99 666.36,627.33 666.91,629.86 667.45,627.69 667.99,627.68 668.53,627.92 669.08,627.86 669.62,630.45 670.16,627.47 670.7,627.25 671.25,628.68 671.79,628.85 672.33,628.57 672.87,629.41 673.41,629.68 673.96,629.48 674.5,627.22 675.04,629.79 675.58,628.18 676.13,629.02 676.67,627.22 677.21,627.71 677.75,629.62 678.3,629.22 678.84,629.15 679.38,628.05 679.92,627.08 680.47,628.8 681.01,627.35 681.55,627.01 682.09,627.69 682.64,628.91 683.18,628.72 683.72,628.63 684.26,627.86 684.8,627.84 685.35,629.7 685.89,628.51 686.43,628.87 686.97,630.54 687.52,629.2 688.06,628.79 688.6,627.93 689.14,628.63 689.69,629.71 690.23,629.81 690.77,628.87 691.31,629.16 691.86,629.3 692.4,629.08 692.94,628.99 693.48,629.53 694.03,629.25 694.57,628 695.11,627.56 695.65,628.61 696.19,628.69 696.74,628.2 697.28,627.72 697.82,630.2 698.36,627.25 698.91,628.73 699.45,629.29 699.99,628.42 700.53,628.71 701.08,626.85 701.62,630.16 702.16,629.23 702.7,629.22 703.25,627.86 703.79,629.8 704.33,629.03 704.87,629.74 705.41,627.49 705.96,629.64 706.5,628.81 707.04,628.07 707.58,629.66 708.13,627.2 708.67,628.21 709.21,629.33 709.75,629.66 710.3,629.85 710.84,628.94 711.38,630.14 711.92,628.59 712.47,627.81 713.01,626.25 713.55,630.29 714.09,628.91 714.64,627.56 715.18,628.94 715.72,629.03 716.26,630.01 716.8,628.35 717.35,628.05 717.89,628.14 718.43,626.84 718.97,627.58 719.52,629.33 720.06,627.81 720.6,629.99 721.14,629.21 721.69,629.14 722.23,628.21 722.77,629.21 723.31,626.04 723.86,628.58 724.4,630.24 724.94,629.78 725.48,626.35 726.03,627.02 726.57,627.71 727.11,630.78 727.65,627.24 728.19,629.03 728.74,629 729.28,628.2 729.82,628.67 730.36,629.8 730.91,628.95 731.45,628.44 731.99,628.96 732.53,628.31 733.08,629.76 733.62,628.55 734.16,627.49 734.7,628.36 735.25,630.2 735.79,628.79 736.33,628.4 736.87,629.11 737.42,627.51 737.96,627.5 738.5,628.17 739.04,628.27 739.58,627.6 740.13,626.61 740.67,630.14 741.21,628.78 741.75,629.08 742.3,628.42 742.84,628.57 743.38,630.05 743.92,630.1 744.47,628.44 745.01,628.71 745.55,630.43 746.09,629.63 746.64,629.1 747.18,628.73 747.72,630.6 748.26,630.17 748.8,627.94 749.35,628.26 749.89,627.97 750.43,627.03 750.97,629.52 751.52,628.92 752.06,628.55 752.6,630.06 753.14,628.64 753.69,626.99 754.23,628.55 754.77,630.77 755.31,628.79 755.86,627.24 756.4,627.25 756.94,630 757.48,628.42 758.03,627.12 758.57,628.37 759.11,629.11 759.65,630.57 760.19,628.65 760.74,628.51 761.28,628.21 761.82,630.45 762.36,629.27 762.91,627.75 763.45,629.29 763.99,627.73 764.53,627.53 765.08,629.01 765.62,630.06 766.16,627.73 766.7,627.76 767.25,628.67 767.79,629.19 768.33,627.64 768.87,628.3 769.42,627.46 769.96,629.86 770.5,629.14 771.04,627.81 771.58,628.62 772.13,628.65 772.67,628.59 773.21,628.07 773.75,630.37 774.3,630.31 774.84,630.62 775.38,630.14 775.92,628.92 776.47,628.98 777.01,630.21 777.55,630.69 778.09,627.88 778.64,628.52 779.18,628.1 779.72,629.41 780.26,629.51 780.81,628.05 781.35,628.66 781.89,627.58 782.43,628.45 782.97,629.38 783.52,630.03 784.06,629.17 784.6,628.27 785.14,626.05 785.69,627.86 786.23,627.61 786.77,628.24 787.31,628.52 787.86,629.08 788.4,628.17 788.94,630.49 789.48,628.82 790.03,627.88 790.57,629.27 791.11,628.4 791.65,627.53 792.19,628.45" fill="none" stroke="#2bb6b4" stroke-width="1.35" stroke-linejoin="round" stroke-linecap="round" />
<polyline points="314.91,630.47 315.45,626.68 315.99,629.9 316.53,628.89 317.07,626.72 317.62,627.16 318.16,627.5 318.7,626.5 319.24,629.2 319.79,627.72 320.33,628.53 320.87,626.94 321.41,628.94 321.96,628.06 322.5,629.19 323.04,627.45 323.58,625.69 324.13,629.14 324.67,628.86 325.21,630.37 325.75,627.39 326.29,627.34 326.84,628.78 327.38,628.18 327.92,629.04 328.46,629.33 329.01,630.59 329.55,629.8 330.09,627.35 330.63,628.6 331.18,629.82 331.72,629.36 332.26,630.59 332.8,630.14 333.35,629.3 333.89,627.9 334.43,628.38 334.97,630.42 335.52,627.49 336.06,628.28 336.6,627.35 337.14,628.4 337.68,628.36 338.23,626.36 338.77,627.78 339.31,629.31 339.85,630.15 340.4,629.44 340.94,629.41 341.48,628.22 342.02,628.54 342.57,627.24 343.11,629.49 343.65,628.49 344.19,627.81 344.74,628.05 345.28,627.05 345.82,629.33 346.36,629.54 346.91,629.86 347.45,629.02 347.99,629.31 348.53,630.45 349.07,629.08 349.62,628.69 350.16,627.92 350.7,628.79 351.24,628.71 351.79,629.18 352.33,627.41 352.87,627.5 353.41,629.35 353.96,627.32 354.5,627.8 355.04,629.06 355.58,629.47 356.13,628.24 356.67,628.12 357.21,627.72 357.75,627.41 358.3,626.65 358.84,628.44 359.38,628.94 359.92,627.02 360.46,628.7 361.01,626.49 361.55,629.12 362.09,628.63 362.63,628.4 363.18,627.51 363.72,628.84 364.26,628.8 364.8,628.6 365.35,630.72 365.89,629.54 366.43,629.22 366.97,629.95 367.52,629.81 368.06,627.74 368.6,627.11 369.14,628.78 369.68,629.25 370.23,627.4 370.77,626.73 371.31,629.4 371.85,629.04 372.4,628.17 372.94,628.34 373.48,630.4 374.02,628.38 374.57,628.17 375.11,627.44 375.65,630.27 376.19,629.21 376.74,628.47 377.28,629.47 377.82,628.9 378.36,628.58 378.91,630.51 379.45,627.12 379.99,627.87 380.53,628.75 381.07,628.11 381.62,628.44 382.16,626.4 382.7,630.66 383.24,628.68 383.79,629.53 384.33,630.09 384.87,629.72 385.41,630.87 385.96,628.72 386.5,628.37 387.04,628.34 387.58,628.61 388.13,628.23 388.67,629.06 389.21,629.97 389.75,628.14 390.3,627.18 390.84,627.99 391.38,627.32 391.92,627.67 392.46,626.74 393.01,624.88 393.55,627.13 394.09,624.62 394.63,621.72 395.18,617.56 395.72,612.02 396.26,606.18 396.8,599.36 397.35,590.91 397.89,579.78 398.43,568.8 398.97,557.18 399.52,546.29 400.06,536.21 400.6,527.44 401.14,521.8 401.69,519.12 402.23,519.08 402.77,520.43 403.31,523.39 403.85,527.34 404.4,532.69 404.94,539.05 405.48,545.83 406.02,552.98 406.57,560.92 407.11,568.38 407.65,575.95 408.19,582.62 408.74,589.55 409.28,596.38 409.82,601.06 410.36,599.74 410.91,603.71 411.45,609.59 411.99,611.18 412.53,614.21 413.07,616.59 413.62,618.58 414.16,620.01 414.7,620.3 415.24,621.15 415.79,626.89 416.33,626.76 416.87,628.48 417.41,628.16 417.96,629.53 418.5,628.51 419.04,629.12 419.58,628.69 420.13,627.91 420.67,627.39 421.21,628.26 421.75,628.13 422.3,629.89 422.84,627.18 423.38,627.85 423.92,628.6 424.46,630.26 425.01,627.89 425.55,628.39 426.09,630.63 426.63,629.09 427.18,628.35 427.72,628.8 428.26,629.34 428.8,628.26 429.35,628.55 429.89,629.88 430.43,627.83 430.97,626.91 431.52,627.84 432.06,627.55 432.6,628.13 433.14,628.41 433.69,629.69 434.23,628.55 434.77,627.36 435.31,630.31 435.85,627.25 436.4,628.27 436.94,630.85 437.48,629.65 438.02,630.59 438.57,629.45 439.11,628.93 439.65,629.17 440.19,629.33 440.74,629.02 441.28,627.81 441.82,630.21 442.36,628.89 442.91,630.02 443.45,629.49 443.99,630.35 444.53,626.88 445.08,630.43 445.62,629.75 446.16,627.49 446.7,630.78 447.24,628.72 447.79,628.46 448.33,630.42 448.87,628.42 449.41,628.51 449.96,629.99 450.5,628.01 451.04,628.75 451.58,629.59 452.13,628.56 452.67,629.67 453.21,628.34 453.75,628.3 454.3,628.58 454.84,628.51 455.38,628.69 455.92,628.68 456.46,630 457.01,629.49 457.55,627.71 458.09,630.14 458.63,628.91 459.18,628.16 459.72,627.82 460.26,629.41 460.8,628.73 461.35,627.91 461.89,629.71 462.43,628.62 462.97,627.38 463.52,628.81 464.06,627.81 464.6,629.28 465.14,626.73 465.69,627.43 466.23,629.57 466.77,627.34 467.31,630.16 467.85,628.24 468.4,627.85 468.94,629.4 469.48,626.17 470.02,629.26 470.57,627.65 471.11,626.91 471.65,627.12 472.19,629.99 472.74,628.26 473.28,628.63 473.82,628.65 474.36,628.6 474.91,628.46 475.45,628.79 475.99,630.14 476.53,630.12 477.08,626.72 477.62,629.27 478.16,630.08 478.7,628.48 479.24,628.5 479.79,628.55 480.33,628.11 480.87,627.42 481.41,627.44 481.96,627.14 482.5,628.66 483.04,630.24 483.58,629.56 484.13,630.55 484.67,627.81 485.21,628.42 485.75,628.78 486.3,627.41 486.84,629.64 487.38,627.25 487.92,627.45 488.47,629.25 489.01,630.66 489.55,629.34 490.09,627.55 490.63,626.92 491.18,629.71 491.72,628.79 492.26,630.24 492.8,629.55 493.35,629.82 493.89,630.5 494.43,628.2 494.97,627.36 495.52,627.98 496.06,630.21 496.6,628.84 497.14,628.48 497.69,629.8 498.23,628.53 498.77,630.26 499.31,628.11 499.85,628.4 500.4,629 500.94,629.33 501.48,625.81 502.02,629.01 502.57,627.62 503.11,628.99 503.65,629.48 504.19,629.5 504.74,629.1 505.28,629.38 505.82,628.94 506.36,627.59 506.91,629.97 507.45,630.16 507.99,629.12 508.53,626.95 509.08,628.52 509.62,627.14 510.16,629.43 510.7,628.03 511.24,629.81 511.79,627.7 512.33,630.4 512.87,628.27 513.41,628.93 513.96,628.94 514.5,627.62 515.04,630.13 515.58,627.15 516.13,628.98 516.67,627.81 517.21,628.17 517.75,628.78 518.3,629.23 518.84,627.75 519.38,629.36 519.92,630.28 520.47,627.57 521.01,630.59 521.55,628.54 522.09,629.48 522.63,629.8 523.18,628.41 523.72,628.28 524.26,628.43 524.8,627.58 525.35,627.87 525.89,628.76 526.43,629.48 526.97,629.99 527.52,628.43 528.06,626.6 528.6,629.43 529.14,629.74 529.69,625.16 530.23,629.43 530.77,628.6 531.31,628.93 531.86,629.68 532.4,627.92 532.94,628.87 533.48,629.83 534.02,629.4 534.57,627.47 535.11,629.21 535.65,629.17 536.19,627.99 536.74,627.24 537.28,629.03 537.82,627.1 538.36,628.17 538.91,629.62 539.45,628.36 539.99,628.82 540.53,630.43 541.08,627.45 541.62,628.78 542.16,628.47 542.7,628.73 543.24,628.29 543.79,629.38 544.33,628.17 544.87,628.1 545.41,629.61 545.96,629.28 546.5,630.16 547.04,627.66 547.58,629.14 548.13,629.53 548.67,629.74 549.21,627.61 549.75,628.23 550.3,629.56 550.84,630.49 551.38,628 551.92,627.7 552.47,628.62 553.01,628.21 553.55,629.83 554.09,629.49 554.63,627.94 555.18,629.17 555.72,628.36 556.26,628.23 556.8,628.31 557.35,628.7 557.89,627.75 558.43,628.34 558.97,627.81 559.52,627.71 560.06,630.03 560.6,625.72 561.14,628.69 561.69,629.06 562.23,627.47 562.77,627.61 563.31,630.38 563.86,627.8 564.4,630.92 564.94,629.89 565.48,630.04 566.02,629.03 566.57,628.81 567.11,627.43 567.65,627.47 568.19,627.01 568.74,628.78 569.28,629.92 569.82,627.55 570.36,630.04 570.91,628.97 571.45,629.58 571.99,627.89 572.53,627.68 573.08,630.58 573.62,628.9 574.16,627.66 574.7,628.7 575.25,628.89 575.79,630.74 576.33,628.7 576.87,628.59 577.41,629.17 577.96,629.25 578.5,628.68 579.04,628.38 579.58,628.37 580.13,629.43 580.67,629.09 581.21,628.29 581.75,626.99 582.3,629.21 582.84,626.75 583.38,627.92 583.92,627.68 584.47,630.52 585.01,627.56 585.55,627.75 586.09,629.5 586.63,627.7 587.18,627.49 587.72,628.04 588.26,627.18 588.8,629.89 589.35,629.38 589.89,628.26 590.43,628.09 590.97,629.22 591.52,629.49 592.06,628.36 592.6,628.49 593.14,630.22 593.69,629.9 594.23,629.02 594.77,630.47 595.31,628.91 595.86,630.36 596.4,628.26 596.94,630.82 597.48,629.04 598.02,630.07 598.57,628.73 599.11,628.94 599.65,629.07 600.19,629.09 600.74,629.95 601.28,628.08 601.82,629.56 602.36,630.25 602.91,629.04 603.45,629.31 603.99,629.72 604.53,629.49 605.08,628.19 605.62,629.29 606.16,626.47 606.7,629.63 607.25,628.03 607.79,630.91 608.33,629.48 608.87,628.31 609.41,630.19 609.96,629.04 610.5,630.22 611.04,630.41 611.58,630.07 612.13,627.16 612.67,626.49 613.21,630.16 613.75,628.22 614.3,628.63 614.84,628.23 615.38,627.13 615.92,628.41 616.47,628.29 617.01,628.3 617.55,629.74 618.09,627.88 618.63,627.13 619.18,627.53 619.72,627.99 620.26,627.17 620.8,629.02 621.35,629.42 621.89,627.93 622.43,629.76 622.97,628.03 623.52,626.63 624.06,629.18 624.6,627.5 625.14,630.22 625.69,628.52 626.23,628.62 626.77,630.08 627.31,628.36 627.86,627.94 628.4,629.21 628.94,629.49 629.48,628.68 630.02,628.64 630.57,627.09 631.11,629.31 631.65,629.54 632.19,630.39 632.74,627.24 633.28,626.88 633.82,627.23 634.36,628.94 634.91,628.47 635.45,627.79 635.99,628.09 636.53,628.06 637.08,629.86 637.62,627.84 638.16,629.15 638.7,628.28 639.25,628.28 639.79,627.41 640.33,627.52 640.87,627.92 641.41,628.98 641.96,628.89 642.5,628.24 643.04,628.21 643.58,628.79 644.13,629.83 644.67,627.64 645.21,629.79 645.75,627.72 646.3,630.71 646.84,627.45 647.38,628.73 647.92,628.9 648.47,630.22 649.01,627.14 649.55,626.99 650.09,629.19 650.64,629.18 651.18,629.81 651.72,629.12 652.26,628.19 652.8,628.38 653.35,628.57 653.89,629.32 654.43,628.01 654.97,629.27 655.52,628.27 656.06,628.45 656.6,628.84 657.14,628.42 657.69,628.77 658.23,629.53 658.77,630.65 659.31,630.22 659.86,629.84 660.4,627.4 660.94,627.97 661.48,628.47 662.02,627.05 662.57,628.47 663.11,628.95 663.65,627.98 664.19,627.89 664.74,629.44 665.28,627.97 665.82,629.22 666.36,628.92 666.91,627.88 667.45,627.74 667.99,628.93 668.53,627.83 669.08,629.09 669.62,628.51 670.16,628.84 670.7,629.43 671.25,628.94 671.79,629.51 672.33,630.65 672.87,629.05 673.41,628.47 673.96,627.27 674.5,629.82 675.04,630.4 675.58,630.09 676.13,628.96 676.67,630.65 677.21,629.54 677.75,628.53 678.3,628.78 678.84,630.79 679.38,628.68 679.92,629.45 680.47,628.87 681.01,628.71 681.55,628.09 682.09,628.23 682.64,629.17 683.18,628.21 683.72,627.51 684.26,628.56 684.8,628.57 685.35,627.97 685.89,628.67 686.43,630.35 686.97,629.14 687.52,628.76 688.06,629.62 688.6,629.3 689.14,627.47 689.69,627.71 690.23,629.25 690.77,629.61 691.31,627.87 691.86,630.24 692.4,627.23 692.94,628.14 693.48,630.06 694.03,629.46 694.57,628.53 695.11,629.88 695.65,627.49 696.19,628.98 696.74,629.15 697.28,629.61 697.82,627.43 698.36,629 698.91,628.41 699.45,629.54 699.99,628.31 700.53,627.42 701.08,628.76 701.62,629.9 702.16,627.23 702.7,629.9 703.25,629.11 703.79,628.44 704.33,628.53 704.87,628.55 705.41,629.38 705.96,627.31 706.5,628.45 707.04,630.03 707.58,627.73 708.13,628.95 708.67,628.32 709.21,628.53 709.75,626.31 710.3,627.15 710.84,629.36 711.38,628.41 711.92,627.71 712.47,629.08 713.01,627.52 713.55,628.6 714.09,627.51 714.64,629.32 715.18,629.39 715.72,630.23 716.26,628.24 716.8,630.43 717.35,627.42 717.89,630.05 718.43,628.15 718.97,629.03 719.52,628.42 720.06,629.66 720.6,630.57 721.14,629.24 721.69,627.91 722.23,628.55 722.77,629.01 723.31,628.18 723.86,628.85 724.4,628.06 724.94,627.99 725.48,627.74 726.03,629.73 726.57,627.75 727.11,628.82 727.65,626.59 728.19,628.04 728.74,628.96 729.28,630.12 729.82,627.37 730.36,628.87 730.91,629.61 731.45,629.92 731.99,628.06 732.53,628.67 733.08,629.42 733.62,627.64 734.16,629.13 734.7,627.37 735.25,629.48 735.79,628.51 736.33,628.88 736.87,629.78 737.42,629.89 737.96,629.15 738.5,628.08 739.04,628.7 739.58,628.23 740.13,627.57 740.67,628.22 741.21,628.61 741.75,628.16 742.3,629.42 742.84,629.32 743.38,627.81 743.92,630.08 744.47,626.95 745.01,628.64 745.55,630.12 746.09,628.01 746.64,627.27 747.18,630.45 747.72,630.2 748.26,630 748.8,627.87 749.35,628.08 749.89,630.37 750.43,629.17 750.97,627.17 751.52,627.78 752.06,628.13 752.6,628.28 753.14,627.45 753.69,626.33 754.23,627.81 754.77,628.67 755.31,629.64 755.86,627.21 756.4,628.96 756.94,630.09 757.48,629.38 758.03,628.08 758.57,628.08 759.11,628.2 759.65,628.51 760.19,628.32 760.74,630.06 761.28,628.92 761.82,628.52 762.36,627.59 762.91,629.07 763.45,629.97 763.99,629.1 764.53,626.97 765.08,627.95 765.62,630.55 766.16,628.58 766.7,627.43 767.25,629.5 767.79,627.4 768.33,628.04 768.87,628.52 769.42,628.19 769.96,628.68 770.5,630.86 771.04,628.47 771.58,628.64 772.13,628.86 772.67,629.75 773.21,630.67 773.75,629.54 774.3,629.48 774.84,629.07 775.38,629.76 775.92,629.13 776.47,628.55 777.01,626.8 777.55,626.69 778.09,628.72 778.64,629.42 779.18,628.45 779.72,629.76 780.26,627.79 780.81,630.52 781.35,628.24 781.89,630.74 782.43,629.73 782.97,628.81 783.52,628.43 784.06,629.31 784.6,630.61 785.14,628.41 785.69,628.61 786.23,630.24 786.77,627.94 787.31,629.56 787.86,629.75 788.4,627.99 788.94,628.6 789.48,628.2 790.03,628.42 790.57,628.09 791.11,627.91 791.65,627.97 792.19,627.63" fill="none" stroke="#3a84d2" stroke-width="1.35" stroke-linejoin="round" stroke-linecap="round" />
<polyline points="314.91,628.64 315.45,628.11 315.99,629.62 316.53,628.88 317.07,626.33 317.62,628.6 318.16,628.08 318.7,628.59 319.24,630 319.79,628.88 320.33,628.36 320.87,628.02 321.41,628.94 321.96,627.83 322.5,628.09 323.04,630.16 323.58,630.15 324.13,627.99 324.67,628.38 325.21,630.44 325.75,628.99 326.29,629.53 326.84,628.31 327.38,627.61 327.92,628.13 328.46,627.55 329.01,629.51 329.55,628.73 330.09,626.9 330.63,628.9 331.18,629.89 331.72,627.87 332.26,629.8 332.8,630.32 333.35,629.6 333.89,629.42 334.43,627.71 334.97,629.85 335.52,628.1 336.06,628.93 336.6,628.57 337.14,630.39 337.68,628.21 338.23,628.81 338.77,627.37 339.31,629.6 339.85,630.07 340.4,629.63 340.94,628.48 341.48,629.98 342.02,629.11 342.57,630.3 343.11,629.38 343.65,629.33 344.19,628.9 344.74,627.88 345.28,627.81 345.82,629.4 346.36,630.14 346.91,628.4 347.45,629.54 347.99,629.3 348.53,629.9 349.07,630.55 349.62,628.23 350.16,628.14 350.7,629.07 351.24,625.14 351.79,625.63 352.33,622.83 352.87,620.06 353.41,618.5 353.96,611.18 354.5,604.36 355.04,594.35 355.58,583.59 356.13,569.67 356.67,556.34 357.21,543.68 357.75,532.71 358.3,524.37 358.84,519.46 359.38,518.74 359.92,520.37 360.46,522.98 361.01,527.02 361.55,532.08 362.09,538.46 362.63,545.18 363.18,552.51 363.72,560.52 364.26,568.05 364.8,576.62 365.35,583.41 365.89,590.21 366.43,596.22 366.97,602.36 367.52,607.29 368.06,610.76 368.6,613.8 369.14,619.24 369.68,620.07 370.23,622.45 370.77,623.31 371.31,625.35 371.85,625.35 372.4,627.48 372.94,627.93 373.48,629.2 374.02,628.21 374.57,629.04 375.11,628.73 375.65,629.74 376.19,626.31 376.74,627.02 377.28,628.14 377.82,627.98 378.36,628.37 378.91,627.71 379.45,626.68 379.99,628.55 380.53,628.05 381.07,629.37 381.62,628.58 382.16,627.42 382.7,629.98 383.24,630.14 383.79,626.93 384.33,629.2 384.87,628.23 385.41,627.6 385.96,627.48 386.5,627.5 387.04,627.13 387.58,629.15 388.13,628.18 388.67,628.73 389.21,628.39 389.75,628.07 390.3,629.54 390.84,629.99 391.38,630.92 391.92,628.2 392.46,629.94 393.01,628.66 393.55,628.9 394.09,629.13 394.63,629.04 395.18,627.14 395.72,629.6 396.26,628.12 396.8,626.98 397.35,627.92 397.89,629.45 398.43,628.06 398.97,627.91 399.52,627.64 400.06,630.09 400.6,627.55 401.14,627.2 401.69,629.36 402.23,630.02 402.77,629.46 403.31,628.2 403.85,628.1 404.4,629.8 404.94,629.62 405.48,629.99 406.02,628.25 406.57,629.02 407.11,630.04 407.65,627.1 408.19,629.57 408.74,628.8 409.28,628.52 409.82,626.25 410.36,629.51 410.91,629.22 411.45,627.88 411.99,629.18 412.53,630.5 413.07,629.91 413.62,627.35 414.16,630.12 414.7,626.61 415.24,627.97 415.79,629.32 416.33,628.97 416.87,627.55 417.41,630.26 417.96,629.13 418.5,628.89 419.04,628.1 419.58,629.08 420.13,629.46 420.67,629.32 421.21,629.42 421.75,628.21 422.3,628.37 422.84,629.33 423.38,629.29 423.92,629.49 424.46,629.92 425.01,629.1 425.55,630.83 426.09,628.55 426.63,629.63 427.18,627.77 427.72,626.97 428.26,625.29 428.8,628.25 429.35,629.26 429.89,627.87 430.43,629.35 430.97,628.73 431.52,627.54 432.06,629.26 432.6,627.9 433.14,628.61 433.69,628.03 434.23,628.97 434.77,628.63 435.31,627.61 435.85,630.31 436.4,627.63 436.94,627.04 437.48,626.39 438.02,628.61 438.57,629.9 439.11,626.92 439.65,628.17 440.19,629.07 440.74,627.8 441.28,629.24 441.82,629.32 442.36,629.18 442.91,627.71 443.45,629 443.99,630.34 444.53,628.49 445.08,626.88 445.62,627.15 446.16,627.39 446.7,630.51 447.24,629.54 447.79,628.16 448.33,627.39 448.87,627.07 449.41,628.01 449.96,628.31 450.5,628.24 451.04,628.78 451.58,628.48 452.13,629.35 452.67,629.35 453.21,629.05 453.75,628.61 454.3,628.85 454.84,629.06 455.38,628.26 455.92,628.37 456.46,629.79 457.01,630.77 457.55,629.39 458.09,629.96 458.63,627.5 459.18,629.4 459.72,627.64 460.26,630.47 460.8,628.74 461.35,630.42 461.89,627.59 462.43,629.75 462.97,625.63 463.52,627.93 464.06,629.22 464.6,629.65 465.14,629.54 465.69,630.01 466.23,630.5 466.77,630.44 467.31,627.85 467.85,630.62 468.4,628.16 468.94,630.36 469.48,628.63 470.02,626.74 470.57,628.01 471.11,627.68 471.65,628.07 472.19,630.56 472.74,627.41 473.28,629.17 473.82,628.94 474.36,628.9 474.91,628.15 475.45,628.99 475.99,630.15 476.53,628.59 477.08,628.03 477.62,630.51 478.16,630.56 478.7,630.76 479.24,627.86 479.79,629.48 480.33,627.43 480.87,628.15 481.41,627.54 481.96,629.16 482.5,629.02 483.04,628.05 483.58,629.02 484.13,630.42 484.67,628.15 485.21,628.63 485.75,629.94 486.3,627.75 486.84,626.93 487.38,629.49 487.92,628.41 488.47,628.69 489.01,626.89 489.55,629.88 490.09,630.23 490.63,630.89 491.18,630.17 491.72,628.72 492.26,627.65 492.8,628.2 493.35,629.28 493.89,630.12 494.43,628.84 494.97,627.8 495.52,628.47 496.06,628.88 496.6,629.56 497.14,627.72 497.69,627.4 498.23,627.72 498.77,628.45 499.31,629.43 499.85,627.8 500.4,627.69 500.94,628.78 501.48,628.53 502.02,627.97 502.57,629.87 503.11,627.58 503.65,630.2 504.19,630.08 504.74,628.12 505.28,626.99 505.82,628.15 506.36,629.97 506.91,630.4 507.45,629.25 507.99,629.43 508.53,627.74 509.08,627.92 509.62,630.04 510.16,629.58 510.7,626.31 511.24,629.57 511.79,627.34 512.33,628.28 512.87,627.01 513.41,627.22 513.96,627.1 514.5,627.77 515.04,628.19 515.58,628.4 516.13,627.35 516.67,629.9 517.21,630.5 517.75,627.57 518.3,629.76 518.84,628.89 519.38,627.05 519.92,628.68 520.47,628.97 521.01,626.89 521.55,628.38 522.09,627.69 522.63,629.12 523.18,628.24 523.72,627.58 524.26,628.95 524.8,627.77 525.35,629.7 525.89,628.23 526.43,629.8 526.97,628.41 527.52,630.67 528.06,628.75 528.6,627.54 529.14,627.84 529.69,628.07 530.23,627.75 530.77,630.57 531.31,627.41 531.86,628.09 532.4,626.93 532.94,630 533.48,627.93 534.02,628.86 534.57,627.84 535.11,628.05 535.65,630.76 536.19,630 536.74,627.48 537.28,630.39 537.82,628.85 538.36,627.84 538.91,627.06 539.45,628.36 539.99,629.91 540.53,629.42 541.08,628.04 541.62,630.29 542.16,630.06 542.7,629.37 543.24,626.59 543.79,628.98 544.33,627.31 544.87,629.14 545.41,629.75 545.96,627.43 546.5,628.12 547.04,628.37 547.58,629.05 548.13,627.16 548.67,629.24 549.21,628.22 549.75,628.19 550.3,629.16 550.84,628.59 551.38,628.65 551.92,628.06 552.47,628.55 553.01,629.42 553.55,630.36 554.09,629.42 554.63,628.76 555.18,628.11 555.72,629.08 556.26,627.64 556.8,628.91 557.35,628.35 557.89,630.46 558.43,630.21 558.97,630.27 559.52,628.81 560.06,627.07 560.6,626.39 561.14,628.62 561.69,627.99 562.23,629.21 562.77,628.41 563.31,630.05 563.86,629.2 564.4,627.03 564.94,628.5 565.48,629.55 566.02,627.43 566.57,628.67 567.11,630.31 567.65,627.58 568.19,626.99 568.74,630.31 569.28,626.75 569.82,630.06 570.36,629.51 570.91,629 571.45,630.28 571.99,627.63 572.53,628.4 573.08,630.41 573.62,626.32 574.16,630.15 574.7,628.98 575.25,630.29 575.79,628.49 576.33,629.48 576.87,627.53 577.41,627.85 577.96,630.26 578.5,628.95 579.04,625.89 579.58,627.86 580.13,629.73 580.67,628.77 581.21,626.9 581.75,626.18 582.3,628.67 582.84,628.08 583.38,628.87 583.92,629.68 584.47,628.67 585.01,627.97 585.55,628.51 586.09,627.84 586.63,629.47 587.18,629.09 587.72,629.31 588.26,630.97 588.8,629.89 589.35,629.55 589.89,628.91 590.43,627.24 590.97,628.77 591.52,629.62 592.06,628.81 592.6,629.57 593.14,629.2 593.69,627.52 594.23,627.38 594.77,627.51 595.31,628.71 595.86,630.41 596.4,629.87 596.94,628.14 597.48,627.23 598.02,630.16 598.57,630.54 599.11,628.71 599.65,627.7 600.19,628.24 600.74,630.69 601.28,628.34 601.82,627.79 602.36,628.22 602.91,627.32 603.45,627.52 603.99,629.34 604.53,627.49 605.08,629.47 605.62,629.49 606.16,629.09 606.7,627.66 607.25,627.7 607.79,627.21 608.33,629.65 608.87,628.6 609.41,628.54 609.96,630.45 610.5,628.27 611.04,627.81 611.58,630.15 612.13,630.43 612.67,630.38 613.21,627.43 613.75,628.34 614.3,627.66 614.84,630.58 615.38,630.05 615.92,627.95 616.47,629.33 617.01,628.89 617.55,629.24 618.09,627.38 618.63,626.8 619.18,629.9 619.72,630.73 620.26,629.31 620.8,628.04 621.35,629.85 621.89,628.42 622.43,629.12 622.97,629.74 623.52,628.81 624.06,627.62 624.6,628.05 625.14,630.32 625.69,628.53 626.23,628.85 626.77,628.71 627.31,626.81 627.86,629.51 628.4,629.66 628.94,628.18 629.48,627.87 630.02,630.51 630.57,628.25 631.11,629.11 631.65,630.01 632.19,629.51 632.74,630.14 633.28,628.08 633.82,627.18 634.36,630.71 634.91,628.58 635.45,629.48 635.99,628.25 636.53,629.87 637.08,629.45 637.62,627.92 638.16,628.08 638.7,628.96 639.25,626.62 639.79,627.31 640.33,629.83 640.87,628.11 641.41,627.52 641.96,628.64 642.5,628.7 643.04,627.55 643.58,628.06 644.13,627.49 644.67,628.26 645.21,630.55 645.75,628.12 646.3,629.11 646.84,629.6 647.38,628.65 647.92,629.26 648.47,628.3 649.01,630.76 649.55,630.04 650.09,629.65 650.64,628.17 651.18,626.45 651.72,628.7 652.26,630.5 652.8,627.36 653.35,628.22 653.89,629.34 654.43,627.8 654.97,627.42 655.52,629.16 656.06,628.6 656.6,629.83 657.14,629.81 657.69,630.02 658.23,629.27 658.77,630.48 659.31,629.42 659.86,630.19 660.4,629.11 660.94,628.12 661.48,628.77 662.02,629.53 662.57,628.61 663.11,628.41 663.65,628.5 664.19,627.88 664.74,628.39 665.28,629.42 665.82,628.54 666.36,628.11 666.91,629.53 667.45,630.13 667.99,628.44 668.53,628.6 669.08,630.19 669.62,628.03 670.16,630.27 670.7,628.39 671.25,630.21 671.79,627.96 672.33,629.53 672.87,630.1 673.41,627.42 673.96,627.16 674.5,628.66 675.04,627.98 675.58,629.71 676.13,629.77 676.67,629.62 677.21,629.38 677.75,629.86 678.3,630.23 678.84,627.41 679.38,629.78 679.92,629.8 680.47,628.2 681.01,628.49 681.55,628.4 682.09,629.48 682.64,628.35 683.18,627 683.72,629.4 684.26,627.75 684.8,627.94 685.35,628.3 685.89,628.64 686.43,628.42 686.97,628.14 687.52,630.16 688.06,630.8 688.6,628.63 689.14,629.91 689.69,627.9 690.23,630.37 690.77,628.66 691.31,629.52 691.86,630.06 692.4,627.83 692.94,628.32 693.48,627.83 694.03,629.51 694.57,629.39 695.11,626.54 695.65,627.32 696.19,628.28 696.74,627.46 697.28,629.48 697.82,628.02 698.36,630.03 698.91,629.3 699.45,628.46 699.99,627.72 700.53,628.99 701.08,627.8 701.62,630.31 702.16,627.76 702.7,627.94 703.25,628.04 703.79,627.75 704.33,628.33 704.87,629.86 705.41,630.79 705.96,629.01 706.5,629.55 707.04,629.52 707.58,630.56 708.13,627.6 708.67,628.98 709.21,629.57 709.75,630.69 710.3,629.16 710.84,629.31 711.38,628.34 711.92,628.75 712.47,628.5 713.01,627.75 713.55,628.51 714.09,628.27 714.64,628.77 715.18,627.65 715.72,626.23 716.26,629.71 716.8,627.17 717.35,627.02 717.89,630.44 718.43,628.13 718.97,629.45 719.52,627.97 720.06,630.88 720.6,629.06 721.14,629.71 721.69,627.6 722.23,629.46 722.77,629.54 723.31,629.46 723.86,626.92 724.4,629.83 724.94,628.77 725.48,628.48 726.03,627.97 726.57,629.69 727.11,629.52 727.65,627.61 728.19,626.39 728.74,629.19 729.28,628.38 729.82,628.96 730.36,630.51 730.91,629.87 731.45,626.16 731.99,627.87 732.53,627.6 733.08,627.76 733.62,627.07 734.16,628.17 734.7,626.65 735.25,629.25 735.79,630.45 736.33,626.8 736.87,627.85 737.42,627.59 737.96,627.04 738.5,629.81 739.04,630.5 739.58,628.25 740.13,627.85 740.67,628.57 741.21,627.46 741.75,629.71 742.3,626.68 742.84,627.65 743.38,628.19 743.92,628.29 744.47,629.1 745.01,628.53 745.55,629.14 746.09,628.32 746.64,628.95 747.18,628.26 747.72,629.02 748.26,628.81 748.8,629.82 749.35,629.31 749.89,629.85 750.43,629.25 750.97,627.8 751.52,627.96 752.06,627.25 752.6,628.46 753.14,628.15 753.69,628.59 754.23,629.04 754.77,629.63 755.31,628.75 755.86,629.37 756.4,627.32 756.94,628.28 757.48,628.77 758.03,628.87 758.57,628.7 759.11,627.49 759.65,628.17 760.19,628.12 760.74,630.23 761.28,628.32 761.82,628.23 762.36,627.22 762.91,629.97 763.45,628.14 763.99,627.32 764.53,627.43 765.08,627.91 765.62,630.24 766.16,628.96 766.7,627.54 767.25,629.85 767.79,630.21 768.33,629.03 768.87,629.63 769.42,627.53 769.96,629.2 770.5,628.73 771.04,628.56 771.58,628.34 772.13,627.6 772.67,627.95 773.21,628.25 773.75,630.17 774.3,627.74 774.84,630.05 775.38,630.55 775.92,627.55 776.47,629.62 777.01,627.82 777.55,629.04 778.09,628.56 778.64,630.55 779.18,630.01 779.72,630.44 780.26,628.23 780.81,628.29 781.35,627.39 781.89,628.33 782.43,628.21 782.97,628.87 783.52,627.35 784.06,627.88 784.6,626.81 785.14,629.24 785.69,629.47 786.23,629.46 786.77,629.52 787.31,628.65 787.86,629.69 788.4,629.62 788.94,628.53 789.48,629.85 790.03,629.19 790.57,629.57 791.11,629.21 791.65,629.94 792.19,629.48" fill="none" stroke="#3b3f9e" stroke-width="1.35" stroke-linejoin="round" stroke-linecap="round" />
<polyline points="676.67,621.48 677.21,619.27 677.75,616.4 678.3,613.92 678.84,610.47 679.38,606.59 679.92,600.21 680.47,594.25 681.01,587.55 681.55,581.15 682.09,572.77 682.64,565.56 683.18,557.33 683.72,549.1 684.26,542.22 684.8,535.3 685.35,529.18 685.89,524.58 686.43,521.16 686.97,519.1 687.52,519 688.06,519.68 688.6,521.46 689.14,524.63 689.69,528.82 690.23,533.62 690.77,539.6 691.31,545.56 691.86,552.21 692.4,559.06 692.94,566.81 693.48,573.11 694.03,578.37 694.57,586.33 695.11,593.03 695.65,597.21 696.19,603.71 696.74,606.57 697.28,609.76 697.82,614.86 698.36,617.18 698.91,619.78 699.45,622" fill="none" stroke="#e93535" stroke-width="1.55" stroke-linejoin="round" stroke-linecap="round" />
<polyline points="653.35,621.21 653.89,618.51 654.43,616.81 654.97,612.77 655.52,610 656.06,606.74 656.6,601.99 657.14,595.81 657.69,590.33 658.23,583.81 658.77,576.7 659.31,570.08 659.86,563.88 660.4,556.43 660.94,549.28 661.48,542.6 662.02,536.63 662.57,531.11 663.11,526.57 663.65,522.94 664.19,520.27 664.74,518.85 665.28,518.85 665.82,519.99 666.36,522.11 666.91,525.67 667.45,529.94 667.99,535.44 668.53,541.44 669.08,547.7 669.62,555.07 670.16,561.87 670.7,569.52 671.25,576.7 671.79,582.95 672.33,589.46 672.87,595.07 673.41,598.52 673.96,605.66 674.5,609.38 675.04,612.86 675.58,614.47 676.13,620.14 676.67,619.78 677.21,621.29" fill="none" stroke="#ee7d2c" stroke-width="1.55" stroke-linejoin="round" stroke-linecap="round" />
<polyline points="612.67,619.98 613.21,618.8 613.75,612.65 614.3,609.91 614.84,605.17 615.38,599.91 615.92,593.19 616.47,587.15 617.01,579.24 617.55,569.58 618.09,562.37 618.63,553.38 619.18,545.15 619.72,537.69 620.26,531.15 620.8,525.35 621.35,521.67 621.89,519.23 622.43,518.67 622.97,520.07 623.52,523.2 624.06,527.71 624.6,533.26 625.14,540.72 625.69,548.47 626.23,557.35 626.77,565.25 627.31,573.6 627.86,581.37 628.4,588.8 628.94,595.94 629.48,602.33 630.02,608.01 630.57,612.86 631.11,617.52 631.65,619.88" fill="none" stroke="#e8ab30" stroke-width="1.55" stroke-linejoin="round" stroke-linecap="round" />
<polyline points="568.74,620.61 569.28,619.59 569.82,617.05 570.36,613.73 570.91,609.12 571.45,603.33 571.99,597.3 572.53,591.68 573.08,583.18 573.62,575.26 574.16,567.63 574.7,558.62 575.25,550.29 575.79,542.07 576.33,535.04 576.87,528.67 577.41,523.83 577.96,520.6 578.5,518.81 579.04,519.21 579.58,520.95 580.13,524.84 580.67,529.71 581.21,535.95 581.75,543.58 582.3,552.1 582.84,560.55 583.38,568.49 583.92,577.76 584.47,585.52 585.01,592.74 585.55,597.59 586.09,602.87 586.63,611.17 587.18,613.63 587.72,618.06 588.26,618.64 588.8,621.98" fill="none" stroke="#9cc83e" stroke-width="1.55" stroke-linejoin="round" stroke-linecap="round" />
<polyline points="525.35,620.53 525.89,613.46 526.43,606 526.97,595.53 527.52,583.57 528.06,570.84 528.6,556.96 529.14,544.93 529.69,535.77 530.23,528 530.77,522.64 531.31,520.47 531.86,518.87 532.4,519.14 532.94,521.94 533.48,525.31 534.02,529.96 534.57,534.84 535.11,538.6 535.65,542.44 536.19,544.51 536.74,543.88 537.28,542.45 537.82,540.97 538.36,539.65 538.91,539.01 539.45,538.82 539.99,542.41 540.53,547.34 541.08,553.99 541.62,561.33 542.16,569.07 542.7,575.19 543.24,582.2 543.79,588.22 544.33,595.84 544.87,600.58 545.41,606.86 545.96,611.77 546.5,614.39 547.04,619.01" fill="none" stroke="#4bb03c" stroke-width="1.55" stroke-linejoin="round" stroke-linecap="round" />
<polyline points="489.01,621.06 489.55,621.06 490.09,617.01 490.63,610.8 491.18,606.25 491.72,599.85 492.26,594.54 492.8,585.27 493.35,577.13 493.89,568.31 494.43,558.31 494.97,549.03 495.52,539.88 496.06,532.42 496.6,525.96 497.14,521.69 497.69,519.25 498.23,518.95 498.77,520.37 499.31,522.81 499.85,527.28 500.4,532.94 500.94,539.16 501.48,546.55 502.02,553.56 502.57,562.33 503.11,569.64 503.65,576.49 504.19,585.83 504.74,591.17 505.28,597.32 505.82,603.85 506.36,607.13 506.91,614.06 507.45,616.07 507.99,617.97 508.53,621.16" fill="none" stroke="#3cb87c" stroke-width="1.55" stroke-linejoin="round" stroke-linecap="round" />
<polyline points="436.94,621.33 437.48,621.55 438.02,616.3 438.57,611.47 439.11,606.98 439.65,599.51 440.19,592.89 440.74,583.87 441.28,575.72 441.82,566.27 442.36,555.86 442.91,546.53 443.45,537.99 443.99,530.27 444.53,524.15 445.08,520.3 445.62,518.79 446.16,518.97 446.7,520.73 447.24,523.59 447.79,527.58 448.33,532.47 448.87,538.71 449.41,545.14 449.96,552.21 450.5,559.4 451.04,566.39 451.58,573.19 452.13,580.6 452.67,587.23 453.21,591.53 453.75,597.75 454.3,603.89 454.84,609 455.38,611.58 455.92,616.73 456.46,618.3 457.01,619.66 457.55,621.83 458.09,623.63 458.63,624.6 459.18,625.45 459.72,622.21 460.26,622.28 460.8,624.24 461.35,623.03 461.89,620.96" fill="none" stroke="#2bb6b4" stroke-width="1.55" stroke-linejoin="round" stroke-linecap="round" />
<polyline points="394.63,621.72 395.18,617.56 395.72,612.02 396.26,606.18 396.8,599.36 397.35,590.91 397.89,579.78 398.43,568.8 398.97,557.18 399.52,546.29 400.06,536.21 400.6,527.44 401.14,521.8 401.69,519.12 402.23,519.08 402.77,520.43 403.31,523.39 403.85,527.34 404.4,532.69 404.94,539.05 405.48,545.83 406.02,552.98 406.57,560.92 407.11,568.38 407.65,575.95 408.19,582.62 408.74,589.55 409.28,596.38 409.82,601.06 410.36,599.74 410.91,603.71 411.45,609.59 411.99,611.18 412.53,614.21 413.07,616.59 413.62,618.58 414.16,620.01 414.7,620.3 415.24,621.15" fill="none" stroke="#3a84d2" stroke-width="1.55" stroke-linejoin="round" stroke-linecap="round" />
<polyline points="352.87,620.06 353.41,618.5 353.96,611.18 354.5,604.36 355.04,594.35 355.58,583.59 356.13,569.67 356.67,556.34 357.21,543.68 357.75,532.71 358.3,524.37 358.84,519.46 359.38,518.74 359.92,520.37 360.46,522.98 361.01,527.02 361.55,532.08 362.09,538.46 362.63,545.18 363.18,552.51 363.72,560.52 364.26,568.05 364.8,576.62 365.35,583.41 365.89,590.21 366.43,596.22 366.97,602.36 367.52,607.29 368.06,610.76 368.6,613.8 369.14,619.24 369.68,620.07" fill="none" stroke="#3b3f9e" stroke-width="1.55" stroke-linejoin="round" stroke-linecap="round" />
</g>
<rect x="314.6" y="462.25" width="477.9" height="169" fill="none" stroke="#0a0a0a" stroke-width="1.5"/>
<line x1="310.8" y1="473.1" x2="314.6" y2="473.1" stroke="#0a0a0a" stroke-width="1.25" />
<line x1="310.8" y1="495.65" x2="314.6" y2="495.65" stroke="#0a0a0a" stroke-width="1.25" />
<line x1="310.8" y1="518.2" x2="314.6" y2="518.2" stroke="#0a0a0a" stroke-width="1.25" />
<line x1="310.8" y1="540.75" x2="314.6" y2="540.75" stroke="#0a0a0a" stroke-width="1.25" />
<line x1="310.8" y1="563.3" x2="314.6" y2="563.3" stroke="#0a0a0a" stroke-width="1.25" />
<line x1="310.8" y1="585.85" x2="314.6" y2="585.85" stroke="#0a0a0a" stroke-width="1.25" />
<line x1="310.8" y1="608.4" x2="314.6" y2="608.4" stroke="#0a0a0a" stroke-width="1.25" />
<line x1="310.8" y1="630.95" x2="314.6" y2="630.95" stroke="#0a0a0a" stroke-width="1.25" />
<line x1="312.6" y1="484.4" x2="314.6" y2="484.4" stroke="#0a0a0a" stroke-width="1.25" />
<line x1="312.6" y1="506.95" x2="314.6" y2="506.95" stroke="#0a0a0a" stroke-width="1.25" />
<line x1="312.6" y1="529.5" x2="314.6" y2="529.5" stroke="#0a0a0a" stroke-width="1.25" />
<line x1="312.6" y1="552.05" x2="314.6" y2="552.05" stroke="#0a0a0a" stroke-width="1.25" />
<line x1="312.6" y1="574.6" x2="314.6" y2="574.6" stroke="#0a0a0a" stroke-width="1.25" />
<line x1="312.6" y1="597.15" x2="314.6" y2="597.15" stroke="#0a0a0a" stroke-width="1.25" />
<line x1="312.6" y1="619.7" x2="314.6" y2="619.7" stroke="#0a0a0a" stroke-width="1.25" />
<line x1="336.6" y1="631.25" x2="336.6" y2="635.05" stroke="#0a0a0a" stroke-width="1.25" />
<line x1="379.99" y1="631.25" x2="379.99" y2="635.05" stroke="#0a0a0a" stroke-width="1.25" />
<line x1="423.38" y1="631.25" x2="423.38" y2="635.05" stroke="#0a0a0a" stroke-width="1.25" />
<line x1="466.77" y1="631.25" x2="466.77" y2="635.05" stroke="#0a0a0a" stroke-width="1.25" />
<line x1="510.16" y1="631.25" x2="510.16" y2="635.05" stroke="#0a0a0a" stroke-width="1.25" />
<line x1="553.55" y1="631.25" x2="553.55" y2="635.05" stroke="#0a0a0a" stroke-width="1.25" />
<line x1="596.94" y1="631.25" x2="596.94" y2="635.05" stroke="#0a0a0a" stroke-width="1.25" />
<line x1="640.33" y1="631.25" x2="640.33" y2="635.05" stroke="#0a0a0a" stroke-width="1.25" />
<line x1="683.72" y1="631.25" x2="683.72" y2="635.05" stroke="#0a0a0a" stroke-width="1.25" />
<line x1="727.11" y1="631.25" x2="727.11" y2="635.05" stroke="#0a0a0a" stroke-width="1.25" />
<line x1="770.5" y1="631.25" x2="770.5" y2="635.05" stroke="#0a0a0a" stroke-width="1.25" />
<line x1="314.91" y1="631.25" x2="314.91" y2="633.25" stroke="#0a0a0a" stroke-width="1.25" />
<line x1="358.3" y1="631.25" x2="358.3" y2="633.25" stroke="#0a0a0a" stroke-width="1.25" />
<line x1="401.69" y1="631.25" x2="401.69" y2="633.25" stroke="#0a0a0a" stroke-width="1.25" />
<line x1="445.08" y1="631.25" x2="445.08" y2="633.25" stroke="#0a0a0a" stroke-width="1.25" />
<line x1="488.47" y1="631.25" x2="488.47" y2="633.25" stroke="#0a0a0a" stroke-width="1.25" />
<line x1="531.86" y1="631.25" x2="531.86" y2="633.25" stroke="#0a0a0a" stroke-width="1.25" />
<line x1="575.25" y1="631.25" x2="575.25" y2="633.25" stroke="#0a0a0a" stroke-width="1.25" />
<line x1="618.63" y1="631.25" x2="618.63" y2="633.25" stroke="#0a0a0a" stroke-width="1.25" />
<line x1="662.02" y1="631.25" x2="662.02" y2="633.25" stroke="#0a0a0a" stroke-width="1.25" />
<line x1="705.41" y1="631.25" x2="705.41" y2="633.25" stroke="#0a0a0a" stroke-width="1.25" />
<line x1="748.8" y1="631.25" x2="748.8" y2="633.25" stroke="#0a0a0a" stroke-width="1.25" />
<line x1="792.19" y1="631.25" x2="792.19" y2="633.25" stroke="#0a0a0a" stroke-width="1.25" />
<text x="336.6" y="645.4" font-size="10.0" text-anchor="middle" fill="#1c1c1c" >440</text>
<text x="379.99" y="645.4" font-size="10.0" text-anchor="middle" fill="#1c1c1c" >460</text>
<text x="423.38" y="645.4" font-size="10.0" text-anchor="middle" fill="#1c1c1c" >480</text>
<text x="466.77" y="645.4" font-size="10.0" text-anchor="middle" fill="#1c1c1c" >500</text>
<text x="510.16" y="645.4" font-size="10.0" text-anchor="middle" fill="#1c1c1c" >520</text>
<text x="553.55" y="645.4" font-size="10.0" text-anchor="middle" fill="#1c1c1c" >540</text>
<text x="596.94" y="645.4" font-size="10.0" text-anchor="middle" fill="#1c1c1c" >560</text>
<text x="640.33" y="645.4" font-size="10.0" text-anchor="middle" fill="#1c1c1c" >580</text>
<text x="683.72" y="645.4" font-size="10.0" text-anchor="middle" fill="#1c1c1c" >600</text>
<text x="727.11" y="645.4" font-size="10.0" text-anchor="middle" fill="#1c1c1c" >620</text>
<text x="770.5" y="645.4" font-size="10.0" text-anchor="middle" fill="#1c1c1c" >640</text>
<text x="567" y="658.9" font-size="10.0" text-anchor="middle" fill="#1c1c1c" >Wavelength (nm)</text>
<text x="302.6" y="545.3" font-size="10.0" text-anchor="middle" fill="#1c1c1c" transform="rotate(-90 302.6 545.3)" >Normalized intensity (a.u.)</text>
<text x="732.3" y="472.3" font-size="10.0" text-anchor="start" fill="#1c1c1c" >GC-695</text>
<line x1="732.3" y1="482.1" x2="755.4" y2="482.1" stroke="#e93535" stroke-width="1.5" />
<text x="762.2" y="485.6" font-size="10.0" text-anchor="start" fill="#1c1c1c" >1200</text>
<line x1="732.3" y1="494.96" x2="755.4" y2="494.96" stroke="#ee7d2c" stroke-width="1.5" />
<text x="762.2" y="498.46" font-size="10.0" text-anchor="start" fill="#1c1c1c" >1180</text>
<line x1="732.3" y1="507.82" x2="755.4" y2="507.82" stroke="#e8ab30" stroke-width="1.5" />
<text x="762.2" y="511.32" font-size="10.0" text-anchor="start" fill="#1c1c1c" >1140</text>
<line x1="732.3" y1="520.68" x2="755.4" y2="520.68" stroke="#9cc83e" stroke-width="1.5" />
<text x="762.2" y="524.18" font-size="10.0" text-anchor="start" fill="#1c1c1c" >1100</text>
<line x1="732.3" y1="533.54" x2="755.4" y2="533.54" stroke="#4bb03c" stroke-width="1.5" />
<text x="762.2" y="537.04" font-size="10.0" text-anchor="start" fill="#1c1c1c" >1060</text>
<line x1="732.3" y1="546.4" x2="755.4" y2="546.4" stroke="#3cb87c" stroke-width="1.5" />
<text x="762.2" y="549.9" font-size="10.0" text-anchor="start" fill="#1c1c1c" >1020</text>
<line x1="732.3" y1="559.26" x2="755.4" y2="559.26" stroke="#2bb6b4" stroke-width="1.5" />
<text x="762.2" y="562.76" font-size="10.0" text-anchor="start" fill="#1c1c1c" >980</text>
<line x1="732.3" y1="572.12" x2="755.4" y2="572.12" stroke="#3a84d2" stroke-width="1.5" />
<text x="762.2" y="575.62" font-size="10.0" text-anchor="start" fill="#1c1c1c" >940</text>
<line x1="732.3" y1="584.98" x2="755.4" y2="584.98" stroke="#3b3f9e" stroke-width="1.5" />
<text x="762.2" y="588.48" font-size="10.0" text-anchor="start" fill="#1c1c1c" >900</text>
</g>
</svg>
</body>
</html>
